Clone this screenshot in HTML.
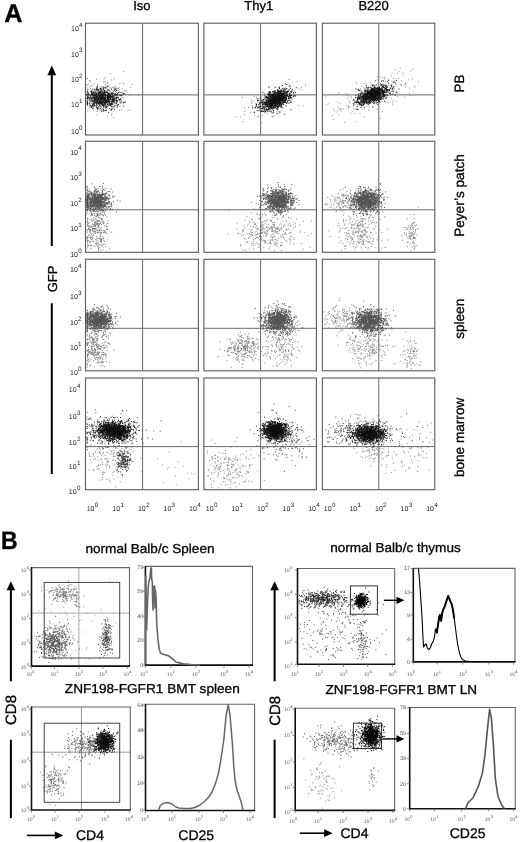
<!DOCTYPE html>
<html><head><meta charset="utf-8"><style>
html,body{margin:0;padding:0;background:#fff;}
svg{display:block;will-change:transform;font-family:"Liberation Sans", sans-serif;text-rendering:geometricPrecision;}
.b{stroke:#000;stroke-width:0.3px;}
</style></head><body>
<svg width="520" height="842" viewBox="0 0 520 842" font-family='"Liberation Sans", sans-serif'>
<rect width="520" height="842" fill="#fff"/>
<path d="M142.6 23.25V135.1M85.5 94.9H198.45" stroke="#606060" stroke-width="0.95"/>
<path d="M260.6 23.25V135.1M203.95 94.9H316.45" stroke="#606060" stroke-width="0.95"/>
<path d="M378.8 23.25V135.1M322.35 94.9H434.8" stroke="#606060" stroke-width="0.95"/>
<path d="M142.6 141.3V252.3M85.5 209.8H198.45" stroke="#606060" stroke-width="0.95"/>
<path d="M260.6 141.3V252.3M203.95 209.8H316.45" stroke="#606060" stroke-width="0.95"/>
<path d="M378.8 141.3V252.3M322.35 209.8H434.8" stroke="#606060" stroke-width="0.95"/>
<path d="M142.6 259.3V370.8M85.5 328.3H198.45" stroke="#606060" stroke-width="0.95"/>
<path d="M260.6 259.3V370.8M203.95 328.3H316.45" stroke="#606060" stroke-width="0.95"/>
<path d="M378.8 259.3V370.8M322.35 328.3H434.8" stroke="#606060" stroke-width="0.95"/>
<path d="M142.6 378.0V489.7M85.5 446.6H198.45" stroke="#606060" stroke-width="0.95"/>
<path d="M260.6 378.0V489.7M203.95 446.6H316.45" stroke="#606060" stroke-width="0.95"/>
<path d="M378.8 378.0V489.7M322.35 446.6H434.8" stroke="#606060" stroke-width="0.95"/>
<path d="M78.9 567.6V666.1M31.5 613.1H129.5" stroke="#aaa" stroke-width="1"/>
<path d="M81.4 707V810M31.5 752.2H130.3" stroke="#999" stroke-width="1"/>
<path d="M123.1 71.6h1m-14.2 1.9h1m-6.2 3.7h1m-19.3 0.8h1m-0.7 0.7h1m15.8 0.3h1m8.9 0.1h1m-18.4 0.2h1m14 0.6h1m-22.8 0.6h1m14.3 1h1m-2.4 0.1h1m-14 0.2h1m16 0.2h1m14.6 1.1h1m-17 0.1h1m11.7 0.1h1m-26.6 0.1h1m28.5 0.5h1m-36.2 0.1h1m15.7 0h1m-19.4 0.3h1m43.9 0.2h1m-35 0.3h1m6.6 0.3h1m-19.3 0.3h1m4.1 0h1m4.2 0.1h1m-7.3 0.6h1m16.1 0h1m6.2 0.1h1m-9.2 0.1h1m-5 0.3h1m2.8 0h1m-6.3 0.3h1m-13.4 0.1h1m10.7 0h1m0.9 0h1m1 0.2h1m0.7 0.1h1m4.7 0h1m0.7 0h1m4 0h1m-14 0.2h1m2.9 0.1h1m19.4 0h1m-44.4 0.3h1m28.2 0h1m-17.5 0.2h1m4.9 0h1m-9.4 0.1h1m5.3 0h1m-1.1 0.1h1m6.8 0h1m4.1 0h1m-26.9 0.2h1m26.7 0h1m-12.1 0.1h1m10.1 0.2h1m-17.5 0.1h1m19.6 0h1m-30.6 0.1h1m8.4 0h1m6 0.3h1m-22.3 0.4h1m4.2 0h1m25.5 0h1m-32 0.1h1m-1.8 0.1h1m16.3 0h1m2.2 0.1h1m-0.7 0h1m15.7 0h1m-12.9 0.2h1m-22.7 0.1h1m2.6 0.2h1m4.7 0.4h1m22.5 0h1m1.8 0.1h1m-35.4 0.1h1m32.5 0.1h1m-24.3 0.1h1m-9.1 0.1h1m3.4 0h1m6.6 0.3h1m-3 0.1h1m4.8 0.1h1m8.3 0.2h1m-33.7 0.1h1m-0.9 0h1m16.7 0h1m10.7 0.1h1m-17.8 0.1h1m22.1 0h1m-29.5 0.1h1m-8.4 0.2h1m31.6 0h1m-12.5 0.1h1m-21.1 0.1h1m10 0h1m5.4 0.1h1m-8.1 0.5h1m23.7 0h1m-22.8 0.2h1m-14.8 0.1h1m12 0.1h1m-4.9 0.2h1m32.2 0h1m-5.4 0.1h1m-31.6 0.1h1m4.2 0h1m-0.3 0h1m12.1 0h1m-10.1 0.2h1m2.7 0.2h1m-22 0.2h1m-1 0h1m12.1 0.1h1m9.1 0h1m-8.3 0.1h1m-6.2 0.1h1m3.1 0h1m6.2 0h1m20.6 0h1m-24.4 0.1h1m7.3 0h1m-14.8 0.1h1m35.5 0h1m-17.7 0.2h1m-24.3 0.1h1m18.6 0h1m-30.1 0.1h1m22.2 0h1m-3.1 0.1h1m-13.2 0.1h1m0.6 0.1h1m7.7 0.1h1m7.8 0h1m-25.9 0.1h1m15.7 0.1h1m-22.4 0.1h1m1.9 0h1m14.8 0h1m-5.5 0.1h1m6.1 0.1h1m-0.4 0h1m-23.3 0.3h1m10.2 0.1h1m18.9 0h1m-15.6 0.1h1m-2.2 0.1h1m4.3 0.1h1m0.3 0h1m12.9 0h1m-20.9 0.1h1m0.3 0h1m8 0h1m-9 0.1h1m0.7 0h1m4.2 0h1m-23.5 0.1h1m13.8 0h1m-2.8 0.3h1m1.3 0h1m8.3 0h1m1.5 0.1h1m2.5 0.3h1m-23.5 0.3h1m19.4 0h1m-6.4 0.2h1m-24.7 0.5h1m15.5 0.3h1m1.8 0h1m-17.4 0.2h1m-1.1 0.1h1m28.1 0h1m-33.2 0.1h1m20.4 0h1m0.8 0.1h1m-22.1 0.1h1m-1 0.1h1m-4.9 0.1h1m19.9 0h1m-4.1 0.2h1m-10 0.4h1m11.5 0.3h1m-21.6 0.2h1m3.3 0h1m21.7 0.1h1m-6.7 0.3h1m15.3 0h1m-30.7 0.2h1m10 0h1m-11.8 0.1h1m8.7 0h1m-2.9 0.1h1m18.5 0h1m-3.3 0.5h1m-17.1 0.1h1m-0.4 0h1m-3.2 0.1h1m16.8 0h1m0 0.1h1m-17.7 0.1h1m10.5 0.1h1m-30.5 0.2h1m0 0.1h1m10.4 0h1m-13.7 0.1h1m11.7 0.1h1m-6 0.1h1m17 0h1m-20.1 0.2h1m11.6 0h1m-19.7 0.4h1m17 0h1m-17 0.2h1m14.3 0.1h1m-0.7 0h1m6 0h1m-18.5 0.1h1m9.7 0h1m10.2 0.3h1m0.7 0h1m-31.5 0.2h1m12 0.4h1m6.8 0.1h1m-8.7 0.3h1m-0.5 0.2h1m17.9 0.1h1m-31.8 0.1h1m6.4 0.1h1m19.6 0.5h1m-16.5 0.1h1m3.6 1.7h1m14.4 0.9h1m5.2 0.1h1m-22.9 0.2h1m22.9 0.1h1m-31.3 0.2h1m1.6 0.1h1m16.4 0h1m-15.2 0.1h1m-19.2 0.3h1m9 0.3h1m13.8 2.4h1m-15.8 1.2h1m13.3 0.1h1m-4.9 2.1h1m5.2 0.1h1" stroke="#888" stroke-width="1" fill="none" opacity="1.0"/>
<path d="M107.5 86.3h1m-11.7 0.2h1m5.7 0.9h1m-8.2 0.2h1m7.4 0.3h1m8.1 0.3h1m-12.1 0.1h1m-3.8 0.2h1m-5.2 0.3h1m-0.3 0.2h1m2.8 0h1m-5 0.1h1m17.4 0h1m-0.7 0.1h1m-22.4 0.1h1m5.6 0h1m-3.7 0.1h1m-0.6 0h1m4 0h1m7.3 0h1m-13.9 0.1h1m3.6 0.1h1m-9.2 0.1h1m11.9 0.2h1m-12.3 0.1h1m-0.4 0.1h1m18.1 0h1m-3 0.1h1m-13.9 0.2h1m2.1 0h1m11.2 0.1h1m-16 0.1h1m-4.2 0.1h1m9.9 0h1m-10.3 0.2h1m5.9 0.1h1m-3.7 0.1h1m-14.6 0.1h1m5.1 0h1m5.1 0h1m-16.4 0.1h1m10.7 0h1m5.6 0h1m8.5 0h1m-25.2 0.1h1m-0.5 0.2h1m7.3 0.1h1m0.6 0.1h1m-7.4 0.1h1m8.2 0h1m8.3 0h1m-21.1 0.1h1m6.3 0.1h1m4 0h1m-2.6 0.1h1m-5.8 0.1h1m1.7 0h1m0.6 0h1m13.8 0h1m-24 0.1h1m24.4 0h1m-28.9 0.1h1m8.7 0h1m2.4 0h1m0.1 0h1m-16.9 0.1h1m6.6 0h1m4.6 0h1m-0.9 0h1m0.8 0h1m-16.1 0.1h1m7.3 0h1m-0.6 0h1m-7.8 0.1h1m3 0h1m0.2 0h1m0.9 0h1m-0.9 0h1m6.2 0h1m3.3 0h1m-0.8 0h1m-19.9 0.1h1m-5.6 0.1h1m9.3 0h1m7.7 0h1m-15.4 0.1h1m6 0h1m0.4 0h1m-6.3 0.1h1m12.3 0h1m1 0h1m-20.7 0.1h1m7 0h1m8.8 0.1h1m-11.9 0.1h1m3.4 0h1m0.7 0h1m7.8 0h1m9.3 0h1m-32.8 0.1h1m3.3 0h1m1.4 0h1m17.6 0h1m-22 0.1h1m10.8 0h1m-21.4 0.1h1m2.9 0h1m2.4 0h1m6.3 0h1m5.2 0h1m2.1 0h1m2.3 0h1m-21.9 0.1h1m6.1 0h1m21 0h1m-30.2 0.1h1m8.4 0h1m-0.2 0h1m-0.9 0h1m2.7 0h1m-0.2 0h1m1.7 0h1m-0.2 0h1m-4.9 0.1h1m-21.1 0.1h1m3.5 0h1m3.6 0h1m5.4 0h1m2.8 0h1m3.1 0h1m2.3 0h1m-14.2 0.1h1m-2.7 0.1h1m-4.1 0.1h1m5 0h1m3.9 0h1m0.9 0h1m12.1 0h1m-37.2 0.1h1m-0.5 0h1m3.1 0h1m7.8 0h1m2.2 0h1m-9.8 0.1h1m0.8 0h1m3.8 0h1m0.6 0h1m13.4 0h1m-28.9 0.1h1m1.9 0h1m5.3 0h1m9.4 0h1m5.2 0h1m0.1 0h1m-21.7 0.1h1m-0.1 0h1m5.2 0h1m-0.5 0h1m-1 0h1m0.4 0h1m-0.6 0h1m-0.8 0h1m-0.7 0h1m10.5 0h1m-29.4 0.1h1m11.1 0h1m-0.5 0h1m-0.3 0h1m-0.8 0h1m2.1 0h1m-0.4 0h1m-0.9 0h1m12.4 0h1m-27.8 0.1h1m2 0h1m-9.6 0.1h1m6.2 0h1m3.7 0h1m1.5 0h1m7.3 0h1m4.6 0h1m5 0h1m-31.1 0.1h1m6.5 0h1m1.4 0h1m0.9 0h1m1.5 0h1m-0.2 0h1m3.3 0h1m9.2 0h1m-28.6 0.1h1m0 0h1m-0.6 0h1m4 0h1m-0.8 0h1m9.5 0h1m-17.4 0.1h1m2 0h1m0.8 0h1m-5.4 0.1h1m4.2 0h1m-0.9 0h1m1.3 0h1m4.9 0h1m-0.4 0h1m-3.8 0.1h1m0.4 0h1m2.8 0h1m-16.7 0.1h1m-0.1 0h1m0 0h1m3.9 0h1m-0.3 0h1m-0.5 0h1m1.2 0h1m7 0h1m7.1 0h1m-31.7 0.1h1m8.1 0h1m9.1 0h1m6.1 0h1m-18.3 0.1h1m3.4 0h1m2.9 0h1m1.3 0h1m-0.9 0h1m1.4 0h1m0.4 0h1m-0.2 0h1m-20.7 0.1h1m7 0h1m1.1 0h1m5.7 0h1m-16 0.1h1m-0.1 0h1m4.1 0h1m4.5 0h1m0.5 0.1h1m1.5 0h1m-17.5 0.1h1m2.5 0h1m4.7 0h1m1.2 0h1m-0.9 0h1m-0.8 0h1m-7.9 0.1h1m0.9 0h1m1.9 0h1m3.8 0h1m-0.7 0h1m-18.2 0.1h1m2.6 0h1m-0.4 0h1m0.5 0h1m0.6 0h1m0.4 0h1m5.6 0h1m-10.1 0.1h1m-0.8 0h1m2.3 0h1m4.4 0h1m0.8 0h1m-14.9 0.1h1m-0.1 0h1m10.7 0h1m1.7 0h1m-0.8 0h1m-0.8 0h1m0.3 0h1m-26.2 0.1h1m4.4 0h1m2.4 0h1m5.3 0h1m-0.7 0h1m6.1 0h1m-11.6 0.1h1m-13.6 0.1h1m2.3 0h1m5.3 0h1m2.7 0h1m10.1 0h1m-20.8 0.1h1m1.3 0h1m0 0h1m12 0h1m1.2 0h1m-24.1 0.1h1m5.2 0h1m-0.4 0h1m2.9 0h1m5.7 0h1m2.2 0h1m0.2 0h1m-0.9 0h1m-21.5 0.1h1m6.4 0h1m5.1 0h1m3.8 0h1m0.1 0h1m0.4 0h1m-14.5 0.1h1m-0.3 0h1m2.8 0h1m7.2 0h1m1 0h1m4.2 0h1m-0.2 0h1m-0.2 0h1m-22 0.1h1m1.5 0h1m1.2 0h1m2.4 0h1m3.1 0h1m-21.4 0.1h1m-0.8 0h1m18.7 0h1m5.5 0h1m-24.8 0.1h1m1.4 0h1m4.7 0h1m1 0h1m10.5 0h1m-19 0.1h1m2 0h1m0.2 0h1m4.7 0h1m-0.2 0h1m-0.8 0h1m0.5 0h1m-0.2 0h1m-16.5 0.1h1m3.3 0h1m2.5 0h1m1.4 0h1m1 0h1m13 0h1m-27.1 0.1h1m5.7 0h1m1.4 0h1m-15.4 0.1h1m4.6 0h1m1.7 0h1m0.2 0h1m4.4 0h1m-0.7 0h1m-0.4 0h1m-0.4 0h1m2.5 0h1m-17.4 0.1h1m3.1 0h1m2.1 0h1m1.5 0h1m0 0h1m0.8 0h1m0.5 0h1m7.8 0h1m-24.3 0.1h1m10.2 0h1m-0.4 0h1m4.7 0h1m1.9 0h1m-24.6 0.1h1m-0.5 0h1m2.6 0h1m2.9 0h1m1.9 0h1m2.2 0h1m0.7 0h1m-0.3 0h1m0.9 0h1m1.5 0h1m-0.9 0h1m7.3 0h1m-19.2 0.1h1m-0.2 0h1m5.1 0h1m4.3 0h1m-1 0h1m1.1 0h1m-23.9 0.1h1m5.2 0h1m0.5 0h1m2.3 0h1m-0.1 0h1m-0.4 0h1m4.8 0h1m-0.5 0h1m5.8 0h1m4.5 0h1m-23.2 0.1h1m-0.7 0h1m9.4 0h1m-15.9 0.1h1m-0.8 0h1m2.8 0h1m-0.7 0h1m14.2 0h1m-0.6 0h1m-0.3 0h1m-28.5 0.1h1m5.3 0h1m6.3 0h1m-0.2 0h1m-0.8 0h1m2 0h1m4.2 0h1m-21.4 0.1h1m6.2 0h1m5.4 0h1m-0.5 0h1m2.9 0h1m2.1 0h1m-8.9 0.1h1m2.8 0h1m-0.2 0h1m4.6 0h1m-19.4 0.1h1m2.6 0h1m-0.8 0h1m0.5 0h1m2.6 0h1m0.6 0h1m14.4 0h1m-21.5 0.1h1m0 0h1m-0.2 0h1m9.1 0h1m-16.6 0.1h1m-0.4 0h1m2.2 0h1m-0.5 0h1m0.4 0h1m-0.6 0h1m1.1 0h1m-0.8 0h1m-0.5 0h1m2 0h1m-12.9 0.1h1m13.9 0h1m0.5 0h1m5.5 0h1m-25 0.1h1m0.7 0h1m2.6 0h1m-0.4 0h1m2.5 0h1m2.8 0h1m0.8 0h1m2.6 0h1m-20.8 0.1h1m8 0h1m-12.6 0.1h1m2 0h1m2.8 0h1m1 0h1m6.3 0h1m7.8 0h1m2.2 0h1m-24.2 0.1h1m-1 0h1m0.6 0h1m0.7 0h1m2.8 0h1m-0.2 0h1m0.8 0h1m0.6 0h1m0 0h1m4.3 0h1m3.9 0h1m-27.8 0.1h1m2.4 0h1m12.1 0h1m-14.7 0.1h1m-1 0h1m9.3 0h1m7.8 0h1m-0.8 0h1m-20.1 0.1h1m3.6 0h1m4 0h1m2.6 0h1m5.5 0h1m0.3 0h1m-18.2 0.1h1m4.9 0h1m-0.7 0h1m1.1 0h1m4.7 0h1m3.7 0h1m-21.3 0.1h1m1.2 0h1m1.2 0h1m9.8 0h1m2.3 0h1m-23.9 0.1h1m3.3 0h1m2.2 0h1m7.3 0h1m-22.5 0.1h1m4.5 0h1m3.5 0h1m1.3 0h1m5.2 0h1m-16.8 0.1h1m9.7 0h1m2.3 0h1m0.4 0h1m-0.8 0h1m-0.1 0h1m-7.5 0.1h1m2.5 0h1m-0.8 0h1m-0.3 0h1m7 0h1m0.3 0h1m-21.9 0.1h1m1.3 0h1m3.3 0h1m2.9 0h1m8.8 0h1m-13.4 0.1h1m5.3 0h1m1.7 0h1m-13.7 0.1h1m1.2 0h1m2.1 0h1m-0.5 0h1m2.9 0h1m0.5 0h1m5.4 0h1m1.3 0h1m3.5 0h1m-22.7 0.1h1m2.1 0h1m1.6 0h1m4.4 0h1m-16.8 0.1h1m1.2 0h1m-0.3 0h1m1.7 0h1m5.7 0h1m4.3 0h1m-11.8 0.1h1m4.4 0h1m0.7 0h1m-0.5 0h1m-15.7 0.1h1m6.1 0h1m-0.8 0h1m3.6 0h1m-0.8 0h1m4.3 0h1m-0.7 0h1m-23.3 0.1h1m11.3 0h1m2.8 0h1m0.6 0h1m-15.6 0.1h1m3.2 0h1m-0.7 0h1m3.2 0h1m2.4 0h1m11.1 0h1m-31.4 0.1h1m4 0h1m0.2 0h1m2 0h1m8.9 0h1m9.4 0h1m-12.2 0.1h1m7.1 0h1m-20.2 0.1h1m14.5 0h1m9.3 0h1m-24.2 0.1h1m2.7 0h1m4.3 0h1m2.5 0h1m1.4 0h1m-0.9 0h1m0.3 0h1m10 0h1m0 0h1m-27 0.1h1m4.6 0h1m0.5 0h1m-19.8 0.1h1m6.6 0h1m2.6 0h1m-1 0h1m0 0h1m-0.4 0h1m4.7 0h1m-8 0.1h1m0.3 0h1m0.8 0h1m0.9 0h1m-17.4 0.1h1m8.4 0h1m-0.5 0h1m1.4 0h1m7 0h1m0.6 0h1m-12.1 0.1h1m1.8 0h1m1.9 0.1h1m9.7 0h1m0.5 0h1m6.5 0h1m-28.7 0.1h1m5.3 0h1m0.4 0h1m-15.2 0.1h1m6.5 0h1m2.1 0h1m1.2 0h1m0.9 0h1m-0.5 0h1m1.9 0h1m-0.3 0h1m-12.2 0.1h1m2.7 0h1m-6.9 0.1h1m2.6 0h1m0.1 0h1m1.4 0h1m-8.8 0.1h1m-0.7 0h1m16.4 0h1m-18.8 0.1h1m7.1 0h1m-4.3 0.1h1m16.3 0h1m-29.8 0.1h1m5.4 0h1m1.5 0h1m4.4 0h1m-0.8 0h1m2.3 0h1m4.1 0h1m-0.3 0h1m-20.1 0.1h1m0.3 0h1m5.9 0h1m0 0h1m3.1 0h1m-0.2 0h1m-4.8 0.1h1m6.7 0h1m-6.6 0.1h1m-15.5 0.1h1m5.8 0h1m0.7 0h1m-0.2 0h1m11.8 0h1m0.1 0h1m-17.2 0.1h1m3 0h1m3.2 0h1m5.9 0h1m-13.7 0.1h1m8.9 0h1m-0.6 0h1m-2.9 0.1h1m3.6 0h1m5.5 0h1m-17.6 0.1h1m-0.5 0h1m7.9 0h1m-8.9 0.1h1m5.8 0h1m-24.1 0.1h1m17.3 0h1m3.6 0h1m-17.5 0.1h1m7.3 0h1m4.7 0h1m-1 0.1h1m9.2 0h1m-26 0.1h1m-1.4 0.1h1m1.1 0h1m14.4 0h1m-14.2 0.2h1m19.3 0h1m-16 0.1h1m0.1 0h1m6.4 0h1m-20.9 0.1h1m12.4 0h1m9.8 0h1m-23.3 0.1h1m1.5 0h1m1 0h1m1.6 0.1h1m-10.3 0.1h1m2.4 0h1m14.1 0h1m-6.1 0.1h1m1.9 0h1m3.3 0h1m-20.2 0.2h1m10.5 0h1m-9.7 0.1h1m7.9 0h1m0.5 0h1m17.7 0h1m-10.5 0.1h1m-11.8 0.1h1m-12.8 0.1h1m0.2 0h1m5.1 0.1h1m12 0.1h1m4.4 0.1h1m-6.3 0.1h1m-5.7 0.1h1m-11.9 0.1h1m6.3 0h1m0.8 0h1m0.1 0h1m6.3 0.1h1m-24.7 0.2h1m0.2 0.1h1m14 0h1m-10.4 0.3h1m-0.3 0.2h1m-1.1 0.1h1m6.6 0h1m-12.8 0.1h1m4.7 0h1m0.4 0h1m-4.4 0.1h1m-5.6 0.2h1m15.9 0h1m1.7 0.1h1m-14.8 0.3h1m2.8 0.1h1m-5.5 0.2h1m4.8 0h1m9.9 0.2h1m-3.7 0.1h1m-9.1 0.6h1m6.4 0h1m-10.7 0.2h1m8.8 0h1m-7.1 0.1h1m0.4 0.3h1m-3.6 0.6h1m-2.9 0.5h1m5.8 0.7h1" stroke="#1a1a1a" stroke-width="1" fill="none" opacity="1.0"/>
<path d="M288.7 79.5h1m7 1.7h1m-6 1.4h1m-5 0.5h1m16.3 1.8h1m-36.8 1.6h1m3.3 0.2h1m4.7 0.1h1m21 0.8h1m-4.1 0.6h1m-13 0.9h1m13 0.5h1m-12.1 0.2h1m-7.7 0.3h1m-0.1 0.7h1m7.3 0.1h1m-17.9 0.3h1m17.9 0h1m-14.7 0.2h1m-6.4 0.4h1m-0.3 0.5h1m12.5 0.4h1m-17.2 0.1h1m5.4 0.2h1m-10 0.2h1m-6.5 0.1h1m-1.6 0.7h1m6 0h1m-0.4 0h1m10.2 0.2h1m2.4 0.1h1m-20.2 0.1h1m11.4 0h1m11.3 0h1m-1.4 0.3h1m-23.6 0.2h1m7.4 0h1m17.1 0.1h1m-21.5 0.1h1m5.6 0h1m-11.2 0.1h1m12.9 0h1m-14.8 0.1h1m0.4 0h1m3.5 0h1m9.6 0.1h1m5.6 0.1h1m-18 0.1h1m6.1 0.4h1m-5.3 0.2h1m-20.3 0.1h1m11 0h1m4.7 0.1h1m-25.6 0.1h1m16 0h1m-0.5 0.3h1m16.2 0h1m-24.9 0.4h1m8.2 0h1m5.2 0h1m4.8 0h1m-30.8 0.1h1m11.7 0h1m-27.7 0.1h1m35.4 0h1m0.6 0.1h1m10.4 0h1m-20.2 0.1h1m7.6 0h1m-14.7 0.3h1m-0.9 0h1m10 0.1h1m-21.2 0.1h1m2.5 0h1m4.4 0h1m23.9 0.1h1m-13.6 0.1h1m-10.7 0.2h1m-4.6 0.1h1m18.1 0h1m-8.4 0.1h1m1.2 0h1m-8.8 0.1h1m-3 0.1h1m6.9 0h1m-3.6 0.2h1m-17.7 0.1h1m12.2 0h1m0 0.1h1m18.1 0.2h1m-22 0.2h1m9.4 0.1h1m4 0h1m-36.4 0.4h1m18.7 0.1h1m6.7 0.3h1m10.3 0.1h1m-0.7 0h1m-33.6 0.2h1m14.4 0.1h1m2 0h1m-2.1 0.3h1m-22.1 0.1h1m13.4 0h1m3.2 0h1m-0.6 0.3h1m10.5 0.3h1m-12.4 0.2h1m6.5 0h1m-30.1 0.1h1m39.4 0.1h1m-18.5 0.1h1m-0.4 0.1h1m-2.8 0.1h1m-16.1 0.2h1m7.3 0h1m16.3 0.1h1m-14.5 0.1h1m6.9 0h1m-26.8 0.1h1m22.1 0h1m1.6 0h1m-14.6 0.2h1m0 0.1h1m8.4 0h1m6.6 0.1h1m-27.8 0.3h1m-0.1 0h1m3.4 0h1m21.4 0h1m-20.4 0.1h1m-2.2 0.6h1m18 0.1h1m-7.8 0.3h1m-15.1 0.2h1m8.8 0h1m-19.2 0.4h1m45.1 0h1m-24.9 0.1h1m-6.7 0.1h1m-8.7 0.2h1m41.3 0h1m-31.1 0.2h1m1.6 0h1m-18.6 0.4h1m-0.6 0.1h1m9 0.2h1m11 0h1m-7.8 0.1h1m-3.3 0.1h1m-18.5 0.2h1m20.3 0h1m-6.1 0.1h1m-22.6 0.1h1m9.9 0.4h1m13.8 0h1m-30.6 0.1h1m19.2 0.3h1m7.4 0.1h1m0 0h1m7.6 0h1m-19.4 0.3h1m-11.2 0.1h1m4.4 0h1m10.5 0.6h1m-6.8 0.5h1m-7 0.1h1m21.5 0.2h1m-9.6 0.2h1m-15.9 0.3h1m10.9 0.6h1m-26.4 0.2h1m31.1 0.2h1m-15.9 0.1h1m1.4 0.3h1m14.9 0h1m-31.1 0.1h1m1.7 0h1m16.9 0.3h1m1 0h1m-9.6 0.4h1m1.7 0.3h1m4.2 0h1m5.8 0.5h1m4.5 0.2h1m-0.9 0.6h1m-41.3 0.2h1m9.5 0.5h1m6.5 0.6h1m-5.1 0.4h1m13 0.2h1m0.7 0h1m-2.6 0.2h1m-37.1 0.1h1m3.5 0.2h1m15.9 0.2h1m2 4.2h1m-18.6 0.3h1m17.5 1.2h1" stroke="#888" stroke-width="1" fill="none" opacity="1.0"/>
<path d="M284.9 83.8h1m0.4 0.7h1m1.5 0.9h1m-8 0.2h1m7 0.8h1m-12.4 0.8h1m-11 0.1h1m5.5 0.3h1m19.8 0.1h1m-17.6 0.4h1m4.7 0h1m-3.9 0.2h1m7.3 0h1m-4.9 0.2h1m-8.6 0.2h1m4.3 0.2h1m-2.4 0.1h1m8.1 0.3h1m-9 0.3h1m-7.1 0.2h1m6.6 0h1m2.2 0.1h1m-12.5 0.2h1m3 0h1m-2 0.1h1m2.3 0.2h1m-3.2 0.2h1m-3.5 0.1h1m0.9 0h1m-7.3 0.2h1m1.9 0h1m6.1 0h1m-9.9 0.1h1m11.2 0h1m3.2 0.1h1m-15.3 0.1h1m4.5 0h1m-11.4 0.1h1m4.1 0h1m-0.5 0h1m-1.6 0.1h1m1.1 0h1m5.3 0h1m0.9 0h1m-19.9 0.1h1m9.4 0h1m4.4 0h1m1.2 0h1m-0.7 0h1m-0.7 0h1m-15 0.1h1m11.6 0h1m-0.6 0h1m-15.1 0.1h1m-0.1 0h1m7.1 0h1m0.6 0.1h1m3 0h1m2.6 0h1m-21.8 0.1h1m3.7 0h1m4.2 0h1m1.2 0h1m7.4 0h1m-11.9 0.1h1m0.2 0h1m1 0h1m-4.2 0.1h1m3.2 0h1m-0.7 0h1m1.9 0.1h1m3.2 0h1m-29.5 0.1h1m11.1 0h1m4.5 0h1m-11.1 0.2h1m5.6 0h1m2.7 0h1m13.8 0h1m-19.5 0.1h1m7.8 0h1m0.8 0h1m-13.6 0.1h1m3.7 0h1m5.8 0h1m-18.2 0.2h1m-0.8 0h1m7.9 0h1m14 0h1m-15.3 0.1h1m3.8 0h1m-16.6 0.1h1m8.7 0h1m-0.6 0h1m2.5 0h1m2.3 0h1m7.6 0h1m-17.6 0.1h1m2.4 0h1m-0.7 0h1m-8.8 0.1h1m3.2 0h1m0.5 0h1m1.1 0h1m4 0h1m-7.6 0.1h1m-0.7 0h1m6.1 0h1m-17.8 0.1h1m12.5 0h1m-1.9 0.1h1m2.6 0h1m3 0h1m-16.1 0.1h1m0.6 0h1m3.2 0h1m-0.5 0h1m-6.3 0.1h1m1.6 0h1m1.3 0h1m7.7 0h1m-16.3 0.1h1m-0.7 0h1m0.3 0h1m1.5 0h1m5.2 0h1m-5.2 0.1h1m-7.9 0.1h1m2.6 0h1m1.1 0h1m0.6 0h1m3 0h1m1.2 0h1m-17.9 0.1h1m3.8 0h1m8 0h1m-11.2 0.1h1m1.2 0h1m1.6 0h1m2.5 0h1m-0.6 0h1m-0.5 0h1m-0.5 0h1m-16.5 0.1h1m10 0h1m-11.4 0.1h1m1.4 0h1m1.1 0h1m9.6 0h1m2.9 0h1m-18.7 0.1h1m1.8 0h1m7.8 0h1m0.5 0h1m5.3 0h1m-21.9 0.1h1m8.3 0h1m-0.4 0h1m-0.4 0h1m-0.7 0h1m-8.6 0.1h1m3.1 0h1m-0.3 0h1m-0.9 0h1m4 0h1m2.2 0h1m2.1 0h1m-19.5 0.1h1m2.4 0h1m-0.9 0h1m6.4 0h1m-9.1 0.1h1m3.1 0h1m3.8 0h1m-0.6 0h1m0.7 0h1m3.5 0h1m-12.8 0.1h1m0.7 0h1m-0.1 0h1m0 0h1m-0.4 0h1m-0.9 0h1m1.1 0h1m0.8 0h1m-16.1 0.1h1m14.6 0h1m4.4 0h1m-20.2 0.1h1m-0.4 0h1m0.9 0h1m1.2 0h1m1.3 0h1m-0.5 0h1m2.8 0h1m-0.3 0h1m-0.9 0h1m1.8 0h1m-13.4 0.1h1m-1 0h1m-0.4 0h1m2.7 0h1m3 0h1m-0.7 0h1m7.3 0h1m0.4 0h1m2.6 0h1m-21.9 0.1h1m3.4 0h1m6.9 0h1m2.1 0h1m-21.4 0.1h1m3.7 0h1m-3.6 0.1h1m6.6 0h1m-0.7 0h1m0.7 0h1m3 0h1m1.4 0h1m-12.2 0.1h1m3.2 0h1m-0.7 0h1m1.6 0h1m6.6 0h1m1.4 0h1m-29.4 0.1h1m7.1 0h1m0.1 0h1m2.4 0h1m2.4 0h1m3.6 0h1m-0.2 0h1m-13.5 0.1h1m-0.2 0h1m0 0h1m-0.9 0h1m1.6 0h1m11.4 0h1m-17 0.1h1m-0.2 0h1m11 0h1m-11.8 0.1h1m-9 0.1h1m5.2 0h1m1.9 0h1m2.3 0h1m0.6 0h1m0.6 0h1m-0.5 0h1m4.3 0h1m4.1 0h1m-29.4 0.1h1m2.7 0h1m1.7 0h1m0.5 0h1m3.7 0h1m-0.7 0h1m2.8 0h1m1.8 0h1m-17.1 0.1h1m17.2 0h1m-23.1 0.1h1m9.1 0h1m1 0h1m2 0h1m0.9 0h1m9.3 0h1m-14.3 0.1h1m0.4 0h1m0.6 0h1m-13.8 0.1h1m1.5 0h1m1.3 0h1m1 0h1m2.9 0h1m-7.4 0.1h1m0.6 0h1m1.3 0h1m6.2 0h1m3.5 0h1m-20 0.1h1m1.4 0h1m-0.4 0h1m-0.7 0h1m2.6 0h1m-0.6 0h1m2.4 0h1m2.8 0h1m-19.6 0.1h1m0.3 0h1m1.6 0h1m-0.6 0h1m2.4 0h1m2.2 0h1m2 0h1m7.5 0h1m-24.9 0.1h1m1.4 0h1m4.3 0h1m1.5 0h1m0.9 0h1m-1 0h1m0.6 0h1m0.4 0h1m-0.5 0h1m0.6 0h1m0.5 0h1m-0.7 0h1m-15.5 0.1h1m0 0h1m0.3 0h1m2.1 0h1m3.1 0h1m-0.7 0h1m0.6 0h1m0.6 0h1m-17.6 0.1h1m2.6 0h1m-0.1 0h1m6.4 0h1m3.9 0h1m-12.7 0.1h1m1.5 0h1m-0.6 0h1m5 0h1m3.6 0h1m4.2 0h1m-0.1 0h1m-26.4 0.1h1m8.1 0h1m-0.6 0h1m0.4 0h1m1.9 0h1m-1 0h1m0.1 0h1m6.9 0h1m-18.9 0.1h1m-0.9 0h1m0.4 0h1m-0.8 0h1m5 0h1m-11.6 0.1h1m13.5 0h1m2.3 0h1m-0.1 0h1m-17.3 0.1h1m3.1 0h1m2.1 0h1m1.5 0h1m-0.1 0h1m-0.8 0h1m0.9 0h1m-0.5 0h1m-17.8 0.1h1m0.5 0h1m1.9 0h1m10.9 0h1m-0.7 0h1m-23.9 0.1h1m11.7 0h1m2.1 0h1m0.6 0h1m0.5 0h1m0.8 0h1m3 0h1m4.7 0h1m-0.6 0h1m-17.2 0.1h1m0.7 0h1m1.7 0h1m-0.6 0h1m-0.9 0h1m4.2 0h1m-12.4 0.1h1m7.3 0h1m3.6 0h1m-13.2 0.1h1m-0.8 0h1m8.9 0h1m-8.2 0.1h1m-8.3 0.1h1m-0.7 0h1m2.1 0h1m-0.2 0h1m0.6 0h1m4.9 0h1m1.6 0h1m1.6 0h1m0.7 0h1m-0.5 0h1m-22.4 0.1h1m-0.6 0h1m5.6 0h1m1.6 0h1m0.6 0h1m-0.3 0h1m2.9 0h1m2.1 0h1m-30.5 0.1h1m9.9 0h1m5.2 0h1m3 0h1m1.4 0h1m0.1 0h1m-0.4 0h1m-18.6 0.1h1m2.9 0h1m4.2 0h1m0.4 0h1m-0.4 0h1m0.2 0h1m0.3 0h1m-0.3 0h1m0.7 0h1m3.4 0h1m-14.3 0.1h1m0.7 0h1m4.2 0h1m0.6 0h1m0.2 0h1m-0.8 0h1m0.8 0h1m4.7 0h1m-19.5 0.1h1m0.2 0h1m-0.7 0h1m2.5 0h1m2 0h1m0 0h1m-0.3 0h1m0.1 0h1m-0.4 0h1m0.3 0h1m-14.7 0.1h1m2.1 0h1m2.3 0h1m-1 0h1m0 0h1m1.1 0h1m0.2 0h1m-0.1 0h1m-0.6 0h1m-14.4 0.1h1m0.8 0h1m-0.8 0h1m1.3 0h1m-1 0h1m0.6 0h1m3.2 0h1m-0.7 0h1m-7.6 0.1h1m4.6 0h1m4.4 0h1m-20.4 0.1h1m8.9 0h1m4.2 0h1m-0.5 0h1m1.6 0h1m-16.9 0.1h1m6.8 0h1m0.4 0h1m0.2 0h1m-0.6 0h1m3.1 0h1m3.6 0h1m-15.9 0.1h1m1.9 0h1m1.7 0h1m-0.5 0h1m4 0h1m-0.3 0h1m-12.7 0.1h1m-0.2 0h1m1.5 0h1m3.5 0h1m0.3 0h1m1.8 0h1m2.9 0h1m-24.5 0.1h1m-0.2 0h1m7.9 0h1m-0.7 0h1m5.1 0h1m4.9 0h1m-11.3 0.1h1m-0.5 0h1m3.3 0h1m0.1 0h1m-14.4 0.1h1m2.2 0h1m-0.5 0h1m-0.1 0h1m1.6 0h1m-0.2 0h1m-0.3 0h1m-0.9 0h1m-0.7 0h1m0.9 0h1m0.8 0h1m1.5 0h1m1.3 0h1m-24.3 0.1h1m9.6 0h1m-0.5 0h1m1.4 0h1m0.7 0h1m1.3 0h1m1 0h1m-1 0h1m1.2 0h1m1.4 0h1m-28.9 0.1h1m11 0h1m-0.4 0h1m1.4 0h1m0.7 0h1m5 0h1m0.3 0h1m0.2 0h1m0.4 0h1m-12.6 0.1h1m-0.5 0h1m5.5 0h1m-14.5 0.1h1m-0.7 0h1m0.8 0h1m-0.5 0h1m-0.8 0h1m2.1 0h1m-0.7 0h1m-0.4 0h1m1.8 0h1m-0.1 0h1m-0.3 0h1m5 0h1m0.1 0h1m2.5 0h1m-15.8 0.1h1m2.8 0h1m-0.6 0h1m-0.8 0h1m0.2 0h1m-0.1 0h1m5.2 0h1m-28.9 0.1h1m11.6 0h1m-0.6 0h1m1.2 0h1m-0.3 0h1m0 0h1m4 0h1m-0.9 0h1m-0.6 0h1m2.1 0h1m0.9 0h1m2.4 0h1m-30.9 0.1h1m13.8 0h1m-0.2 0h1m2.8 0h1m6.3 0h1m-24.8 0.1h1m4 0h1m1.1 0h1m2.3 0h1m0.4 0h1m0.5 0h1m0 0h1m2.7 0h1m-17 0.1h1m3.3 0h1m-0.4 0h1m0.1 0h1m0.5 0h1m1.1 0h1m0.5 0h1m-1 0h1m1.1 0h1m-0.7 0h1m-9.8 0.1h1m-0.3 0h1m1.5 0h1m1.9 0h1m-0.7 0h1m0.7 0h1m0 0h1m-0.6 0h1m0.7 0h1m3.2 0h1m-15.3 0.1h1m1 0h1m-0.3 0h1m8.5 0h1m3 0h1m4.3 0h1m-20.7 0.1h1m1.2 0h1m0.3 0h1m-0.8 0h1m0.8 0h1m2.4 0h1m-19 0.1h1m3.7 0h1m0.5 0h1m4.7 0h1m2.5 0h1m1.2 0h1m3.5 0h1m-18.4 0.1h1m1.8 0h1m-0.6 0h1m-4.2 0.1h1m1.4 0h1m-0.2 0h1m-0.6 0h1m-0.6 0h1m6 0h1m0.2 0h1m2.5 0h1m-14.9 0.1h1m4.5 0h1m3.2 0h1m-11 0.1h1m0.7 0h1m0.8 0h1m-0.8 0h1m0 0h1m13.4 0h1m-21.3 0.1h1m1.9 0h1m3 0h1m0.1 0h1m0.4 0h1m-14.6 0.1h1m2.2 0h1m6 0h1m0.4 0h1m4.8 0h1m1.9 0h1m-19.8 0.1h1m-0.6 0h1m1.1 0h1m7.6 0h1m-0.2 0h1m1.6 0h1m0.8 0h1m-14.7 0.1h1m2.5 0h1m2.3 0h1m-0.2 0h1m4.1 0h1m-13.1 0.1h1m3.1 0h1m2 0h1m1.1 0h1m0.5 0h1m1.5 0h1m-8.5 0.1h1m3.6 0h1m-0.6 0h1m6.1 0h1m-20.8 0.1h1m-0.9 0h1m0.4 0h1m7 0h1m2.1 0h1m-0.7 0h1m0.2 0h1m-0.9 0h1m1.1 0h1m0.4 0h1m0.1 0h1m4.7 0h1m-29.7 0.1h1m0 0h1m0.7 0h1m0.7 0h1m3.2 0h1m0.2 0h1m1.7 0h1m-0.9 0h1m-6.6 0.1h1m2 0h1m0.8 0h1m-0.7 0h1m-0.7 0h1m0.8 0h1m10.5 0h1m-23 0.1h1m4.2 0h1m1.9 0h1m3.7 0h1m0.7 0h1m1 0h1m-20.4 0.1h1m-0.1 0h1m2.4 0h1m4.6 0h1m-0.9 0h1m-0.3 0h1m3.9 0h1m0.1 0h1m-0.5 0h1m-20.8 0.1h1m-0.2 0h1m3.8 0h1m7.5 0h1m2.7 0h1m-0.2 0h1m-12.8 0.1h1m2.5 0h1m0 0h1m0.2 0h1m1.2 0h1m-1 0h1m-0.5 0h1m1.5 0h1m-1 0h1m0.8 0h1m-10.2 0.1h1m-0.9 0h1m-0.9 0h1m6.2 0h1m-0.6 0h1m-10.9 0.1h1m1.6 0h1m0.5 0h1m0.7 0h1m-1 0h1m1.2 0h1m12 0h1m-29.7 0.1h1m5.2 0h1m7 0h1m5.1 0h1m5 0h1m-15 0.1h1m-0.3 0h1m2.3 0h1m1.4 0h1m0.4 0h1m-17.1 0.1h1m10.6 0h1m5.3 0h1m-15.1 0.1h1m-0.2 0h1m0.6 0.1h1m0.4 0h1m-0.4 0h1m2.1 0h1m1.6 0h1m-8.9 0.1h1m0 0h1m0.4 0h1m0.2 0h1m2 0h1m-12 0.1h1m2.2 0h1m4.9 0h1m0.4 0h1m-10.9 0.1h1m0.6 0h1m-0.8 0h1m0.2 0h1m-0.4 0h1m1 0h1m0.6 0h1m2.9 0h1m3.1 0h1m-23.5 0.1h1m2.7 0h1m-0.3 0h1m2.3 0h1m0.3 0h1m6.9 0h1m2.6 0h1m-0.1 0h1m1.4 0h1m-24.9 0.1h1m5.7 0h1m5.1 0h1m-0.2 0h1m-6.2 0.1h1m2 0h1m1.3 0h1m5.4 0h1m3.6 0h1m-28.2 0.1h1m6.7 0h1m4.2 0h1m0.6 0h1m-0.5 0h1m2.7 0h1m3.3 0h1m-14.1 0.1h1m3.9 0h1m0.2 0h1m2.8 0h1m-11.4 0.1h1m0.2 0h1m9.3 0h1m-12.3 0.1h1m-4.6 0.1h1m7.4 0h1m6.6 0h1m1.8 0h1m-10.5 0.1h1m-0.1 0h1m0.9 0h1m1.8 0h1m-13.2 0.1h1m-0.3 0h1m2.7 0h1m-0.1 0h1m-0.9 0h1m-0.4 0.1h1m9.2 0h1m-13.6 0.1h1m-0.2 0h1m1 0h1m2.5 0h1m4.3 0h1m-8.8 0.1h1m0.6 0.1h1m-5 0.1h1m-1 0h1m-0.1 0h1m-0.5 0h1m-0.8 0h1m3.7 0h1m2 0h1m-13 0.1h1m0.8 0h1m5.5 0h1m-4.7 0.1h1m0 0h1m-0.1 0h1m11 0h1m-30.6 0.1h1m5.3 0h1m7.9 0h1m4.1 0h1m-0.4 0h1m3 0h1m-17.4 0.1h1m3.6 0h1m-9.8 0.1h1m14 0h1m2.1 0h1m-0.7 0h1m-24 0.1h1m2.4 0h1m6.9 0h1m7.4 0h1m0.9 0h1m-12.2 0.1h1m1.4 0h1m1.7 0h1m0.5 0h1m-6.4 0.1h1m9.4 0h1m-7.3 0.1h1m-12.1 0.1h1m1.3 0h1m5.2 0h1m0.1 0h1m-0.8 0h1m-0.3 0h1m2.4 0.1h1m3 0h1m-10.2 0.1h1m2.9 0h1m2.7 0h1m3.5 0h1m-18.9 0.1h1m2.9 0h1m0.4 0h1m-4.9 0.1h1m4.4 0.1h1m10.7 0h1m-17.4 0.1h1m-0.9 0h1m7.3 0h1m0.4 0h1m3.8 0h1m-2.9 0.1h1m-21.3 0.1h1m11.2 0h1m5.8 0h1m-22.6 0.1h1m16.9 0h1m-10.7 0.1h1m12.8 0h1m-19.4 0.1h1m3.9 0h1m6.4 0h1m-0.2 0h1m-15.7 0.1h1m10.2 0h1m-17.2 0.1h1m18.7 0h1m-4.3 0.1h1m4.9 0h1m-13.6 0.2h1m-0.9 0h1m7.5 0.2h1m0 0h1m0.7 0h1m-12.2 0.1h1m-2 0.1h1m7.3 0.2h1m6 0h1m-0.5 0h1m-14.2 0.1h1m3.5 0h1m-6.6 0.1h1m2.4 0h1m2.7 0h1m1.5 0.1h1m4.5 0h1m-14.3 0.1h1m11.6 0h1m-11.6 0.1h1m-0.8 0h1m-0.1 0.1h1m-0.2 0.2h1m-2.1 0.3h1m22.6 0h1m-27.4 0.1h1m4.4 0.3h1m2.5 0h1m-17.4 0.2h1m8.8 0h1m5.6 0.4h1m-12.9 0.2h1m2.6 0h1m-6.1 0.1h1m1.5 0h1m5.4 0h1m-8.5 0.1h1m0.9 0h1m-0.5 0h1m0.6 0.3h1m-1 0h1m0.8 0h1m2.9 0h1m7.1 0.4h1m-25.8 0.3h1m18.1 0.1h1m2.3 1.2h1" stroke="#111" stroke-width="1" fill="none" opacity="1.0"/>
<path d="M399.8 68.4h1m11.5 0.8h1m-18.3 0.7h1m13.9 1.1h1m-12.5 0.7h1m3 1.1h1m-11.8 0.3h1m4.6 0.3h1m4.1 1.2h1m-12.7 1h1m-8.2 1.2h1m-7.6 0.1h1m1.9 0.2h1m3.4 0.4h1m-3.1 0.7h1m9.8 0.1h1m4.2 0h1m-2.8 0.3h1m-13.2 0.2h1m27 0.1h1m-35.4 0.9h1m29.5 0.1h1m-32.5 0.2h1m4.4 0.4h1m17.6 0.4h1m-10.1 0.6h1m25.4 0.3h1m-63.1 0.3h1m28.4 0h1m-8.2 0.1h1m-9.2 0.5h1m6 0.6h1m-13.8 0.2h1m-8.7 0.1h1m37.8 0.1h1m-30.9 0.2h1m17.1 0.3h1m11.3 0h1m4.6 0.4h1m-29.1 0.2h1m25.9 0h1m-25.2 0.2h1m11.8 0.1h1m-19.3 0.1h1m12.4 0h1m19.4 0h1m-31.8 0.4h1m40.3 0.4h1m-14.5 0.1h1m-40.9 0.3h1m18.4 0h1m12.4 0h1m-8.7 0.2h1m-4.5 0.1h1m3.2 0h1m-21.9 0.1h1m37.9 0.2h1m7.9 0.3h1m-43.9 0.2h1m-8.7 0.3h1m16.7 0h1m-2.6 0.2h1m4.9 0.2h1m22.8 0h1m-45.8 0.3h1m-5.4 0.2h1m15.6 0.1h1m-22.3 0.1h1m-0.2 0h1m33.5 0h1m2.6 0h1m3.8 0h1m-1.9 0.2h1m-43.8 0.2h1m3.8 0h1m4.1 0.1h1m0.3 0.4h1m10.8 0h1m8 0h1m-13.4 0.5h1m-17.6 0.1h1m27 0h1m5.9 0h1m-2.6 0.1h1m0.1 0.1h1m-18 0.2h1m5 0.1h1m-1.1 0.1h1m4.6 0h1m-28.8 0.5h1m10.6 0h1m8.4 0h1m-3.7 0.1h1m12.1 0.1h1m21.8 0h1m-37.7 0.1h1m-22.5 0.1h1m39.6 0h1m0 0.2h1m-37.7 0.1h1m34.4 0h1m-20.3 0.2h1m2.4 0h1m-10.7 0.1h1m-10 0.1h1m21 0.1h1m-46.3 0.1h1m34.3 0h1m-5.1 0.2h1m10.2 0h1m-9.6 0.1h1m3 0h1m-7.1 0.1h1m38.6 0.1h1m-46 0.2h1m-26.6 0.1h1m6.1 0h1m26.6 0h1m23.1 0h1m-31.7 0.2h1m21.8 0.2h1m-23.8 0.4h1m16.3 0.1h1m-30.3 0.2h1m6.5 0h1m0.5 0.1h1m44.2 0.1h1m-0.3 0h1m-47.6 0.5h1m1.9 0h1m4.1 0h1m23.3 0.1h1m-49.4 0.1h1m30.2 0h1m10 0.1h1m-24.7 0.1h1m12.8 0h1m-7.4 0.1h1m-25.1 0.2h1m23.3 0.1h1m23.4 0.1h1m-40.2 0.1h1m2.7 0h1m20.6 0.2h1m-18.3 0.1h1m8 0h1m-3.3 0.1h1m-22.7 0.1h1m5 0.2h1m-33 0.1h1m60.6 0h1m16.5 0h1m-40 0.3h1m17.2 0.1h1m-7.9 0.2h1m-12.9 0.1h1m25.4 0h1m-10.8 0.1h1m-17.1 0.1h1m-15.5 0.1h1m5.6 0.1h1m8 0h1m-2.4 0.2h1m11.1 0.1h1m-30.4 0.1h1m28.3 0h1m-15.7 0.2h1m-0.1 0h1m13.6 0.4h1m-3.7 0.2h1m3.8 0h1m-16.3 0.1h1m8.4 0.3h1m4.1 0h1m13.1 0.6h1m-10.2 0.2h1m-35.5 0.2h1m24.2 0h1m-15.1 0.1h1m11.3 0h1m-10.7 0.1h1m-6.5 0.1h1m8 0.1h1m14 0.1h1m14.1 0h1m-24.1 0.1h1m-6.5 0.1h1m-7 0.1h1m-13.8 0.4h1m11.7 0h1m10.8 0h1m-37.8 0.3h1m47.4 0h1m-20.9 0.1h1m0.2 0h1m10.6 0h1m-19.8 0.2h1m5.8 0.1h1m20.5 0h1m3.4 0h1m-43.7 0.2h1m16.8 0h1m-4.4 0.2h1m-24.9 0.2h1m35 0.3h1m-49 0.1h1m27 0h1m3.8 0h1m0.3 0.1h1m4.7 0.3h1m-8.5 0.1h1m6.2 0h1m-5.3 0.3h1m-37.8 0.1h1m29.8 0h1m0.4 0h1m32.8 0h1m-38.6 0.1h1m-9.2 0.6h1m5.6 0.1h1m12.5 0.7h1m-4.9 0.4h1m5.1 0h1m-32.4 0.2h1m11.3 0.4h1m-2.5 0.7h1m-9.7 0.6h1m0.7 0.1h1m26.2 0.3h1m-36.3 0.1h1m9 0h1m9.2 0h1m2.6 0.1h1m18.7 0h1m-38 0.1h1m14.1 0.1h1m21.3 0h1m-15.4 0.1h1m-6.2 0.4h1m-18.2 0.2h1m-3.1 0.1h1m29.4 0.4h1m-28.2 0.5h1m-8.3 0.1h1m17.4 0.6h1m28.5 0.1h1m-46.6 0.2h1m13.1 1.1h1m3.2 0.6h1m4.1 0h1m-22.3 1.1h1m-7.4 1.1h1m30.7 1.1h1m15.4 1.4h1m-48.1 1h1m21.4 2.3h1m-12.2 0.6h1" stroke="#999" stroke-width="1" fill="none" opacity="1.0"/>
<path d="M388 80.1h1m7 0.3h1m-22.3 0.6h1m7.4 0h1m-3 0.2h1m11.7 0.1h1m-7.6 0.4h1m4.5 0.7h1m0.9 0.3h1m-7.5 0.4h1m15.8 0.4h1m-25.8 0.3h1m-0.2 0.6h1m0.4 0.2h1m-11.7 0.1h1m18.6 0.3h1m-16.5 0.2h1m8.1 0h1m-13.4 0.1h1m12.6 0h1m3.6 0h1m-11 0.1h1m-15.7 0.3h1m16.7 0h1m-10.9 0.1h1m7 0h1m0.2 0.3h1m1.4 0h1m-14.2 0.1h1m9.7 0.4h1m1.4 0h1m-3.9 0.1h1m7.8 0h1m-18 0.1h1m17.9 0h1m-11.4 0.1h1m-9.4 0.2h1m3.7 0h1m-0.9 0.2h1m1.6 0h1m-12.5 0.1h1m5.7 0h1m5.1 0h1m2.5 0h1m-0.9 0h1m-19.7 0.1h1m-2.5 0.1h1m10.3 0.1h1m5.6 0h1m-15.5 0.1h1m21.8 0h1m-19.7 0.1h1m-0.3 0h1m3.5 0h1m-5.2 0.1h1m-2.3 0.1h1m9.7 0h1m-18.5 0.1h1m5 0h1m16 0h1m-0.6 0h1m-15.8 0.1h1m-0.9 0h1m8.7 0h1m-0.8 0h1m-10.2 0.1h1m0.9 0h1m0.1 0h1m-3.9 0.1h1m3.3 0h1m10.8 0h1m-20.3 0.1h1m2.9 0h1m2.2 0h1m1.1 0h1m-11.1 0.1h1m4.9 0h1m-5.8 0.1h1m-3.1 0.1h1m5.8 0h1m6.9 0h1m-15.4 0.1h1m2.8 0h1m1.1 0h1m-10.3 0.1h1m1.8 0h1m0.8 0.1h1m-0.9 0h1m5.8 0h1m-0.9 0h1m5.3 0h1m-13.1 0.1h1m4.3 0h1m11.7 0h1m-22.2 0.1h1m13.7 0h1m-28.4 0.1h1m12.9 0h1m-0.5 0h1m3.9 0h1m3.3 0h1m6.3 0h1m-19 0.1h1m2.6 0h1m1.9 0h1m-0.7 0h1m-0.4 0h1m2.1 0h1m4.8 0h1m-3.7 0.1h1m-18.1 0.1h1m7.5 0h1m1.2 0h1m0.8 0h1m6.7 0h1m-31 0.1h1m15.4 0h1m2.1 0.1h1m0.2 0h1m1.7 0h1m5 0h1m-15.6 0.1h1m1.2 0h1m6.8 0h1m2.8 0h1m1 0h1m-24.1 0.1h1m3.4 0h1m0.2 0h1m5.3 0h1m0.9 0h1m1.4 0h1m2.3 0h1m-21.3 0.1h1m10 0h1m0.1 0h1m2.2 0h1m0.7 0h1m6.8 0h1m-19.6 0.1h1m0.2 0h1m0.9 0h1m4.9 0h1m-0.9 0h1m2.7 0h1m-25.4 0.1h1m7.4 0h1m2 0h1m5.2 0h1m-0.1 0h1m2.1 0h1m0.1 0h1m-12.3 0.1h1m-0.7 0h1m14.1 0h1m2.4 0h1m-23.6 0.1h1m6.2 0h1m-0.9 0h1m-0.4 0h1m1.9 0h1m3 0h1m-10.1 0.1h1m0.2 0h1m2.1 0h1m2.8 0h1m-5.6 0.1h1m0.2 0h1m-0.4 0h1m4.1 0h1m-22.7 0.1h1m2.9 0h1m7.5 0h1m1.3 0h1m0.9 0h1m0.9 0h1m-0.9 0h1m-11.4 0.1h1m1.7 0h1m0.3 0h1m4.8 0h1m0.1 0h1m3 0h1m-13.4 0.1h1m4.8 0h1m3.7 0h1m4.1 0h1m-14.9 0.1h1m-0.8 0h1m-0.8 0h1m3.5 0h1m6.8 0h1m-21.1 0.1h1m0.6 0h1m-0.4 0h1m0.2 0h1m1.6 0h1m3.1 0h1m5.6 0h1m-7.2 0.1h1m6.2 0h1m8.1 0h1m-27.2 0.1h1m3.7 0h1m0.3 0h1m-0.8 0h1m4.6 0h1m-8.7 0.1h1m4.6 0h1m-0.5 0h1m-0.4 0h1m-14.4 0.1h1m0.4 0h1m5.1 0h1m1.3 0h1m2.4 0h1m-11.6 0.1h1m2.1 0h1m4.1 0h1m-0.8 0h1m-0.7 0h1m5.9 0h1m-14 0.1h1m-0.2 0h1m4.1 0h1m0.1 0h1m-0.8 0h1m0 0h1m-0.9 0h1m1.2 0h1m0.8 0h1m0.4 0h1m-1 0h1m-16.8 0.1h1m-0.3 0h1m1 0h1m3 0h1m0.2 0h1m3.1 0h1m3.1 0h1m1 0h1m-17.8 0.1h1m-0.9 0h1m6.8 0h1m7.1 0h1m2.6 0h1m0.7 0h1m5.2 0h1m-34.8 0.1h1m12 0h1m-0.3 0h1m4.3 0h1m0.1 0h1m-10.7 0.1h1m1.1 0h1m3.5 0h1m4.6 0h1m-11.2 0.1h1m0.8 0h1m0.3 0h1m-0.4 0h1m0.4 0h1m5.8 0h1m-19 0.1h1m1.9 0h1m-0.6 0h1m9.7 0h1m1.1 0h1m-14.8 0.1h1m-0.3 0h1m3.8 0h1m1.1 0h1m4.2 0h1m-17.3 0.1h1m2.6 0h1m2.5 0h1m5.8 0h1m-14.5 0.1h1m3 0h1m4.5 0h1m0.6 0h1m2.8 0h1m-16 0.1h1m0.6 0h1m-0.9 0h1m7.6 0h1m-0.6 0h1m3.3 0h1m-19.6 0.1h1m4 0h1m1.7 0h1m0.6 0h1m2.5 0h1m-0.5 0h1m-0.9 0h1m0.7 0h1m-14.6 0.1h1m-0.5 0h1m1.4 0h1m3.6 0h1m0.9 0h1m0.6 0h1m1.1 0h1m1 0h1m1.5 0h1m-18.6 0.1h1m3.6 0h1m-0.3 0h1m-0.4 0h1m10 0h1m-16.4 0.1h1m-0.5 0h1m2.5 0h1m-0.2 0h1m1.8 0h1m-0.3 0h1m2.2 0h1m0.3 0h1m-10.9 0.1h1m5.6 0h1m2 0h1m1.2 0h1m7.2 0h1m-29.8 0.1h1m5 0h1m3.1 0h1m-1 0h1m-0.3 0h1m-0.1 0h1m-13.4 0.1h1m1.1 0h1m3.7 0h1m0.5 0h1m-10.8 0.1h1m4.2 0h1m0.6 0h1m6.6 0h1m0.5 0h1m0.8 0h1m-0.6 0h1m4.2 0h1m0.3 0h1m-20.4 0.1h1m3.7 0h1m1.5 0h1m1.7 0h1m-0.8 0h1m-7.8 0.1h1m2.6 0h1m-0.8 0h1m-0.3 0h1m-0.5 0h1m3.7 0h1m2.4 0h1m9 0h1m1 0h1m-29.9 0.1h1m2.8 0h1m-0.4 0h1m2.3 0h1m-0.2 0h1m0.3 0h1m2.4 0h1m-0.2 0.1h1m-8.7 0.1h1m0.9 0h1m1.1 0h1m9.2 0h1m0.7 0h1m-28.7 0.1h1m7.5 0h1m1.6 0h1m4.6 0h1m-0.1 0h1m1 0h1m-0.5 0h1m0.9 0h1m1.5 0h1m-17.3 0.1h1m1.7 0h1m-0.2 0h1m3.7 0h1m0.3 0h1m1 0h1m4.5 0h1m-1 0h1m-24 0.1h1m4.3 0h1m0.9 0h1m-0.4 0h1m1.9 0h1m-0.9 0h1m1.7 0h1m0.2 0h1m7 0h1m-0.7 0h1m-19 0.1h1m0.6 0h1m2.1 0h1m0.2 0h1m-1 0h1m2.7 0h1m-0.5 0h1m-1 0h1m-0.2 0h1m-13.6 0.1h1m8.4 0h1m2.9 0h1m0.1 0h1m-0.3 0h1m-0.7 0h1m-9.7 0.1h1m0.7 0h1m-1 0h1m1.9 0h1m-0.3 0h1m-0.3 0h1m1.8 0h1m14.7 0h1m-25.9 0.1h1m-0.4 0h1m1.5 0h1m1.1 0h1m-0.4 0h1m0.8 0h1m1.7 0h1m1.9 0h1m-21.5 0.1h1m1.3 0h1m4 0h1m-0.9 0h1m2.5 0h1m1.7 0h1m-0.1 0h1m3.3 0h1m4.7 0h1m-19.2 0.1h1m-0.4 0h1m-0.2 0h1m1.1 0h1m1.8 0h1m-0.5 0h1m2.1 0h1m-0.7 0h1m2.7 0h1m-23.1 0.1h1m2.7 0h1m4.2 0h1m-0.1 0h1m1.3 0h1m-0.9 0h1m1.9 0h1m3.3 0h1m-7.8 0.1h1m-0.5 0h1m0.6 0h1m-11.3 0.1h1m6.5 0h1m-15.1 0.1h1m7 0h1m-0.7 0h1m3.9 0h1m4.3 0h1m0.5 0h1m-23.8 0.1h1m14 0h1m4.5 0h1m6.1 0h1m-0.1 0h1m0.1 0h1m-20.2 0.1h1m-0.3 0h1m0.1 0h1m3.7 0h1m-0.9 0h1m-0.5 0h1m-0.2 0h1m1.7 0h1m9.1 0h1m-24 0.1h1m1.5 0h1m-0.7 0h1m5.7 0h1m3 0h1m-13.8 0.1h1m-0.9 0h1m-0.8 0h1m-0.7 0h1m6.4 0h1m2.1 0h1m7.2 0h1m-0.7 0h1m-25.3 0.1h1m10.2 0h1m0.9 0h1m0.1 0h1m0.6 0h1m-12.5 0.1h1m1.7 0h1m-0.1 0h1m2.3 0h1m3.2 0h1m3.5 0h1m-17.7 0.1h1m-0.2 0h1m2.2 0h1m-0.1 0h1m3.8 0h1m1.5 0h1m-0.6 0h1m1.6 0h1m-18.5 0.1h1m1.4 0h1m-0.5 0h1m-0.4 0h1m0.5 0h1m1 0h1m0.7 0.1h1m0.9 0h1m1 0h1m-12.7 0.1h1m5.2 0h1m-0.9 0h1m1.2 0h1m1.4 0h1m1.5 0h1m-0.8 0h1m3 0h1m1.6 0h1m1.8 0h1m-15 0.1h1m-0.6 0h1m1 0h1m-0.1 0h1m-0.8 0h1m-12.3 0.1h1m3.2 0h1m1.1 0h1m0 0h1m0.8 0h1m-0.8 0h1m1.1 0h1m0.4 0h1m0.9 0h1m4 0h1m-0.9 0h1m-20.3 0.1h1m0.8 0h1m0.1 0h1m0.4 0h1m3.3 0h1m1.3 0h1m3 0h1m-0.4 0h1m0.8 0h1m-0.9 0h1m-19.1 0.1h1m4.9 0h1m1.1 0h1m1.1 0h1m2.1 0h1m6.7 0h1m-26.4 0.1h1m0.5 0h1m1.8 0h1m4.5 0h1m-0.2 0h1m-0.8 0h1m1.1 0h1m-13.6 0.1h1m0.2 0h1m8.7 0h1m0.1 0h1m3.4 0h1m1.4 0h1m2.3 0h1m-0.6 0h1m-24 0.1h1m6.2 0h1m2.2 0h1m-0.1 0h1m0.7 0h1m1.6 0h1m0.9 0h1m-0.2 0h1m2 0h1m-0.7 0h1m-20.7 0.1h1m4.9 0h1m-0.4 0h1m0.3 0h1m-0.8 0h1m-0.4 0h1m1.8 0h1m3.2 0h1m-15.2 0.1h1m1.9 0h1m-0.4 0h1m-6.4 0.1h1m3.1 0h1m6.2 0h1m-0.5 0h1m5.3 0h1m-23.1 0.1h1m5.3 0h1m2.6 0h1m2.7 0h1m1.3 0h1m2.7 0h1m-3.7 0.1h1m-0.9 0h1m3.5 0h1m-20.9 0.1h1m12.6 0h1m6.3 0h1m0.6 0h1m6 0h1m-27.1 0.1h1m1 0h1m3.1 0h1m2.3 0h1m2.2 0h1m4.2 0h1m-21.1 0.1h1m7.4 0h1m2.8 0h1m2 0h1m-0.5 0h1m-6 0.1h1m0.9 0h1m2.6 0h1m-7.9 0.1h1m4.8 0h1m4.2 0h1m-10.9 0.1h1m2.1 0h1m0.9 0h1m0.9 0h1m0 0h1m2.8 0h1m4.2 0h1m-28.8 0.1h1m5.7 0h1m-0.8 0h1m1.2 0h1m2.1 0h1m-0.9 0h1m-6.1 0.1h1m0.5 0h1m6.7 0h1m1.6 0h1m2 0h1m-21.1 0.1h1m2.9 0h1m-1 0h1m11.4 0h1m0.5 0h1m3 0h1m-18.6 0.1h1m2.4 0h1m-0.2 0h1m-0.8 0h1m-0.2 0h1m1.1 0h1m3.4 0h1m6.3 0h1m-25.8 0.1h1m2.2 0h1m0.5 0h1m1.2 0h1m9.7 0h1m-0.6 0h1m6 0h1m-24.5 0.1h1m-0.3 0h1m11.4 0h1m-15.8 0.1h1m0.4 0h1m1.1 0h1m3.5 0h1m0.6 0h1m3.4 0h1m-0.1 0h1m-0.7 0h1m0.7 0h1m0 0h1m1.7 0h1m1.8 0h1m-16.7 0.1h1m0.4 0h1m2.6 0h1m1.7 0h1m-1 0h1m3.6 0h1m-16.7 0.1h1m3 0h1m3.3 0h1m-0.2 0h1m-18.5 0.1h1m9.6 0h1m6.2 0h1m-0.9 0h1m4.5 0h1m-20.6 0.1h1m5 0h1m-0.5 0h1m0.3 0h1m7.1 0h1m0.5 0h1m-10.8 0.1h1m3.8 0h1m3.3 0h1m4.4 0h1m0.1 0h1m-16.9 0.1h1m0.4 0h1m5.8 0h1m-0.9 0h1m-16.7 0.1h1m9.6 0h1m1.5 0h1m2.4 0h1m-6.2 0.1h1m4.3 0h1m0.1 0h1m-5.4 0.1h1m5.7 0h1m-25.1 0.1h1m7.1 0h1m3.2 0h1m-0.9 0h1m0.1 0h1m1.9 0h1m2.5 0h1m0.9 0h1m-0.8 0h1m3.2 0h1m-2 0.1h1m-18.6 0.1h1m0.8 0h1m5.8 0h1m6 0h1m-11.4 0.2h1m3.4 0h1m2.3 0h1m-8.4 0.1h1m-0.8 0h1m5 0h1m0.4 0h1m3.1 0h1m-22.1 0.1h1m15.4 0h1m-10.9 0.1h1m-9.6 0.1h1m9.4 0h1m1.9 0h1m2.1 0h1m-10 0.1h1m0.7 0h1m-7.7 0.1h1m5.5 0h1m0.1 0.1h1m2.7 0h1m1.7 0h1m1.7 0h1m9.8 0h1m-27.2 0.1h1m1 0h1m0.6 0h1m-0.6 0h1m1.6 0h1m3.8 0h1m5.2 0h1m-11.1 0.1h1m2.3 0.1h1m8.6 0h1m-0.8 0.1h1m-16.9 0.1h1m3.4 0h1m-11.9 0.1h1m2.5 0h1m2.8 0h1m8.4 0h1m-18.7 0.2h1m14.4 0h1m-9.3 0.1h1m-0.2 0h1m-0.9 0h1m1.3 0h1m13 0h1m-19.6 0.1h1m4 0h1m1.3 0h1m0.4 0h1m-15.1 0.1h1m1.2 0h1m5.1 0h1m2.8 0h1m-5.7 0.1h1m0 0h1m3.6 0h1m-12.8 0.1h1m-0.3 0h1m18.5 0h1m-22.2 0.1h1m4 0h1m2 0h1m4.7 0h1m1.7 0h1m-19.2 0.1h1m3 0h1m3.2 0h1m-4.3 0.2h1m0.7 0h1m3.2 0h1m1.1 0h1m7.9 0h1m-17.5 0.1h1m13.9 0h1m-11.3 0.1h1m1.1 0h1m1.8 0h1m-3.6 0.1h1m-14.5 0.1h1m9 0h1m-5 0.2h1m9.9 0h1m2.7 0.1h1m-5.7 0.1h1m-11.1 0.2h1m0.5 0.2h1m2.8 0h1m-4.3 0.1h1m6.3 0.1h1m-5.7 0.1h1m13.1 0h1m-17.8 0.4h1m-2.4 0.1h1m1.9 0.1h1m-9.7 0.1h1m6.6 0.1h1m1 0.1h1m-2.9 0.4h1m-5.1 0.9h1m-10 0.1h1m23.2 0.3h1m-12.4 0.4h1m2.3 0.5h1m-8.6 1h1m0.2 0.6h1" stroke="#111" stroke-width="1" fill="none" opacity="1.0"/>
<path d="M93.9 200h1m-1.2 5.2h1m10.3 0.4h1m-9.9 2.3h1m-10.7 0.1h1m4.9 1.1h1m-1 0.2h1m2.5 0.1h1m-5.3 0.7h1m7.8 0h1m-0.9 1h1m-9.1 0.2h1m4.9 0.3h1m-8.4 0.4h1m5.4 0.1h1m-11.4 0.2h1m3.3 1.4h1m7.2 0.1h1m3.5 0h1m-8.7 0.1h1m-6 0.2h1m-5.8 0.2h1m14.8 0h1m-2.4 0.2h1m-1.5 0.4h1m-3.3 0.1h1m6 0h1m-11.7 0.6h1m3.5 0h1m-4.1 0.3h1m6.5 0h1m-8 0.6h1m-1.7 0.2h1m9.9 0.2h1m-9.6 0.3h1m-0.8 0.1h1m0.5 0.3h1m-7.2 0.2h1m-7.2 0.3h1m7.3 0.4h1m-9 0.4h1m13.2 0h1m-1.5 0.2h1m-11.2 0.6h1m1.3 0h1m7.4 0.1h1m-15.5 0.1h1m2.6 0h1m4.1 0.1h1m-3.2 0.1h1m6.9 0h1m-5.3 0.4h1m0.5 0.1h1m-8 0.4h1m15 0h1m-9.1 0.2h1m-4.4 0.1h1m1.1 0.1h1m3.3 0.1h1m-6 0.1h1m-3.3 0.1h1m-9.5 0.1h1m-0.7 0.1h1m15 0h1m-17.4 0.1h1m6.7 0.1h1m5 0h1m-6.8 0.2h1m-6.9 0.1h1m12 0.1h1m-6.2 0.3h1m6.3 0h1m-9.5 0.2h1m-2 0.2h1m-7.4 0.3h1m8.1 0h1m-0.6 0h1m1.1 0h1m-0.3 0h1m5.8 0h1m-5 0.1h1m-7.2 0.1h1m-0.3 0h1m-1.4 0.1h1m-2.5 0.1h1m-9.6 0.1h1m4.5 0h1m4.9 0.1h1m-0.6 0.1h1m-3.3 0.1h1m-5.1 0.1h1m0.5 0h1m4.2 0.1h1m1 0.1h1m-7.6 0.1h1m-8.3 0.1h1m17.5 0.1h1m-10.1 0.1h1m-3.2 0.1h1m2.7 0h1m-4.5 0.1h1m-1.7 0.2h1m0.5 0.2h1m-4.9 0.1h1m5.4 0h1m-11 0.2h1m15.2 0h1m-17.9 0.1h1m0.8 0h1m4.9 0h1m-6.1 0.3h1m2.2 0.1h1m12.3 0.1h1m-0.8 0h1m-16.1 0.2h1m2.3 0.1h1m2.1 0h1m0.1 0.1h1m-11.4 0.1h1m2.1 0.1h1m5.4 0h1m-1.1 0.2h1m-9 0.4h1m5 0.1h1m4.2 0h1m-13.9 0.5h1m4.7 0.1h1m-6.4 0.1h1m2.7 0h1m-0.3 0.1h1m1.2 0h1m-2.4 0.1h1m-2 0.1h1m13 0h1m-7.9 0.1h1m-6.9 0.1h1m-3.2 0.1h1m-3.5 0.3h1m-1.8 0.1h1m17.5 0h1m-17.9 0.2h1m5.5 0h1m-10.7 0.1h1m6.8 0h1m3.8 0.1h1m6.1 0h1m-17.7 0.1h1m1.3 0h1m-6.2 0.1h1m10.3 0.1h1m-2 0.1h1m2.5 0.1h1m-11.7 0.1h1m1.5 0h1m6 0h1m2.5 0.1h1m0.5 0h1m-4 0.3h1m-13.6 0.2h1m5.7 0h1m-4.3 0.1h1m0.8 0.4h1m-1.6 0.2h1m-4.9 0.1h1m4.6 0h1m2.3 0h1m4.8 0h1m-18.2 0.1h1m1.4 0h1m14.5 0h1m5.3 0.2h1m-14.2 0.1h1m0.5 0.1h1m0.4 0h1m1 0.1h1m-0.6 0h1m-7.1 0.2h1m6.3 0.1h1m-9 0.1h1m3.6 0.1h1m-7.4 0.1h1m10.4 0.2h1m-16.9 0.1h1m3.7 0h1m4 0.3h1m-9.8 1h1m7.9 0.2h1m-12.1 0.2h1m2.9 0h1m-5.5 0.3h1m11 0.5h1m-11.1 0.2h1m-4.6 0.1h1m8.3 0.4h1m2.5 0.1h1m2 0h1m-11.3 0.1h1m-6.1 0.7h1m0.4 0h1m0.7 0h1m0.3 0h1m-6.1 0.2h1m10.5 0.3h1m4.3 0.1h1m-11.8 0.1h1m6.2 0.1h1m-10.3 0.1h1m5.6 0h1m4.9 0h1m-17.3 0.1h1m13.3 0.1h1m-9.8 0.5h1m3 0h1m2.2 0h1m0.9 0.4h1m-11 0.2h1m8 0h1m-6.3 0.1h1m11 0.1h1m-20.9 0.1h1m-1.2 0.1h1m13.1 0h1m1.6 0h1m-16.8 0.2h1m11.7 0.3h1m-4.7 0.1h1m3.7 0h1m-13.4 0.3h1m2.3 0.2h1m0.1 0.2h1m5.8 0h1m3.1 0h1m-4.1 0.5h1m-14.9 0.1h1m1.1 0h1m-0.3 0h1m-3.9 0.1h1m9.9 0h1m-2.7 0.1h1m3.8 0.3h1m-6.8 0.8h1m0.5 0.1h1m0.3 0.7h1m3.7 0.2h1m1.2 0h1m-19.1 0.2h1m8.2 0.1h1m1.7 0h1m-3.7 0.1h1m2.8 0.2h1m-13.3 0.1h1m1.7 0.3h1m-0.5 0h1m9.8 0h1m-1 0h1m-14.4 0.2h1m5.4 0.2h1m-5.1 0.3h1m2.1 0h1m2.8 0h1m-1 0h1m-11.2 0.8h1m17.3 0h1m-8.2 0.2h1m3.1 0.2h1m-4.6 0.8h1m-13.2 0.1h1m10.4 0.2h1m10.2 0h1m-19.5 0.1h1m11 1.2h1m-5.6 0.2h1m1.4 0.6h1m-3.5 0.4h1" stroke="#777" stroke-width="1" fill="none" opacity="1.0"/>
<path d="M103.1 183.6h1m-12.7 0.3h1m9.6 2.3h1m-4 0.4h1m-13.4 0.1h1m-0.9 0.3h1m6.6 0h1m-1.4 1h1m6.8 0.2h1m-5.1 0.3h1m6.8 0.2h1m4.2 0.3h1m-24.2 0.1h1m-2.1 0.1h1m8.1 0h1m-0.5 0.1h1m-1.7 0.2h1m6.7 0.2h1m-2.2 0.5h1m-13.3 0.1h1m3.3 0h1m3.4 0h1m5.2 0h1m-18.6 0.1h1m7.7 0h1m5.7 0h1m-5.4 0.4h1m-11.5 0.3h1m6.3 0h1m-1.7 0.3h1m-0.5 0h1m12.2 0h1m-12 0.1h1m-0.2 0h1m3.6 0h1m6.2 0h1m-22 0.1h1m7.2 0.1h1m-0.3 0.1h1m-8.7 0.2h1m-0.2 0h1m4.3 0.1h1m15.7 0h1m-26.6 0.2h1m3.3 0h1m-0.2 0h1m6 0.1h1m-3.6 0.1h1m4.6 0h1m-11.9 0.4h1m2 0.1h1m-0.5 0h1m11 0.1h1m-20.9 0.2h1m7.2 0h1m10 0h1m-0.3 0h1m-17.7 0.1h1m1 0h1m10 0h1m-10 0.1h1m-3.5 0.2h1m11.4 0h1m-16.3 0.1h1m7.6 0h1m1.5 0h1m5 0h1m-13.4 0.1h1m0.9 0h1m1.5 0h1m4.1 0h1m-16 0.1h1m5 0h1m10.3 0h1m-1 0h1m-3.2 0.1h1m-16.5 0.1h1m13.9 0h1m-0.1 0h1m-16.8 0.1h1m3.5 0h1m8.3 0h1m-8.6 0.1h1m1.6 0h1m-7.4 0.1h1m3.3 0h1m3.1 0h1m1.3 0h1m1.1 0h1m-13.5 0.1h1m10.7 0h1m-11.3 0.1h1m1.5 0h1m4 0h1m-7 0.1h1m1.9 0h1m5.1 0h1m-8.6 0.1h1m-0.7 0h1m-0.8 0h1m3.8 0h1m-13.3 0.1h1m0.6 0h1m5.1 0h1m-0.5 0h1m2.4 0h1m8.4 0h1m-13.4 0.1h1m0.5 0h1m3.5 0h1m1.2 0h1m4.4 0h1m-21.8 0.1h1m-0.8 0h1m10.2 0h1m-0.5 0h1m-7.6 0.1h1m-6.9 0.1h1m2.3 0h1m1.2 0h1m5.2 0h1m0 0h1m1 0h1m0.7 0h1m-18.5 0.1h1m0.3 0h1m3.4 0h1m0.9 0h1m-0.6 0h1m5 0h1m6.8 0h1m-22.6 0.1h1m11.3 0.1h1m0.4 0h1m-7.6 0.1h1m3.1 0h1m13.2 0.1h1m-25.4 0.1h1m4.9 0h1m-0.6 0h1m2.1 0h1m-0.9 0h1m0.5 0h1m5.1 0h1m-16.7 0.1h1m3.2 0h1m0.7 0.1h1m1.5 0h1m0.4 0h1m-0.5 0h1m-0.9 0h1m1.3 0h1m-4.3 0.1h1m-1 0h1m1.2 0h1m-0.7 0h1m-6.5 0.1h1m17.1 0h1m-27.2 0.1h1m11.1 0h1m-13.7 0.1h1m-0.7 0h1m0.1 0h1m5.3 0h1m8.7 0h1m1 0h1m-20.8 0.2h1m4.5 0h1m0.8 0h1m-0.5 0h1m-0.9 0h1m1.4 0h1m-0.2 0h1m-0.6 0h1m0.8 0h1m-14.4 0.1h1m7.3 0h1m2 0h1m2.4 0h1m-15.4 0.1h1m-0.8 0h1m13 0h1m-15 0.1h1m3.7 0h1m4.3 0h1m10.9 0h1m-19.5 0.1h1m0.4 0h1m0.8 0h1m0.6 0h1m-0.6 0h1m3.7 0h1m-14.5 0.1h1m4.4 0h1m-1 0h1m-5 0.1h1m5.9 0h1m0 0h1m1 0h1m-9.6 0.1h1m1.6 0h1m-0.2 0h1m2.9 0h1m1.7 0h1m-0.4 0h1m0.3 0h1m4.3 0h1m-20.7 0.1h1m7.1 0h1m1.4 0h1m-0.5 0h1m2.4 0h1m-0.7 0h1m1 0h1m0.1 0h1m-18.7 0.1h1m8.1 0h1m0.1 0h1m-0.9 0h1m0.7 0h1m3.2 0h1m8.4 0h1m-23.3 0.1h1m0.8 0h1m11.6 0h1m-0.5 0h1m-0.8 0h1m-18.4 0.1h1m5.4 0h1m0.4 0h1m1.1 0h1m-7.3 0.1h1m-0.3 0h1m13.8 0h1m-15.5 0.1h1m6.4 0h1m4.1 0h1m-0.4 0h1m-19.8 0.1h1m6.6 0h1m-0.2 0h1m0.1 0h1m2.8 0h1m-0.8 0h1m0.6 0h1m-0.6 0h1m-0.7 0h1m2.2 0h1m-19.8 0.1h1m8.2 0h1m-0.4 0h1m-0.3 0h1m-0.4 0h1m2.6 0h1m-16.2 0.1h1m9.3 0h1m-0.5 0h1m4.7 0h1m2.6 0h1m-21.3 0.1h1m8.4 0h1m-0.2 0h1m0.3 0h1m7.7 0h1m-0.2 0h1m-20.6 0.1h1m4.7 0h1m7 0h1m3 0h1m3.8 0h1m-22.2 0.1h1m2.1 0h1m1.3 0h1m0.5 0h1m1.7 0h1m-5.1 0.1h1m-0.7 0h1m-0.7 0h1m-0.4 0h1m0.2 0h1m-0.5 0h1m-0.6 0h1m1.3 0h1m-11.3 0.1h1m-0.5 0h1m1.3 0h1m3.8 0h1m-0.4 0h1m0.7 0h1m1.3 0h1m1.1 0h1m3.3 0h1m-6.4 0.1h1m4.2 0h1m-23 0.1h1m1.2 0h1m-0.1 0h1m-1 0h1m0.5 0h1m0.4 0h1m0.8 0h1m0.1 0h1m-5.4 0.1h1m-0.8 0h1m-0.1 0h1m3.4 0h1m6.6 0h1m-18.6 0.1h1m4.1 0h1m-0.9 0h1m5.2 0h1m2.1 0h1m1.4 0h1m-17.9 0.1h1m1.5 0h1m8.8 0h1m-5.5 0.1h1m-0.3 0h1m-0.9 0h1m-0.3 0h1m0.3 0h1m4.1 0h1m1.8 0h1m-0.8 0h1m-19 0.1h1m-0.9 0h1m3.3 0h1m0.1 0h1m0.7 0h1m2.5 0h1m3.4 0h1m-0.4 0h1m-12 0.1h1m1.8 0h1m4.2 0h1m-9.9 0.1h1m-0.7 0h1m2.3 0h1m1.9 0h1m2 0h1m-0.7 0h1m6.3 0h1m-14.8 0.1h1m5.4 0h1m-0.9 0h1m-15.1 0.1h1m6.4 0h1m-0.2 0h1m1.8 0h1m-1 0h1m-0.7 0h1m6.8 0h1m-0.9 0h1m0 0h1m-18.1 0.1h1m3.9 0h1m1.6 0h1m-11.7 0.1h1m-0.9 0h1m3.3 0h1m2 0h1m-0.8 0h1m-0.9 0h1m-0.2 0h1m-0.5 0h1m0.2 0h1m-0.5 0h1m-0.9 0h1m-11.5 0.1h1m-0.9 0h1m-1 0h1m-0.4 0h1m-0.8 0h1m1.4 0h1m-0.7 0h1m3.2 0h1m0.1 0h1m20.2 0h1m-22.8 0.1h1m0.5 0h1m0.5 0h1m0.9 0h1m3.4 0h1m-0.5 0h1m-14.6 0.1h1m1 0h1m-0.3 0h1m-0.2 0h1m1.3 0h1m1 0h1m-1 0h1m-5.1 0.1h1m3.5 0h1m2 0h1m-16.4 0.1h1m5.9 0h1m1.7 0h1m-11 0.1h1m2.5 0h1m0.3 0h1m-0.2 0h1m6.3 0h1m-14 0.1h1m7.4 0h1m-0.1 0h1m1.1 0h1m-0.2 0h1m-13.3 0.1h1m10.6 0h1m1.1 0h1m-0.6 0h1m-0.5 0h1m17.6 0h1m-33.5 0.1h1m6.9 0h1m-9.2 0.1h1m4.3 0h1m3.7 0h1m3.7 0h1m1.3 0h1m-16.1 0.1h1m3.4 0h1m0.2 0h1m-0.8 0h1m-0.4 0h1m1.7 0h1m-5.7 0.1h1m0.3 0h1m1.8 0h1m-0.8 0h1m0.4 0h1m-0.6 0h1m0.4 0h1m2.1 0h1m-12.5 0.1h1m2.1 0h1m-0.9 0h1m0.5 0h1m2.8 0h1m7.3 0h1m-23.4 0.1h1m-0.5 0h1m4 0h1m1.8 0h1m0.8 0h1m0.6 0h1m-0.5 0h1m0.4 0h1m2.9 0h1m3.4 0h1m-22.5 0.1h1m1.8 0h1m1.1 0h1m-1 0h1m0.2 0h1m-0.1 0h1m-0.8 0h1m0.4 0h1m-0.2 0h1m0.9 0h1m-0.7 0h1m-0.9 0h1m1.4 0h1m0.6 0h1m-0.8 0h1m9.1 0h1m-27.6 0.1h1m8.5 0h1m-0.2 0h1m-8.9 0.1h1m0.9 0h1m-0.6 0h1m0 0h1m-0.7 0h1m2.3 0h1m-0.7 0h1m1.5 0h1m-0.1 0h1m4 0h1m-19.1 0.1h1m2.6 0h1m0.8 0h1m0.1 0h1m0.9 0h1m0.3 0h1m-0.5 0h1m-0.9 0h1m11.1 0h1m-23.3 0.1h1m-0.6 0h1m-0.9 0h1m-0.5 0h1m2.8 0h1m4.9 0h1m-0.7 0h1m1.7 0h1m0.4 0h1m-16.1 0.1h1m-0.8 0h1m-0.9 0h1m7.3 0h1m3.3 0h1m2.9 0h1m-14.8 0.1h1m2.1 0h1m0 0h1m-1 0h1m1.5 0h1m1.3 0h1m1.9 0h1m-15.6 0.1h1m5.7 0h1m0 0h1m-1 0h1m0.6 0h1m7.8 0h1m-16.3 0.1h1m2.2 0h1m-0.9 0h1m-0.9 0h1m1.8 0h1m-0.6 0h1m-0.8 0h1m-0.9 0h1m0.9 0h1m0.3 0h1m0.1 0h1m1.4 0h1m3.6 0h1m-22.1 0.1h1m2.4 0h1m1.7 0h1m-0.1 0h1m-0.4 0h1m1.1 0h1m6.4 0h1m1.5 0h1m-15.9 0.1h1m1.2 0h1m0.4 0h1m0.9 0h1m1.3 0h1m-0.6 0h1m1.6 0h1m-0.8 0h1m5.3 0h1m-21.1 0.1h1m6.8 0h1m1.9 0h1m-0.6 0h1m-0.9 0h1m9.8 0h1m-4.8 0.1h1m-20.9 0.1h1m4.6 0h1m5.6 0h1m0.4 0h1m0.3 0h1m-4.2 0.1h1m-0.8 0h1m7.1 0h1m-21 0.1h1m2 0h1m4.5 0h1m1.8 0h1m1.3 0h1m4.9 0h1m-13.5 0.1h1m0.2 0h1m1.4 0h1m0.1 0h1m3.9 0h1m1.1 0h1m-19.6 0.1h1m2.4 0h1m6.5 0h1m8.6 0h1m-21.5 0.1h1m3.4 0h1m2.2 0h1m1.5 0h1m-0.7 0h1m6.2 0h1m-18.2 0.1h1m6.1 0h1m0.1 0h1m1.4 0h1m-0.7 0h1m1.8 0h1m4.5 0h1m1.3 0h1m1.3 0h1m-25.2 0.1h1m5.6 0h1m5.7 0h1m5 0h1m-20.7 0.1h1m3.4 0h1m1.5 0h1m-0.5 0h1m2.4 0h1m-10.2 0.1h1m1.4 0h1m3.7 0h1m3.7 0h1m-0.8 0h1m-0.4 0h1m-14.6 0.1h1m3 0h1m6.7 0h1m4.7 0h1m0.9 0h1m-18.5 0.1h1m2.8 0h1m2.4 0h1m-0.3 0h1m3.4 0h1m-15.3 0.1h1m1.7 0h1m3.4 0h1m0.6 0h1m3.4 0h1m-5.5 0.1h1m3.4 0h1m-13.9 0.1h1m0.4 0h1m4.6 0h1m2 0h1m1.5 0h1m-0.5 0h1m1.8 0h1m-16.6 0.1h1m7.6 0h1m3.5 0h1m-0.7 0h1m-0.4 0h1m0 0h1m4.2 0h1m-14.9 0.1h1m-1 0h1m4.2 0h1m10.8 0h1m-18.4 0.1h1m5.1 0h1m0.1 0h1m-0.3 0h1m-14.5 0.1h1m13.4 0h1m1.4 0h1m-18.8 0.1h1m-0.4 0h1m2 0h1m6.9 0h1m5.3 0h1m-18.8 0.1h1m-0.4 0h1m4 0h1m0.7 0h1m6 0h1m-0.9 0h1m1.7 0h1m6.7 0h1m-21.8 0.1h1m-0.4 0h1m2.2 0h1m6 0h1m1.8 0h1m-18.6 0.1h1m3.7 0h1m-0.1 0h1m0.4 0h1m1.6 0h1m4.5 0h1m2.4 0h1m-19 0.1h1m2.2 0h1m2.1 0h1m2.8 0h1m-0.7 0h1m-11.2 0.1h1m2.1 0h1m5 0h1m0.3 0h1m-0.4 0h1m-0.2 0h1m0.1 0h1m3.2 0h1m-18.7 0.1h1m-0.5 0h1m-0.4 0h1m3.4 0h1m7.1 0h1m1.5 0h1m-0.7 0.1h1m-12 0.1h1m5.5 0h1m11.2 0h1m-20.3 0.1h1m3.1 0h1m-0.5 0h1m-10.1 0.1h1m-0.1 0h1m-0.2 0h1m6.1 0h1m1.8 0h1m5.8 0h1m-19.8 0.1h1m3.5 0h1m3.6 0h1m2.9 0h1m-10.6 0.1h1m-0.1 0h1m5.4 0h1m2.1 0h1m-0.8 0h1m2.6 0h1m-6.7 0.1h1m-0.8 0h1m-10 0.1h1m0.8 0h1m-0.4 0h1m-0.9 0h1m2 0h1m4.1 0h1m-13.1 0.1h1m5.7 0h1m-1 0h1m6.4 0h1m-16.5 0.1h1m4.7 0h1m0 0h1m4.2 0h1m0 0h1m1.4 0h1m-0.4 0h1m0.2 0h1m0.1 0h1m3 0h1m-19.3 0.1h1m5.3 0h1m-0.6 0h1m3.5 0h1m-12.2 0.1h1m2.4 0h1m5.9 0h1m3.9 0h1m4.3 0h1m-16 0.1h1m11.2 0h1m-0.8 0h1m-0.6 0h1m-21.2 0.1h1m-0.7 0h1m7.1 0h1m-0.9 0h1m9.3 0h1m-21.6 0.1h1m5.6 0h1m2.8 0h1m-0.8 0.2h1m-12 0.1h1m-0.4 0h1m4.4 0h1m5.9 0h1m-9.7 0.1h1m5.2 0h1m-0.5 0h1m4.7 0h1m2.1 0h1m-20 0.1h1m7.2 0h1m3.4 0h1m-0.8 0h1m-1.8 0.1h1m2.6 0h1m-17 0.1h1m2.8 0h1m7.1 0h1m1.9 0h1m-0.1 0h1m-15.5 0.1h1m6.3 0.1h1m-8.4 0.1h1m-2.3 0.1h1m9.7 0h1m4.9 0h1m-15.4 0.1h1m3.2 0h1m2 0h1m1.6 0h1m1 0h1m2.7 0h1m-15.8 0.1h1m0.3 0h1m-1.8 0.2h1m-0.8 0h1m3.4 0h1m-0.3 0h1m1.3 0h1m0.2 0h1m10.3 0h1m-10.9 0.2h1m-6.6 0.1h1m10.2 0.1h1m0.6 0h1m-15.5 0.1h1m5.2 0.1h1m1.5 0.1h1m9.3 0.1h1m-25.7 0.1h1m5 0h1m0.3 0.2h1m3.1 0.1h1m2.6 0h1m-1.7 0.1h1m7.2 0h1m-24.2 0.2h1m-0.7 0h1m11.2 0h1m-0.1 0h1m-11.2 0.2h1m2.4 0.2h1m0.1 0h1m1.9 0h1m4.3 0h1m-13.7 0.1h1m14.5 0h1m-19.4 0.1h1m13.5 0h1m0.6 0.1h1m-10 0.1h1m1.4 0.1h1m5.5 0h1m-8.4 0.6h1m-6.6 0.1h1m2.5 0h1m9.7 0.3h1m11.1 0h1m-14.7 0.4h1m-3.4 0.8h1m-9.8 0.1h1m2.2 0.3h1m1.9 0.5h1m-1 0.2h1m-6.8 0.2h1m-0.5 0.7h1m3.9 0.4h1m-7.3 0.1h1m11.2 0h1m-3.3 2.8h1" stroke="#555" stroke-width="1" fill="none" opacity="1.0"/>
<path d="M250.9 202.5h1m7.1 5.1h1m-6.6 1.3h1m-6.9 0.2h1m6.9 0.2h1m8.4 1h1m-37.2 0.3h1m43.5 1.4h1m-10.2 0.7h1m-13.5 0.3h1m3.9 0.6h1m7.4 0.7h1m-8.9 0.5h1m0.9 0.1h1m15.6 0.1h1m-2.3 0.2h1m-3.1 0.6h1m-26.7 0.9h1m14.4 0.6h1m25.4 0.2h1m-16.9 0.2h1m1 0h1m2.3 0.4h1m12 0h1m-32.4 0.6h1m-1.9 0.2h1m36.9 0.1h1m-46 0.3h1m15 0.3h1m9.1 0h1m-26.1 0.4h1m16.7 0.1h1m-26.1 0.3h1m18.1 0h1m5.9 0.1h1m14.2 0h1m-21 0.2h1m44.3 0.1h1m-42.4 0.2h1m-21.8 0.3h1m15.3 0h1m36.5 0.1h1m-32.7 0.1h1m10.5 0.1h1m-21.4 0.3h1m9.2 0.2h1m12.9 0.1h1m-38.4 0.1h1m11.4 0h1m-9.3 0.1h1m20.1 0h1m-13.1 0.3h1m30.7 0.1h1m-34.6 0.1h1m3.6 0.1h1m7.1 0h1m-37.4 0.2h1m17.1 0.3h1m25.1 0.2h1m7.4 0.1h1m5.1 0.1h1m-40.9 0.2h1m-8.5 0.1h1m35.7 0.1h1m-17.3 0.1h1m3.6 0.2h1m-0.5 0h1m-20.1 0.1h1m-0.2 0h1m36.7 0h1m-32.1 0.1h1m0.5 0h1m15.4 0.1h1m18.9 0h1m-26.2 0.2h1m6.3 0h1m5.5 0h1m-45.3 0.2h1m45.7 0.1h1m-29.6 0.1h1m11.1 0.2h1m-18.8 0.1h1m26.3 0h1m-37.6 0.1h1m42.3 0.2h1m-38.1 0.1h1m16.8 0h1m-21.6 0.1h1m10 0h1m21.1 0h1m10.8 0.2h1m-29.6 0.3h1m4.1 0.1h1m0.3 0h1m10.9 0h1m-24.1 0.1h1m-1 0h1m10.9 0h1m-11.7 0.1h1m14 0h1m-10.3 0.1h1m11.9 0.1h1m-16.8 0.1h1m0.2 0h1m-15.1 0.1h1m17 0h1m3.3 0.1h1m0.8 0h1m-22.4 0.2h1m36.8 0h1m-49.8 0.1h1m25.8 0h1m-12.4 0.1h1m11.1 0h1m7 0h1m-23.9 0.2h1m5.6 0h1m5.1 0h1m3.1 0h1m-11.2 0.1h1m5.9 0h1m6.4 0h1m-21.3 0.3h1m18 0h1m-5.5 0.3h1m3.9 0h1m3.3 0.1h1m-5.3 0.1h1m3 0h1m-45.3 0.1h1m50.2 0h1m-27.2 0.1h1m4.6 0h1m0.7 0h1m7.6 0h1m7.7 0h1m-30.7 0.1h1m-0.8 0h1m4.1 0h1m13 0h1m-26.4 0.1h1m9.8 0h1m1.3 0h1m7 0h1m13.3 0.1h1m-7.9 0.2h1m-37.1 0.1h1m17.6 0h1m12.5 0h1m-24.4 0.2h1m19.5 0h1m-30.6 0.1h1m24.4 0h1m5.5 0.1h1m4.2 0h1m5.7 0h1m-28.4 0.1h1m6.1 0h1m-6.5 0.2h1m38.3 0.1h1m-29.4 0.1h1m-29.6 0.1h1m35.4 0h1m-7.8 0.2h1m9.8 0.1h1m-20.7 0.1h1m7.3 0h1m2.5 0.1h1m-9.1 0.1h1m9.1 0h1m-1.7 0.1h1m-21.7 0.1h1m17.8 0h1m-2.7 0.1h1m-31.6 0.1h1m11.4 0.1h1m9.9 0.1h1m32.8 0.1h1m-50.1 0.1h1m-0.6 0h1m10 0h1m1.5 0h1m19.6 0h1m4.6 0h1m-30.4 0.1h1m41.8 0h1m-42.7 0.1h1m-11 0.1h1m36.4 0h1m-14.3 0.2h1m-16.3 0.1h1m12.6 0h1m-9.1 0.1h1m-29.9 0.1h1m23.4 0h1m1.4 0.1h1m11.7 0h1m-40.4 0.1h1m20.4 0.1h1m28.6 0h1m-50 0.1h1m70.2 0h1m-44.9 0.1h1m-18.9 0.1h1m35.1 0h1m-58.7 0.1h1m20.3 0.1h1m7.2 0h1m7.3 0h1m12.2 0h1m-32.8 0.1h1m36.6 0.1h1m-34.2 0.1h1m3.8 0h1m0.7 0h1m23.9 0.1h1m-40.6 0.1h1m5.9 0h1m21.8 0h1m12.1 0h1m-29.5 0.1h1m23.9 0h1m-31.7 0.2h1m3.1 0.1h1m14.5 0.3h1m-19.5 0.1h1m12.6 0h1m-26.2 0.4h1m10.3 0h1m13.1 0.1h1m-8 0.1h1m2.8 0h1m16.1 0.1h1m26.6 0h1m-58.4 0.1h1m14 0h1m-11 0.1h1m17.5 0.3h1m16.6 0h1m-33.4 0.1h1m22.5 0.2h1m6.6 0h1m-30.2 0.1h1m9.7 0.1h1m8.1 0.1h1m-11.3 0.1h1m0.7 0h1m-24.4 0.3h1m6.1 0.2h1m26 0h1m-27 0.1h1m3.8 0h1m-4.9 0.1h1m13.9 0.1h1m4.5 0h1m14.4 0h1m-46.7 0.3h1m5.5 0.3h1m-0.1 0h1m-12.3 0.1h1m38.7 0.2h1m4.6 0h1m-44.6 0.1h1m42 0h1m-28.6 0.2h1m31.5 0.2h1m-19 0.1h1m-23.6 0.2h1m20.5 0h1m15.1 0h1m-20.2 0.1h1m-13.1 0.1h1m11.9 0h1m-12.4 0.3h1m8.4 0h1m-8.4 0.2h1m3.7 0h1m17 0.1h1m-22.3 0.1h1m11.5 0.1h1m-17.5 0.1h1m11.5 0.1h1m16.4 0.1h1m-26.1 0.1h1m20.5 0.1h1m-23.9 0.1h1m-11.3 0.2h1m11.1 0.2h1m-1.3 0.1h1m3.7 0h1m-23.7 0.2h1m27.6 0h1m-11.9 0.1h1m-18.4 0.1h1m-2.5 0.3h1m34.1 0.1h1m-18 0.1h1m4.5 0h1m3.8 0h1m-5.3 0.1h1m-14.3 0.2h1m19.8 0.2h1m-27.2 0.2h1m14.2 0h1m1 0h1m-16.6 0.2h1m35.7 0.1h1m10.6 0h1m-31.6 0.1h1m4 0h1m-21.3 0.1h1m1.7 0.1h1m34.6 0.2h1m-24.2 0.1h1m5 0h1m-3.2 0.1h1m-35 0.2h1m18.1 0.3h1m-8.7 0.1h1m27.6 0.2h1m0.7 0h1m-29.2 0.3h1m20.4 0.2h1m4.6 0.3h1m-1.7 0.1h1m-40.8 0.1h1m35.4 0.3h1m-17.8 0.4h1m8.8 0.1h1m-7 0.2h1m-4.7 0.2h1m48.8 0h1m-52.5 0.1h1m9.1 1h1m-16.2 0.7h1m48.7 0.1h1m-55.1 0.1h1m-7.1 0.3h1m1.4 0.5h1m35.2 0.4h1m-8.1 0.3h1" stroke="#888" stroke-width="1" fill="none" opacity="1.0"/>
<path d="M277.2 182.6h1m6 1.7h1m6.2 0.1h1m-14.5 0.4h1m-12.2 0.4h1m10.5 1.2h1m5.2 0h1m-5.6 0.5h1m-13 0.2h1m1.7 0.3h1m4.2 0.1h1m3 0h1m-18 0.8h1m20.5 0h1m-14.3 0.2h1m-4.8 0.1h1m22.1 0.2h1m-9.6 0.1h1m-1.1 0.3h1m-0.2 0.1h1m-10.1 0.1h1m10.1 0h1m0.7 0h1m-3.8 0.2h1m-21.5 0.1h1m11.9 0h1m1.1 0h1m6.8 0h1m-11.4 0.3h1m-0.3 0h1m2.5 0.1h1m2.5 0h1m5.7 0.1h1m-27.2 0.1h1m7.9 0h1m8.8 0h1m4.9 0h1m-8.7 0.1h1m-6.3 0.1h1m-0.2 0h1m-5.9 0.1h1m7.1 0h1m-9.8 0.3h1m9.7 0.1h1m-19 0.1h1m23.9 0h1m-0.8 0h1m-17.5 0.1h1m0 0h1m2.7 0h1m-2.2 0.1h1m1.7 0h1m2.7 0h1m2.2 0h1m-6.2 0.1h1m1.7 0h1m-15.9 0.1h1m4.1 0h1m0.6 0.1h1m7.7 0h1m-3.3 0.3h1m2.2 0h1m-6.9 0.1h1m2.1 0.1h1m0 0h1m-9.7 0.1h1m0.5 0h1m2.4 0h1m0.8 0.1h1m-8.4 0.1h1m7.4 0h1m-8 0.1h1m10 0h1m-9.1 0.1h1m2.8 0h1m4.8 0h1m-20.3 0.1h1m11.8 0h1m1.6 0h1m-6.6 0.1h1m1.6 0h1m-7.8 0.1h1m1.5 0h1m2.3 0h1m-2.5 0.1h1m12.4 0h1m-14.8 0.1h1m-0.9 0h1m0.2 0h1m0.1 0h1m3 0h1m6.8 0h1m-13.9 0.1h1m2.5 0h1m2.9 0h1m-11.1 0.1h1m1.8 0h1m-7.4 0.1h1m3.1 0h1m-0.7 0h1m11.3 0h1m0.8 0h1m-28.1 0.1h1m6.8 0h1m4 0h1m0.4 0h1m4.2 0h1m7.6 0h1m-26 0.1h1m3.2 0h1m3.3 0h1m2.6 0h1m-0.6 0h1m10.9 0h1m-5 0.1h1m-14.4 0.1h1m-0.3 0h1m0.3 0h1m0.2 0h1m11.8 0h1m0.9 0h1m-29.4 0.1h1m12.2 0h1m2.1 0h1m1.9 0h1m0.7 0h1m7.6 0h1m-21.2 0.1h1m-0.4 0h1m0.3 0h1m-1.6 0.1h1m14.1 0h1m-25.2 0.1h1m15.3 0h1m5.4 0h1m-10.2 0.1h1m0 0h1m1.9 0h1m2.2 0h1m-0.6 0h1m2.4 0h1m-25.5 0.1h1m12.8 0h1m3.4 0h1m2.1 0h1m-3.6 0.1h1m-0.4 0h1m4 0h1m-7.5 0.1h1m-6.1 0.1h1m5.9 0h1m-16.5 0.1h1m8.1 0h1m4.9 0h1m5.6 0h1m-23.6 0.1h1m4.3 0h1m14.7 0h1m-25.6 0.1h1m7.9 0h1m0.1 0h1m5.5 0h1m0.9 0h1m3.1 0h1m-21.9 0.1h1m-0.4 0h1m2.2 0h1m1.5 0h1m1.6 0h1m8 0h1m-16.7 0.1h1m0.8 0h1m4.2 0h1m5.6 0h1m-19.4 0.1h1m6.7 0h1m4.4 0h1m3 0h1m5.9 0h1m-15.9 0.1h1m0.7 0h1m1.2 0h1m7.4 0h1m1.7 0h1m-18.8 0.1h1m5.1 0h1m-0.7 0h1m2 0h1m0.5 0h1m-0.8 0h1m-17.1 0.1h1m12 0h1m6.8 0h1m-22.7 0.1h1m2 0h1m8.9 0h1m0.2 0h1m7.4 0h1m-10.6 0.1h1m-15.1 0.1h1m6.7 0h1m5.7 0h1m2.9 0h1m1.9 0h1m-0.4 0h1m-0.5 0h1m5.7 0h1m4 0h1m-37.3 0.1h1m11.3 0h1m6.1 0h1m1 0h1m0.4 0h1m-15.7 0.1h1m-0.5 0h1m0.2 0h1m0.3 0h1m0.8 0h1m5.1 0h1m9.5 0h1m-18.8 0.1h1m9.8 0h1m2.8 0h1m-10.5 0.1h1m-4.8 0.1h1m1.8 0h1m2.6 0h1m0.9 0h1m0.3 0h1m-0.2 0h1m0.2 0h1m2.5 0h1m-0.1 0h1m-0.8 0h1m-0.7 0h1m-22.5 0.1h1m-0.4 0h1m0.9 0h1m3.2 0h1m0.5 0h1m2.1 0h1m-22.2 0.1h1m5.4 0h1m6.3 0h1m0.6 0h1m12.7 0h1m-16.9 0.1h1m0.9 0h1m2.1 0h1m-1 0h1m3 0h1m0 0h1m0 0h1m-0.8 0h1m-6.2 0.1h1m6.3 0h1m-0.7 0h1m-0.9 0h1m7.1 0h1m-0.9 0h1m-24.7 0.1h1m5.8 0h1m2 0h1m-0.6 0h1m1.9 0h1m1.3 0h1m-19 0.1h1m5.5 0h1m-0.8 0h1m2.5 0h1m0.7 0h1m2.3 0h1m3.4 0h1m-18.1 0.1h1m2.2 0h1m0.7 0h1m0.4 0h1m0.3 0h1m0 0h1m15.8 0h1m-28.3 0.1h1m-0.2 0h1m11.6 0h1m1.8 0h1m-0.5 0h1m4.4 0h1m-20.8 0.1h1m-0.3 0h1m-0.3 0h1m4 0h1m1 0h1m0.9 0h1m-0.7 0h1m-1 0h1m5.7 0h1m1.2 0h1m-0.6 0h1m-24.3 0.1h1m10 0h1m0.8 0h1m-0.9 0h1m-0.5 0h1m3.2 0h1m1.7 0h1m3.1 0h1m-22.7 0.1h1m2.9 0h1m-2.3 0.1h1m-1 0h1m2.7 0h1m4.1 0h1m0.3 0h1m0.2 0h1m-11.3 0.1h1m8.7 0h1m0.8 0h1m4.1 0h1m0.8 0h1m-16.4 0.1h1m0 0h1m0 0h1m0.2 0h1m1.3 0h1m3.2 0h1m-0.1 0h1m-0.8 0h1m-25.5 0.1h1m10.3 0h1m-0.7 0h1m4.6 0h1m-0.1 0h1m-0.6 0h1m-0.7 0h1m0.1 0h1m4.4 0h1m-22 0.1h1m7.9 0h1m1.2 0h1m4.7 0h1m-0.9 0h1m1.5 0h1m-1 0h1m2 0h1m-22.1 0.1h1m11.1 0h1m0.4 0h1m2.5 0h1m-0.4 0h1m9.1 0h1m-31.9 0.1h1m15.3 0h1m-0.5 0h1m4.4 0h1m-0.7 0h1m-24 0.1h1m0.1 0h1m3.2 0h1m4.6 0h1m6 0h1m15.6 0h1m-31.7 0.1h1m1.8 0h1m0.1 0h1m3 0h1m-0.4 0h1m-0.3 0h1m0.7 0h1m-0.5 0h1m0.7 0h1m0.3 0h1m2 0h1m3.2 0h1m-14.1 0.1h1m16 0h1m0.2 0h1m-24.7 0.1h1m7.9 0h1m-0.8 0h1m0.2 0h1m-0.7 0h1m9.7 0h1m-17.3 0.1h1m2.7 0h1m-0.5 0h1m0 0h1m-0.3 0h1m-1 0h1m-0.8 0h1m1.1 0h1m-16.4 0.1h1m4 0h1m10 0h1m3.2 0h1m-23.9 0.1h1m4 0h1m-0.7 0h1m13.4 0h1m-3 0.1h1m-0.6 0h1m0.5 0h1m0.3 0h1m0.6 0h1m1.3 0h1m2.2 0h1m-22.3 0.1h1m2.5 0h1m0.5 0h1m1.3 0h1m-0.4 0h1m0.9 0h1m13.9 0h1m-30.4 0.1h1m3.5 0h1m-0.5 0h1m1.3 0h1m-0.4 0h1m3.7 0h1m0 0h1m1.7 0h1m2.1 0h1m-14.3 0.1h1m0.7 0h1m1.2 0h1m0.4 0h1m2.8 0h1m12.6 0h1m-27.2 0.1h1m-0.1 0h1m-0.7 0h1m1.9 0h1m2.7 0h1m2.1 0h1m2.1 0h1m-0.4 0h1m2.7 0h1m1.9 0h1m-28.4 0.1h1m8.8 0h1m0.6 0h1m2 0h1m-0.4 0h1m-0.6 0h1m1.9 0h1m-0.6 0h1m-0.2 0h1m4.6 0h1m-23.8 0.1h1m2.2 0h1m2.4 0h1m-0.2 0h1m0.9 0h1m3.3 0h1m0.3 0h1m0.9 0h1m-0.9 0h1m-7.9 0.1h1m1.3 0h1m1.4 0h1m-0.3 0h1m1.1 0h1m-12.5 0.1h1m10.5 0h1m-0.8 0h1m-1 0h1m-0.6 0h1m-0.2 0h1m-16.9 0.1h1m1 0h1m2.3 0h1m0.2 0h1m-0.7 0h1m1.2 0h1m0.2 0h1m1.9 0h1m-0.5 0h1m0.5 0h1m1.1 0h1m0.6 0h1m-17.2 0.1h1m0.8 0h1m0.4 0h1m1.8 0h1m-0.3 0h1m3.8 0h1m-0.7 0h1m0.1 0h1m2.2 0h1m4.7 0h1m-21.6 0.1h1m1.4 0h1m1.2 0h1m6.5 0h1m2.1 0h1m2 0h1m-21.6 0.1h1m3.4 0h1m3.6 0h1m1.9 0h1m0.4 0h1m0.3 0h1m0.1 0h1m-17.4 0.1h1m0.4 0h1m1.2 0h1m0.3 0h1m-0.2 0h1m1.1 0h1m-0.1 0h1m1.3 0h1m1.6 0h1m-0.6 0h1m-0.9 0h1m7.9 0h1m-19.5 0.1h1m2.4 0h1m0.5 0h1m2.2 0h1m1.4 0h1m-0.8 0h1m-14.1 0.1h1m-0.5 0h1m-0.9 0h1m1.8 0h1m0.1 0h1m2.7 0h1m10.5 0h1m6.8 0h1m-40.4 0.1h1m7.6 0h1m4.4 0h1m2 0h1m1.1 0h1m1.7 0h1m-0.3 0h1m1.5 0h1m-16.4 0.1h1m0.6 0h1m0.8 0h1m0.4 0h1m-0.4 0h1m1.5 0h1m1.6 0h1m0.1 0h1m2.2 0h1m-0.6 0h1m-0.7 0h1m-0.8 0h1m8.1 0h1m-0.7 0h1m-24.5 0.1h1m0.2 0h1m2.5 0h1m-0.9 0h1m-0.4 0h1m0.2 0h1m0.8 0h1m-0.3 0h1m9.4 0h1m1.6 0h1m-20.9 0.1h1m1.2 0h1m2.1 0h1m1.1 0h1m11.4 0h1m-22.3 0.1h1m1 0h1m0.1 0h1m9.9 0h1m-19.1 0.1h1m3.9 0h1m-1 0h1m0.9 0h1m1.1 0h1m0.7 0h1m1.8 0h1m0.8 0h1m0.2 0h1m2.8 0h1m-26.5 0.1h1m5.6 0h1m-0.9 0h1m0.1 0h1m-0.3 0h1m2.7 0h1m-0.3 0h1m0.7 0h1m2.7 0h1m0.6 0h1m-0.7 0h1m9.9 0h1m-21.5 0.1h1m0.9 0h1m6.1 0h1m0.9 0h1m-23.2 0.1h1m5.8 0h1m3.7 0h1m0.8 0h1m2.8 0h1m4.9 0h1m-14.7 0.1h1m1.5 0h1m-0.2 0h1m1 0h1m-0.4 0h1m0.8 0h1m3.8 0h1m2.2 0h1m-0.4 0h1m2.5 0h1m-0.5 0h1m-16.3 0.1h1m0.4 0h1m2.6 0h1m1.6 0h1m3 0h1m-0.2 0h1m1.9 0h1m-19 0.1h1m-0.9 0h1m-0.5 0h1m1.4 0h1m0.3 0h1m0.3 0h1m4 0h1m-0.3 0h1m0.2 0h1m-0.9 0h1m0.3 0h1m-21 0.1h1m0.7 0h1m-0.8 0h1m2.6 0h1m-0.7 0h1m-0.1 0h1m3.4 0h1m0.7 0h1m-18.4 0.1h1m2.3 0h1m6.5 0h1m1.7 0h1m-0.7 0h1m0.2 0h1m0.3 0h1m8.1 0h1m-16.7 0.1h1m3.4 0h1m-0.5 0h1m1.3 0h1m1.1 0h1m7.8 0h1m-26.1 0.1h1m5 0h1m6.5 0h1m0.9 0h1m-0.9 0h1m-0.1 0h1m0 0h1m-15.8 0.1h1m6.1 0h1m-0.2 0h1m4 0h1m5.7 0h1m5.5 0h1m-29.1 0.1h1m2.5 0h1m-0.1 0h1m3.6 0h1m11.2 0h1m-16.2 0.1h1m-0.2 0h1m0.1 0h1m0.4 0h1m-0.5 0h1m-0.6 0h1m11.6 0h1m-15.1 0.1h1m-0.8 0h1m-0.4 0h1m2.1 0h1m0.5 0h1m-0.9 0h1m1.8 0h1m-0.9 0h1m0.4 0h1m7.2 0h1m3.4 0h1m-21.2 0.1h1m-0.9 0h1m-0.3 0h1m-0.4 0h1m2.6 0h1m2.2 0h1m6.9 0h1m-26.1 0.1h1m9.1 0h1m-0.5 0h1m-1 0h1m0.5 0h1m5 0h1m-7.8 0.1h1m4 0h1m-0.9 0h1m-0.8 0h1m-0.7 0h1m2.8 0h1m-0.6 0h1m-20.3 0.1h1m4.6 0h1m2.6 0h1m-0.4 0h1m2.7 0h1m7.6 0h1m-25 0.1h1m1.8 0h1m4.1 0h1m2.1 0h1m-0.5 0h1m-0.6 0h1m-1 0h1m2 0h1m3.2 0h1m-18.9 0.1h1m1.4 0h1m1.4 0h1m-0.9 0h1m1 0h1m7.8 0h1m0.8 0h1m-1 0h1m4.6 0h1m-17.8 0.1h1m0.2 0h1m0.2 0h1m0.7 0h1m-0.8 0h1m6.6 0h1m-13.3 0.1h1m-0.2 0h1m0.5 0h1m1.6 0h1m1 0h1m2.3 0h1m0.7 0h1m3.2 0h1m-25 0.1h1m0.7 0h1m3.3 0h1m-1.3 0.1h1m1.5 0h1m0.8 0h1m-0.5 0h1m2.6 0h1m4.3 0h1m-30.9 0.1h1m7 0h1m3.4 0h1m0.9 0h1m-0.5 0h1m20.3 0h1m-19.7 0.1h1m-0.9 0h1m3.5 0h1m2.1 0h1m0.2 0h1m-0.6 0h1m0.3 0h1m-9.4 0.1h1m1.3 0h1m-0.2 0h1m4.8 0h1m0.5 0h1m-26.3 0.1h1m9.6 0h1m3.7 0h1m-0.8 0h1m0.1 0h1m0.9 0h1m0.4 0h1m-8.8 0.1h1m4.6 0h1m-0.5 0h1m4.1 0h1m8.4 0h1m-23.9 0.1h1m3 0h1m1.1 0h1m1.5 0h1m2.8 0h1m6.2 0h1m-32.9 0.1h1m5.6 0h1m8.2 0h1m1.7 0h1m-0.7 0h1m5.2 0h1m-17.9 0.1h1m8 0h1m2.2 0h1m1.9 0h1m-0.2 0h1m-12.6 0.1h1m3.6 0h1m-0.9 0.1h1m-0.9 0h1m-0.3 0h1m0.9 0h1m-0.6 0h1m1 0h1m10.1 0h1m-18.4 0.1h1m1.2 0h1m-0.3 0h1m0.9 0h1m-0.5 0h1m-0.6 0h1m-6.2 0.1h1m-0.9 0h1m4.7 0h1m17.2 0h1m-17.8 0.1h1m0.7 0h1m-21.4 0.1h1m0.9 0h1m5.5 0h1m3.6 0h1m3 0h1m2.2 0h1m-0.2 0h1m-0.7 0h1m-0.7 0h1m-15.9 0.1h1m2.8 0h1m3.6 0h1m0.4 0h1m1.5 0h1m2.6 0h1m3.6 0h1m0.1 0h1m-31.4 0.1h1m10.6 0h1m4.4 0h1m13.1 0h1m-22.1 0.1h1m5.8 0h1m5.6 0h1m-0.1 0h1m-0.9 0h1m-0.9 0h1m-13.8 0.1h1m1.1 0h1m0.1 0.1h1m4.3 0h1m-12.2 0.1h1m2.5 0h1m9.1 0h1m7.4 0h1m-17.3 0.1h1m2.5 0h1m0.2 0h1m1.1 0h1m-0.7 0h1m-0.2 0h1m-1 0h1m6 0h1m-30 0.1h1m12.1 0h1m1 0h1m-0.7 0h1m4.3 0h1m-0.7 0h1m-4.3 0.1h1m-0.6 0h1m4.9 0h1m-12.3 0.1h1m-0.5 0h1m1 0h1m0.3 0h1m-0.8 0h1m1 0h1m-0.1 0h1m4.4 0h1m-18.9 0.1h1m-0.8 0h1m0 0h1m6.1 0h1m0.4 0h1m1.2 0h1m-0.7 0h1m1.1 0h1m-0.6 0h1m-8.3 0.1h1m6.6 0h1m-14 0.1h1m5.6 0h1m0.5 0h1m-5.2 0.1h1m5.9 0h1m-15.1 0.1h1m5.3 0h1m2 0h1m5.3 0h1m1.9 0h1m-16 0.1h1m6.5 0h1m-0.1 0h1m0 0h1m1.7 0h1m-9 0.1h1m4.2 0h1m-11.6 0.1h1m7 0h1m0.3 0h1m-0.6 0h1m-0.6 0h1m-0.9 0h1m-7.1 0.1h1m2.2 0h1m-0.7 0h1m-0.8 0h1m0.6 0h1m-0.5 0h1m6.9 0h1m-15.7 0.1h1m2.8 0h1m10.7 0h1m1 0h1m-18.9 0.1h1m-0.7 0h1m2.1 0h1m0.6 0h1m4.4 0h1m0.1 0h1m1 0h1m-27 0.1h1m18.6 0h1m2.1 0h1m-0.5 0h1m1.3 0h1m-19.1 0.1h1m7.6 0h1m4.2 0h1m1.8 0h1m1.8 0h1m-17.1 0.1h1m9 0h1m-0.1 0h1m2.3 0h1m-17 0.1h1m7.1 0h1m-1.4 0.1h1m6.4 0h1m-11.6 0.1h1m5 0h1m-8.1 0.1h1m1.7 0h1m6.3 0h1m-15.2 0.1h1m-0.6 0h1m13.3 0h1m-10.5 0.1h1m2.5 0h1m1.2 0h1m4.5 0h1m-15.9 0.1h1m8.7 0h1m10.4 0h1m3.5 0h1m-25.6 0.1h1m15 0h1m-15.6 0.1h1m-0.2 0h1m16.2 0h1m-18 0.2h1m0.2 0h1m9.4 0h1m-20.4 0.1h1m8.2 0h1m2.6 0h1m5.3 0h1m-15.7 0.1h1m10.8 0h1m4.3 0h1m-21 0.1h1m5.1 0h1m-0.9 0h1m3.2 0h1m10.4 0h1m4.4 0h1m-16.1 0.1h1m3 0h1m-17.1 0.1h1m21.8 0h1m0.5 0h1m-33 0.3h1m16.2 0h1m-15 0.2h1m24.4 0.2h1m-15.8 0.1h1m3.7 0.1h1m-7.8 0.2h1m5 0h1m-4.9 0.1h1m1.8 0h1m4.2 0.1h1m-2.8 0.1h1m5.2 0.1h1m-9.9 0.1h1m3 0h1m-3.6 0.1h1m-0.4 0h1m-8.5 0.2h1m9.7 0h1m5.2 0h1m-11 0.1h1m-1.2 0.1h1m7.1 0h1m-2.4 0.1h1m-4.2 0.1h1m-2.2 0.1h1m-11 0.1h1m7.4 0h1m-7 0.1h1m6.5 0h1m2 0h1m1 0h1m-15.9 0.1h1m11.1 0.1h1m5.1 0.1h1m-6.7 0.1h1m-12.6 0.1h1m2.2 0h1m4.7 0.2h1m-0.4 0.5h1m-0.3 0h1m0.2 0h1m-4.6 0.1h1m1.2 0h1m-3.5 0.1h1m-5.2 0.7h1m1.3 0.1h1m3.6 0.1h1m-19.5 0.6h1m13.2 0.3h1m3 0.1h1m4.6 0h1m-21.3 0.3h1m8.3 0.4h1m7.3 0.3h1m-1.7 1.2h1" stroke="#555" stroke-width="1" fill="none" opacity="1.0"/>
<path d="M342.7 188.9h1m-3.8 0.9h1m5.6 1.8h1m2 1.1h1m6 0.6h1m-19.5 0.4h1m2.7 0.4h1m14 0.1h1m-14.8 0.3h1m-1.2 0.3h1m1.7 0h1m7.7 0h1m-14.1 0.5h1m0.7 0.2h1m-11.8 0.1h1m12.5 0h1m15.7 0h1m-15.7 0.1h1m-4.7 0.1h1m9.3 0h1m7.6 0.2h1m-20.2 0.3h1m11 0h1m-1.6 0.2h1m-22.2 0.6h1m2.9 0h1m4.1 0h1m9.5 0.1h1m-6.4 0.1h1m2.2 0h1m-24.7 0.1h1m7.1 0.4h1m2.6 0h1m14.7 0.1h1m-17.6 0.1h1m14.3 0h1m0.4 0h1m-18.9 0.2h1m14.8 0h1m-8.4 0.1h1m6.2 0.3h1m-3.3 0.1h1m-2.6 0.1h1m-0.6 0.3h1m-10.1 0.2h1m-6.8 0.4h1m12.3 0h1m12 0h1m-31.1 0.1h1m4.1 0.1h1m20.5 0.1h1m10.9 0h1m-27.5 0.1h1m7.2 0.3h1m2.2 0h1m-12.6 0.1h1m5.4 0h1m-14.1 0.2h1m7.5 0h1m-0.1 0h1m-6.2 0.1h1m8.1 0h1m-6.7 0.1h1m1.1 0.1h1m8.2 0h1m-14.6 0.5h1m17.6 0h1m-12.9 0.1h1m-18.5 0.1h1m8.6 0h1m7.4 0.1h1m3.6 0h1m-2.1 0.1h1m-9.8 0.1h1m-9.1 0.1h1m21.8 0h1m-16.6 0.1h1m9.3 0.2h1m-6.6 0.2h1m-4.4 0.1h1m-6.3 0.1h1m3 0h1m0.9 0.1h1m-1.6 0.1h1m-1 0.2h1m-18.4 0.1h1m9.9 0h1m18.8 0h1m3.7 0.1h1m-23.4 0.2h1m8.4 0h1m1.3 0h1m2.6 0.2h1m5.9 0h1m-14.2 0.1h1m-22.7 0.1h1m10.7 0h1m2.6 0.1h1m-11.2 0.1h1m19.7 0.1h1m-19.5 0.1h1m16.2 0h1m-24.1 0.1h1m-3.5 0.3h1m13 0h1m-1.7 0.1h1m14.8 0h1m-1.4 0.1h1m-10.5 0.4h1m14.3 0h1m-9.6 0.1h1m-1.6 0.1h1m-1.4 0.1h1m10.6 0h1m-16.9 0.2h1m4.9 0h1m-7 0.1h1m1.6 0h1m6.3 0h1m-18.7 0.3h1m3.9 0h1m1.5 0h1m-3.1 0.1h1m7.8 0.5h1m-13.2 0.1h1m-9.4 0.1h1m-2.4 0.1h1m31.2 0.1h1m-23.3 0.1h1m6 0.1h1m-11.2 0.1h1m5.5 0h1m9.2 0.2h1m-14.1 0.1h1m9.5 0.1h1m-17.5 0.2h1m28 0.1h1m-15.3 0.1h1m-9.4 0.3h1m22.2 0.5h1m-24.7 0.1h1m13.4 0h1m-14.9 1.1h1m2.5 0.1h1m-2.6 0.4h1m-7.4 0.2h1m-0.7 0.3h1m6.5 1.5h1m3.8 3.2h1" stroke="#888" stroke-width="1" fill="none" opacity="1.0"/>
<path d="M350.4 201.5h1m10.5 3.7h1m-6.8 3.9h1m-18 0.5h1m18.5 0.5h1m-7.3 1.2h1m29.1 0.6h1m-13.1 0.1h1m-18.6 1.3h1m1.7 0.4h1m21 0.8h1m-9.1 0.1h1m0.5 0.2h1m-5.4 0.1h1m-24.6 0.3h1m12.2 0.1h1m2.8 0.9h1m-11.4 0.7h1m6.1 0h1m11.2 0.4h1m2.7 0.2h1m-9.8 0.7h1m-14.2 0.2h1m8.9 0.4h1m-7.7 0.3h1m10.8 0h1m-17.7 0.3h1m30 0.2h1m-37.7 0.2h1m20.2 0h1m-22.4 0.2h1m1.5 0.2h1m26.2 0.2h1m-11.2 0.2h1m-7 0.1h1m3.5 0.1h1m6 0.2h1m1.3 0.1h1m-9.5 0.3h1m-2.3 0.1h1m-9.2 0.2h1m-10.1 0.1h1m5.4 0h1m5 0.3h1m2.1 0.3h1m12.5 0.1h1m3 0.1h1m-18.2 0.1h1m13.8 0.2h1m-12.4 0.1h1m7.8 0.2h1m-11.6 0.1h1m3.6 0h1m-8.4 0.1h1m-20.6 0.3h1m15.5 0h1m-11.7 0.2h1m3.8 0h1m7.6 0.3h1m-7.1 0.1h1m16.7 0h1m-6.7 0.2h1m-11 0.1h1m6 0h1m-3.5 0.1h1m2.9 0.1h1m-18.3 0.1h1m6.7 0.1h1m8.6 0.2h1m-9 0.1h1m2.1 0h1m-0.6 0h1m0.9 0.1h1m-2 0.2h1m0.5 0h1m-3.7 0.1h1m3.1 0.1h1m-24.4 0.1h1m0.8 0h1m10.8 0.2h1m9.9 0.2h1m12.3 0h1m-13.3 0.2h1m-6.3 0.1h1m-1.4 0.6h1m9.5 0.1h1m-2 0.1h1m-2.4 0.4h1m-15 0.1h1m3.5 0h1m-10.6 0.1h1m4.2 0h1m-10.1 0.1h1m19.2 0h1m-13.2 0.1h1m8 0h1m-6.5 0.1h1m2.7 0h1m13.8 0.1h1m-33.6 0.2h1m4 0.1h1m7.6 0h1m19.7 0.2h1m-15.4 0.1h1m26.5 0.2h1m-29.9 0.2h1m-4.5 0.3h1m2.1 0h1m20 0h1m-16.1 0.2h1m-0.1 0.1h1m-1.9 0.1h1m-5.9 0.1h1m4.7 0h1m-17.3 0.3h1m15 0h1m-1 0.1h1m-25.4 0.1h1m-12.4 0.2h1m31.7 0h1m-9.4 0.2h1m1.5 0.2h1m3.4 0h1m1.4 0h1m1.9 0h1m-0.5 0.1h1m-8.9 0.2h1m-19.8 0.4h1m16 0h1m0.1 0h1m8.9 0h1m-14.7 0.1h1m6.9 0h1m-3.7 0.1h1m11.1 0h1m-25.5 0.1h1m5.9 0h1m1.4 0h1m9.3 0.2h1m15 0h1m-20.3 0.1h1m7.8 0h1m-17.4 0.1h1m-11 0.2h1m25 0.2h1m-13.4 0.1h1m16.3 0h1m-28.4 0.1h1m-0.6 0.1h1m14.1 0.2h1m-15.9 0.1h1m2.6 0.1h1m-6.5 0.1h1m17.6 0.3h1m-13.8 0.1h1m10.5 0.1h1m-1.1 0.3h1m-11.4 0.2h1m6.9 0h1m-16.9 0.2h1m25.8 0h1m-10.5 0.1h1m-4.1 0.1h1m-0.8 0h1m-3.6 0.1h1m6.3 0.1h1m12.3 0.1h1m-29.8 0.1h1m11 0.3h1m-1.4 0.1h1m-4.1 0.1h1m10.4 0h1m-23.4 0.1h1m19.6 0h1m-7.9 0.1h1m-10.8 0.1h1m-21.7 0.1h1m31.9 0h1m2.6 0.1h1m-19.5 0.1h1m5 0h1m4.6 0h1m1.4 0h1m-12.5 0.5h1m26.3 0h1m-40.2 0.1h1m17.4 0h1m3 0.2h1m4.5 0h1m2.7 0.2h1m-9.9 0.1h1m-10.5 0.1h1m-1 0.2h1m-7.6 0.2h1m4.5 0h1m27.3 0h1m-19.3 0.3h1m-14.4 0.1h1m10.3 0h1m13.6 0h1m-6.4 0.1h1m-16.9 0.4h1m10.9 0.1h1m12.2 0h1m-30.6 0.1h1m4 0h1m6.9 0h1m-15.6 0.4h1m15.6 0h1m24.7 0h1m-30.2 0.1h1m3 0.6h1m1.8 0.1h1m11 0.1h1m2.8 0h1m-20 0.1h1m-22.6 0.2h1m9 0h1m20.1 0.1h1m-0.2 0h1m-5.2 0.2h1m-16.4 0.2h1m3.8 0.1h1m4.3 0h1m2.7 0h1m0.9 0h1m-9.9 0.1h1m0.4 0h1m-14.9 0.2h1m14.8 0.1h1m-7.6 0.1h1m11.1 0.4h1m-10.7 0.1h1m-10.1 0.1h1m7.6 0h1m-20.5 0.1h1m13.6 0.2h1m4.5 0h1m10.8 0h1m-29.2 0.3h1m19.3 0h1m-11.3 0.3h1m9.6 0.4h1m-2.3 0.1h1m8.8 0h1m-16.4 0.1h1m-8.3 0.4h1m12.7 0.1h1m-18.3 1.2h1m-0.7 0h1m24.3 0.3h1m-28 0.2h1m11.7 0.2h1m-4.4 0.1h1m6.5 0.1h1m3.7 0.6h1m18.4 0h1m-30.6 0.1h1m11.5 0h1m6.6 0.1h1m2.4 0.1h1m-18.6 0.3h1m19.5 0h1m-37.8 0.5h1m21.8 0.6h1m-14.2 0.6h1m24 0.6h1m-39.3 0.2h1" stroke="#888" stroke-width="1" fill="none" opacity="1.0"/>
<path d="M417.7 207.2h1m-9.1 7.3h1m3.3 0h1m-1.2 3.7h1m-7.8 0.8h1m5.4 3.5h1m-0.4 0.1h1m-1.8 0.3h1m-1.9 0.7h1m-2.2 0.6h1m4.1 0.8h1m-5.1 0.1h1m-1.2 0.4h1m1.6 0.1h1m-7.1 0.2h1m1 0h1m-0.7 0.2h1m3.1 0h1m-7.4 1.3h1m3.8 0.1h1m-9 0.1h1m5.9 0h1m-9.5 0.1h1m5.5 0.1h1m-4.2 0.4h1m10 0.4h1m-9.3 0.2h1m2.3 0.5h1m-6.7 0.1h1m2.2 0h1m4.1 0.2h1m-5.3 0.1h1m-6.8 0.3h1m8.7 0.9h1m-7.5 0.2h1m3.4 0.4h1m-5.1 0.6h1m4.8 0.1h1m-4.5 0.7h1m-0.1 0h1m-8.8 0.2h1m5.3 0.1h1m2.7 0h1m-5.5 0.3h1m-1.9 0.1h1m-5.7 0.2h1m6.5 0.1h1m-0.3 0.4h1m-0.4 0.1h1m-7.9 0.1h1m6.7 0.2h1m-3.8 0.5h1m4.4 0h1m-11.5 0.2h1m2.9 0.2h1m0 0h1m-10.5 0.2h1m10.5 0h1m-5 0.1h1m1.8 0.1h1m-2.5 0.2h1m-1.6 0.3h1m-1.5 0.4h1m-0.8 0h1m3.5 0.3h1m-1.1 0.2h1m-5.3 0.2h1m-3.3 0.1h1m1.4 0h1m2.3 0h1m1.3 0.1h1m-2.9 0.1h1m-0.8 0h1m-1.3 0.6h1m-3.8 0.1h1m2.8 0h1m-0.3 0.2h1m-7.3 0.1h1m2.4 0.4h1m-2.7 0.2h1m-9 0.8h1m9.6 0.9h1m-5.9 0.7h1m3.8 0h1m-6.4 0.5h1m4.9 0.5h1m-1.9 0.2h1m0.6 0.5h1m-5 0.2h1m5.1 1.8h1m-3.6 0.3h1m0.5 0.8h1m-8.6 0.1h1m3.8 0.4h1m1.2 0.7h1m-1.2 1.2h1m-1 0.3h1m-4.3 1.4h1" stroke="#888" stroke-width="1" fill="none" opacity="1.0"/>
<path d="M379.8 183.4h1m-0.8 0.8h1m-22.3 2.1h1m0.1 0.2h1m14.8 0.5h1m-13.5 0.1h1m3.9 0.1h1m-4.4 0.2h1m-20.9 0.1h1m17.7 0h1m-4.4 0.2h1m-3.2 0.7h1m8.7 0h1m-9.1 0.4h1m17.7 0h1m-9.2 0.1h1m-6 0.2h1m11.6 0.2h1m-9 0.1h1m0.1 0h1m-10.8 0.1h1m18.1 0h1m-16.1 0.2h1m5 0.3h1m4.3 0h1m-20.7 0.1h1m8.5 0.1h1m8.6 0h1m-4 0.1h1m-3.4 0.1h1m-5.7 0.1h1m8.9 0h1m2.7 0h1m-15.3 0.1h1m-15.5 0.1h1m9 0h1m8.3 0h1m7.3 0h1m-13.1 0.1h1m0.6 0h1m6.7 0h1m-18 0.1h1m5.6 0h1m-1.2 0.1h1m2 0h1m-5.9 0.2h1m-5.3 0.2h1m8.6 0h1m-3.6 0.1h1m-3.3 0.2h1m1.5 0h1m-5.1 0.1h1m1.5 0h1m0.1 0h1m-1.9 0.1h1m0.5 0h1m7.7 0h1m-0.5 0h1m9.5 0h1m-31 0.2h1m15 0h1m-10 0.1h1m8.3 0h1m-12.6 0.1h1m2.8 0h1m3.9 0h1m-9.8 0.1h1m2.5 0h1m-6.5 0.2h1m0.8 0h1m1.7 0h1m16.1 0h1m-25.6 0.1h1m3.5 0h1m2.1 0h1m1.7 0h1m0 0h1m-2.8 0.1h1m3.7 0h1m-2.7 0.1h1m1.2 0h1m1.7 0.1h1m2.4 0h1m-22.2 0.1h1m13 0h1m0 0h1m2 0h1m-14.5 0.1h1m8.3 0h1m-14.7 0.1h1m-0.6 0h1m3.9 0h1m-0.7 0h1m-0.5 0h1m0 0h1m0.8 0h1m8.5 0h1m8.3 0h1m-17.5 0.1h1m0.2 0h1m1.2 0h1m-4 0.1h1m6.7 0h1m-24.6 0.1h1m2.7 0h1m6.5 0h1m5.7 0h1m1 0h1m-0.4 0h1m-15.7 0.1h1m16.9 0h1m-15.6 0.1h1m2.7 0h1m-0.5 0h1m5.3 0h1m2.9 0.1h1m-17 0.1h1m-1 0h1m2.8 0h1m10 0h1m-13 0.1h1m5.4 0h1m1.1 0h1m4.5 0h1m-11 0.1h1m7.1 0h1m-0.3 0h1m-7.6 0.1h1m6.9 0h1m7 0h1m-13.6 0.1h1m-0.1 0h1m0.6 0h1m2.1 0h1m-0.2 0h1m-14 0.1h1m8.7 0h1m-13.7 0.1h1m1.2 0h1m0.1 0h1m-1 0h1m2.9 0h1m12.6 0h1m-13.8 0.1h1m0.4 0h1m-0.2 0h1m-0.9 0h1m0.3 0h1m-10 0.1h1m1.9 0h1m10.7 0h1m-11.5 0.1h1m2.2 0h1m0.7 0h1m1.2 0h1m1.7 0h1m0.1 0h1m-23 0.1h1m5.4 0h1m0.9 0h1m0.5 0h1m4.2 0h1m3.1 0h1m-0.6 0h1m-25.3 0.1h1m10.5 0h1m9.7 0h1m4.4 0h1m-17.7 0.1h1m4.1 0h1m-15.6 0.1h1m3.5 0h1m4.2 0h1m0.2 0h1m0.8 0h1m4.3 0h1m-0.7 0h1m8.5 0h1m-34.1 0.1h1m7.1 0h1m4.7 0h1m3.6 0h1m0.5 0h1m1.6 0h1m-0.8 0h1m-7.3 0.1h1m2.1 0h1m5.9 0h1m-12.1 0.1h1m1.6 0h1m7.7 0h1m2.2 0h1m0.1 0h1m0.8 0h1m-26.9 0.1h1m6.8 0h1m5.4 0h1m-4.2 0.1h1m-1 0h1m-3.1 0.1h1m1.3 0h1m1.9 0h1m2.4 0h1m-10.9 0.1h1m1.6 0h1m1 0h1m-0.5 0h1m-0.8 0h1m-0.5 0h1m1.7 0h1m-0.4 0h1m-0.5 0h1m0.4 0h1m-3.4 0.1h1m-0.3 0h1m-15.6 0.1h1m2.6 0h1m1.9 0h1m-10.3 0.1h1m3.4 0h1m-0.7 0h1m0.9 0h1m1.5 0h1m3.5 0h1m-0.3 0h1m0.9 0h1m9.2 0h1m-20.4 0.1h1m4 0h1m-0.3 0h1m1.5 0h1m0.1 0h1m1.6 0h1m-14.7 0.1h1m3.6 0h1m0.9 0h1m0.6 0h1m0.7 0h1m-19.6 0.1h1m4 0h1m7.3 0h1m-0.6 0h1m-0.6 0h1m4.9 0h1m0.4 0h1m-0.7 0h1m-0.7 0h1m0.2 0h1m0.1 0h1m-19.7 0.1h1m-0.6 0h1m0.5 0h1m1.3 0h1m4 0h1m1.4 0h1m7.6 0h1m-15.6 0.1h1m8.6 0h1m2.3 0h1m-0.9 0h1m1.6 0h1m-4.5 0.1h1m-0.7 0h1m-24.4 0.1h1m12.2 0h1m-0.8 0h1m2.6 0h1m0.9 0h1m-0.9 0h1m-10.5 0.1h1m10.2 0h1m7.3 0h1m-23.5 0.1h1m1 0h1m3.2 0h1m1.1 0h1m4.3 0h1m0.4 0h1m2.9 0h1m7.1 0h1m-38.7 0.1h1m9.7 0h1m1.8 0h1m4.1 0h1m0.4 0h1m-0.2 0h1m0 0h1m1.9 0h1m15.4 0h1m-22.8 0.1h1m-0.4 0h1m-0.9 0h1m4.5 0h1m-0.5 0h1m8.2 0h1m-21.8 0.1h1m-0.3 0h1m-0.6 0h1m1.7 0h1m0.7 0h1m0 0h1m6.2 0h1m2.3 0h1m-17.2 0.1h1m3 0h1m2 0h1m2.5 0h1m0.4 0h1m1.1 0h1m1 0h1m-25.2 0.1h1m2.4 0h1m2.6 0h1m-0.3 0h1m-0.5 0h1m2.7 0h1m1.6 0h1m10.4 0h1m-26.7 0.1h1m3 0h1m0.4 0h1m2.5 0h1m0.5 0h1m0.7 0h1m1.8 0h1m-0.4 0h1m-0.7 0h1m5.6 0h1m-19.4 0.1h1m0.8 0h1m-0.6 0h1m0.5 0h1m0.2 0h1m-0.1 0h1m1 0h1m-0.2 0h1m-0.9 0h1m8.7 0h1m-0.5 0h1m-19.1 0.1h1m5.5 0h1m6.1 0h1m-1 0h1m-12.5 0.1h1m-0.2 0h1m-0.5 0h1m6.9 0h1m-11.4 0.1h1m0 0h1m0.3 0h1m0.7 0h1m0.1 0h1m-0.8 0h1m0.3 0h1m-0.9 0h1m-0.7 0h1m-0.8 0h1m0.1 0h1m-0.6 0h1m-0.1 0h1m0.6 0h1m0.7 0h1m0.4 0h1m-19.8 0.1h1m7.6 0h1m4 0h1m7.4 0h1m-26.6 0.1h1m5.9 0h1m3.2 0h1m-0.1 0h1m-0.7 0h1m-0.3 0h1m2.7 0h1m-22.6 0.1h1m12 0h1m1.8 0h1m2.9 0h1m0.4 0h1m-15.6 0.1h1m7.6 0h1m11.6 0h1m-0.9 0h1m3.6 0h1m-33.8 0.1h1m18.2 0h1m-0.1 0h1m-0.6 0h1m-0.6 0h1m-0.8 0h1m0 0h1m14.2 0h1m-25.7 0.1h1m3.4 0h1m0.1 0h1m2 0h1m-0.7 0h1m3.6 0h1m2.4 0h1m-0.8 0h1m-15.8 0.1h1m0 0h1m-0.9 0h1m14.7 0h1m1 0h1m-20.3 0.1h1m2.5 0h1m1.1 0h1m-7.6 0.1h1m-0.3 0h1m-0.8 0h1m-0.2 0h1m-0.5 0h1m1.3 0h1m-0.4 0h1m1.2 0h1m-0.7 0h1m5.9 0h1m2 0h1m-22.4 0.1h1m1.3 0h1m1.3 0h1m1.7 0h1m0.4 0h1m-0.4 0h1m0 0h1m-0.2 0h1m-0.8 0h1m-1 0h1m0.2 0h1m-12.3 0.1h1m10.4 0h1m2.1 0h1m0.6 0h1m-15 0.1h1m0.3 0h1m3.7 0h1m3 0h1m-16 0.1h1m0.8 0h1m3.8 0h1m0.2 0h1m0.4 0h1m-0.9 0h1m-0.9 0h1m0 0h1m6.7 0h1m0.2 0h1m10 0h1m-35.4 0.1h1m3.6 0h1m5.9 0h1m-0.5 0h1m1.5 0h1m-0.5 0h1m-0.7 0h1m0 0h1m6 0h1m4.3 0h1m-26.7 0.1h1m0 0h1m2 0h1m0.2 0h1m-0.2 0h1m2.9 0h1m-0.9 0h1m1.9 0h1m4 0h1m0.5 0h1m5.6 0h1m-21.6 0.1h1m0.4 0h1m1.2 0h1m0.4 0h1m4.3 0h1m-0.6 0h1m-0.6 0h1m0.9 0h1m-0.7 0h1m2.1 0h1m-13.3 0.1h1m3.7 0h1m0.8 0h1m2.8 0h1m-0.5 0h1m-11.1 0.1h1m0.5 0h1m-0.9 0h1m1.4 0h1m3.2 0h1m-15.6 0.1h1m2.3 0h1m1.2 0h1m-0.3 0h1m0.8 0h1m3 0h1m0.4 0h1m-0.3 0h1m4.3 0h1m-0.9 0h1m-0.6 0h1m-15.9 0.1h1m2.8 0h1m8.3 0h1m0.9 0h1m-0.3 0h1m-24.1 0.1h1m0.3 0h1m4 0h1m-0.5 0h1m-0.2 0h1m2.5 0h1m0.1 0h1m0.4 0h1m-0.4 0h1m-0.6 0h1m0.7 0h1m-0.9 0h1m-19.6 0.1h1m5.8 0h1m0.4 0h1m-0.1 0h1m3.4 0h1m-0.1 0h1m6.9 0h1m-0.4 0h1m-0.5 0h1m7.8 0h1m-19.2 0.1h1m2.9 0h1m-0.7 0h1m-12.5 0.1h1m2.4 0h1m-0.1 0h1m1.4 0h1m-0.4 0h1m4.8 0h1m-0.7 0h1m-15.7 0.1h1m6.7 0h1m0.3 0h1m-0.1 0h1m1.4 0h1m6.1 0h1m-20.9 0.1h1m1.7 0h1m3.7 0h1m11.6 0h1m-12.9 0.1h1m2.6 0h1m1.9 0h1m-0.8 0h1m-0.1 0h1m3.7 0h1m-21.3 0.1h1m2.1 0h1m-1 0h1m-0.5 0h1m-0.4 0h1m-1 0h1m3 0h1m2.4 0h1m-0.1 0h1m0.3 0h1m4.7 0h1m0.9 0h1m-0.7 0h1m0 0h1m-27.8 0.1h1m17.9 0h1m1.2 0h1m0.6 0h1m-20.4 0.1h1m0.9 0h1m1.7 0h1m4 0h1m-0.9 0h1m1.9 0h1m0.4 0h1m-0.1 0h1m1.7 0h1m-10.2 0.1h1m1.4 0h1m-0.8 0h1m8.9 0h1m1.7 0h1m-21.6 0.1h1m5.6 0h1m4.5 0h1m0 0h1m2.5 0h1m1.3 0h1m-27.3 0.1h1m1.4 0h1m3.3 0h1m1.9 0h1m-0.8 0h1m-0.8 0h1m1.5 0h1m0.3 0h1m-0.6 0h1m-0.9 0h1m4.5 0h1m-14.6 0.1h1m3.4 0h1m4.1 0h1m1.6 0h1m-10.8 0.1h1m4 0h1m-0.3 0h1m4.9 0h1m-0.9 0h1m0.9 0h1m-0.4 0h1m1 0h1m-19.8 0.1h1m-0.6 0h1m0.2 0h1m-0.7 0h1m3.2 0h1m-0.3 0h1m-0.7 0h1m2.2 0h1m0.3 0h1m4.6 0h1m0 0h1m-21.9 0.1h1m3.1 0h1m2.5 0h1m1.1 0h1m0.9 0h1m0.8 0h1m2.2 0h1m-9.9 0.1h1m-0.4 0h1m1.5 0h1m0.2 0h1m0.4 0h1m0.3 0h1m1.3 0h1m9 0h1m-28.4 0.1h1m2.7 0h1m2.5 0h1m1.9 0h1m4.3 0h1m-12.9 0.1h1m8.4 0h1m2.3 0h1m-0.8 0h1m3.5 0h1m3.4 0h1m0.9 0h1m-28.1 0.1h1m-0.6 0h1m3.5 0h1m1.4 0h1m5.9 0h1m4.6 0h1m5.1 0h1m-27.5 0.1h1m4.9 0h1m2.3 0h1m6.7 0h1m0.6 0h1m0.3 0h1m-14.4 0.1h1m0.2 0h1m3 0h1m-0.7 0h1m0.2 0h1m3.2 0h1m-0.5 0h1m4.2 0h1m-9.3 0.1h1m1.9 0h1m-15.9 0.1h1m5 0h1m-0.7 0h1m3.3 0h1m-0.2 0h1m9 0h1m-18.4 0.1h1m0.2 0h1m1.2 0h1m0 0h1m1.8 0h1m-0.8 0h1m1.4 0h1m2 0h1m0.1 0h1m3 0h1m-22.2 0.1h1m9.3 0h1m0.8 0h1m-14.2 0.1h1m-0.6 0h1m1.9 0h1m0.5 0h1m-0.2 0h1m0.3 0h1m0.8 0h1m-0.5 0h1m-0.4 0h1m-0.4 0h1m1 0h1m-0.7 0h1m2 0h1m2.2 0h1m-0.2 0h1m-18.3 0.1h1m4.9 0h1m2.2 0h1m4.8 0h1m2.3 0h1m-14.5 0.1h1m-0.3 0h1m0 0h1m-0.4 0h1m-0.2 0h1m1.7 0h1m1.1 0h1m0.4 0h1m0.2 0h1m10.3 0h1m-24 0.1h1m0.4 0h1m0.6 0h1m0.9 0h1m2 0h1m3.6 0h1m0.2 0h1m1.4 0h1m-13.9 0.1h1m-0.8 0h1m2.9 0h1m0.4 0h1m-1 0h1m-0.6 0h1m0.4 0h1m2 0h1m-14.2 0.1h1m0.9 0h1m3.9 0h1m11.4 0h1m-23.8 0.1h1m0.4 0h1m5.6 0h1m7 0h1m0 0h1m-18.4 0.1h1m2 0h1m1.3 0h1m-0.6 0h1m3 0h1m3.6 0h1m1.3 0h1m-21.3 0.1h1m7 0h1m-0.9 0h1m4.8 0h1m3.8 0h1m5.7 0h1m-16.7 0.1h1m6.4 0h1m1.6 0h1m2.5 0h1m-16.8 0.1h1m4.1 0h1m1 0h1m1.5 0h1m0.8 0h1m0.2 0h1m-22.4 0.1h1m9.8 0h1m0.6 0h1m2 0h1m1.7 0h1m0.3 0h1m3.4 0h1m-25.7 0.1h1m9.6 0h1m-0.4 0h1m2.7 0h1m1.1 0h1m7.3 0h1m-18.7 0.1h1m-0.7 0h1m-0.8 0h1m-0.9 0h1m0.1 0h1m2 0h1m4.5 0h1m4.4 0h1m-14.3 0.1h1m-0.5 0h1m2.3 0h1m4.4 0h1m0.2 0h1m-0.9 0h1m-0.2 0h1m-0.8 0h1m-18.7 0.1h1m-0.1 0h1m0.9 0h1m4.2 0h1m-0.1 0h1m13.1 0h1m-19.8 0.1h1m2.4 0h1m-1 0h1m0.8 0h1m3.6 0h1m-3.6 0.1h1m5.5 0h1m-20.3 0.1h1m3.6 0h1m2.2 0h1m-0.5 0h1m3.9 0h1m2.7 0h1m-18.9 0.1h1m4 0h1m1.9 0h1m0.8 0h1m1 0h1m0 0h1m4.4 0h1m1.3 0h1m-15.9 0.1h1m1.4 0h1m-0.4 0h1m5.4 0h1m1 0h1m0 0h1m-21.2 0.1h1m11.9 0h1m-0.5 0h1m-1 0h1m10 0h1m5.8 0h1m-24.7 0.1h1m5.7 0h1m-0.8 0h1m2 0h1m-8.7 0.1h1m5.2 0h1m-0.7 0h1m0.2 0h1m0.1 0h1m7.9 0h1m-23.3 0.1h1m7.8 0h1m-0.8 0h1m2 0h1m7 0h1m-27.2 0.1h1m9 0h1m8.3 0h1m0 0h1m-10.4 0.1h1m12 0h1m-21.8 0.1h1m7.3 0h1m-0.9 0h1m-0.1 0h1m3.9 0h1m0 0h1m1 0h1m0.2 0h1m4.6 0h1m-18.4 0.1h1m0.2 0h1m-1 0h1m7.4 0h1m-9.3 0.1h1m5.1 0h1m-3 0.1h1m-0.3 0h1m-0.5 0h1m-0.5 0h1m7.7 0h1m-12 0.1h1m5.8 0h1m0.2 0h1m7.7 0h1m-19.9 0.1h1m4.8 0h1m-0.1 0h1m2.9 0h1m-0.5 0h1m-6.5 0.1h1m1 0h1m-13.2 0.1h1m4.2 0h1m13.8 0h1m-22.7 0.1h1m13.2 0h1m-1 0h1m1.3 0h1m-12.8 0.1h1m4.5 0h1m2 0h1m-15 0.1h1m1.6 0h1m1.2 0h1m0.2 0h1m0.3 0h1m2 0h1m0.2 0h1m12.3 0h1m-18.3 0.1h1m11.4 0h1m-14.6 0.1h1m1.1 0h1m1.8 0h1m-6.4 0.1h1m8.5 0h1m-16 0.1h1m3.1 0h1m1.7 0h1m0.1 0h1m-0.1 0h1m0 0h1m4.5 0h1m-8.5 0.1h1m0.7 0h1m1.6 0h1m1.8 0h1m-10.3 0.1h1m11.7 0h1m0 0h1m-26.6 0.1h1m-0.1 0h1m4.4 0h1m4.4 0h1m1.6 0h1m3.3 0h1m-0.6 0h1m-0.8 0h1m-0.8 0h1m0.1 0h1m-0.4 0h1m5.3 0h1m-0.8 0h1m-15.1 0.1h1m5.9 0h1m4.9 0h1m7.8 0h1m-26.2 0.1h1m8.3 0h1m0.9 0h1m7.2 0h1m-12 0.2h1m13.2 0h1m-26.4 0.1h1m8.3 0.1h1m2.9 0h1m-0.8 0h1m2.6 0h1m-0.9 0h1m-12.6 0.1h1m1.8 0h1m2 0h1m2.8 0h1m0.1 0h1m1.7 0h1m-7.9 0.2h1m-11.1 0.1h1m1.9 0h1m0.9 0h1m0.5 0h1m-14.7 0.2h1m7.6 0h1m4.2 0h1m6.2 0h1m-0.3 0h1m-14.4 0.1h1m1.8 0h1m-2.7 0.1h1m8.2 0h1m4.4 0h1m0.6 0.1h1m-9.9 0.1h1m-9.9 0.1h1m-0.8 0h1m3.7 0h1m-0.5 0h1m6.2 0h1m0.3 0.1h1m-23.3 0.1h1m3.2 0h1m8.3 0h1m2.2 0h1m3.5 0h1m1 0.1h1m-12.5 0.2h1m5.5 0.1h1m1.2 0h1m-19.2 0.1h1m8.3 0h1m10.3 0.1h1m-18.1 0.1h1m2.1 0h1m10.6 0h1m2.7 0h1m-14.1 0.1h1m3.4 0h1m7.7 0h1m-11.5 0.3h1m0.5 0h1m11.2 0.1h1m-13 0.1h1m-0.2 0h1m9.8 0.4h1m-8.1 0.1h1m-0.1 0h1m-8.8 0.1h1m2.9 0.1h1m5.3 0h1m-20.3 0.2h1m9.8 0h1m0.3 0h1m10.1 0.1h1m-17.3 0.1h1m5.5 0h1m-3 0.5h1m9.9 0h1m-23.4 0.3h1m5.6 0.1h1m17.7 0.2h1m-17.9 0.4h1m12.2 0h1m-16.6 0.1h1m2.7 0.1h1m-5.9 0.1h1m-0.4 0h1m6 0.3h1m0.1 0.1h1m-2.3 0.2h1m-4 0.3h1m-10.6 0.1h1m11.6 0.1h1m0.1 0.1h1m-4.9 0.8h1m5.9 0.3h1m13.5 1.1h1m-17 1.2h1m-7 0.6h1m-2.1 0.1h1" stroke="#555" stroke-width="1" fill="none" opacity="1.0"/>
<path d="M86.9 318.5h1m12 1.7h1m-8.2 3.1h1m17.8 1.4h1m-24.6 0.6h1m5.1 3.3h1m-1.1 0.1h1m-3.5 0.2h1m1.4 0.4h1m-4.1 0.2h1m8.1 1.1h1m-6.7 0.2h1m-8.4 0.5h1m6.6 0h1m1.8 0.3h1m-3.6 0.3h1m-9 0.1h1m4.1 0.8h1m1.9 0.3h1m14 0h1m-19.7 0.5h1m11.1 0.2h1m5.9 0h1m-21.5 0.1h1m4.4 0.2h1m0.5 0h1m-10.4 0.2h1m5.8 0.6h1m-5.6 0.7h1m7.8 0.1h1m4.5 0h1m-17.5 0.1h1m20 0h1m-12 0.4h1m8.3 0.1h1m-5.2 0.1h1m2.9 0.2h1m-17.4 0.1h1m6.4 0.2h1m-2.8 0.1h1m10.2 0.2h1m-16 0.1h1m-0.5 0h1m-1.6 0.1h1m8.9 0.2h1m-11.8 0.1h1m-1.9 0.2h1m5.1 0.3h1m-4.1 0.2h1m4.1 0.1h1m9.5 0.1h1m-12.8 0.1h1m-8.7 0.2h1m-2.4 0.1h1m5.9 0h1m-2 0.1h1m-4.5 0.2h1m12 0h1m-11.4 0.1h1m10.4 0.2h1m-17.4 0.1h1m5 0h1m3.2 0.1h1m-11.3 0.2h1m7.8 0.2h1m-0.1 0.2h1m-5.3 0.3h1m-0.9 0.1h1m0.1 0.1h1m-5.8 0.1h1m7 0.5h1m-6.2 0.2h1m2.2 0h1m9.4 0.1h1m-12.4 0.1h1m-1.6 0.1h1m-4 0.1h1m12.8 0.1h1m-11.6 0.3h1m0.4 0.1h1m-7.8 0.1h1m3.5 0h1m-1.8 0.1h1m-6.2 0.1h1m-0.3 0h1m19.3 0h1m-20.8 0.2h1m7.4 0h1m4.6 0h1m-16.1 0.1h1m21.2 0h1m-1.5 0.2h1m-18.4 0.3h1m1 0.1h1m3.1 0.3h1m-10.7 0.1h1m21.1 0h1m-15 0.1h1m-3.5 0.1h1m-7.1 0.2h1m-0.7 0h1m10.2 0h1m-12.3 0.2h1m4.7 0h1m2.9 0.1h1m-10.9 0.1h1m16 0h1m-9.2 0.1h1m10.1 0.3h1m-20.6 0.1h1m11.7 0.1h1m2.1 0h1m-0.6 0h1m-8.1 0.1h1m-3.1 0.1h1m-6.1 0.1h1m6.6 0.1h1m2 0h1m-9 0.1h1m8.3 0h1m-4 0.1h1m-8 0.2h1m-0.6 0h1m-1 0.1h1m1.1 0.1h1m2.8 0h1m2.7 0.2h1m-4.5 0.1h1m0 0h1m5.7 0h1m-14.2 0.5h1m3.6 0.1h1m4.7 0.1h1m3.5 0h1m-19.5 0.1h1m14.9 0.1h1m-14 0.2h1m5.6 0.2h1m-0.4 0.2h1m0.7 0h1m-1.5 0.1h1m-8.7 0.1h1m10.8 0.1h1m-10.5 0.1h1m-0.8 0h1m4.2 0.1h1m-9.8 0.1h1m8.7 0h1m-1.2 0.1h1m-6.1 0.2h1m1.6 0h1m-10.3 0.3h1m4.8 0h1m1.8 0h1m-6.8 0.2h1m0.1 0.2h1m-6.1 0.2h1m0.1 0h1m6 0h1m17.8 0h1m-19.8 0.4h1m-8.8 0.1h1m5 0h1m7.5 0h1m3.9 0h1m-14.2 0.2h1m-8.2 0.1h1m4.9 0h1m1.6 0h1m-6 0.8h1m7.8 0h1m-13.1 0.1h1m1.4 0h1m-1.6 0.1h1m1.2 0h1m5.1 0h1m-9.1 0.1h1m5.7 0h1m-7.1 0.1h1m-0.8 0h1m3.7 0h1m-3.5 0.2h1m5.9 0h1m-0.4 0.1h1m1.7 0h1m0.7 0h1m-11.9 0.2h1m1.1 0h1m7.5 0h1m-14.5 0.1h1m6 0h1m-5.9 0.3h1m4.1 0h1m-5.1 0.3h1m4.6 0h1m-9 0.1h1m14.4 0.3h1m-18.6 0.1h1m2.5 0h1m1.3 0h1m2.5 0.1h1m-0.3 0h1m-8.4 0.2h1m5.3 0h1m-11.1 0.1h1m-0.8 0h1m14 0h1m2 0h1m-14.6 0.1h1m3.9 0.1h1m-4.9 0.1h1m1.6 0h1m6.7 0h1m0 0h1m-17.4 0.1h1m-0.1 0.3h1m11.7 0h1m-9.3 0.2h1m2 0h1m1 0h1m-11.8 0.1h1m6.3 0.1h1m10.4 0.4h1m-7.3 0.1h1m-13.2 0.2h1m14.7 0h1m-10.1 0.3h1m10.7 0h1m-19.4 0.1h1m12.5 0.5h1m-5.3 0.4h1m0.4 0.2h1m1.6 0h1m-4.9 0.1h1m0.6 0.1h1m-10.3 0.2h1m-2.8 0.1h1m6.3 0h1m-0.5 0h1m5.9 0.3h1m-3.4 0.3h1m4.9 0h1m-6.1 0.2h1m-5.8 0.7h1m6.2 0h1m-15.1 0.1h1m7.8 0h1m-7.7 0.1h1m-4.4 0.3h1m9.7 0.2h1m-5.6 0.4h1m-7.5 0.2h1m1.2 0.3h1m11.6 0.1h1m3.5 0.3h1m-19.1 0.1h1m12.7 0h1m-1.7 0.3h1m1.4 0h1m-4.9 0.1h1m-2.3 0.1h1m10.2 0h1m-13.5 0.3h1m4.4 0.3h1m-2.5 0.1h1m-3.7 0.2h1m-11.7 0.7h1m-1.5 0.6h1m-0.9 0.6h1m2.7 0.1h1m10.5 0.1h1m-13.3 0.9h1m9.8 0h1m2.4 0.6h1m-10.9 0.1h1m-8.1 0.2h1" stroke="#777" stroke-width="1" fill="none" opacity="1.0"/>
<path d="M94 304.7h1m11.6 1h1m-5.9 0.5h1m-1.3 0.5h1m5.1 0.3h1m-8 0.1h1m-4.7 0.1h1m-1.6 0.8h1m5.5 0h1m-10.5 0.1h1m3.9 0.3h1m8.7 0.3h1m-16.8 0.3h1m5.8 0h1m10.1 0.1h1m-17.1 0.3h1m5.8 0h1m-8.6 0.4h1m8.8 0.1h1m-4.7 0.2h1m6.2 0.1h1m-20.6 0.2h1m6.8 0h1m-8.4 0.1h1m11.9 0h1m-4.4 0.3h1m-0.3 0h1m3.5 0.3h1m0.6 0.1h1m-14.5 0.1h1m0.6 0h1m-0.2 0.1h1m-2.8 0.1h1m12.2 0h1m2.5 0h1m-5.4 0.1h1m-11.4 0.1h1m6 0h1m4 0h1m-8.1 0.1h1m-8.6 0.2h1m0.7 0h1m-0.2 0h1m3.5 0h1m3.2 0h1m5.3 0h1m-12.6 0.1h1m9.7 0h1m-20.8 0.1h1m9 0h1m-0.3 0h1m-2.1 0.1h1m9.6 0h1m1.4 0h1m-23.2 0.1h1m2.3 0h1m-1.1 0.1h1m6.3 0.1h1m-0.6 0h1m2.9 0h1m-9.3 0.1h1m0.4 0h1m5.7 0h1m-14 0.1h1m9.3 0h1m-8.4 0.1h1m4.3 0h1m-2 0.1h1m11.7 0.1h1m-14.9 0.1h1m4.8 0h1m15 0h1m-30 0.1h1m-0.8 0h1m8 0h1m-0.6 0h1m7 0h1m-0.2 0h1m-16.9 0.1h1m-0.7 0h1m-0.7 0h1m2.3 0h1m-0.1 0h1m-0.8 0h1m3.2 0h1m-0.2 0h1m-0.3 0h1m-14.9 0.1h1m2.8 0.1h1m4 0.1h1m-0.4 0h1m6.4 0h1m-18.1 0.1h1m1.3 0h1m11.3 0h1m-0.8 0h1m2.8 0h1m2.9 0h1m-17.7 0.1h1m5.2 0h1m-2.6 0.1h1m-0.5 0h1m-0.7 0h1m3.1 0h1m4 0h1m-19.8 0.1h1m7.7 0h1m-11.1 0.1h1m5.1 0h1m1.3 0h1m0.9 0h1m8.2 0h1m4 0h1m-17.1 0.1h1m1 0h1m1.7 0h1m-13.7 0.1h1m9.3 0h1m0.6 0h1m2.9 0h1m2 0h1m-20.1 0.1h1m-0.9 0h1m0.2 0h1m1.6 0h1m6.5 0h1m2.5 0h1m3.8 0h1m-17.2 0.1h1m2 0h1m2 0h1m-0.4 0h1m-0.9 0h1m3.8 0h1m2.2 0h1m2.5 0h1m-20.9 0.1h1m14.5 0h1m5.2 0h1m-24.3 0.1h1m3.5 0h1m4.9 0h1m0.2 0h1m4.6 0h1m-13.3 0.1h1m1.8 0h1m14 0h1m-24 0.1h1m2.4 0h1m17.6 0h1m-22.8 0.1h1m5 0h1m-6.9 0.1h1m-0.8 0h1m4.3 0h1m1.9 0h1m-3.7 0.1h1m1 0h1m-0.2 0h1m0.9 0h1m2.8 0h1m-0.2 0h1m-15.8 0.1h1m12.5 0h1m6.9 0h1m-0.4 0h1m-23.5 0.1h1m2.1 0h1m1.6 0h1m12.4 0h1m-17 0.1h1m0.4 0h1m11.8 0h1m0.8 0h1m-20.1 0.1h1m3.7 0h1m1.3 0h1m0.5 0h1m-0.8 0h1m0.7 0h1m0.3 0h1m3.3 0h1m0.6 0h1m-12.5 0.1h1m0 0h1m0.1 0h1m0 0h1m3.3 0h1m-0.7 0h1m-0.1 0h1m0.1 0h1m5.9 0h1m-13.5 0.1h1m-1 0h1m3.4 0h1m-13.4 0.1h1m-0.4 0h1m4.3 0h1m5.2 0h1m0.8 0h1m-0.3 0h1m1.2 0h1m-5.7 0.1h1m0 0h1m-12.2 0.1h1m0.4 0h1m-0.6 0h1m-0.3 0h1m4.1 0h1m1.9 0h1m-0.4 0h1m0.3 0h1m-0.3 0h1m1.4 0h1m2.3 0h1m-21.6 0.1h1m1.7 0h1m0.4 0h1m-0.5 0h1m-0.4 0h1m5.7 0h1m1.1 0h1m0.6 0h1m3.5 0h1m-19.7 0.1h1m9 0h1m7.9 0h1m-21.7 0.1h1m2.6 0h1m0.8 0h1m3.5 0h1m1.6 0h1m1.8 0h1m4.5 0h1m-14.3 0.1h1m2.3 0h1m0.3 0h1m0.8 0h1m-1 0h1m1 0h1m5.8 0h1m4.2 0h1m-30.7 0.1h1m-0.5 0h1m3.6 0h1m-1 0h1m3 0h1m-0.9 0h1m1 0h1m4.7 0h1m0.6 0h1m-0.5 0h1m8.3 0h1m-29.5 0.1h1m-0.5 0h1m2.6 0h1m0.7 0h1m0.4 0h1m2.7 0h1m4.3 0h1m-0.2 0h1m0.5 0h1m0 0h1m7 0h1m-21.4 0.1h1m4.9 0h1m-0.5 0h1m2.5 0h1m-17.6 0.1h1m1.5 0h1m11.8 0h1m6.9 0h1m8.9 0h1m-27.2 0.1h1m0.7 0h1m10.5 0h1m2.2 0h1m-18.6 0.1h1m5.4 0h1m0 0h1m2 0h1m4.8 0h1m1.4 0h1m-24.7 0.1h1m9.7 0h1m2.1 0h1m1.6 0h1m-0.5 0h1m-0.1 0h1m-16 0.1h1m2.6 0h1m-0.4 0h1m4.6 0h1m1.7 0h1m1.3 0h1m-16.5 0.1h1m11.9 0h1m0.9 0h1m-16.7 0.1h1m0.6 0h1m3.6 0h1m2.1 0h1m2.3 0h1m0.2 0h1m7.2 0h1m-24.8 0.1h1m-0.8 0h1m2.4 0h1m-0.2 0h1m5.3 0h1m-4.1 0.1h1m-0.3 0h1m-0.1 0h1m0.6 0h1m1.3 0h1m-0.2 0h1m1.8 0h1m-0.2 0h1m-10.6 0.1h1m5.9 0h1m-15.5 0.1h1m5 0h1m5.8 0h1m-0.1 0h1m0.2 0h1m0.7 0h1m-0.8 0h1m-14 0.1h1m1.4 0h1m1.8 0h1m11 0h1m-12.4 0.1h1m2.3 0h1m7.8 0h1m-0.3 0h1m-0.6 0h1m-0.1 0h1m-22 0.1h1m0.4 0h1m2.8 0h1m5.6 0h1m1.3 0h1m1.6 0h1m-5.7 0.1h1m3.2 0h1m-19.2 0.1h1m5.2 0h1m-0.9 0h1m-0.5 0h1m-0.4 0h1m2 0h1m3.9 0h1m3.2 0h1m1.6 0h1m4.3 0h1m-29.8 0.1h1m1.4 0h1m0.7 0h1m-1 0h1m2 0h1m-0.1 0h1m0.1 0h1m0.9 0h1m0.1 0h1m6.3 0h1m-19.7 0.1h1m7.5 0h1m10.2 0h1m-21.2 0.1h1m9 0h1m1.8 0h1m-0.2 0h1m-0.2 0h1m0.2 0h1m1.5 0h1m6.1 0h1m-25 0.1h1m5.5 0h1m1.3 0h1m1.3 0h1m0.9 0h1m-0.1 0h1m-0.1 0h1m-14.5 0.1h1m1.1 0h1m2.2 0h1m0.8 0h1m-0.9 0h1m-0.1 0h1m1.5 0h1m-0.2 0h1m0.6 0h1m-0.4 0h1m3.2 0h1m2 0h1m-24.5 0.1h1m2 0h1m1.7 0h1m0.2 0h1m7.7 0h1m4.2 0h1m1.4 0h1m-17.1 0.1h1m1.8 0h1m3.5 0h1m4.2 0h1m-0.2 0h1m-0.7 0h1m-19.3 0.1h1m1.4 0h1m3.4 0h1m-0.1 0h1m-0.4 0h1m-0.8 0h1m3.4 0h1m-0.9 0h1m4.3 0h1m-19.8 0.1h1m4.1 0h1m7.2 0h1m0 0h1m0.8 0h1m-10.4 0.1h1m4.7 0h1m-0.3 0h1m0.8 0h1m-0.2 0h1m2.8 0h1m-19.1 0.1h1m3.6 0h1m3.6 0h1m1.1 0h1m0 0h1m-0.3 0h1m0.8 0h1m-17.7 0.1h1m9 0h1m0 0h1m1.7 0h1m-0.1 0h1m1.1 0h1m-18.7 0.1h1m5.6 0h1m1.8 0h1m1.2 0h1m0.6 0h1m0.5 0h1m0 0h1m-0.2 0h1m1 0h1m-15.5 0.1h1m3.3 0h1m2.2 0h1m-0.9 0h1m0.3 0h1m1 0h1m0.1 0h1m1.5 0h1m-0.2 0h1m-11.8 0.1h1m-0.9 0h1m-0.1 0h1m6.3 0h1m-0.5 0h1m-17.9 0.1h1m4.5 0h1m-0.1 0h1m2 0h1m-0.6 0h1m1 0h1m-1 0h1m-1 0h1m-0.4 0h1m1 0h1m2.5 0h1m0.6 0h1m-21.1 0.1h1m3.6 0h1m3.5 0h1m4.4 0h1m-15.4 0.1h1m8.8 0h1m-0.5 0h1m1.2 0h1m0.6 0h1m0.1 0h1m2.5 0h1m-1 0h1m3.4 0h1m0.1 0h1m-21.6 0.1h1m4.3 0h1m-1 0h1m6.3 0h1m5.4 0h1m-23.8 0.1h1m2.3 0h1m4.5 0h1m0 0h1m-0.5 0h1m6.1 0h1m2.8 0h1m-21.7 0.1h1m3.9 0h1m1.5 0h1m-0.2 0h1m2.8 0h1m0.4 0h1m4.6 0h1m1.1 0h1m-21.5 0.1h1m1.3 0h1m3.7 0h1m-0.8 0h1m-0.1 0h1m-0.6 0h1m2.1 0h1m0.6 0h1m0.8 0h1m2.4 0h1m-12.8 0.1h1m0.6 0h1m2 0h1m-0.8 0h1m0.9 0h1m7.3 0h1m-19.9 0.1h1m-0.3 0h1m1.1 0h1m1 0h1m0.5 0h1m1.5 0h1m2.2 0h1m3.2 0h1m-17.3 0.1h1m0.4 0h1m2.8 0h1m-0.5 0h1m2.3 0h1m9.2 0h1m7 0h1m-31.7 0.1h1m3.4 0h1m-0.3 0h1m1.4 0h1m3 0h1m-0.1 0h1m0 0h1m-0.2 0h1m9.5 0h1m-25.9 0.1h1m1.4 0h1m-0.6 0h1m-0.1 0h1m-0.1 0h1m-0.3 0h1m5.2 0h1m-0.5 0h1m1.2 0h1m2.7 0h1m0.3 0h1m0.8 0h1m-18.8 0.1h1m1.3 0h1m-0.9 0h1m0.3 0h1m0.1 0h1m2.9 0h1m7 0h1m0.1 0h1m-21.5 0.1h1m5.1 0h1m1.4 0h1m-0.2 0h1m1.2 0h1m-0.3 0h1m0.1 0h1m6.4 0h1m0.5 0h1m-0.1 0h1m-20.5 0.1h1m0.8 0h1m-0.9 0h1m0.7 0h1m0.3 0h1m0.5 0h1m-0.7 0h1m-0.3 0h1m1.6 0h1m0.9 0h1m0.6 0h1m-0.3 0h1m2.1 0h1m-0.7 0h1m-20.4 0.1h1m4.9 0h1m0.8 0h1m0.2 0h1m-11.9 0.1h1m4.1 0h1m1.2 0h1m2.9 0h1m1.9 0h1m2.6 0h1m0.8 0h1m-18.7 0.1h1m-0.1 0h1m7.2 0h1m3.5 0h1m2.8 0h1m-18.9 0.1h1m2.9 0h1m6 0h1m-13.6 0.1h1m6.1 0h1m0.6 0h1m1 0h1m0.7 0h1m0.4 0h1m1.1 0h1m-0.3 0h1m8.1 0h1m-26.1 0.1h1m7.7 0h1m3.8 0h1m-0.6 0h1m1.8 0h1m1.3 0h1m-20 0.1h1m4.2 0h1m6 0h1m-1 0h1m0.1 0h1m1.5 0h1m-0.5 0h1m3.1 0h1m0.6 0h1m-16.3 0.1h1m1.3 0h1m8.1 0h1m-19.7 0.1h1m-0.3 0h1m4.9 0h1m1.2 0h1m-0.4 0h1m2.6 0h1m0.7 0h1m1.1 0h1m0.1 0h1m-18.7 0.1h1m-0.8 0h1m1.8 0h1m0.3 0h1m5 0h1m0.8 0h1m6.8 0h1m-9 0.1h1m-0.7 0h1m-0.2 0h1m4.2 0h1m-15.4 0.1h1m0.7 0h1m1 0h1m1 0h1m-0.6 0h1m-0.7 0h1m1.8 0h1m1.8 0h1m1.7 0h1m9.2 0h1m-29.2 0.1h1m1.2 0h1m2.1 0h1m0.8 0h1m0.7 0h1m1.2 0h1m-0.2 0h1m-0.9 0h1m-0.1 0h1m6.8 0h1m-21.9 0.1h1m5.6 0h1m0.5 0h1m-0.2 0h1m-0.7 0h1m-0.3 0h1m3.1 0h1m4.8 0h1m-16.5 0.1h1m1 0h1m-0.7 0h1m4.2 0h1m-13.1 0.1h1m8.6 0h1m6.7 0h1m3.1 0h1m6.2 0h1m-26.9 0.1h1m14.9 0h1m-19 0.1h1m5.3 0h1m3.2 0h1m0 0h1m1.1 0h1m-0.9 0h1m0.1 0h1m1.6 0h1m4.6 0h1m-23.4 0.1h1m6.1 0h1m4.9 0h1m-12.3 0.1h1m12.7 0h1m7.7 0h1m-25.8 0.1h1m7.8 0h1m5.5 0h1m0.5 0h1m-14.8 0.1h1m5.3 0h1m-0.9 0h1m3.4 0h1m-0.3 0h1m0.2 0h1m-0.3 0h1m0 0h1m0.9 0h1m-0.5 0h1m-12.2 0.1h1m1.5 0h1m0.5 0h1m3.3 0h1m0.4 0h1m4.2 0h1m-0.2 0h1m-13.6 0.1h1m-11.7 0.1h1m4.3 0h1m-0.4 0h1m-0.9 0h1m-0.8 0h1m5.3 0h1m-0.9 0h1m0.1 0h1m-0.8 0h1m-13.3 0.1h1m1.9 0h1m2.5 0h1m0.1 0h1m-0.4 0h1m2.8 0h1m0.5 0h1m0.9 0h1m-18 0.1h1m1.1 0h1m-0.9 0h1m4.6 0h1m0.4 0h1m2.1 0h1m-0.1 0h1m1.3 0h1m0.2 0h1m0.2 0h1m1.7 0h1m-22.9 0.1h1m1.7 0h1m3.4 0h1m1.8 0h1m-0.8 0h1m3.2 0h1m-11.1 0.1h1m0.2 0h1m1.6 0h1m0.3 0h1m-0.8 0h1m-0.6 0h1m0.4 0h1m2.1 0h1m10.8 0h1m-21.8 0.1h1m-0.2 0h1m2.4 0h1m3.8 0h1m-0.8 0h1m0.3 0h1m-1 0h1m2.5 0h1m2.3 0h1m-0.9 0h1m-23.6 0.1h1m3.2 0h1m-0.6 0h1m1.9 0h1m-0.8 0h1m0.6 0h1m-7 0.1h1m-0.6 0h1m0.5 0h1m5.3 0h1m-12.1 0.1h1m7.1 0h1m11.4 0h1m-19.2 0.1h1m-0.8 0h1m-0.8 0h1m-0.3 0h1m5.3 0h1m2.5 0h1m3.7 0h1m-0.2 0h1m1.9 0h1m6.7 0h1m-23.4 0.1h1m8.6 0h1m-4.7 0.1h1m0.3 0h1m3.4 0h1m-13.2 0.1h1m-0.5 0h1m0.6 0h1m0.1 0h1m1.1 0.1h1m-2.6 0.1h1m2.8 0h1m2.7 0h1m2.4 0h1m-18.2 0.1h1m5.4 0h1m2.7 0h1m-15.1 0.1h1m5.6 0h1m1.5 0h1m1.7 0h1m-8.6 0.1h1m4.7 0h1m-0.2 0h1m1.5 0h1m-10.5 0.1h1m6.1 0h1m-8 0.1h1m1.7 0h1m4.6 0h1m12.9 0h1m-15.7 0.1h1m-0.2 0h1m-13.6 0.1h1m6.5 0h1m0.5 0h1m0.4 0h1m3.3 0h1m1.9 0h1m1.5 0h1m3.3 0h1m-19.1 0.1h1m-0.8 0h1m1.1 0h1m2.6 0h1m0.5 0h1m2.2 0h1m-15.1 0.1h1m2.9 0.1h1m9.1 0h1m-17.1 0.1h1m8.1 0h1m4 0h1m-8.2 0.1h1m13.9 0h1m-16.8 0.1h1m0.6 0h1m-0.2 0h1m5.9 0h1m0.3 0h1m0.5 0h1m0.2 0.1h1m-19.6 0.2h1m9.7 0h1m-0.3 0h1m-13.7 0.1h1m11.1 0h1m4.1 0h1m-17.5 0.1h1m7.9 0h1m0.8 0h1m2.1 0h1m6.2 0h1m-0.4 0h1m-15.9 0.1h1m3.4 0h1m4.5 0h1m-1.5 0.1h1m0.3 0h1m-14.3 0.1h1m0.2 0.1h1m1.5 0.1h1m2.6 0h1m12.6 0h1m-16.8 0.2h1m2.5 0h1m-14.5 0.1h1m6.8 0h1m0.7 0h1m4 0h1m-0.5 0h1m1.6 0h1m-15.2 0.2h1m11.3 0h1m4.1 0h1m-11 0.1h1m2 0h1m-0.7 0h1m-8.7 0.1h1m1.2 0h1m2.7 0h1m0.9 0.1h1m-14.5 0.1h1m5.5 0h1m7.1 0h1m10.2 0h1m-21.5 0.1h1m13.8 0h1m-16.2 0.1h1m13.3 0.2h1m-12.1 0.1h1m-0.5 0h1m10.6 0.3h1m-18.5 0.2h1m-4.2 0.1h1m9.6 0h1m-11.2 0.2h1m10.5 0h1m5.1 0h1m-2 0.3h1m-11.3 0.2h1m4.9 0h1m-6.8 0.2h1m-7.7 0.1h1m10.5 0.1h1m1.9 0h1m-7.4 0.3h1m0.6 0.2h1m-10.6 0.2h1m17.4 0h1m-14.6 0.3h1m5.5 0.3h1m4 0.4h1m-7.5 1.2h1m-1.7 0.2h1m8.4 0.2h1m-2.4 0.6h1m-2.3 0.7h1" stroke="#555" stroke-width="1" fill="none" opacity="1.0"/>
<path d="M239.8 332.3h1m7.5 1.5h1m-4.5 0.1h1m-7.7 0.8h1m1.9 0.6h1m4.9 1h1m-8.3 0.1h1m-0.8 0.2h1m6.8 0.3h1m-7.7 0.4h1m0.6 0.7h1m8.9 0h1m-6.4 0.2h1m4.5 0.3h1m-5.3 0.1h1m-0.7 0h1m-1.9 0.2h1m7.7 0h1m-30.7 0.2h1m1.9 0.1h1m19.8 0.1h1m-21.9 0.2h1m27 0.1h1m-17.5 0.1h1m-3.3 0.2h1m-2.6 0.2h1m2.5 0h1m-3.9 0.6h1m7.1 0h1m-4.9 0.1h1m-1 0.2h1m5.4 0h1m-4 0.5h1m-8 0.2h1m4.8 0h1m3.4 0h1m2.7 0h1m0.1 0h1m-8.1 0.1h1m-27.7 0.3h1m21.5 0.1h1m-10.7 0.1h1m13 0h1m0.9 0.1h1m-18.6 0.3h1m3.1 0h1m10.8 0.1h1m4.2 0h1m-13.4 0.2h1m12.4 0h1m-0.1 0h1m-5.6 0.2h1m-14 0.1h1m2.7 0h1m-0.8 0h1m11.1 0h1m-5.4 0.1h1m-9.2 0.1h1m12.4 0h1m-21.1 0.2h1m7.7 0h1m14.8 0.1h1m-17.4 0.2h1m12.7 0h1m-10.5 0.1h1m1 0h1m-17.1 0.1h1m13 0.2h1m10.7 0h1m-4.5 0.4h1m0.1 0.2h1m-20.9 0.2h1m18 0h1m-18.7 0.1h1m5.5 0h1m4.1 0h1m-6.6 0.1h1m-4.4 0.1h1m5.3 0.2h1m1.5 0.1h1m2.7 0h1m-0.1 0h1m-7 0.2h1m4.1 0.2h1m-5.2 0.1h1m10.8 0.1h1m-15.9 0.1h1m-0.3 0h1m2.5 0.1h1m16.7 0h1m-31.4 0.1h1m9.4 0h1m9 0h1m-18.7 0.1h1m4.5 0.1h1m-0.1 0.1h1m-11.9 0.1h1m0.2 0h1m18.3 0h1m-17.2 0.1h1m19.2 0h1m-9.5 0.3h1m-20.9 0.1h1m0.9 0h1m5.5 0h1m7 0h1m-3.3 0.2h1m2.6 0h1m-19.7 0.1h1m10.5 0h1m9 0h1m-17.9 0.1h1m-4.7 0.1h1m4.2 0h1m-5.5 0.1h1m12.2 0h1m13.1 0h1m-23.1 0.2h1m8.5 0h1m-0.8 0h1m-7.6 0.1h1m-2.2 0.1h1m12.6 0h1m2.3 0h1m-13.9 0.1h1m-0.6 0h1m2.6 0h1m1.2 0.1h1m-10 0.1h1m4.3 0h1m2.2 0h1m-18.3 0.1h1m27.5 0h1m-28.3 0.1h1m13.4 0h1m-18.6 0.2h1m6.2 0h1m9.5 0h1m-26.5 0.1h1m21 0.1h1m-8.7 0.1h1m-1.1 0.2h1m16.3 0h1m-15.5 0.2h1m0 0.3h1m2 0h1m1.6 0h1m2.6 0h1m6.7 0h1m-10.1 0.1h1m3.4 0.1h1m-3.4 0.1h1m-24.3 0.1h1m9.2 0.1h1m-7.5 0.1h1m11.6 0h1m3.2 0.1h1m-17 0.1h1m5 0h1m3.4 0h1m13.8 0.4h1m-27.5 0.1h1m10.4 0h1m8.9 0h1m6 0.1h1m-19.7 0.1h1m-0.7 0.1h1m0.6 0h1m9.5 0h1m0.7 0h1m-25.3 0.1h1m22 0.3h1m-18.7 0.1h1m-1.7 0.1h1m16.8 0h1m1.6 0.3h1m1.8 0h1m-9 0.1h1m-14.1 0.1h1m3.8 0.1h1m1.6 0.1h1m3.3 0h1m-10.9 0.2h1m8.4 0.2h1m-8.8 0.1h1m7.6 0.2h1m-11.2 0.1h1m9 0h1m-1.9 0.1h1m-8.9 0.5h1m5.4 0h1m-1.9 0.3h1m12.9 0h1m-27.7 0.3h1m23.4 0.2h1m-6.9 0.1h1m-1.2 0.1h1m-10.1 0.1h1m-11.8 0.1h1m20.7 0.2h1m-7.4 0.1h1m-0.9 0.1h1m-6.3 0.4h1m-20.8 0.1h1m22.7 0.1h1m1.7 0.2h1m5.1 0.2h1m-14.9 0.1h1m7.1 0h1m5.6 0.3h1m-18.8 0.2h1m13.1 0h1m-10.5 0.3h1m16.1 0.2h1m-20.5 0.5h1m6.2 0.4h1m-6.2 0.2h1m13.4 0.2h1m-15.8 0.1h1m20.2 0.3h1m-17.5 0.1h1m-5.5 0.3h1m-11.4 0.1h1m15.7 0h1m8.1 0.5h1m-14.6 0.8h1m2 2.4h1m-1 0.3h1m-12.2 2.7h1m9.9 0.2h1" stroke="#777" stroke-width="1" fill="none" opacity="1.0"/>
<path d="M267.9 314.8h1m20.3 2.9h1m2.5 4.5h1m-12.7 0.8h1m-7.1 1.3h1m0.5 0.2h1m-3.6 1.8h1m10.5 0.7h1m-20.3 0.1h1m27.9 1.3h1m-17.5 0.3h1m15.4 0.7h1m-16.4 0.3h1m-10 1.5h1m5.1 0.7h1m3.7 0.1h1m2.7 0.6h1m-4.7 0.2h1m-3.3 1h1m10.3 0.1h1m4.4 1h1m-18.6 0.3h1m7.9 0.8h1m-6.2 0.5h1m-10.4 0.3h1m18.8 0.4h1m-26.3 0.5h1m10.5 0h1m12.8 0.1h1m-14.5 0.4h1m3.3 0.1h1m4 0.2h1m-10.5 0.3h1m1.7 0.2h1m0.2 0h1m-10.3 0.2h1m3.8 0h1m-2.1 0.1h1m1.3 0.2h1m5.4 0h1m3.4 0h1m0.2 0.1h1m-3.1 0.1h1m-6 0.1h1m1.1 0h1m-10.3 0.1h1m1.7 0.4h1m-2.9 0.1h1m10.6 0h1m-10.6 0.3h1m-9.1 0.1h1m22.3 0.2h1m-21.1 0.1h1m13.8 0.5h1m-22.1 0.1h1m7.7 0.1h1m6.7 0h1m11.8 0.3h1m-19.5 0.2h1m12.5 0.3h1m-9.6 0.5h1m2.6 0.2h1m-12.8 0.5h1m11.9 0.1h1m-9.8 0.2h1m-9.5 0.3h1m3.9 0.1h1m6.2 0h1m-1.6 0.1h1m2.5 0h1m4.5 0h1m-11.5 0.1h1m0.6 0.1h1m6.3 0h1m-11.5 0.2h1m-9.2 0.1h1m2.8 0.2h1m-0.1 0.4h1m4.5 0.3h1m2.4 0.2h1m-23.4 0.1h1m8.4 0h1m4.9 0.1h1m3.3 0.2h1m17.7 0h1m-26.2 0.1h1m-9.7 0.2h1m-0.3 0h1m12.2 0h1m9.5 0h1m4.9 0h1m-6.8 0.2h1m-12.3 0.1h1m-19.3 0.3h1m13.7 0.5h1m1.2 0.3h1m1.5 0h1m10.6 0.3h1m-11.3 0.2h1m9 0h1m-12.6 0.1h1m-15.3 0.6h1m17.3 0h1m-7.3 0.1h1m8 0.3h1m-8.8 0.1h1m-6.8 0.2h1m4.9 0h1m17 0h1m-20 0.2h1m8.1 0.1h1m-18.2 0.2h1m7.3 0h1m10.8 0h1m-7.3 0.1h1m-2.8 0.1h1m1.4 0h1m12.8 0h1m-17.6 0.2h1m-12 0.1h1m-12 0.3h1m26.5 0h1m-13.3 0.1h1m-2.5 0.1h1m9.7 0.2h1m-18.5 0.2h1m12.8 0.1h1m0 0.4h1m-8.5 0.2h1m15.2 0.4h1m-27.1 0.1h1m24.8 0h1m-24.4 0.1h1m-4.1 0.7h1m18.8 0h1m-5.6 0.2h1m8.3 0h1m-3.1 0.4h1m4 0h1m-13.7 0.4h1m11 0h1m-18.7 0.3h1m-11.1 0.1h1m20.7 0.1h1m5.9 0.2h1m-26.6 0.1h1m16.4 0.2h1m-7.7 0.1h1m7.9 0.2h1m-17.2 0.1h1m16.7 0.6h1m-0.9 0h1m-0.9 0h1m-5.2 0.1h1m11.6 0.4h1m-27 0.1h1m12.2 0.1h1m-14 0.2h1m4.1 0.2h1m12.2 0.8h1m-5.1 0.2h1m-4.6 0.6h1m5 0h1m2.6 0.5h1m-4.7 0.6h1m-4.9 0.5h1m-3.1 1h1m-5 0.5h1m8.4 0.1h1m-22.5 0.2h1m13.5 0.8h1m4.4 0.3h1m-9.3 1.1h1m14 0.3h1m-19.5 0.3h1m3.9 0h1" stroke="#888" stroke-width="1" fill="none" opacity="1.0"/>
<path d="M277.1 301.2h1m-4.6 2.2h1m9.4 0.2h1m-3.2 0.1h1m-4.6 0.6h1m4.4 0.2h1m-8.2 0.8h1m-9.1 0.1h1m16.3 0.1h1m-10.8 0.7h1m-6.3 0.6h1m17.4 0.1h1m-1.7 0.1h1m1.1 0.1h1m-23.4 0.1h1m8.2 0h1m1.4 0.4h1m-15.9 0.1h1m2.6 0h1m2.6 0.6h1m-18 0.1h1m26.8 0.1h1m-7 0.1h1m4.1 0.1h1m-2.2 0.1h1m-6.4 0.1h1m2.1 0.6h1m5.4 0h1m-7.9 0.3h1m4.2 0h1m2.4 0h1m-6.1 0.1h1m5.8 0h1m-25.3 0.2h1m10.2 0h1m5.7 0h1m-6 0.1h1m-2.6 0.2h1m-1.3 0.1h1m-3.5 0.2h1m12.6 0h1m2.1 0h1m-19.1 0.1h1m4.8 0h1m5.1 0h1m-8.5 0.1h1m5 0h1m4.1 0h1m-10.2 0.1h1m3.4 0h1m-3.9 0.2h1m1.1 0h1m2.4 0h1m-0.5 0h1m3.9 0h1m-13.4 0.3h1m8 0h1m-9.9 0.1h1m-1.2 0.1h1m7.4 0h1m1.8 0h1m1.2 0h1m-16.2 0.1h1m2.9 0h1m-10.9 0.1h1m9.8 0h1m7.4 0h1m-22.3 0.2h1m16.4 0h1m0 0h1m-5.2 0.1h1m-5 0.1h1m-0.6 0h1m11.1 0h1m-21.7 0.1h1m3.7 0h1m2 0h1m3.7 0h1m-0.7 0.1h1m-18.9 0.1h1m8.4 0h1m-0.2 0h1m1.6 0h1m-0.2 0h1m4.7 0h1m2.3 0h1m-15.9 0.1h1m0.9 0h1m10.8 0h1m-7.9 0.1h1m-4.8 0.1h1m3.6 0.1h1m3 0h1m3.6 0h1m-25.6 0.1h1m13.6 0h1m0.7 0h1m-0.9 0.1h1m-0.9 0.1h1m-0.9 0h1m8.2 0h1m-21.3 0.1h1m6.5 0h1m0.5 0h1m-0.2 0h1m5 0h1m-26.7 0.1h1m7.9 0h1m3.8 0h1m0.6 0h1m8.1 0h1m-10.9 0.1h1m2 0h1m3.3 0h1m2.1 0h1m-10.9 0.1h1m-5.9 0.1h1m0.7 0h1m1.9 0h1m4.7 0h1m-14.4 0.1h1m1.7 0.1h1m-0.1 0h1m6.2 0h1m-0.4 0.1h1m7.3 0.1h1m0.4 0h1m-19.2 0.1h1m1.3 0h1m0.1 0h1m4 0h1m-0.8 0h1m1.6 0h1m-3.2 0.1h1m2.5 0h1m-0.9 0h1m1.9 0h1m0.4 0h1m-25.7 0.1h1m9.2 0h1m1 0h1m5.7 0h1m-0.5 0h1m3.3 0h1m0.6 0h1m-20.5 0.1h1m3.5 0h1m-0.4 0h1m4.8 0h1m0.3 0h1m-0.3 0h1m0.4 0h1m3.4 0h1m-0.1 0h1m-18.9 0.1h1m1.3 0h1m7.1 0h1m1.5 0h1m6.9 0h1m-18.2 0.1h1m3.6 0h1m-0.7 0h1m-0.3 0h1m2.8 0h1m-4.9 0.1h1m-4.2 0.1h1m-1 0h1m6.8 0h1m7.2 0h1m-29.7 0.1h1m6.5 0h1m5.8 0h1m3.2 0h1m6.4 0h1m-20.3 0.1h1m1.2 0h1m6.5 0h1m-10.6 0.1h1m6.8 0h1m2.1 0h1m2.9 0h1m6.2 0h1m-10.8 0.1h1m-0.4 0h1m5.2 0h1m-12 0.1h1m-0.1 0h1m2 0h1m4.8 0h1m-21.1 0.1h1m2.7 0h1m5.5 0h1m-8.7 0.1h1m1.1 0h1m2.3 0h1m-0.8 0h1m2.2 0h1m2.7 0h1m2.1 0h1m-0.3 0h1m-11.5 0.1h1m-1.1 0.1h1m1.2 0h1m0.5 0h1m1.8 0h1m-0.8 0h1m-0.6 0h1m0.4 0h1m0.7 0h1m-0.6 0h1m0.5 0h1m-22 0.1h1m10.3 0h1m2.8 0h1m0.1 0h1m0.7 0h1m-3.1 0.1h1m13.5 0h1m-24.5 0.1h1m5.4 0h1m1.7 0h1m0.5 0h1m1.6 0h1m1.4 0h1m-19.2 0.1h1m2.5 0h1m1.6 0h1m6.8 0h1m-0.3 0h1m-25.1 0.1h1m13.7 0h1m-1 0h1m0 0h1m2 0h1m1.3 0h1m1.8 0h1m-21.9 0.1h1m8.3 0h1m3 0h1m-0.9 0h1m0.4 0h1m1.4 0h1m7.4 0h1m-12 0.1h1m0.9 0h1m3 0h1m-0.5 0h1m-4.1 0.1h1m-0.1 0h1m0.9 0h1m-0.6 0h1m-11.3 0.1h1m7.6 0h1m2.1 0h1m0.6 0h1m-18.5 0.1h1m2.5 0h1m-0.2 0h1m-0.8 0h1m9.1 0h1m0.4 0h1m1.6 0h1m5.4 0h1m-30.6 0.1h1m8.5 0h1m2.8 0h1m-0.7 0h1m-9.6 0.1h1m2.8 0h1m8 0h1m10 0h1m1.7 0h1m-29.4 0.1h1m7.5 0h1m-0.7 0h1m0.8 0h1m1.3 0h1m-22 0.1h1m8.4 0h1m0.5 0h1m4 0h1m1.1 0h1m-0.4 0h1m1.1 0h1m0.1 0h1m3.7 0h1m-0.8 0h1m3.2 0h1m-27.2 0.1h1m3.7 0h1m0.9 0h1m0.5 0h1m1.7 0h1m3.5 0h1m2.3 0h1m-22.9 0.1h1m10.6 0h1m-0.4 0h1m-0.6 0h1m2.5 0h1m0.3 0h1m-18 0.1h1m7.7 0h1m0.6 0h1m-1 0h1m-0.4 0h1m-0.1 0h1m5.5 0h1m-12.2 0.1h1m2 0h1m1.8 0h1m1.5 0h1m0.2 0h1m-0.4 0h1m-0.1 0h1m3.9 0h1m-0.1 0h1m2.9 0h1m0.5 0h1m1.8 0h1m-29 0.1h1m6.8 0h1m1.2 0h1m3.3 0h1m-0.9 0h1m2.1 0h1m-0.6 0h1m6.4 0h1m-34.9 0.1h1m7.2 0h1m2.4 0h1m0.6 0h1m0.2 0h1m3 0h1m2.9 0h1m0.7 0h1m1 0h1m-30.2 0.1h1m9.3 0h1m7.7 0h1m4.2 0h1m3 0h1m4.6 0h1m5.7 0h1m-25 0.1h1m0.3 0h1m2.1 0h1m-5 0.1h1m-0.1 0h1m8.3 0h1m-0.9 0h1m3.2 0h1m-8.9 0.1h1m2.9 0h1m5.2 0h1m-0.4 0h1m-19.9 0.1h1m-1 0h1m3.3 0h1m1.3 0h1m1.9 0h1m-0.3 0h1m2.1 0h1m-14.3 0.1h1m1.2 0h1m3.4 0h1m-0.1 0h1m0 0h1m2.2 0h1m6.3 0h1m-28.2 0.1h1m6.1 0h1m5.2 0h1m-0.8 0h1m1.4 0h1m1.1 0h1m1.6 0h1m0.4 0h1m-0.2 0h1m0.6 0h1m-25.3 0.1h1m-0.9 0h1m19.3 0h1m0.6 0h1m0 0h1m-0.6 0h1m5.7 0h1m-22.8 0.1h1m4.7 0h1m0.8 0h1m10 0h1m-16.5 0.1h1m2.2 0h1m5.5 0h1m0.3 0h1m1.3 0h1m-18 0.1h1m3.3 0h1m-0.9 0h1m1.8 0h1m5.9 0h1m0.2 0h1m-20.4 0.1h1m5.6 0h1m0.5 0h1m0.8 0h1m0.1 0h1m0.3 0h1m2.1 0h1m2.1 0h1m1 0h1m0.4 0h1m-16.8 0.1h1m5.1 0h1m4.5 0h1m4.6 0h1m-20.8 0.1h1m2.3 0h1m3.5 0h1m-0.6 0h1m-0.6 0h1m3.6 0h1m1.3 0h1m-7.2 0.1h1m-1 0h1m0.3 0h1m1 0h1m0.1 0h1m-0.6 0h1m4.5 0h1m-0.6 0h1m-18.2 0.1h1m1.7 0h1m-0.1 0h1m-0.7 0h1m1.6 0h1m3.2 0h1m2.1 0h1m3 0h1m-0.7 0h1m-0.2 0h1m-2.7 0.1h1m4.2 0h1m-21.9 0.1h1m2.7 0h1m-0.5 0h1m0.9 0h1m0 0h1m-0.1 0h1m0 0h1m1.3 0h1m-0.5 0h1m-0.7 0h1m2.2 0h1m-13.6 0.1h1m0.3 0h1m0.1 0h1m-0.5 0h1m2.2 0h1m-17.2 0.1h1m5.9 0h1m8.3 0h1m-0.2 0h1m-0.2 0h1m-0.7 0h1m2.7 0h1m-14.8 0.1h1m1.1 0h1m3.4 0h1m0 0h1m3.6 0h1m3.7 0h1m-23.2 0.1h1m1.3 0h1m-0.4 0h1m-0.6 0h1m5.3 0h1m3.2 0h1m5.7 0h1m-19.1 0.1h1m1.7 0h1m3.3 0h1m3.9 0h1m0.9 0h1m5.5 0h1m-16.4 0.1h1m6.7 0h1m-19 0.1h1m3.8 0h1m-0.4 0h1m1.2 0h1m0.1 0h1m0.6 0h1m-0.2 0h1m2.5 0h1m-22.5 0.1h1m10.2 0h1m4.1 0h1m2.4 0h1m-0.2 0h1m-0.2 0h1m0 0h1m-0.6 0h1m0.2 0h1m2.1 0h1m-17.1 0.1h1m5.9 0h1m0.1 0h1m1.9 0h1m-0.9 0h1m5.8 0h1m1.9 0h1m-24.2 0.1h1m1.7 0h1m2.3 0h1m4 0h1m0.9 0h1m4.5 0h1m-0.6 0h1m1.2 0h1m4.3 0h1m-21.6 0.1h1m4.9 0h1m-1 0h1m1.5 0h1m-0.4 0h1m0.8 0h1m0.4 0h1m-11.8 0.1h1m0.5 0h1m1.8 0h1m-0.8 0h1m0 0h1m0.4 0h1m-20.3 0.1h1m4.8 0h1m6.2 0h1m0.4 0h1m3.5 0h1m0.3 0h1m1.7 0h1m6.2 0h1m6.5 0h1m-32.8 0.1h1m9.5 0h1m0 0h1m-0.2 0h1m-0.9 0h1m-6.9 0.1h1m-1 0h1m-0.6 0h1m0.3 0h1m0 0h1m2.8 0h1m2.6 0h1m-0.6 0h1m-15.3 0.1h1m0.1 0h1m4.5 0h1m-0.5 0h1m0.7 0h1m0.6 0h1m-0.3 0h1m1.3 0h1m8 0h1m-28.2 0.1h1m3.9 0h1m2.2 0h1m-1 0h1m5.4 0h1m3.6 0h1m5.9 0h1m-32.6 0.1h1m15.3 0h1m-0.3 0h1m0 0h1m-0.3 0h1m1.3 0h1m-0.5 0h1m-0.9 0h1m1.2 0h1m3.5 0h1m-23.2 0.1h1m2.1 0h1m0.3 0h1m0 0h1m-0.1 0h1m2.6 0h1m8.9 0h1m-9.6 0.1h1m-0.8 0h1m0.2 0h1m0.2 0h1m2.1 0h1m4 0h1m1.3 0h1m1.6 0h1m-29.2 0.1h1m1 0h1m6.7 0h1m1.7 0h1m0.5 0h1m-0.7 0h1m7.9 0h1m-23.9 0.1h1m11.3 0h1m-0.9 0h1m0.6 0h1m-0.8 0h1m3.1 0h1m0.6 0h1m0.2 0h1m5.3 0h1m-21.3 0.1h1m-0.9 0h1m4 0h1m3.6 0h1m-8.4 0.1h1m0 0h1m3.5 0h1m0.5 0h1m-0.5 0h1m4.3 0h1m-0.1 0h1m-1 0h1m-17.8 0.1h1m0.8 0h1m5.2 0h1m1.4 0h1m6.1 0h1m-17.7 0.1h1m-0.8 0h1m2.6 0h1m-0.1 0h1m7.5 0h1m-0.8 0h1m11.5 0h1m-25.9 0.1h1m-0.7 0h1m0.5 0h1m-0.8 0h1m0.8 0h1m-0.7 0h1m5 0h1m-15.3 0.1h1m9.7 0h1m-0.3 0h1m-6.4 0.1h1m0.8 0h1m4 0h1m-1 0h1m-0.2 0h1m-14.7 0.1h1m-0.4 0h1m0 0h1m0.1 0h1m0.6 0h1m0.8 0h1m0.2 0h1m2.2 0h1m8.1 0h1m-23.9 0.1h1m5 0h1m1.4 0h1m0.5 0h1m-0.7 0h1m-1 0h1m-0.7 0h1m1.6 0h1m-0.6 0h1m-0.7 0h1m-0.9 0h1m2.7 0h1m-0.6 0h1m0.4 0h1m1.5 0h1m1.7 0h1m-19.1 0.1h1m2.5 0h1m3.7 0h1m7.7 0h1m-25.1 0.1h1m-0.1 0h1m3 0h1m8.2 0h1m2 0h1m2.6 0h1m-0.8 0h1m0.7 0h1m1.5 0h1m-0.6 0h1m1.1 0h1m-21.2 0.1h1m1.1 0h1m0.2 0h1m0.3 0h1m-0.4 0h1m6.3 0h1m3.4 0h1m-23.4 0.1h1m9.4 0h1m3.2 0h1m1.1 0h1m-9.7 0.1h1m1.5 0h1m3.6 0h1m2.1 0h1m3.8 0h1m-0.9 0h1m-1 0h1m-19.6 0.1h1m-0.6 0h1m1.4 0h1m4.1 0h1m-0.3 0h1m-1 0h1m5.9 0h1m-18 0.1h1m1.9 0h1m4.7 0h1m0.5 0h1m0.2 0h1m0.8 0h1m2.5 0h1m-11.2 0.1h1m2.5 0h1m2.1 0h1m9.4 0h1m-26.1 0.1h1m5.5 0h1m0.5 0h1m1.8 0h1m-0.9 0h1m0.6 0h1m-9.1 0.1h1m1.8 0h1m-0.7 0h1m1.8 0h1m1.4 0h1m10.5 0h1m3.3 0h1m-24.3 0.1h1m0.6 0h1m2 0h1m2.3 0h1m2.8 0h1m6.9 0h1m-18.7 0.1h1m6.9 0h1m1.5 0h1m-13.3 0.1h1m2.5 0h1m-0.4 0h1m2 0h1m-0.8 0h1m19.2 0.1h1m-27.4 0.1h1m8.9 0h1m-0.9 0h1m3 0h1m-21.8 0.1h1m8.3 0h1m-13.6 0.1h1m8.5 0h1m6.1 0h1m0.1 0h1m0.4 0h1m7.8 0h1m-17.9 0.1h1m-0.1 0h1m1.5 0h1m-0.6 0h1m4.1 0h1m-17.4 0.1h1m1.1 0h1m3.3 0h1m4.3 0h1m11.3 0h1m-20.3 0.1h1m5.5 0h1m0.6 0h1m1.4 0h1m0.4 0h1m5.5 0h1m1.4 0h1m-24 0.1h1m1.4 0h1m5.9 0h1m0.1 0.1h1m1.4 0h1m6.6 0h1m-0.3 0h1m-16.8 0.1h1m2.1 0h1m8 0h1m-25.4 0.1h1m8.5 0h1m3.1 0h1m-1.3 0.1h1m0.4 0h1m1 0h1m-0.5 0h1m0 0h1m1.9 0h1m2.3 0h1m0.5 0h1m-26.7 0.1h1m7.1 0h1m3.6 0h1m4.2 0h1m-18.5 0.1h1m4.7 0h1m4.6 0h1m-13.6 0.1h1m7.2 0h1m0.6 0h1m3 0h1m-0.5 0h1m1.6 0h1m0.9 0h1m0.1 0h1m-21.8 0.1h1m3.1 0h1m3.3 0h1m10.5 0h1m-0.8 0h1m15.2 0h1m-37.7 0.1h1m5 0h1m9.9 0h1m5.6 0h1m-17 0.1h1m5.3 0h1m2.3 0h1m-0.7 0h1m3.9 0h1m-18.2 0.1h1m7 0h1m4.5 0h1m1.5 0h1m6.7 0h1m2.6 0h1m-28.5 0.1h1m4.9 0h1m0.3 0h1m-2.1 0.1h1m5.9 0h1m-1 0h1m2.8 0h1m2.4 0h1m-21.2 0.1h1m25.1 0h1m2.1 0h1m-33.7 0.1h1m15.8 0h1m0.6 0h1m1 0h1m1.8 0h1m1.3 0h1m-10.1 0.1h1m3.5 0h1m-11.1 0.1h1m2.9 0h1m0.2 0h1m4.6 0h1m1.3 0h1m4.7 0h1m-28.7 0.1h1m6.1 0h1m0.9 0h1m0 0h1m1.5 0h1m1.6 0h1m1.5 0h1m1.1 0h1m-10.9 0.1h1m6.9 0h1m1 0h1m1.8 0h1m-13.6 0.1h1m1.7 0h1m1.8 0h1m4.5 0h1m-10.9 0.1h1m1.2 0h1m-9.4 0.1h1m0.3 0h1m-0.2 0h1m4.6 0h1m1.2 0h1m3.2 0h1m-11.4 0.1h1m-0.7 0h1m1.9 0h1m16.5 0h1m-25.2 0.1h1m4.5 0h1m-0.3 0h1m1.6 0h1m2 0h1m-7.6 0.1h1m1.9 0h1m-1 0h1m2 0h1m-6.2 0.1h1m2.3 0h1m1.8 0h1m2.4 0h1m7.1 0h1m-25.8 0.1h1m2.5 0h1m6.8 0h1m3.4 0h1m3.2 0h1m14.1 0h1m-29.4 0.1h1m1.7 0h1m5.6 0h1m-21.3 0.1h1m14 0h1m-0.7 0h1m-0.6 0h1m1.3 0h1m1.5 0h1m-0.3 0h1m-1 0h1m-24.8 0.1h1m6.4 0h1m4.6 0h1m1 0h1m-0.6 0h1m-0.1 0h1m10.3 0h1m5.1 0h1m-27.7 0.1h1m11.4 0h1m0.4 0h1m-9.8 0.1h1m4.2 0h1m0.6 0h1m0.2 0h1m4.8 0h1m-11.9 0.1h1m0.4 0h1m0.6 0h1m5.4 0h1m3.5 0h1m-14.4 0.1h1m2.6 0h1m-2.2 0.1h1m1.4 0h1m-0.8 0h1m-13.7 0.1h1m14.5 0h1m-12.8 0.1h1m0.2 0h1m-10.8 0.1h1m5.6 0h1m2.8 0h1m5.4 0h1m3.5 0h1m-11.2 0.1h1m10.1 0.1h1m-0.7 0h1m-16.1 0.1h1m5.1 0h1m-6.2 0.1h1m12 0h1m3.7 0.1h1m-18.9 0.1h1m-0.4 0h1m13.1 0h1m-23.9 0.1h1m12.5 0h1m7.2 0h1m-14.2 0.1h1m1.5 0h1m2.1 0h1m4.4 0h1m8.1 0.1h1m-13.8 0.1h1m0.9 0h1m-15.1 0.1h1m8.3 0h1m11.5 0h1m0.3 0h1m-17.6 0.1h1m3.4 0h1m-0.2 0h1m14.5 0.1h1m-9.5 0.3h1m12.5 0h1m-33.5 0.1h1m16.4 0.1h1m6 0h1m-26.3 0.4h1m2.9 0h1m20.3 0h1m-24.1 0.1h1m15.5 0h1m-2.5 0.1h1m8.5 0.2h1m-0.5 0h1m-13.1 0.1h1m8.1 0h1m-19.6 0.2h1m2.1 0h1m11.3 0h1m-23.1 0.1h1m22.2 0h1m-15.3 0.1h1m-3.5 0.1h1m2.6 0h1m1.3 0h1m5.8 0.1h1m-25.5 0.1h1m35.5 0h1m-21 0.1h1m14.1 0.1h1m-21.8 0.3h1m4.2 0h1m11.3 0.1h1m-7.7 0.1h1m1.3 0.2h1m4.5 0h1m-14.9 0.1h1m6.1 0h1m1.1 0h1m3.4 0.1h1m-2.6 0.2h1m-11.3 0.2h1m12.7 0.1h1m-16.9 0.2h1m12.8 0.1h1m-23.3 0.1h1m20.9 0.3h1m1.7 0.1h1m-5.4 0.1h1m-10.9 0.4h1m2.3 0h1m3.1 0h1m4 0.2h1m-8.5 0.1h1m-1.4 0.2h1m-12.9 0.8h1m14.2 0.8h1m-11.7 0.2h1m2.6 0.3h1m-10.8 3.6h1m9.2 1.3h1" stroke="#555" stroke-width="1" fill="none" opacity="1.0"/>
<path d="M339.5 298.4h1m-1.6 2.1h1m23.1 0.8h1m-12.6 3.3h1m0.6 0.9h1m-18 0.1h1m8 0.4h1m-11.1 0.7h1m-3.4 0.7h1m1.1 0.5h1m13.7 0.8h1m-17.2 0.1h1m8.5 0.4h1m15.5 0.1h1m-28.3 0.1h1m9.8 0h1m0.3 0.2h1m4.3 1h1m13.8 0h1m-23.1 0.2h1m12.3 0h1m-21.6 0.3h1m-1.6 0.1h1m2.3 0h1m17 0h1m-17.5 0.1h1m-11.2 0.2h1m14.3 0.1h1m1.3 0.1h1m-23.9 0.1h1m24.1 0h1m-6.5 0.7h1m8.2 0h1m-25.4 0.2h1m9.1 0.3h1m6.6 0.2h1m5 0.1h1m-10 0.1h1m16.5 0h1m-31.9 0.1h1m23.6 0h1m-10.5 0.1h1m1.1 0h1m-2.5 0.1h1m5.5 0h1m1.5 0h1m2.3 0.3h1m-30.3 0.2h1m7.7 0.1h1m14.5 0.1h1m10.9 0.1h1m-33.8 0.1h1m17.6 0.5h1m-13.7 0.2h1m-5.2 0.2h1m8.8 0h1m0.7 0.1h1m-19.8 0.1h1m19.5 0h1m-2.1 0.4h1m6.8 0h1m-9.4 0.1h1m-0.1 0h1m-12.9 0.2h1m-1.2 0.1h1m9.5 0.1h1m-14.3 0.1h1m7.4 0h1m8.1 0.2h1m1.8 0h1m-3.4 0.2h1m-10.9 0.1h1m6.8 0h1m-10.6 0.2h1m15.3 0h1m-19.7 0.1h1m21 0.2h1m-0.1 0.1h1m-18 0.1h1m-6.5 0.2h1m0.2 0h1m6.5 0h1m-9.1 0.3h1m12.5 0h1m-24.6 0.2h1m10.5 0h1m5.2 0.2h1m-5.1 0.1h1m17.4 0h1m-10.9 0.3h1m8.5 0h1m-16.9 0.1h1m10.7 0.2h1m-26.4 0.2h1m20.2 0h1m-5.9 0.1h1m3.2 0h1m8.8 0h1m-33.8 0.1h1m6.1 0h1m11.3 0.2h1m16.7 0h1m-27.3 0.2h1m9.7 0h1m-5.7 0.2h1m19.6 0h1m-31.5 0.4h1m11 0.1h1m-10.1 0.1h1m1.3 0.1h1m-2.7 0.1h1m9.5 0.2h1m10 0.2h1m-24.8 0.1h1m5.3 0.1h1m-12.8 0.3h1m26.7 0.1h1m1.4 0.3h1m-13.9 0.3h1m-10.9 0.3h1m-2.2 0.1h1m14.6 0h1m-13.5 0.1h1m16.7 0h1m-2.6 0.1h1m-13.7 0.2h1m6.8 0h1m1.4 0h1m5.1 0.1h1m0.7 0h1m-34.1 0.2h1m3.4 0h1m3.3 0h1m-8.6 0.3h1m25 0.1h1m-5.4 0.1h1m7.1 0.1h1m-0.9 0.2h1m-0.9 0.1h1m-17.2 0.7h1m6.5 0.1h1m2.9 0.2h1m-15 0.2h1m0 0h1m-3.5 0.7h1m16.3 0h1m-13.2 0.1h1m5.6 0.4h1m-19.9 0.7h1m31.5 1h1m-19.9 0.1h1m-1.9 1h1m0.7 0.2h1m35.1 0h1m-42 2.7h1m9.8 1.9h1" stroke="#888" stroke-width="1" fill="none" opacity="1.0"/>
<path d="M381.4 322.2h1m2.5 2.9h1m-43.1 1.1h1m17.2 0.2h1m-6.5 0.8h1m0.8 0.5h1m-4.4 0.3h1m34.8 0.1h1m-46.1 0.1h1m6 0.1h1m6 1.2h1m11 0.4h1m-9.6 0.2h1m14.3 0.2h1m-19 0.9h1m-20.6 0.2h1m25.4 0.6h1m-5.5 0.4h1m8.2 0.6h1m-19.7 0.2h1m13.7 0.2h1m12.4 0.6h1m-18.9 0.5h1m11.2 0.1h1m0.6 0h1m6.6 0.4h1m-10 0.4h1m9 0.2h1m-49.5 0.2h1m31.9 0.1h1m-14.7 0.2h1m-1.3 0.3h1m3.6 0h1m6 0h1m7.3 0.2h1m-7.3 0.1h1m-3.1 0.1h1m-17.4 0.2h1m18.5 0h1m-6.5 0.2h1m0.6 0.3h1m-12.2 0.1h1m-0.7 0.2h1m12.2 0.6h1m-0.9 0.2h1m-20.2 0.2h1m22.5 0h1m-23.3 0.6h1m22.5 0.2h1m3.9 0h1m-10.2 0.1h1m-3.9 0.1h1m1.5 0h1m4.8 0h1m-22.2 0.1h1m16.2 0.3h1m9.7 0h1m-17.5 0.3h1m-13.9 0.2h1m16.9 0h1m15.6 0h1m-33.2 0.3h1m4 0h1m2.2 0h1m9.9 0h1m2.2 0.1h1m-24.3 0.2h1m23.2 0.1h1m-24.9 0.1h1m13 0h1m-0.9 0.2h1m-11.9 0.6h1m-10.9 0.1h1m10.4 0h1m-11.4 0.3h1m17.7 0.2h1m-21.8 0.1h1m25.1 0.2h1m-12.5 0.1h1m6.1 0h1m-1.2 0.1h1m-16.4 0.2h1m12.6 0.3h1m-0.7 0h1m0.6 0.1h1m10.7 0.2h1m-17.4 0.2h1m-13.4 0.1h1m21.3 0.2h1m-17 0.1h1m16.1 0.2h1m-37 0.1h1m17.4 0h1m14.6 0.1h1m-19.7 0.1h1m23.5 0h1m-32.4 0.1h1m23.1 0h1m15.7 0h1m-28.9 0.1h1m24.9 0h1m-11.9 0.6h1m5.5 0h1m-13.3 0.1h1m-11.6 0.2h1m7.4 0h1m-5.1 0.1h1m1.7 0h1m16.3 0h1m0 0h1m-15.5 0.1h1m10.1 0h1m-8.2 0.1h1m18.7 0.1h1m-33 0.2h1m-1.1 0.1h1m9.9 0h1m4.3 0.1h1m-23.6 0.1h1m15.9 0.1h1m-14.1 0.4h1m13.7 0h1m-21 0.3h1m11.2 0.1h1m-16.1 0.2h1m14 0.3h1m-6.4 0.1h1m8.7 0h1m0.4 0h1m-12.7 0.2h1m-0.8 0.1h1m13.8 0h1m2 0.1h1m-23.6 0.2h1m17 0h1m6.7 0h1m-14.5 0.1h1m-14.2 0.1h1m20.4 0h1m12.3 0.2h1m-26.1 0.1h1m8.9 0h1m-16.2 0.1h1m21.4 0.1h1m-8 0.2h1m-9.9 0.1h1m4.4 0h1m-0.2 0h1m1.3 0h1m0 0h1m-19.7 0.1h1m-6.9 0.1h1m23.8 0.1h1m8.6 0.3h1m-18.8 0.2h1m8.7 0h1m-20.7 0.1h1m2.2 0.1h1m9 0h1m2.9 0h1m-1.3 0.5h1m2.6 0h1m-23.5 0.1h1m30.1 0.1h1m-35.4 0.1h1m25.5 0.1h1m-4.3 0.3h1m-3.3 0.1h1m-2.3 0.2h1m3.6 0h1m-0.4 0h1m-14.3 0.3h1m9.3 0h1m-16.9 0.1h1m10.2 0.4h1m4.5 0h1m0.7 0.1h1m-20.4 0.1h1m-1 0.1h1m4.9 0h1m13.3 0h1m-6.5 0.4h1m13.4 0h1m0.1 0.7h1m-16.9 0.1h1m-0.4 0.3h1m10.7 0.1h1m-15 0.2h1m0.9 0.1h1m1.5 0.4h1m-16.5 0.1h1m8.2 0.1h1m15.4 0.5h1m-18.1 0.7h1m-6.2 0.2h1m3.1 0.2h1m-6.9 0.1h1m-1.5 0.2h1m3.3 0.3h1m-9.9 0.1h1m16.4 0h1m-10.5 0.3h1m2.1 0.9h1m17.1 0.4h1m-24.2 0.1h1m16.3 0.1h1m-10.7 1.3h1m5.5 0.7h1m-7.6 0.5h1m-7.3 0.1h1m-2.3 0.1h1m18.8 0.6h1m-10.1 0.1h1m1.3 0.2h1m-13.4 0.8h1m6.2 0.2h1m-6.5 2.6h1" stroke="#888" stroke-width="1" fill="none" opacity="1.0"/>
<path d="M405.4 331.9h1m3.5 5.2h1m-8.5 2.1h1m10.6 1.5h1m-5 0.2h1m-4 0.1h1m2.5 0.7h1m-3.2 0.2h1m5.3 1.5h1m0 0.2h1m-5.4 1.7h1m-8.8 0.6h1m-9.9 0.4h1m13.3 0.6h1m1.9 0.2h1m1.1 0.2h1m-1.2 0.8h1m-3.7 0.4h1m3.3 0h1m-5.7 0.5h1m-4.3 0.6h1m5.7 0.1h1m2.4 0h1m-8.8 0.2h1m1 0.3h1m-4.6 0.3h1m7.6 0.1h1m-12.1 0.2h1m6.6 0.2h1m-0.7 0.1h1m-11.4 0.1h1m8.7 0.1h1m-3.5 0.1h1m-7.7 0.1h1m9.5 0h1m1.2 0h1m-4.3 0.2h1m-0.9 0h1m-6.7 0.6h1m1.6 0.6h1m-1.3 0.4h1m1 0.2h1m-7.8 0.6h1m7.8 0h1m1 0.1h1m-13.9 0.4h1m-3.4 0.4h1m14.2 0.3h1m-3.2 0.3h1m-1.1 0.1h1m-6.2 0.7h1m0.8 0h1m3.6 0.2h1m-4.8 0.3h1m-2.6 0.1h1m5.9 0.8h1m-5.7 0.3h1m0 0h1m-3.7 0.2h1m3.8 0.2h1m-4.4 0.5h1m-7.3 0.7h1m-0.7 0h1m4.1 0.4h1m-4.1 0.5h1m-8 0.6h1m19.4 0.5h1m-11.9 0.1h1m-0.8 0.1h1m1.9 0.7h1m-7.1 0.1h1m4.9 0.3h1m-0.5 0h1m-10.4 0.1h1m3.2 0.3h1m-14.6 0.2h1m20.8 0.3h1m-9.7 0.1h1m2.4 0h1m-0.9 0.6h1m2.6 0.4h1m4.5 0.2h1m-14.1 0.1h1m11.1 0h1m-12.9 0.8h1m-1.2 1.6h1m3.5 0.8h1" stroke="#888" stroke-width="1" fill="none" opacity="1.0"/>
<path d="M370.3 304.6h1m-16.9 2h1m7.5 0.2h1m-0.9 0h1m9.2 0h1m-18.1 1.1h1m10.2 0.5h1m-9.4 0.3h1m0.5 0h1m9.1 0h1m7.9 0.3h1m5.3 0h1m-21.6 0.1h1m6.4 0.1h1m7.3 0h1m-0.4 0.1h1m-5.1 0.1h1m-2.6 0.1h1m0.7 0h1m-11.4 0.1h1m0.6 0h1m1.4 0h1m5.7 0.2h1m-13.7 0.2h1m2.6 0h1m8.9 0.1h1m-14.1 0.1h1m3.6 0.1h1m21.9 0.1h1m-34.6 0.1h1m16.8 0h1m0.1 0.2h1m-1.9 0.2h1m-3.9 0.1h1m1.8 0.1h1m-14.7 0.1h1m11 0.1h1m-5 0.1h1m-0.9 0h1m2 0.2h1m-14.4 0.1h1m8.1 0h1m-0.9 0h1m2.5 0h1m0.8 0h1m-19.7 0.1h1m8.3 0h1m-0.7 0h1m1.7 0h1m1.3 0h1m-15.6 0.1h1m4 0h1m-0.5 0h1m3.6 0.1h1m3.1 0h1m5.9 0h1m-16.2 0.1h1m6.8 0h1m-12.8 0.1h1m9 0h1m3 0h1m-9.4 0.1h1m-14.7 0.1h1m6.8 0h1m5.5 0h1m0.2 0h1m8.8 0h1m-13.1 0.1h1m4 0h1m9.4 0h1m-11 0.1h1m-14.4 0.1h1m14 0h1m13.3 0h1m-21.5 0.1h1m-0.7 0h1m12.1 0h1m-25.8 0.1h1m11.5 0h1m2 0h1m-0.1 0h1m-0.7 0h1m-3.3 0.1h1m-1 0h1m6.4 0h1m1.4 0h1m2.5 0h1m-21.5 0.1h1m2.2 0h1m2.8 0h1m-0.9 0h1m2.3 0.1h1m4.1 0.1h1m-9.8 0.1h1m0.9 0h1m3.1 0h1m-22.3 0.1h1m13.2 0h1m-9.3 0.1h1m5 0h1m6.4 0h1m3.8 0h1m-8.7 0.1h1m0 0h1m1.1 0h1m-25.5 0.2h1m9 0h1m8.4 0h1m13.1 0h1m-23.9 0.1h1m8.8 0h1m5.7 0h1m-16 0.1h1m-0.1 0h1m6.2 0h1m-0.4 0h1m9.2 0h1m-5 0.1h1m-6.6 0.1h1m11.9 0h1m-22.2 0.1h1m7.3 0h1m-10.8 0.1h1m0.8 0h1m6.8 0h1m0.1 0h1m-8.8 0.1h1m1.8 0h1m0.2 0h1m-7.4 0.1h1m7.9 0h1m0.6 0h1m0.1 0h1m2.1 0h1m3.9 0h1m-22.2 0.1h1m1.3 0h1m0.2 0h1m18.2 0h1m-18.6 0.1h1m5 0h1m1.1 0.1h1m-15.6 0.1h1m12.7 0h1m-0.4 0h1m6.2 0h1m-0.3 0h1m9.3 0h1m-30.7 0.1h1m4.1 0h1m2.8 0h1m7.7 0h1m-12.3 0.1h1m3.1 0h1m4.5 0h1m-15.4 0.1h1m0.8 0h1m8.3 0h1m14.1 0h1m-24.2 0.1h1m1.1 0h1m3.1 0h1m3.6 0h1m-0.9 0h1m0.5 0h1m0.7 0h1m-10.6 0.1h1m3.5 0h1m0.8 0h1m-15 0.1h1m6.6 0h1m0 0h1m-2.2 0.1h1m-0.7 0h1m11.6 0h1m3.2 0h1m-19.7 0.1h1m0.1 0h1m5.4 0h1m4 0h1m1.2 0h1m-17.7 0.1h1m2.7 0h1m-0.3 0h1m2.1 0h1m0 0h1m-8.9 0.1h1m-0.6 0h1m1.9 0h1m0.4 0h1m5.9 0h1m1 0h1m15.7 0h1m-37.1 0.1h1m1.4 0h1m4.4 0h1m5.4 0h1m-0.6 0h1m0.3 0h1m-0.2 0h1m0.4 0h1m-15.8 0.1h1m4.8 0h1m2.2 0h1m3.2 0h1m2 0h1m-14.3 0.1h1m5.1 0h1m-1 0h1m-9.7 0.1h1m0.7 0h1m4.1 0h1m3.2 0h1m-0.4 0h1m-0.9 0h1m5.1 0h1m-16.5 0.1h1m2.4 0h1m0.5 0h1m14.4 0h1m-19.6 0.1h1m0 0h1m0.3 0h1m1.4 0h1m2.2 0h1m-19.2 0.1h1m1.3 0h1m0 0h1m8 0h1m-0.4 0h1m-18.5 0.1h1m6 0h1m0.3 0h1m0.2 0h1m2.1 0h1m2.4 0h1m-1 0h1m-10.6 0.1h1m0.2 0h1m2.6 0h1m6.5 0h1m4.7 0h1m-19.3 0.1h1m8.3 0h1m-0.7 0h1m-0.4 0h1m1.4 0h1m0.3 0h1m1.2 0h1m1.5 0h1m-18.3 0.1h1m2.3 0h1m1.3 0h1m4.4 0h1m-0.2 0h1m0.1 0h1m-0.9 0h1m0.3 0h1m-15.1 0.1h1m4 0h1m3.9 0h1m0.2 0h1m0.8 0h1m1.2 0h1m0.4 0h1m-18.2 0.1h1m6.1 0h1m0.9 0h1m9.7 0h1m-23.1 0.1h1m5.5 0h1m-0.7 0h1m-1 0h1m1.2 0h1m-0.9 0h1m2.4 0h1m0.2 0h1m1.5 0h1m-0.1 0h1m0.7 0h1m1.7 0h1m-0.3 0h1m-27 0.1h1m6.3 0h1m1.5 0h1m8.7 0h1m0.3 0h1m3.4 0h1m0.7 0h1m-28.8 0.1h1m9.3 0h1m-0.5 0h1m1.4 0h1m-0.9 0h1m1.2 0h1m0 0h1m1.3 0h1m-5.7 0.1h1m-0.3 0h1m-0.9 0h1m0.9 0h1m-0.6 0h1m-0.2 0h1m1.2 0h1m0.5 0h1m1.3 0h1m0 0h1m-21.3 0.1h1m4.9 0h1m0.2 0h1m-0.6 0h1m3.5 0h1m-1 0h1m-0.9 0h1m-0.7 0h1m-0.8 0h1m2.7 0h1m5.3 0h1m1.5 0h1m-13.7 0.1h1m-0.7 0h1m1.2 0h1m3.4 0h1m-20.6 0.1h1m6.3 0h1m-0.4 0h1m0.1 0h1m0.3 0h1m1.8 0h1m0 0h1m-9.3 0.1h1m0.8 0h1m0.1 0h1m-0.5 0h1m1.6 0h1m2.5 0h1m2.9 0h1m-12.1 0.1h1m2 0h1m1.3 0h1m1.1 0h1m1.2 0h1m2.9 0h1m3.2 0h1m-33 0.1h1m13.7 0h1m14.7 0h1m-0.8 0h1m-1 0h1m-25.7 0.1h1m8.3 0h1m10.1 0h1m-22 0.1h1m2.6 0h1m5.7 0h1m11.4 0h1m4.2 0h1m-0.7 0h1m-32 0.1h1m8.6 0h1m0.6 0h1m8.4 0h1m4.5 0h1m-0.9 0h1m3.5 0h1m0.1 0h1m1.1 0h1m-38 0.1h1m14.1 0h1m-0.1 0h1m-0.8 0h1m-0.9 0h1m0.8 0h1m0.1 0h1m0.2 0h1m5.9 0h1m0.5 0h1m0.4 0h1m-18.3 0.1h1m1.6 0h1m2.6 0h1m-0.5 0h1m9.1 0h1m-4.5 0.1h1m-0.9 0h1m0.1 0h1m11.3 0h1m-29.5 0.1h1m-0.3 0h1m-0.7 0h1m7.1 0h1m-0.2 0h1m4.6 0h1m8.2 0h1m-22.6 0.1h1m2.2 0h1m2.5 0h1m1.1 0h1m-21 0.1h1m8.7 0h1m-1 0h1m2 0h1m2.2 0h1m-0.6 0h1m0 0h1m6.7 0h1m-0.6 0h1m-15.6 0.1h1m-0.4 0h1m1.9 0h1m0.8 0h1m3.8 0h1m6.5 0h1m-21.4 0.1h1m0.3 0h1m2.6 0h1m2.4 0h1m2.8 0h1m-13.9 0.1h1m0.8 0h1m3.3 0h1m1.8 0h1m2.6 0h1m6.2 0h1m-20.3 0.1h1m1 0h1m2.5 0h1m2.3 0h1m-0.8 0h1m1.9 0h1m0.1 0h1m3.2 0h1m2.7 0h1m1.9 0h1m-38.2 0.1h1m14.2 0h1m0.4 0h1m1.8 0h1m1.7 0h1m1.9 0h1m-0.3 0h1m1.4 0h1m9.8 0h1m-29.5 0.1h1m3.8 0h1m-0.1 0h1m2 0h1m2.1 0h1m-0.7 0h1m8 0h1m1.2 0h1m2.9 0h1m-24.2 0.1h1m0.6 0h1m2.1 0h1m6.9 0h1m-19.2 0.1h1m-0.4 0h1m6.3 0h1m2.7 0h1m1.7 0h1m0.7 0h1m0.6 0h1m1 0h1m0 0h1m-17.6 0.1h1m1.3 0h1m0.4 0h1m1.8 0h1m2.3 0h1m3.1 0h1m-0.2 0h1m-19.4 0.1h1m6 0h1m5.8 0h1m-0.5 0h1m-0.2 0h1m5.7 0h1m-0.8 0h1m2.7 0h1m-30.4 0.1h1m5.8 0h1m1.2 0h1m9.3 0h1m1.6 0h1m-11.5 0.1h1m1.2 0h1m0 0h1m-0.6 0h1m1 0h1m-0.8 0h1m-0.1 0h1m0.9 0h1m-0.1 0h1m-15.3 0.1h1m2.8 0h1m0.3 0h1m2.6 0h1m5.5 0h1m5.7 0h1m0.8 0h1m3.3 0h1m-30.4 0.1h1m5 0h1m0.6 0h1m-0.1 0h1m-0.8 0h1m2.6 0h1m0.3 0h1m0.2 0h1m4.5 0h1m6.3 0h1m-33.5 0.1h1m11.9 0h1m3.9 0h1m2.5 0h1m0 0h1m0.1 0h1m0.1 0h1m0.6 0h1m-16.5 0.1h1m0.1 0h1m4.4 0h1m6.3 0h1m-16.3 0.1h1m0 0h1m2.3 0h1m4.2 0h1m1.8 0h1m0.3 0h1m14.9 0h1m-30.6 0.1h1m-0.4 0h1m-1 0h1m5.7 0h1m0.7 0h1m-0.7 0h1m0.4 0h1m4.3 0h1m3 0h1m2.1 0h1m-26.3 0.1h1m10.7 0h1m0.3 0h1m2.4 0h1m-17.2 0.1h1m0 0h1m3.4 0h1m0 0h1m2.2 0h1m0.4 0h1m1.8 0h1m5.7 0h1m-16.2 0.1h1m0.9 0h1m3.4 0h1m0 0h1m-0.9 0h1m1.2 0h1m-12 0.1h1m0.3 0h1m-0.5 0h1m-0.5 0h1m3.6 0h1m0.5 0h1m1.1 0h1m-0.2 0h1m2.5 0h1m4.1 0h1m1.6 0h1m-28.5 0.1h1m-0.4 0h1m5.7 0h1m2.4 0h1m-0.6 0h1m-0.8 0h1m0.7 0h1m-0.6 0h1m2.6 0h1m0.8 0h1m-25.2 0.1h1m5 0h1m11.3 0h1m1.7 0h1m2.7 0h1m4.8 0h1m-30.2 0.1h1m5.6 0h1m8.5 0h1m3.2 0h1m3.3 0h1m-11.1 0.1h1m-0.5 0h1m-0.9 0h1m-0.9 0h1m-0.1 0h1m-0.7 0h1m3.7 0h1m-40.7 0.1h1m15.8 0h1m7.1 0h1m0.3 0h1m0.2 0h1m2 0h1m5.2 0h1m-0.9 0h1m0.6 0h1m0.7 0h1m-15.8 0.1h1m0.8 0h1m1.1 0h1m-0.8 0h1m0.5 0h1m0.8 0h1m4 0h1m-0.5 0h1m-0.8 0h1m-0.5 0h1m1.2 0h1m0.4 0h1m2 0h1m-24.6 0.1h1m1.7 0h1m0.7 0h1m1.3 0h1m-1 0h1m0.7 0h1m-1 0h1m-0.4 0h1m3.9 0h1m-0.4 0h1m-0.7 0h1m2.5 0h1m0 0h1m0.2 0h1m4.7 0h1m-28.9 0.1h1m2.2 0h1m15.9 0h1m2.6 0h1m-27.1 0.1h1m5.6 0h1m5.7 0h1m2.3 0h1m-0.1 0h1m-16.8 0.1h1m9.5 0h1m-0.9 0h1m1.6 0h1m0.9 0h1m-0.6 0h1m-0.1 0h1m3.2 0h1m3.1 0h1m0.7 0h1m-27.3 0.1h1m2.2 0h1m0.9 0h1m2.8 0h1m4.2 0h1m-0.7 0h1m4.3 0h1m2.3 0h1m-19.5 0.1h1m2 0h1m-0.9 0h1m2.1 0h1m1 0h1m1.4 0h1m0.8 0h1m4.3 0h1m-20.9 0.1h1m12.3 0h1m3.9 0h1m-26.6 0.1h1m13.3 0h1m2.7 0h1m0.4 0h1m2.7 0h1m1.3 0h1m3.9 0h1m-0.6 0h1m0.3 0h1m0.7 0h1m-28.4 0.1h1m4.3 0h1m3.4 0h1m3.1 0h1m-0.8 0h1m12.2 0h1m3.1 0h1m-25.5 0.1h1m-0.4 0h1m0.3 0h1m0 0h1m3.2 0h1m3.5 0h1m-0.6 0h1m2.4 0h1m7.2 0h1m-19.5 0.1h1m1.1 0h1m1.9 0h1m0.2 0h1m-12.7 0.1h1m7.3 0h1m5.2 0h1m-15 0.1h1m3.1 0h1m-0.7 0h1m4.5 0h1m2.9 0h1m-20.8 0.1h1m9.6 0h1m5.5 0h1m-0.6 0h1m-0.6 0h1m6.8 0h1m2.4 0h1m-0.4 0h1m-28.1 0.1h1m-0.6 0h1m0 0h1m7.8 0h1m-0.9 0h1m-0.1 0h1m1.1 0h1m8.6 0h1m-20.1 0.1h1m-0.8 0h1m0 0h1m-0.2 0h1m1.7 0h1m0.6 0h1m0.8 0h1m0.5 0h1m1.7 0h1m-0.3 0h1m8.6 0h1m-23.5 0.1h1m5.1 0h1m0.1 0h1m5.5 0h1m-24 0.1h1m2.5 0h1m14.3 0h1m-0.9 0h1m2.9 0h1m-8.1 0.1h1m-0.9 0h1m0.1 0h1m-20.4 0.1h1m1.3 0h1m7.1 0h1m3.6 0h1m-0.2 0h1m-8.3 0.1h1m5.2 0h1m1.5 0h1m-16.3 0.1h1m17.2 0h1m2.4 0h1m-16.2 0.1h1m0.1 0h1m-0.9 0h1m3.3 0h1m-0.1 0h1m2.2 0h1m-0.5 0h1m0.8 0h1m1.9 0h1m0 0h1m6.6 0h1m-17.5 0.1h1m10.7 0h1m-0.9 0h1m3.8 0h1m-23.3 0.1h1m-0.8 0h1m6.7 0h1m2.8 0h1m1.2 0h1m2.9 0h1m7.5 0h1m-35.6 0.1h1m6.5 0h1m5.2 0h1m2.1 0h1m-1 0h1m-10.2 0.1h1m5.8 0h1m-0.4 0h1m0.7 0h1m17.2 0h1m-32.3 0.1h1m1.5 0h1m5.4 0h1m-0.6 0h1m3.3 0h1m-0.6 0h1m0.3 0h1m0.2 0h1m8.9 0h1m2.4 0h1m-28.4 0.1h1m-0.5 0h1m-0.1 0h1m1.9 0h1m9.6 0h1m-0.9 0h1m3.3 0h1m-12.6 0.1h1m0.8 0h1m-8.8 0.1h1m2.6 0h1m-0.9 0h1m3.7 0h1m0.4 0h1m7.4 0h1m5.1 0h1m-20.7 0.1h1m4.1 0h1m4.5 0h1m0.5 0h1m-17.5 0.1h1m2.1 0h1m10 0h1m1.3 0h1m1.8 0h1m0.9 0h1m5.3 0h1m-20.2 0.1h1m-4.9 0.1h1m0.6 0h1m6.4 0h1m4.3 0h1m-24.8 0.1h1m2.6 0h1m15.7 0h1m-6.1 0.1h1m4 0h1m3.5 0h1m-14.3 0.1h1m10.4 0h1m-20.3 0.1h1m5.4 0h1m6.5 0h1m-0.8 0h1m3.9 0h1m-17.8 0.1h1m0.8 0h1m0.1 0h1m0.5 0h1m0.8 0h1m0.2 0h1m0 0h1m2.5 0h1m-20.7 0.1h1m10.3 0h1m3.7 0h1m8.2 0h1m-19.9 0.1h1m6.8 0h1m-0.1 0h1m5 0h1m-9.7 0.1h1m0.3 0h1m2.5 0h1m1.3 0h1m-15.5 0.1h1m7.7 0h1m0 0h1m4.5 0h1m-28.8 0.1h1m10.5 0h1m8.1 0h1m5.1 0h1m0.4 0h1m-13.4 0.1h1m2.2 0h1m6.3 0h1m1.2 0h1m-15 0.1h1m7.8 0h1m-0.5 0h1m11.8 0h1m-16.7 0.1h1m-0.4 0h1m5.7 0h1m-14.4 0.1h1m2.9 0h1m-0.7 0h1m3.9 0.1h1m2.1 0h1m7 0h1m-23.2 0.1h1m5.7 0h1m-0.5 0h1m2.5 0h1m-0.2 0h1m0.9 0h1m-0.6 0h1m-9.9 0.1h1m1.9 0h1m2.6 0h1m-0.8 0h1m7.6 0h1m-18.6 0.1h1m0.8 0h1m3.1 0h1m-17.1 0.1h1m4.8 0h1m13.7 0h1m5.2 0h1m3.9 0h1m-0.9 0h1m-13 0.1h1m6.2 0h1m-16.8 0.1h1m4.2 0h1m5.2 0h1m6.9 0h1m-28.5 0.1h1m10.1 0h1m2.9 0h1m5.3 0h1m-19.1 0.1h1m0.7 0h1m-0.4 0h1m3.4 0h1m-1 0h1m3.5 0h1m-0.6 0h1m21.7 0h1m-32.8 0.1h1m0.7 0h1m1.7 0h1m0.7 0h1m10.7 0h1m2.3 0h1m-24.3 0.1h1m15.5 0h1m-0.6 0h1m-8.6 0.1h1m4.3 0h1m-0.8 0h1m-11.4 0.1h1m0.6 0h1m-0.6 0h1m0 0h1m1.7 0h1m8.9 0h1m3.7 0h1m-33.7 0.1h1m24.3 0h1m-18.7 0.1h1m24.1 0h1m-19.4 0.1h1m9.4 0h1m11.3 0h1m-31.5 0.2h1m7.8 0h1m6 0h1m10.7 0.1h1m-20.1 0.1h1m0.4 0h1m-0.2 0h1m2.4 0h1m0.1 0h1m-3.2 0.1h1m6.9 0h1m2.7 0h1m4.1 0h1m5.3 0.1h1m-30.2 0.1h1m2.1 0h1m3.9 0h1m-6.1 0.1h1m5 0h1m8.3 0h1m-9.2 0.1h1m1.9 0h1m0.8 0h1m-15.2 0.1h1m2.8 0h1m10 0h1m-16.4 0.1h1m8.1 0h1m-0.9 0h1m2.9 0h1m-8.5 0.1h1m-5.9 0.1h1m17.8 0h1m-18.3 0.1h1m-0.6 0h1m7.2 0h1m0.8 0h1m-5 0.1h1m-5.2 0.1h1m-8 0.1h1m11.4 0h1m10.4 0h1m-10 0.1h1m1.1 0h1m-0.4 0h1m3.4 0h1m-0.1 0h1m-16.2 0.1h1m-2 0.1h1m2.9 0h1m11 0h1m-12.6 0.1h1m0.9 0h1m-9.5 0.2h1m0.9 0.1h1m4.1 0h1m0.2 0.1h1m0.7 0h1m1 0h1m-10.4 0.2h1m13.9 0h1m-12.1 0.1h1m0.8 0.1h1m-4 0.1h1m-5.9 0.3h1m4.8 0h1m0.5 0h1m-10.4 0.2h1m17.1 0h1m-18.9 0.2h1m-10.9 0.5h1m12.8 0h1m-2.4 0.1h1m13.4 0h1m-12.8 0.1h1m4.9 0h1m1.3 0.1h1m-8.9 0.3h1m2.1 0.4h1m0.9 0.3h1m1.9 0.4h1m3.5 0.2h1m-13.5 0.4h1m20.6 0h1m-19.4 0.1h1m-4.6 0.2h1m2.4 0h1m2.1 0.5h1m-19.1 0.2h1m16.9 0.4h1" stroke="#555" stroke-width="1" fill="none" opacity="1.0"/>
<path d="M94.9 409.9h1m26 0.4h1m3.3 0.4h1m-4.7 0.4h1m-36.8 1.2h1m7.7 0.5h1m24.2 0.7h1m-9.9 2.7h1m-12.7 0.3h1m-14.6 0.7h1m12.3 0h1m3.8 0.3h1m8.9 0h1m21.8 0.3h1m-48.3 0.3h1m-2.4 0.1h1m24.9 0h1m-24.6 0.8h1m-3.9 0.4h1m0.3 0h1m16.7 0h1m-10.7 0.3h1m-11.8 0.2h1m16.5 0.1h1m23.2 0.5h1m-8.3 0.2h1m38.9 0.1h1m-58.9 0.1h1m23 0h1m-25.1 0.2h1m-6.6 0.5h1m0.6 0h1m21.5 0.2h1m-24.7 0.9h1m38.2 0h1m-30 0.1h1m4.4 0h1m18.5 0.1h1m-34 0.1h1m6.8 0h1m-21.9 0.3h1m32 0.1h1m-23.5 0.5h1m5.5 0.1h1m-13.2 0.3h1m32 0h1m-38.4 0.2h1m26.8 0.1h1m-24.2 0.1h1m15 0.1h1m5.7 0.2h1m-12.9 0.1h1m1.4 0h1m-4.3 0.3h1m3.4 0h1m7.9 0h1m1 0.2h1m0.2 0h1m-28.2 0.2h1m6.4 0h1m32.2 0.1h1m-40.1 0.1h1m5.9 0h1m-1 0.2h1m-0.2 0h1m-0.1 0h1m-12.5 0.1h1m5.3 0h1m13.8 0.1h1m5.2 0h1m-5.3 0.1h1m10.1 0h1m-37.6 0.1h1m7.1 0h1m-9.6 0.1h1m32.1 0.3h1m-23.9 0.1h1m20.5 0.1h1m2.7 0h1m-13.7 0.2h1m-10.2 0.2h1m6.2 0h1m10 0h1m-27.4 0.1h1m-6.3 0.5h1m23.2 0h1m10.8 0h1m-11.4 0.1h1m2.1 0.1h1m7.6 0.1h1m-37.9 0.1h1m5.5 0h1m12 0.1h1m3.4 0h1m0.4 0.1h1m7.4 0.1h1m-13.7 0.1h1m3 0.1h1m-6.6 0.4h1m12.8 0h1m1.2 0h1m-14.4 0.1h1m-8.6 0.1h1m10.4 0.3h1m14.9 0h1m-38 0.1h1m16.6 0h1m8.7 0h1m-8.7 0.1h1m2.6 0h1m30.4 0h1m-48.2 0.1h1m-0.1 0h1m3.9 0h1m8.4 0h1m-22.6 0.1h1m0.3 0h1m12.3 0h1m4.9 0h1m24.3 0.1h1m-42.8 0.1h1m-4.5 0.1h1m39.2 0h1m-30.6 0.1h1m9.1 0h1m0.8 0.1h1m-19.3 0.1h1m15.2 0h1m3.2 0h1m-15.8 0.1h1m49.6 0h1m5.4 0.1h1m-52.5 0.1h1m7.7 0.2h1m-27.7 0.2h1m15.9 0h1m18 0.3h1m-24.1 0.1h1m-17.4 0.1h1m3.1 0h1m18.3 0h1m4 0h1m-0.4 0h1m2.1 0h1m4.1 0.1h1m-37.5 0.1h1m15.4 0h1m-18.1 0.3h1m13.4 0h1m14.7 0h1m-28.3 0.1h1m12.9 0h1m5.9 0h1m23.5 0h1m-49 0.1h1m30.6 0h1m-32.5 0.1h1m1.4 0h1m-3.2 0.1h1m33.6 0h1m-27.7 0.1h1m16.9 0h1m-0.8 0h1m5.2 0h1m-3.2 0.1h1m-31.6 0.1h1m21.5 0h1m9 0.1h1m0.5 0h1m-5.8 0.1h1m-9 0.2h1m9.4 0h1m-13.2 0.1h1m2.9 0h1m-12.7 0.1h1m10.5 0h1m1.5 0.1h1m14 0.4h1m-11.2 0.1h1m-25.6 0.1h1m24.1 0h1m1.3 0h1m-15.6 0.3h1m26.5 0h1m-38.7 0.1h1m0 0h1m9.6 0h1m11.8 0h1m6.2 0.4h1m-26.6 0.1h1m-7.9 0.1h1m3.1 0.1h1m5 0h1m-2.8 0.1h1m3.2 0h1m16.5 0h1m-11.5 0.1h1m-15.7 0.1h1m17.2 0.1h1m-18.1 0.1h1m-8.2 0.1h1m-0.9 0.2h1m12.1 0h1m9.2 0h1m-8.9 0.3h1m5.4 0h1m-14.6 0.1h1m7.5 0h1m-14.2 0.1h1m1.6 0h1m24.5 0h1m-29.4 0.1h1m2.3 0.2h1m17.8 0.1h1m-20.1 0.1h1m22.8 0h1m23.5 0.2h1m-61.6 0.1h1m12.8 0.2h1m-6.7 0.2h1m10.8 0h1m0.1 0h1m21.5 0h1m-44.4 0.1h1m15.5 0h1m-0.9 0h1m2.9 0h1m25.5 0.1h1m-43.7 0.3h1m40.6 0h1m7.8 0h1m-6.6 0.1h1m-33 0.1h1m47.2 0h1m-37.7 0.1h1m24.7 0h1m-55.6 0.1h1m37 0h1m-16.3 0.1h1m-23 0.1h1m35.7 0h1m-18.9 0.1h1m6.3 0h1m-8.7 0.1h1m17.7 0h1m-6.7 0.1h1m-20.1 0.2h1m12.1 0.1h1m-15 0.1h1m-12.7 0.1h1m2.1 0.1h1m1.4 0.1h1m4.6 0h1m-5.9 0.1h1m13.9 0h1m12.2 0h1m8.1 0h1m-30.5 0.3h1m14.6 0.3h1m-15.2 0.3h1m6.9 0h1m-9.3 0.1h1m14.3 0h1m18 0h1m-50.5 0.1h1m24.6 0h1m14.8 0.1h1m-26.9 0.1h1m23.6 0.2h1m-15.1 0.1h1m11.9 0.1h1m-29 0.2h1m-11.4 0.3h1m13.9 0.1h1m-16.6 0.3h1m12.5 0h1m0.6 0h1m1.9 0.1h1m17.3 0h1m19.6 0h1m-12.2 0.1h1m-8.5 0.1h1m-28.2 0.1h1m-7.8 1.5h1m21.7 1h1m-1 0.9h1m10.7 0.2h1m-39.5 0.3h1m17.9 0h1m0.8 0h1m7.3 0.3h1m-14.7 0.1h1m23.5 0.2h1m-25.1 0.1h1m0 0.5h1m-7.3 0.3h1m-10.9 0.7h1m32.2 1.6h1m-26 0.8h1m6.7 0.9h1" stroke="#555" stroke-width="1" fill="none" opacity="1.0"/>
<path d="M102.5 431.7h1m14.6 6.6h1m-10.3 0.5h1m-5.4 2.3h1m16.7 0.2h1m-9.9 0.8h1m-13.9 1.2h1m29.7 0.4h1m-30.6 0.7h1m11.3 1.5h1m-20.5 0.3h1m7.5 0.6h1m-5.4 0.1h1m8.6 0.5h1m18.3 0h1m3.1 0.1h1m-33.8 0.2h1m6.6 0h1m17.9 0.3h1m-10.9 0.1h1m-17.1 0.1h1m16.6 0.1h1m3.7 0.1h1m8.3 1.1h1m-31.5 0.2h1m8.2 0.2h1m3.2 0.9h1m12.7 0.3h1m-16.8 0.1h1m20.2 0h1m-22.6 0.3h1m-12.6 0.1h1m17.2 0.2h1m-12.6 0.3h1m8.6 0h1m-18 0.2h1m-0.5 0h1m7.4 0.1h1m-9.2 0.1h1m13.3 0.2h1m2.9 0.1h1m-30.1 0.1h1m34.5 0h1m-32.2 0.3h1m5.7 0.1h1m10.8 0.5h1m-9.8 0.1h1m6.2 0.1h1m8.9 0h1m2.6 0.5h1m-31.1 0.1h1m-5.2 0.3h1m14.7 0.4h1m-4.4 0.3h1m18.8 0.1h1m-9.1 0.3h1m1 0.1h1m-26.8 0.1h1m-0.7 0h1m24.1 0.2h1m5.8 0.3h1m-24.8 0.1h1m14.5 0h1m-22.5 0.1h1m25.9 0.1h1m-25.5 0.1h1m22.3 0.6h1m9.7 0.3h1m0.4 0.1h1m10.5 0.2h1m-37.2 0.1h1m2.4 0.4h1m-13.8 0.1h1m4.8 0h1m4 0h1m-13.7 0.5h1m-4.4 0.3h1m14.1 0h1m-5.7 0.1h1m11.2 0.1h1m-1 0.3h1m-15.8 0.1h1m16.4 0.4h1m-9.4 0.1h1m0.1 0.6h1m-0.6 0.3h1m-1.9 0.2h1m-1.8 0.1h1m-5.5 0.4h1m15.7 0h1m-28.8 0.4h1m29.1 0h1m-5.7 0.3h1m-1 0.3h1m0.8 0.6h1m-12.3 0.1h1m-5.3 0.3h1m-3.4 0.4h1m5.8 0.1h1m6.6 0h1m-17.4 0.1h1m6.2 0.3h1m-8.7 0.6h1m10 0h1m6.8 0.2h1m-8.3 0.1h1m-13.8 0.4h1m24.6 0.2h1m2.3 0.1h1m-2 0.4h1m-19 0.1h1m1.8 0.3h1m-11.6 0.9h1m-2.6 0.3h1m-0.1 0.2h1m-5.2 0.6h1m22.8 0.3h1m-29.7 0.1h1m10 0.2h1m-7.4 0.5h1m21.6 0h1m-0.3 0h1m-3.8 0.7h1m5.6 0.2h1m-18.3 0.5h1m-2.3 0.2h1m1.8 0.1h1m7 0.1h1m3.6 0.1h1m2.2 0.1h1m-18.4 1.4h1m-1.7 0.6h1m9.2 0.6h1m4.1 1.6h1m3.5 0.2h1m-21.3 0.5h1m10.6 1.4h1m-7.9 0.5h1m-5.3 0.1h1m-3.7 0.4h1m8.6 0.1h1m0.1 1.4h1m8.8 0.2h1m-5.8 5h1" stroke="#888" stroke-width="1" fill="none" opacity="1.0"/>
<path d="M124 450.3h1m-5.4 0.2h1m0.6 1h1m3.6 0.2h1m-2.8 0.3h1m-3.3 0.4h1m4.7 0h1m-10.9 0.3h1m0.3 0.2h1m2.6 0.3h1m5.1 0.1h1m-2.7 0.1h1m-4.7 0.2h1m-0.1 0.2h1m-12.2 0.1h1m5.8 0h1m1.8 0.1h1m-7.2 0.2h1m1.5 0.2h1m0.4 0.4h1m1.3 0h1m6.7 0h1m-1 0.1h1m-11.4 0.3h1m1.8 0h1m-4.5 0.1h1m-2.8 0.1h1m1.6 0h1m-1.8 0.1h1m-2.3 0.2h1m-0.5 0h1m1.4 0h1m-2.2 0.2h1m4.5 0.1h1m0.1 0h1m-3.6 0.4h1m-0.6 0h1m1.6 0h1m-6 0.2h1m5.1 0h1m-4.1 0.1h1m-0.2 0h1m1.6 0h1m-6.3 0.1h1m-0.5 0h1m1.3 0.2h1m1.2 0.1h1m-1.8 0.2h1m-4.6 0.3h1m-2 0.1h1m-2.1 0.1h1m-0.3 0h1m0.9 0.1h1m-7.1 0.7h1m3.3 0h1m-0.4 0h1m0.8 0h1m-0.7 0.2h1m-1.1 0.1h1m-7.2 0.1h1m10.7 0.1h1m-0.9 0h1m-8.1 0.2h1m-0.6 0.2h1m2.7 0h1m-5.9 0.1h1m0.6 0h1m-0.5 0.1h1m3.4 0h1m-4.7 0.1h1m-4.2 0.2h1m6.7 0h1m-11.2 0.3h1m4.5 0h1m-2.9 0.1h1m5.6 0h1m-2.1 0.1h1m-2.8 0.1h1m1.3 0h1m-5 0.1h1m1.2 0h1m-7.1 0.1h1m-0.3 0h1m2.3 0h1m4.9 0h1m-9.2 0.2h1m0.9 0.1h1m1.5 0h1m-1.8 0.1h1m-2.6 0.2h1m-0.8 0.2h1m6.5 0h1m-6.3 0.2h1m-7.6 0.1h1m-0.8 0h1m0.6 0.1h1m1.5 0h1m-1.6 0.2h1m3.5 0.1h1m-12.3 0.1h1m-0.3 0.2h1m4 0h1m-3.1 0.1h1m-0.3 0.3h1m0 0h1m2.6 0.1h1m-4.6 0.2h1m-0.8 0.1h1m2.8 0h1m-8.8 0.1h1m-1.1 0.2h1m7.1 0h1m-7.8 0.1h1m0.3 0h1m1.5 0.1h1m0.6 0h1m-3.5 0.3h1m1.2 0.1h1m0.1 0h1m-9.9 0.1h1m7.2 0h1m-4.7 0.1h1m-4.6 0.1h1m1.3 0.1h1m-1.1 0.1h1m2.1 0h1m-0.7 0h1m4.4 0h1m-3.6 0.1h1m-9.5 0.1h1m5.7 0h1m1.4 0.1h1m-0.8 0.1h1m-9.5 0.7h1m1.3 0.1h1m-2.7 0.1h1m3.7 0.1h1m-5.8 0.1h1m5.4 0h1m-6 0.2h1m-3.9 0.1h1m-0.9 0.4h1m3.7 0h1m2.7 0h1m-10 0.1h1m6.5 0h1m-1.4 0.1h1m-4 0.3h1m5 0h1m-3.6 0.2h1m-5.7 0.5h1m7.1 0.6h1m-3.9 0.5h1m-9.6 0.3h1m4.3 0.1h1m3.5 0.8h1m-1.6 0.6h1m-8.8 0.4h1m2.5 3.1h1m-0.8 0.6h1" stroke="#333" stroke-width="1" fill="none" opacity="1.0"/>
<path d="M180.6 441.9h1m-12.7 10.3h1m-13 6.6h1m19.8 3.1h1m-16.6 2.9h1m20.1 1.5h1m-15.8 1h1m5.2 0.1h1m-8.7 1.6h1m-26.9 2.7h1m45.3 1.5h1m2.5 0.1h1m2.5 0.5h1m-20.4 2.1h1m12.3 3h1m-26.5 3.8h1m12 2.4h1" stroke="#999" stroke-width="1" fill="none" opacity="1.0"/>
<path d="M116.7 417.2h1m-4.5 0.3h1m-3.8 0.1h1m8.5 0h1m-15.3 0.2h1m22.2 0.6h1m-20.9 0.7h1m18 0.5h1m-16.7 0.3h1m4.8 0.3h1m-4.9 0.1h1m6 0.1h1m-15.3 0.1h1m0.6 0.2h1m-5.6 0.4h1m7.3 0h1m4.5 0h1m-13.9 0.1h1m15.5 0h1m-25.1 0.1h1m13.7 0h1m13 0h1m0.8 0h1m-16 0.1h1m6.4 0h1m9.9 0.1h1m-13.1 0.1h1m13.5 0h1m-21.7 0.1h1m6.9 0h1m-20.3 0.2h1m14.7 0h1m-2.8 0.1h1m-8.1 0.1h1m-15 0.1h1m26.6 0.1h1m-11.1 0.1h1m21.5 0h1m-36.6 0.1h1m5.7 0h1m3.2 0h1m1.8 0h1m1.6 0h1m-9.5 0.1h1m17.6 0h1m-22.8 0.2h1m2.2 0h1m0.1 0h1m11.6 0h1m3.2 0h1m10.4 0h1m-25.1 0.2h1m6.9 0h1m-0.6 0h1m-10 0.1h1m-8.2 0.1h1m3.3 0h1m5 0h1m-1 0h1m0.5 0h1m5.6 0h1m5.6 0h1m-26.3 0.1h1m3.8 0.1h1m-1.3 0.1h1m-0.5 0h1m3.8 0h1m-0.1 0h1m-1 0h1m3 0.1h1m-18.6 0.1h1m9.2 0h1m0.4 0h1m-12.3 0.1h1m20.9 0h1m-23.5 0.1h1m3.7 0h1m23.9 0h1m-25.2 0.1h1m4.9 0h1m1 0h1m14.9 0h1m-10.6 0.1h1m-12.4 0.1h1m-0.8 0h1m0.7 0h1m4.1 0h1m-0.2 0h1m-2.8 0.1h1m-15.6 0.1h1m8 0h1m2.8 0h1m4.1 0h1m9.6 0h1m-25.8 0.1h1m3.3 0h1m2.3 0h1m6.2 0h1m-20 0.1h1m7.5 0h1m-0.2 0h1m-0.6 0h1m2 0h1m3.1 0h1m2.2 0h1m-13.9 0.1h1m-0.8 0h1m-3.4 0.1h1m3.1 0h1m-20.4 0.1h1m15.7 0h1m2 0h1m-15.8 0.1h1m8.3 0h1m0.5 0h1m8.5 0.1h1m1.2 0h1m16.1 0h1m-30.6 0.1h1m0.8 0h1m19 0h1m2.3 0h1m-16.8 0.1h1m0 0h1m-0.5 0h1m3.1 0h1m19.2 0h1m-38.7 0.1h1m5.7 0h1m-0.2 0h1m6.3 0h1m8.1 0h1m-0.8 0h1m-18.6 0.1h1m0.5 0h1m6 0h1m2.3 0h1m-0.8 0h1m1.2 0h1m-17.1 0.1h1m-0.5 0h1m2 0h1m0.9 0h1m-0.4 0h1m4.3 0h1m4.3 0h1m-23.7 0.1h1m4.1 0h1m1.8 0h1m-0.9 0h1m4.2 0h1m1.7 0h1m2.3 0h1m-0.9 0h1m-0.5 0h1m-0.9 0h1m2.1 0h1m-32.3 0.1h1m10.9 0h1m4.4 0h1m-0.2 0h1m3 0h1m-1 0h1m-0.3 0h1m-0.6 0h1m4.7 0h1m7.5 0h1m-23.6 0.1h1m8.3 0h1m-0.9 0h1m4.6 0h1m-0.9 0h1m-0.5 0h1m-18.7 0.1h1m0 0h1m2.3 0h1m0.7 0h1m3.1 0h1m9.4 0h1m8.6 0h1m-26.3 0.1h1m0.6 0h1m8.5 0h1m1.3 0h1m-19.7 0.1h1m0.1 0h1m-0.3 0h1m1.4 0h1m3 0h1m0.5 0h1m-0.6 0h1m6.1 0h1m5.5 0h1m-35.7 0.1h1m2.8 0h1m23.4 0h1m5.9 0h1m4.4 0h1m-33 0.1h1m0.1 0h1m14.3 0h1m4.3 0h1m1.7 0h1m3.2 0h1m-28.3 0.1h1m11.4 0h1m5.1 0h1m1 0h1m0.2 0h1m-23.2 0.1h1m4.2 0h1m1.9 0h1m2.5 0h1m4.4 0h1m0.4 0h1m1.7 0h1m5.9 0h1m-30.3 0.1h1m15.9 0h1m-0.3 0h1m1 0h1m2.1 0h1m-20.7 0.1h1m-0.1 0h1m3.7 0h1m0.5 0h1m16.6 0h1m-25.7 0.1h1m1.5 0h1m-0.4 0h1m-1 0h1m1.6 0h1m-0.7 0h1m3.9 0h1m22.1 0h1m-35.3 0.1h1m0.7 0h1m5.5 0h1m1.1 0h1m1.5 0h1m-1 0h1m2 0h1m2.8 0h1m-0.3 0h1m-15 0.1h1m0.6 0h1m4.9 0h1m0.9 0h1m3.6 0h1m-21.5 0.1h1m8.5 0h1m0.2 0h1m3.7 0h1m-0.6 0h1m-19.8 0.1h1m-0.7 0h1m5 0h1m-0.3 0h1m3.3 0h1m1.3 0h1m-0.9 0h1m-0.5 0h1m-0.4 0h1m8.1 0h1m9.2 0h1m-35.1 0.1h1m3.9 0h1m-0.7 0h1m-0.2 0h1m2.6 0h1m-0.5 0h1m5.8 0h1m1.5 0h1m2.7 0h1m2.9 0h1m-23 0.1h1m7.6 0h1m-0.7 0h1m1.3 0h1m0.8 0h1m0.6 0h1m7.2 0h1m-0.1 0h1m0.3 0h1m-28.5 0.1h1m2.4 0h1m0.7 0h1m2.6 0h1m4.1 0h1m-1 0h1m-0.1 0h1m0.4 0h1m1.1 0h1m0.4 0h1m-0.9 0h1m-15 0.1h1m1 0h1m-0.8 0h1m2.4 0h1m-0.9 0h1m-0.2 0h1m-0.7 0h1m6 0h1m1.9 0h1m-0.3 0h1m1 0h1m-19 0.1h1m-0.6 0h1m3.5 0h1m-0.4 0h1m1.7 0h1m-0.4 0h1m0.3 0h1m-0.7 0h1m4.1 0h1m9.3 0h1m-32.3 0.1h1m5.3 0h1m-0.2 0h1m-0.3 0h1m2.9 0h1m0.3 0h1m0.1 0h1m-0.4 0h1m0.1 0h1m1.6 0h1m1.3 0h1m2.4 0h1m-0.9 0h1m0.8 0h1m-29.5 0.1h1m0.4 0h1m3.2 0h1m2.6 0h1m-0.5 0h1m-0.9 0h1m-0.2 0h1m-0.7 0h1m6.1 0h1m-0.8 0h1m7 0h1m-30.5 0.1h1m0 0h1m6.7 0h1m-0.8 0h1m3.4 0h1m1.8 0h1m0.7 0h1m-0.7 0h1m-0.8 0h1m0.3 0h1m-10.1 0.1h1m-0.8 0h1m1.6 0h1m6.6 0h1m-12.9 0.1h1m1.7 0h1m1.2 0h1m2 0h1m-8 0.1h1m1.6 0h1m-0.6 0h1m0.5 0h1m0.4 0h1m-0.1 0h1m11.5 0h1m-30 0.1h1m2.5 0h1m3 0h1m1.7 0h1m0.8 0h1m-0.4 0h1m-0.6 0h1m1.5 0h1m4.4 0h1m-0.6 0h1m-25 0.1h1m6.6 0h1m2.9 0h1m0.2 0h1m-0.8 0h1m1.3 0h1m-0.4 0h1m0.1 0h1m0.1 0h1m4.9 0h1m-0.5 0h1m2.2 0h1m-0.3 0h1m0.3 0h1m-33.8 0.1h1m6.2 0h1m4.6 0h1m1.2 0h1m0.7 0h1m4.7 0h1m0.2 0h1m3.4 0h1m-0.1 0h1m-0.1 0h1m2.2 0h1m9.1 0h1m-32.1 0.1h1m1.4 0h1m4.4 0h1m-0.6 0h1m10.4 0h1m0.2 0h1m-28.2 0.1h1m5.7 0h1m-0.6 0h1m-0.4 0h1m2.3 0h1m3.1 0h1m-0.8 0h1m1.7 0h1m-0.5 0h1m0.7 0h1m-0.5 0h1m1.7 0h1m0.1 0h1m1.4 0h1m1.7 0h1m-23.9 0.1h1m-0.7 0h1m0.7 0h1m5.4 0h1m-0.2 0h1m0.3 0h1m0.6 0h1m2.9 0h1m8.9 0h1m-33.7 0.1h1m1.8 0h1m1.6 0h1m1.7 0h1m0.8 0h1m2.8 0h1m0.3 0h1m-0.8 0h1m0 0h1m1.6 0h1m-0.5 0h1m-0.5 0h1m1 0h1m-17.2 0.1h1m-0.5 0h1m9.4 0h1m0 0h1m8.5 0h1m4.6 0h1m-29.6 0.1h1m4.1 0h1m0.8 0h1m2.6 0h1m-0.2 0h1m-0.8 0h1m2 0h1m-0.6 0h1m2 0h1m7.3 0h1m2.4 0h1m-24.9 0.1h1m1 0h1m-0.7 0h1m4.3 0h1m0.5 0h1m0.6 0h1m0.8 0h1m0.4 0h1m-16.5 0.1h1m0.3 0h1m-0.7 0h1m-0.3 0h1m0.8 0h1m1 0h1m-0.2 0h1m3.1 0h1m3.3 0h1m-24.9 0.1h1m3.8 0h1m0.4 0h1m3.4 0h1m9.6 0h1m0.4 0h1m11.8 0h1m-27.5 0.1h1m0.4 0h1m0.7 0h1m-0.3 0h1m-0.4 0h1m-0.4 0h1m-0.6 0h1m-0.5 0h1m4.9 0h1m-0.1 0h1m3.1 0h1m0 0h1m-25.8 0.1h1m0.2 0h1m2.4 0h1m-0.5 0h1m-0.7 0h1m3.2 0h1m0.9 0h1m-0.5 0h1m-0.4 0h1m-0.8 0h1m0.2 0h1m-0.8 0h1m1.7 0h1m1.1 0h1m1.7 0h1m-0.9 0h1m5 0h1m-30.3 0.1h1m9.1 0h1m0.8 0h1m-0.3 0h1m-0.1 0h1m-0.9 0h1m-0.1 0h1m0 0h1m2.4 0h1m-1 0h1m-0.9 0h1m5.6 0h1m5.1 0h1m-31.8 0.1h1m7 0h1m1.2 0h1m0 0h1m1.9 0h1m3.1 0h1m0.2 0h1m-0.7 0h1m0.2 0h1m0.5 0h1m0.5 0h1m-1 0h1m-0.3 0h1m-0.6 0h1m-23.1 0.1h1m9.3 0h1m0 0h1m3.9 0h1m0.8 0h1m0.1 0h1m1.6 0h1m11.4 0h1m-29.9 0.1h1m0.9 0h1m-0.6 0h1m1.6 0h1m0.9 0h1m0.1 0h1m1.8 0h1m0.7 0h1m-0.6 0h1m-0.7 0h1m0.7 0h1m-0.9 0h1m2.6 0h1m-28.5 0.1h1m0.6 0h1m0.3 0h1m2 0h1m-0.4 0h1m6.7 0h1m0.9 0h1m-0.6 0h1m-0.7 0h1m1.8 0h1m0 0h1m0.4 0h1m-0.9 0h1m0.4 0h1m2 0h1m0 0h1m0.9 0h1m-0.1 0h1m-0.7 0h1m-23.2 0.1h1m1.9 0h1m2.6 0h1m0 0h1m-0.5 0h1m-0.6 0h1m-0.3 0h1m-19.6 0.1h1m2.3 0h1m-0.3 0h1m0.8 0h1m0.3 0h1m0.8 0h1m0.4 0h1m3.7 0h1m-0.3 0h1m0.5 0h1m0.1 0h1m-0.5 0h1m1.2 0h1m6.4 0h1m-26.6 0.1h1m3 0h1m2 0h1m0.1 0h1m0.8 0h1m0.1 0h1m-0.3 0h1m-0.9 0h1m-0.6 0h1m0.1 0h1m1.6 0h1m0.7 0h1m2.8 0h1m3.3 0h1m12.5 0h1m-46.5 0.1h1m1.2 0h1m6.4 0h1m1 0h1m0.4 0h1m1.1 0h1m1.9 0h1m-0.6 0h1m-0.6 0h1m-0.3 0h1m-0.7 0h1m-0.6 0h1m-0.4 0h1m-0.2 0h1m-0.8 0h1m1.8 0h1m0.1 0h1m-0.5 0h1m2.7 0h1m-1 0h1m1.3 0h1m3.7 0h1m-27.2 0.1h1m0.3 0h1m1.2 0h1m-0.8 0h1m1.1 0h1m1.9 0h1m-0.8 0h1m10.4 0h1m1.5 0h1m-29.6 0.1h1m4.2 0h1m2.1 0h1m0.9 0h1m1 0h1m-0.7 0h1m0.3 0h1m0.1 0h1m0.9 0h1m4.3 0h1m-0.8 0h1m-0.9 0h1m2.4 0h1m4.9 0h1m-29.5 0.1h1m0 0h1m2.6 0h1m-1 0h1m-0.2 0h1m2 0h1m0.4 0h1m0.9 0h1m1.4 0h1m1.2 0h1m-0.5 0h1m1.5 0h1m0.9 0h1m6.3 0h1m-27.9 0.1h1m2.8 0h1m0.2 0h1m0.9 0h1m-0.9 0h1m-0.4 0h1m0.4 0h1m1.6 0h1m-14.4 0.1h1m-0.8 0h1m7 0h1m0.1 0h1m0 0h1m1.5 0h1m1.2 0h1m4 0h1m0.4 0h1m0.4 0h1m1.6 0h1m1.4 0h1m-28.7 0.1h1m0.1 0h1m0.7 0h1m2.1 0h1m-0.4 0h1m2.9 0h1m8.9 0h1m-0.6 0h1m0.5 0h1m1.3 0h1m1.4 0h1m0.1 0h1m-33.2 0.1h1m5.7 0h1m7.8 0h1m1.1 0h1m-0.3 0h1m-0.8 0h1m1.7 0h1m9.2 0h1m-23.1 0.1h1m2.1 0h1m-0.4 0h1m-0.6 0h1m0.3 0h1m-0.2 0h1m0.7 0h1m0.9 0h1m-0.2 0h1m0 0h1m-0.5 0h1m-0.3 0h1m0.1 0h1m0.2 0h1m-0.4 0h1m1.6 0h1m-14.5 0.1h1m-0.3 0h1m0 0h1m1.1 0h1m-19.7 0.1h1m2.5 0h1m-0.1 0h1m0.1 0h1m4.3 0h1m-0.5 0h1m-0.9 0h1m1.6 0h1m1 0h1m-0.6 0h1m1.5 0h1m2.3 0h1m2.6 0h1m4 0h1m-0.7 0h1m-29.1 0.1h1m5.5 0h1m1.4 0h1m7.6 0h1m-0.7 0h1m-0.1 0h1m1.2 0h1m4.7 0h1m-22.2 0.1h1m2.3 0h1m0.6 0h1m-0.4 0h1m-0.5 0h1m2.6 0h1m-0.7 0h1m-0.9 0h1m0.1 0h1m1 0h1m4.5 0h1m4.8 0h1m4.5 0h1m-42.8 0.1h1m1.2 0h1m6.3 0h1m5 0h1m-0.7 0h1m-0.4 0h1m1.2 0h1m1.6 0h1m1.2 0h1m0.7 0h1m1.2 0h1m2.6 0h1m-23.2 0.1h1m5.8 0h1m1 0h1m-0.7 0h1m1.7 0h1m-0.6 0h1m3.2 0h1m-0.8 0h1m0.8 0h1m-0.1 0h1m3.1 0h1m-37.4 0.1h1m3.8 0h1m14.6 0h1m-0.5 0h1m2.2 0h1m-0.4 0h1m1.4 0h1m0.6 0h1m3.5 0h1m3.3 0h1m-17.1 0.1h1m6.2 0h1m1.6 0h1m-21.6 0.1h1m0 0h1m0.4 0h1m7.9 0h1m3.7 0h1m0.1 0h1m0.2 0h1m0.5 0h1m-0.5 0h1m-0.8 0h1m1.8 0h1m3.9 0h1m-30.6 0.1h1m2.1 0h1m-0.8 0h1m0.1 0h1m0.3 0h1m0.9 0h1m1 0h1m2.2 0h1m-0.9 0h1m6.1 0h1m1.6 0h1m-0.4 0h1m-0.7 0h1m1.2 0h1m10.8 0h1m-33.8 0.1h1m-1 0h1m5.2 0h1m-0.3 0h1m2.9 0h1m-0.5 0h1m-0.9 0h1m1.6 0h1m-0.6 0h1m2.4 0h1m-0.1 0h1m2.3 0h1m1 0h1m-1 0h1m-32.9 0.1h1m-1 0h1m5 0h1m1.8 0h1m1.5 0h1m0.9 0h1m-0.7 0h1m4.1 0h1m-0.9 0h1m7.3 0h1m1 0h1m-21.5 0.1h1m2 0h1m-0.9 0h1m0.7 0h1m0.6 0h1m-0.2 0h1m0.2 0h1m2.3 0h1m0 0h1m0.2 0h1m-0.6 0h1m0.6 0h1m0.7 0h1m-0.8 0h1m4.4 0h1m0.4 0h1m0.7 0h1m-24.5 0.1h1m0.6 0h1m2.1 0h1m1.3 0h1m2.9 0h1m-0.3 0h1m0.2 0h1m2 0h1m-0.7 0h1m-1 0h1m3.6 0h1m-29.5 0.1h1m3.9 0h1m7.5 0h1m0.7 0h1m-0.9 0h1m0.2 0h1m0.7 0h1m1 0h1m1.5 0h1m1 0h1m1.6 0h1m1.1 0h1m-28.2 0.1h1m0.7 0h1m5.7 0h1m1.8 0h1m0.7 0h1m-0.8 0h1m-0.2 0h1m1.7 0h1m-0.7 0h1m7.6 0h1m8.1 0h1m-36.5 0.1h1m5.3 0h1m-0.7 0h1m-0.6 0h1m0 0h1m3.3 0h1m-0.6 0h1m0.9 0h1m-0.5 0h1m0.1 0h1m1.2 0h1m1 0h1m0.5 0h1m0.7 0h1m4.8 0h1m-21.5 0.1h1m2.2 0h1m1.2 0h1m6.4 0h1m2.5 0h1m-0.8 0h1m2.9 0h1m3.6 0h1m-16.7 0.1h1m-0.9 0h1m2 0h1m-0.3 0h1m-0.9 0h1m2.2 0h1m-0.8 0h1m-12.5 0.1h1m-0.7 0h1m-0.1 0h1m-0.6 0h1m-0.7 0h1m-18.3 0.1h1m3.6 0h1m5.8 0h1m2.1 0h1m-0.9 0h1m1.6 0h1m-0.3 0h1m0.9 0h1m-0.8 0h1m-0.3 0h1m-0.7 0h1m-13.3 0.1h1m5.6 0h1m5.5 0h1m0.3 0h1m-1 0h1m0.8 0h1m-33.7 0.1h1m12.9 0h1m6.2 0h1m0.6 0h1m0.3 0h1m3.8 0h1m-0.3 0h1m0.9 0h1m-20.4 0.1h1m4.2 0h1m2.8 0h1m4.5 0h1m0.7 0h1m-0.6 0h1m-26.5 0.1h1m11.9 0h1m2.1 0h1m3.1 0h1m-0.4 0h1m-0.4 0h1m2 0h1m-0.2 0h1m-0.8 0h1m-0.3 0h1m16.3 0h1m-34 0.1h1m6.3 0h1m3.1 0h1m0.9 0h1m-0.4 0h1m0.5 0h1m0.8 0h1m0.2 0h1m-0.2 0h1m-21.1 0.1h1m2 0h1m0.7 0h1m0.7 0h1m2.8 0h1m6.9 0h1m10.1 0h1m-33.8 0.1h1m4.8 0h1m-0.8 0h1m-0.1 0h1m1.3 0h1m2.6 0h1m5.9 0h1m2.5 0h1m-17 0.1h1m0.9 0h1m1.5 0h1m0.1 0h1m-0.5 0h1m6.7 0h1m-0.4 0h1m2.1 0h1m1.8 0h1m-37.3 0.1h1m11.4 0h1m0.1 0h1m0.5 0h1m-0.5 0h1m-1 0h1m0.7 0h1m-0.7 0h1m1.7 0h1m3 0h1m2.3 0h1m-13.6 0.1h1m8.5 0h1m-0.2 0h1m1.8 0h1m0.6 0h1m-0.5 0h1m-14.8 0.1h1m0.3 0h1m-0.6 0h1m9.2 0h1m0.5 0h1m0.3 0h1m1.1 0h1m1.3 0h1m-16.1 0.1h1m0.4 0h1m0.1 0h1m0.3 0h1m-0.7 0h1m6.9 0h1m-16.7 0.1h1m-0.4 0h1m3 0h1m3.9 0h1m0.8 0h1m3.2 0h1m-24.2 0.1h1m12.2 0h1m4 0h1m11.4 0h1m-30.8 0.1h1m7.1 0h1m5.5 0h1m2 0h1m-0.2 0h1m4.9 0h1m2 0h1m0.3 0h1m-0.1 0h1m-29.4 0.1h1m1.1 0h1m9.1 0h1m-0.4 0h1m1.5 0h1m1.4 0h1m-0.3 0h1m0.9 0h1m-13 0.1h1m-0.7 0h1m1.2 0h1m0.4 0h1m7.2 0h1m1 0h1m2.3 0h1m-13 0.1h1m9.2 0h1m-32.3 0.1h1m11.1 0h1m3 0h1m0.2 0h1m-0.6 0h1m5.2 0h1m1.5 0h1m-19.2 0.1h1m5 0h1m2.5 0h1m-0.1 0h1m1.5 0h1m7.5 0h1m1.9 0h1m-0.6 0h1m-0.8 0h1m-24 0.1h1m13 0h1m0.1 0h1m1.9 0h1m4.7 0h1m-33.7 0.1h1m1.6 0h1m8.9 0h1m4.7 0h1m1.5 0h1m5.4 0h1m-15.5 0.1h1m2.1 0h1m6.8 0h1m1.8 0h1m4 0h1m2.8 0h1m-28.4 0.1h1m9.8 0h1m-0.8 0h1m1.4 0h1m1.5 0h1m1.8 0h1m-10 0.1h1m5.3 0h1m-0.6 0h1m3.5 0h1m-0.2 0h1m-0.1 0h1m-16.8 0.1h1m0.9 0h1m5.9 0h1m-0.8 0h1m0.2 0h1m8 0h1m-27.2 0.1h1m2 0h1m0.9 0h1m3 0h1m2 0h1m-0.9 0h1m1.7 0h1m1.6 0h1m12.9 0h1m-40.4 0.1h1m22.6 0h1m5.6 0h1m0.9 0h1m-12.8 0.1h1m0.5 0h1m0.4 0h1m0.3 0h1m3.9 0h1m-0.9 0h1m-24.2 0.1h1m12.5 0h1m2.9 0h1m1.3 0h1m2.5 0h1m2.1 0h1m2.8 0h1m-27.4 0.1h1m4.9 0h1m4.7 0h1m4.2 0h1m-0.3 0.1h1m1.6 0h1m-11 0.1h1m-16.6 0.1h1m10.2 0h1m2.9 0h1m-0.2 0h1m1.7 0h1m2.5 0h1m5.7 0h1m4.7 0h1m-39.9 0.1h1m10.1 0h1m-0.9 0h1m1.2 0h1m0.7 0h1m2.2 0h1m-0.7 0h1m3.5 0h1m7.9 0h1m-0.1 0h1m-8.3 0.1h1m-34.1 0.1h1m3.4 0h1m27 0h1m0.5 0h1m-5.5 0.1h1m8 0h1m-22 0.1h1m8.6 0h1m11.5 0h1m-10.3 0.1h1m2.6 0h1m6 0h1m-34.5 0.1h1m14.5 0h1m3.8 0h1m3.8 0h1m3.7 0h1m7.7 0h1m-24.1 0.1h1m-7.6 0.1h1m0.3 0h1m2.5 0h1m5.6 0h1m1.9 0h1m4.8 0h1m-21.3 0.1h1m9.4 0h1m3.9 0h1m7.3 0h1m-17.2 0.1h1m9.2 0h1m-15.7 0.1h1m10.2 0h1m-0.4 0h1m1.2 0h1m-8.9 0.1h1m6 0h1m-19.4 0.1h1m7.9 0h1m0.7 0h1m2.6 0h1m5.5 0h1m5.1 0h1m-22.1 0.1h1m0.8 0h1m3.9 0h1m8 0h1m-16 0.1h1m3.8 0h1m-0.6 0h1m5.3 0h1m1.8 0h1m-1 0h1m2.7 0h1m-13.4 0.2h1m6.6 0.1h1m-9.7 0.1h1m2.7 0h1m4.1 0.1h1m-0.8 0h1m-5.3 0.1h1m-2.7 0.1h1m4.8 0h1m0.2 0h1m-2.7 0.1h1m-11.5 0.1h1m2.4 0.2h1m-1 0h1m5.7 0h1m4 0h1m4.5 0h1m-7.1 0.1h1m-10.9 0.1h1m8.3 0h1m1.8 0h1m-17.9 0.1h1m0.9 0h1m1.2 0h1m8.9 0h1m-15.5 0.1h1m2.5 0h1m-2.7 0.1h1m-2.2 0.2h1m13 0h1m-2 0.1h1m-16 0.1h1m2.6 0h1m4.8 0h1m4.9 0h1m-13 0.2h1m10.3 0h1m-15.3 0.1h1m23.6 0h1m-20.5 0.2h1m4.8 0.1h1m-9.6 0.2h1m13.4 0.2h1m-10.4 0.1h1m-7.1 0.4h1m7.2 0.5h1m-4 0.3h1m-1.7 0.1h1m8 0.2h1m-4.4 0.1h1m-0.2 0h1m-11.7 0.4h1m-1 0.4h1m9.5 1.5h1" stroke="#111" stroke-width="1" fill="none" opacity="1.0"/>
<path d="M273.6 403.9h1m14.1 2.5h1m-18.4 3.6h1m22.5 0.2h1m-37.7 2.2h1m16.5 0.2h1m-0.6 0.9h1m0 4.1h1m2 1.5h1m-10.2 2.1h1m2.4 0.8h1m14.2 0.3h1m1.6 0h1m-20.8 0.6h1m18.4 0h1m-22.3 0.7h1m9.7 0.1h1m-2.4 1.2h1m16.2 0.1h1m-22.3 0.5h1m4.8 0.1h1m5.3 0h1m-13.1 0.1h1m16.2 0.2h1m-1.9 0.2h1m-19.5 0.1h1m2 0.2h1m-11.2 0.5h1m33.9 0h1m-23.6 0.4h1m-5.8 0.1h1m22.2 0.1h1m-2 0.1h1m-15.6 0.2h1m6.8 0h1m6.2 0h1m-13.7 0.1h1m-7.5 0.1h1m12.4 0.3h1m-15.3 0.2h1m-10.9 0.1h1m20.7 0h1m-12.2 0.3h1m-9.7 0.3h1m30.4 0.2h1m-3.2 0.1h1m-28.6 0.3h1m-20.8 0.1h1m34.1 0.1h1m-14.7 0.2h1m28.7 0h1m0.1 0h1m-21.1 0.2h1m4.7 0h1m0.6 0.2h1m-17.4 0.1h1m-10.1 0.1h1m20.4 0.3h1m-14.5 0.1h1m8.8 0.1h1m-16.6 0.3h1m4.1 0.3h1m31.4 0h1m-18.6 0.2h1m5 0h1m-11.6 0.4h1m-8.7 0.4h1m8.4 0.1h1m3.5 0h1m-13 0.1h1m11.6 0h1m6.8 0.2h1m-26.8 0.2h1m-17.5 0.2h1m6.9 0h1m24.4 0.2h1m-11.9 0.2h1m-12.1 0.1h1m9.4 0h1m-10.9 0.3h1m21.9 0.2h1m5.7 0.2h1m-15.8 0.1h1m4.3 0h1m5.4 0.1h1m-15.6 0.3h1m3.9 0h1m3.9 0h1m-5.8 0.4h1m4.9 0.2h1m-15.4 0.1h1m1.5 0.1h1m7.7 0h1m10.3 0h1m-4 0.1h1m2.3 0h1m-37 0.2h1m24.7 0.1h1m-4.8 0.1h1m-1.4 0.1h1m25.6 0h1m-40.6 0.2h1m-0.3 0h1m19.6 0h1m-1.1 0.2h1m-16.5 0.5h1m11.3 0h1m0.4 0.1h1m-28.3 0.1h1m18.7 0h1m-17 0.1h1m4 0.1h1m35.1 0h1m-44.3 0.1h1m28.5 0h1m-22.8 0.2h1m14.5 0h1m-19.1 0.1h1m27.8 0h1m-26.2 0.5h1m7 0.1h1m8.6 0h1m-15.2 0.1h1m15 0h1m-18.9 0.1h1m39.8 0h1m-15.5 0.1h1m-24.1 0.2h1m16.5 0.1h1m-25.8 0.2h1m16.7 0h1m10.6 0h1m-19.8 0.1h1m-5.9 0.2h1m22 0h1m-4.4 0.1h1m12.9 0h1m-51.3 0.1h1m26.1 0h1m5.7 0h1m-17.4 0.4h1m20.8 0h1m9.1 0h1m-23.1 0.3h1m5 0h1m0.7 0.1h1m-25.9 0.1h1m17.1 0.1h1m-9.1 0.1h1m3.5 0h1m8.4 0.1h1m-5.4 0.1h1m1.1 0h1m6.3 0.4h1m-1.9 0.1h1m-0.8 0h1m5 0h1m-28.8 0.1h1m17.1 0h1m-12.2 0.4h1m14.7 0.1h1m-29.8 0.2h1m0.3 0h1m1.4 0.5h1m18.9 0.2h1m7.2 0.2h1m-34.1 0.4h1m26.2 0h1m-9.3 0.1h1m22.6 0h1m-24.1 0.4h1m3.2 0.1h1m-8.4 0.3h1m-27.2 0.5h1m17.8 0.2h1m-0.7 0.3h1m13.3 0.2h1m-7.7 0.1h1m-0.8 0.5h1m-10.7 0.3h1m6 0.1h1m14.2 0h1m-34.1 0.3h1m3 0h1m-0.4 0h1m14.6 0.2h1m10.9 0h1m-32.2 0.1h1m20.5 0h1m5.2 0h1m-12.6 0.5h1m-18.5 0.1h1m17 0h1m10.8 0h1m10 0h1m-6.8 0.1h1m-10.2 0.1h1m10.3 0.3h1m-24.5 0.5h1m2.3 0.2h1m0.8 0.4h1m-2.1 0.2h1m18 0.4h1m-0.5 0.7h1m-1 0.1h1m-25.1 0.4h1m-12.7 1.1h1m37.2 0.1h1m-23.9 0.2h1m2.5 0.5h1m-1.7 0.4h1m-14 0.2h1m3.3 0.1h1m10.6 0.3h1m0.9 0h1m-11.2 0.1h1m14.4 0.8h1m-34 0.2h1m38.7 0h1m-21.8 0.2h1m23 0.1h1m3.4 0.9h1m-20.5 0.1h1m14.5 0.1h1m-39.2 1.4h1m10.7 0.8h1m0.2 0.4h1m14.1 0.7h1m2.6 4.9h1m-12.3 5.8h1" stroke="#555" stroke-width="1" fill="none" opacity="1.0"/>
<path d="M236.6 437.4h1m-26.4 2.6h1m22.7 1.4h1m-21.3 2.1h1m15.4 3.5h1m18.3 2.6h1m-26.5 0.9h1m20.1 0.8h1m-40 0.2h1m10.8 0.7h1m3 0.9h1m1.1 0.1h1m-18.9 0.1h1m12.6 0h1m21.7 0.8h1m-4.3 0.7h1m9.8 0.2h1m-36.7 0.3h1m-1.8 0.4h1m19.9 0.3h1m-10.6 0.2h1m-14.9 0.2h1m4.3 0.3h1m28 0.2h1m-35.5 0.4h1m5.8 0.1h1m16.3 0h1m-10.6 0.5h1m2.1 0h1m15.4 0.2h1m6.8 0h1m-42.1 0.1h1m0.7 0.1h1m13.5 0h1m-5.4 0.2h1m-9.8 0.1h1m3.9 0.1h1m12.4 0.2h1m2.7 0.2h1m10.4 0.1h1m-25.2 0.1h1m14.2 0h1m-15.6 0.2h1m2.1 0h1m-0.5 0h1m0.7 0.1h1m4.4 0h1m-24.6 0.1h1m21.4 0h1m-7.3 0.4h1m7.9 0.2h1m-28.8 0.2h1m7.1 0h1m-0.6 0.7h1m14 0h1m-2 0.2h1m-18.4 0.2h1m11.5 0.6h1m-4.5 0.2h1m3.6 0h1m-5.5 0.4h1m-9.4 0.1h1m4.4 0.2h1m-0.6 0.5h1m-3.1 0.6h1m11.3 0h1m0.1 0.1h1m-6.3 0.4h1m23.5 0h1m-19.1 0.2h1m14.8 0.1h1m-39.7 0.1h1m16.1 0h1m4.7 0h1m3.6 0h1m-22.5 0.1h1m-1.5 0.1h1m4 0.1h1m5 0h1m21.3 0.1h1m-22.1 0.1h1m13.7 0h1m-16.6 0.1h1m21.8 0h1m-8.9 0.1h1m-26.6 0.1h1m25.3 0.3h1m1.5 0h1m-32.9 0.3h1m5.3 0h1m10.4 0.2h1m0.4 0h1m-16.9 0.3h1m1.2 0.3h1m-4.5 0.3h1m15 0h1m-11.8 0.1h1m27.4 0h1m-10.4 0.1h1m-13.6 0.1h1m-8.7 0.1h1m20.6 0.3h1m-24.2 0.3h1m-4.1 0.1h1m13.1 0.2h1m7 0h1m-10.2 0.1h1m7.4 0.2h1m-18 0.4h1m16.6 0h1m-29.4 0.1h1m5.8 0.2h1m3.5 0h1m7.2 0.1h1m5.8 0.3h1m-12.4 0.2h1m33.5 0.2h1m-28.6 0.1h1m-22.3 0.1h1m26 0h1m3.4 0h1m5.2 0.1h1m-26.9 0.3h1m26.3 0.4h1m-19.1 0.1h1m8.4 0.1h1m-4.3 0.1h1m11.6 0.2h1m-34.7 0.1h1m24.8 0h1m-29.9 0.1h1m20.2 0.2h1m14.2 0h1m-30.8 0.3h1m5.1 0.1h1m12.1 0.1h1m-8.1 0.1h1m14.8 0.3h1m-28.4 0.2h1m-6.7 0.2h1m14.2 0.1h1m-0.7 0h1m8.6 0.2h1m-8.6 0.4h1m5.2 0.3h1m-19.2 0.3h1m19.7 0.4h1m1.2 0.1h1m-34.2 0.1h1m18.7 0h1m-2.3 0.3h1m11.2 0h1m-31.8 0.1h1m33.8 0.5h1m-26.4 0.1h1m5.2 0.7h1m8.7 0.1h1m0.8 0.2h1m0.8 0.1h1m-5.3 0.1h1m-9.5 0.2h1m-0.6 0.1h1m-14.8 0.1h1m15.2 0.3h1m18.2 0.3h1m-36.8 0.3h1m18.3 0.5h1m-2.5 0.2h1m2.2 0h1m31.9 0.5h1m-51.6 0.5h1m34.2 0.1h1m-4.6 0.1h1m-15.6 0.3h1m-8.2 0.1h1m21.5 0h1m-21.8 0.1h1m25.6 0.1h1m-9.1 0.1h1m-9.4 0.7h1m-3 0.7h1m5.1 0.6h1m-9.2 0.1h1m-10.9 0.1h1m5.9 0.5h1m-17.8 0.2h1m13 0.3h1m9.8 1.8h1m-25.7 0.6h1m6.3 0.4h1m10.5 0h1m-25.5 0.2h1" stroke="#888" stroke-width="1" fill="none" opacity="1.0"/>
<path d="M272.4 410.3h1m-9.3 7h1m13.6 0.8h1m-5.3 0.8h1m7.4 0.2h1m-6.5 0.2h1m-0.4 0.3h1m-8.2 0.9h1m13.5 0.1h1m-18.1 0.8h1m2.8 0.2h1m2 0h1m3.3 0h1m-8.9 0.1h1m2.2 0h1m-9.7 0.1h1m2.4 0.1h1m2 0h1m1.1 0h1m-0.2 0h1m-7.3 0.1h1m3.1 0.1h1m0.7 0h1m-6 0.1h1m2.5 0h1m-6.9 0.1h1m3.5 0h1m-5.6 0.1h1m8.9 0h1m-3.2 0.2h1m-9.2 0.1h1m2.4 0h1m10.1 0h1m-14.4 0.1h1m-0.1 0.2h1m4.3 0h1m0.6 0h1m0.6 0h1m-13.1 0.1h1m8.1 0.1h1m1.9 0h1m1 0h1m-9.5 0.1h1m3.7 0h1m2.6 0h1m6.6 0h1m-24.2 0.1h1m4.6 0h1m0.7 0h1m0.3 0h1m4.9 0h1m4.7 0h1m-4.3 0.1h1m-3 0.2h1m3.6 0h1m-6.7 0.1h1m-0.3 0h1m1.2 0h1m-18.9 0.1h1m8.9 0h1m10.9 0h1m-14.4 0.1h1m2 0h1m3.1 0h1m1.2 0.1h1m-0.1 0h1m2 0h1m0.5 0h1m-17.3 0.1h1m4.6 0h1m2.1 0h1m4 0h1m-9.9 0.1h1m10.4 0h1m-22.3 0.1h1m-0.5 0h1m10.4 0h1m2.4 0h1m1.8 0h1m3.3 0h1m-16.5 0.1h1m5 0h1m1.2 0h1m0.7 0h1m3 0h1m-0.9 0h1m-14.3 0.1h1m2 0h1m0.9 0h1m1.1 0h1m0.9 0h1m-13.3 0.1h1m0.2 0h1m1.2 0h1m6.5 0h1m4 0h1m-15.5 0.1h1m-0.6 0h1m0.5 0h1m0.4 0h1m13.9 0h1m-23.2 0.1h1m7.7 0h1m5.3 0h1m0.1 0h1m-12.7 0.1h1m-0.9 0h1m6.4 0h1m1.1 0h1m4.3 0h1m-7.4 0.1h1m0.4 0h1m1.1 0h1m-20.9 0.1h1m7.7 0h1m4 0h1m2.9 0h1m4.7 0h1m-23 0.1h1m8.2 0h1m2.4 0h1m7.8 0h1m-12.6 0.1h1m-0.2 0h1m1.3 0h1m-0.1 0h1m7.8 0h1m-24.7 0.1h1m6.2 0h1m2.3 0h1m0.4 0h1m1.2 0h1m-0.5 0h1m0.1 0h1m-0.9 0h1m2.7 0h1m2.5 0h1m-16.1 0.1h1m0.5 0h1m0.5 0h1m-0.5 0h1m1.1 0h1m-11.4 0.1h1m1.7 0h1m5.6 0h1m0.4 0h1m1 0h1m2.9 0h1m-20.7 0.1h1m3.7 0h1m-0.2 0h1m5.3 0h1m0 0h1m2.1 0h1m1.7 0h1m-0.7 0h1m-14.4 0.1h1m3.9 0h1m10.4 0h1m0.6 0h1m-19.2 0.1h1m7.5 0h1m-0.4 0h1m-0.3 0h1m0.5 0h1m-16.4 0.1h1m12.3 0h1m2.6 0h1m7 0h1m-33.1 0.1h1m7.2 0h1m3.5 0h1m5.6 0h1m3.4 0h1m2.9 0h1m-20.7 0.1h1m1 0h1m1.5 0h1m-0.8 0h1m3.1 0h1m3.6 0h1m-2.2 0.1h1m-0.3 0h1m0.2 0h1m-15.7 0.1h1m6 0h1m0.5 0h1m-0.7 0h1m-0.9 0h1m2 0h1m8.9 0h1m-19.3 0.1h1m-0.8 0h1m1.6 0h1m-0.1 0h1m1.7 0h1m4.8 0h1m-0.7 0h1m-0.2 0h1m-8.8 0.1h1m1.5 0h1m1.2 0h1m-0.8 0h1m0.1 0h1m1.9 0h1m8.6 0h1m-21.9 0.1h1m-0.5 0h1m-0.2 0h1m0.6 0h1m2.8 0h1m0.1 0h1m2.7 0h1m-11.3 0.1h1m0.5 0h1m0 0h1m5.7 0h1m-13.2 0.1h1m-0.6 0h1m3.2 0h1m0 0h1m-0.3 0h1m1.5 0h1m-0.5 0h1m-0.5 0h1m-0.1 0h1m-0.6 0h1m6 0h1m-16.8 0.1h1m4.4 0h1m0.3 0h1m0.6 0h1m6.8 0h1m-24.3 0.1h1m6.5 0h1m0 0h1m-1 0h1m-0.9 0h1m-4.4 0.1h1m3.8 0h1m3.5 0h1m-0.2 0h1m-0.9 0h1m-0.2 0h1m-8.6 0.1h1m-0.6 0h1m0.2 0h1m0.1 0h1m-0.4 0h1m-2.5 0.1h1m2.6 0h1m1.3 0h1m0.6 0h1m1.1 0h1m-14.9 0.1h1m0.2 0h1m-0.2 0h1m3.2 0h1m0 0h1m5 0h1m3.3 0h1m-19.4 0.1h1m0.4 0h1m2.7 0h1m0.2 0h1m8.9 0h1m-21.5 0.1h1m4.3 0h1m-0.4 0h1m1.3 0h1m0.8 0h1m2.2 0h1m5 0h1m-0.9 0h1m1.3 0h1m-19.3 0.1h1m1.3 0h1m2 0h1m-0.4 0h1m-0.7 0h1m0.3 0h1m1.3 0h1m0.4 0h1m-2.6 0.1h1m0.1 0h1m-0.5 0h1m1.2 0h1m-0.8 0h1m-0.1 0h1m2 0h1m-15.8 0.1h1m2.3 0h1m-0.1 0h1m-0.9 0h1m2.3 0h1m-0.6 0h1m-9.1 0.1h1m2.5 0h1m0.7 0h1m2.6 0h1m1.8 0h1m-19.9 0.1h1m0.1 0h1m-0.8 0h1m1.4 0h1m1.8 0h1m2.7 0h1m-0.8 0h1m-0.9 0h1m4.9 0h1m0 0h1m-15.7 0.1h1m0.6 0h1m0.3 0h1m3.8 0h1m2.8 0h1m-0.7 0h1m-0.6 0h1m2.4 0h1m1.1 0h1m-15.6 0.1h1m0.1 0h1m-0.9 0h1m0.7 0h1m1.4 0h1m2 0h1m1.3 0h1m-0.8 0h1m4.2 0h1m-22.6 0.1h1m4.4 0h1m-0.3 0h1m0.8 0h1m-0.9 0h1m0.1 0h1m0.2 0h1m-0.2 0h1m0.9 0h1m0 0h1m-1 0h1m-0.7 0h1m1.5 0h1m1 0h1m1.7 0h1m-26 0.1h1m7.4 0h1m-0.1 0h1m0 0h1m2.1 0h1m1.2 0h1m0.3 0h1m4.1 0h1m-1 0h1m5.9 0h1m-25.7 0.1h1m-0.6 0h1m2.3 0h1m-0.3 0h1m5.7 0h1m0 0h1m1.7 0h1m2.2 0h1m-0.7 0h1m-1 0h1m-21 0.1h1m2.6 0h1m-0.3 0h1m0.7 0h1m-0.9 0h1m1.5 0h1m-0.2 0h1m0.4 0h1m4.4 0h1m1 0h1m-0.8 0h1m-11.9 0.1h1m0.4 0h1m4 0h1m0.7 0h1m-0.3 0h1m0.6 0h1m0.5 0h1m-0.6 0h1m-14.7 0.1h1m0.1 0h1m1.2 0h1m0 0h1m1.1 0h1m3.7 0h1m0.7 0h1m-4.7 0.1h1m-0.3 0h1m-1 0h1m-0.2 0h1m-0.1 0h1m1.2 0h1m0.3 0h1m10.9 0h1m-29.9 0.1h1m0.2 0h1m0 0h1m1.1 0h1m-0.9 0h1m0.7 0h1m2.2 0h1m-0.1 0h1m5.2 0h1m-22.5 0.1h1m2.4 0h1m5.3 0h1m0.7 0h1m-1 0h1m-0.8 0h1m-0.5 0h1m1.4 0h1m-1 0h1m-0.8 0h1m2.3 0h1m1.2 0h1m-0.8 0h1m-15.7 0.1h1m5.1 0h1m-0.2 0h1m-0.5 0h1m-0.7 0h1m1 0h1m-0.2 0h1m-0.7 0h1m-0.5 0h1m-0.2 0h1m3 0h1m-0.9 0h1m2.4 0h1m-22.8 0.1h1m4 0h1m1.7 0h1m3.1 0h1m1.4 0h1m0.2 0h1m-0.3 0h1m0.9 0h1m-20.3 0.1h1m2.3 0h1m-0.5 0h1m4.5 0h1m0.5 0h1m-0.8 0h1m0 0h1m2.1 0h1m2.7 0h1m0.4 0h1m-0.8 0h1m-23.7 0.1h1m12.1 0h1m-0.3 0h1m0.6 0h1m2.6 0h1m2.3 0h1m0.5 0h1m3.4 0h1m-25.9 0.1h1m2.3 0h1m2.8 0h1m-0.8 0h1m-0.4 0h1m0.6 0h1m-0.9 0h1m0 0h1m-0.3 0h1m-9.5 0.1h1m4.5 0h1m-0.9 0h1m2.9 0h1m-0.7 0h1m2.9 0h1m0.8 0h1m-0.9 0h1m2.6 0h1m-16.2 0.1h1m-0.7 0h1m0 0h1m0.5 0h1m-0.4 0h1m-0.1 0h1m0 0h1m0.3 0h1m0.4 0h1m0.6 0h1m-14.8 0.1h1m0 0h1m10.4 0h1m1.6 0h1m1.7 0h1m-20.5 0.1h1m2.5 0h1m3.7 0h1m0.1 0h1m1.6 0h1m3.2 0h1m-0.8 0h1m-1 0h1m1.9 0h1m-27.7 0.1h1m6.5 0h1m2.8 0h1m0.3 0h1m-0.6 0h1m3.1 0h1m0.8 0h1m-0.3 0h1m-0.6 0h1m2.3 0h1m-16.6 0.1h1m-0.9 0h1m2.9 0h1m-0.1 0h1m0.9 0h1m0.3 0h1m1.2 0h1m-0.8 0h1m-0.2 0h1m0.2 0h1m-0.6 0h1m1.4 0h1m-19.3 0.1h1m-0.3 0h1m11.3 0h1m-0.9 0h1m-0.3 0h1m-0.7 0h1m3.3 0h1m3.2 0h1m-0.3 0h1m0.1 0h1m-21.7 0.1h1m-0.2 0h1m5.5 0h1m-0.9 0h1m7.4 0h1m9.1 0h1m4.7 0h1m-29.2 0.1h1m-0.8 0h1m2.6 0h1m4.1 0h1m1 0h1m-0.3 0h1m1 0h1m2.3 0h1m-24.2 0.1h1m0.7 0h1m3.9 0h1m-0.4 0h1m0.4 0h1m8.5 0h1m-22.5 0.1h1m0.3 0h1m4.3 0h1m-0.2 0h1m6.1 0h1m0.1 0h1m0 0h1m-0.1 0h1m0.9 0h1m0.1 0h1m-0.2 0h1m-0.4 0h1m0.3 0h1m-1 0h1m-14.4 0.1h1m0.1 0h1m3.2 0h1m-0.7 0h1m-0.3 0h1m2.7 0h1m1.3 0h1m-17.7 0.1h1m7 0h1m-0.8 0h1m0.3 0h1m4 0h1m1 0h1m-19 0.1h1m-0.1 0h1m6.4 0h1m-0.9 0h1m-0.9 0h1m0.8 0h1m2.1 0h1m0 0h1m1.1 0h1m-0.7 0h1m-0.3 0h1m0.1 0h1m2.1 0h1m-18.7 0.1h1m7.4 0h1m1.1 0h1m0.2 0h1m-0.9 0h1m-13.4 0.1h1m-0.7 0h1m2.7 0h1m-0.7 0h1m1.6 0h1m-0.8 0h1m2.3 0h1m0.6 0h1m10.5 0h1m-27 0.1h1m-0.3 0h1m1.3 0h1m0.8 0h1m-0.7 0h1m0.7 0h1m-0.4 0h1m0.6 0h1m1.3 0h1m-0.3 0h1m2.8 0h1m-0.4 0h1m3.1 0h1m-21.2 0.1h1m2.4 0h1m3.5 0h1m1.7 0h1m-0.7 0h1m-0.5 0h1m0.6 0h1m-0.7 0h1m-12.4 0.1h1m1.5 0h1m0.2 0h1m-0.1 0h1m3.4 0h1m0.2 0h1m-0.9 0h1m0.6 0h1m-10.5 0.1h1m1.5 0h1m0.6 0h1m2.6 0h1m2.1 0h1m1.4 0h1m1.3 0h1m-21.9 0.1h1m-0.3 0h1m-0.2 0h1m4.1 0h1m-0.3 0h1m-0.3 0h1m3.6 0h1m-0.6 0h1m2.6 0h1m5.7 0h1m-1 0h1m0.3 0h1m-0.4 0h1m-14.8 0.1h1m-0.7 0h1m-0.3 0h1m0.2 0h1m1.1 0h1m2.7 0h1m-0.5 0h1m-17 0.1h1m1.9 0h1m0.9 0h1m1.1 0h1m0.3 0h1m5.9 0h1m-9.5 0.1h1m-0.6 0h1m-11.8 0.1h1m-0.6 0h1m2.3 0h1m0.1 0h1m-1 0h1m-0.6 0h1m-0.2 0h1m0.3 0h1m1.3 0h1m0.6 0h1m1 0h1m-0.7 0h1m1.1 0h1m-1 0h1m0 0h1m-0.4 0h1m0.7 0h1m1.3 0h1m-20 0.1h1m4.3 0h1m-0.7 0h1m1.4 0h1m-0.4 0h1m-0.9 0h1m-1 0h1m-0.7 0h1m1.1 0h1m-0.5 0h1m0.5 0h1m-0.1 0h1m0.7 0h1m0.5 0h1m-19.4 0.1h1m5.9 0h1m1.1 0h1m0.9 0h1m1.1 0h1m0.4 0h1m1.3 0h1m-11.9 0.1h1m0.3 0h1m-0.4 0h1m1.3 0h1m0.5 0h1m-0.4 0h1m-0.1 0h1m2.5 0h1m6.3 0h1m-22.6 0.1h1m0.4 0h1m3.2 0h1m-0.4 0h1m-0.3 0h1m-0.7 0h1m-0.4 0h1m0 0h1m1.6 0h1m0.6 0h1m-0.5 0h1m-12.4 0.1h1m0.4 0h1m-0.4 0h1m2.4 0h1m0.2 0h1m0.8 0h1m-0.5 0h1m-0.3 0h1m12.1 0h1m-27.7 0.1h1m0.2 0h1m0.6 0h1m0.8 0h1m0 0h1m0.9 0h1m2.1 0h1m2.4 0h1m0.5 0h1m-0.8 0h1m-3.5 0.1h1m-0.7 0h1m-0.5 0h1m1.5 0h1m1.3 0h1m-14.8 0.1h1m1.1 0h1m-0.5 0h1m1.6 0h1m0.1 0h1m-0.8 0h1m-0.5 0h1m0.2 0h1m4.3 0h1m-20.8 0.1h1m-0.3 0h1m2.9 0h1m1.6 0h1m0 0h1m-0.2 0h1m-0.1 0h1m-0.1 0h1m-0.8 0h1m-0.4 0h1m2.4 0h1m-18.2 0.1h1m10.6 0h1m4 0h1m-0.8 0h1m-15.1 0.1h1m0.7 0h1m5.6 0h1m-0.1 0h1m3.8 0h1m0.4 0h1m4.8 0h1m-22.1 0.1h1m1.9 0h1m-0.2 0h1m5.5 0h1m-0.3 0h1m-0.4 0h1m-0.1 0h1m1.5 0h1m1.6 0h1m3.4 0h1m-18.2 0.1h1m-0.9 0h1m1 0h1m2.9 0h1m-1 0h1m-0.4 0h1m0.1 0h1m0 0h1m-0.6 0h1m-0.6 0h1m-0.5 0h1m1.2 0h1m1 0h1m-11.3 0.1h1m1.8 0h1m0 0h1m4.2 0h1m-0.9 0h1m6.4 0h1m-23.6 0.1h1m5.9 0h1m2.1 0h1m3.7 0h1m-18.6 0.1h1m4.4 0h1m4.2 0h1m0.1 0h1m0.7 0h1m-0.4 0h1m2.2 0h1m-0.8 0h1m-0.8 0h1m0 0h1m6 0h1m-27.2 0.1h1m8.2 0h1m-0.3 0h1m-0.2 0h1m0.3 0h1m-0.4 0h1m-1 0h1m-0.8 0h1m-0.3 0h1m1.3 0h1m-13.7 0.1h1m2.9 0h1m3.7 0h1m-0.4 0h1m2.1 0h1m3.3 0h1m-18.4 0.1h1m1 0h1m1.7 0h1m-0.4 0h1m0.4 0h1m0.7 0h1m0 0h1m0.1 0h1m0.2 0h1m-0.6 0h1m1 0h1m0.8 0h1m1.7 0h1m3.3 0h1m1.5 0h1m-19.6 0.1h1m2 0h1m-0.9 0h1m4.2 0h1m-0.8 0h1m-0.9 0h1m5.1 0h1m2.4 0h1m-21 0.1h1m8.8 0h1m7.3 0h1m-0.9 0h1m-25.9 0.1h1m7.2 0h1m0.1 0h1m-13.9 0.1h1m8.5 0h1m-0.3 0h1m-0.8 0h1m0.9 0h1m-0.7 0h1m5.3 0h1m0.7 0h1m2.3 0h1m-0.4 0h1m-0.5 0h1m1.9 0h1m-21.9 0.1h1m2.3 0h1m0.5 0h1m0.3 0h1m0.3 0h1m-0.8 0h1m4.5 0h1m3.4 0h1m-18 0.1h1m3.2 0h1m-0.8 0h1m0.6 0h1m2.7 0h1m1 0h1m-17.9 0.1h1m2.6 0h1m2 0h1m3.5 0h1m-0.8 0h1m-6.1 0.1h1m1.3 0h1m-0.9 0h1m1.4 0h1m-0.4 0h1m-0.8 0h1m3.1 0h1m-0.4 0h1m2.8 0h1m2 0h1m-15.9 0.1h1m-5.2 0.1h1m8.5 0h1m-1 0h1m12.9 0h1m-28.9 0.1h1m4.5 0h1m5.7 0h1m0.6 0h1m0.1 0h1m-0.8 0h1m-19.7 0.1h1m10.4 0h1m3.5 0h1m-2.1 0.1h1m7.1 0h1m0.5 0h1m-15 0.1h1m-0.8 0h1m0.7 0h1m0.3 0h1m2.2 0h1m3.4 0h1m1 0h1m-9.1 0.1h1m-1 0h1m0.5 0h1m-0.1 0h1m2.5 0h1m2.9 0h1m0 0h1m-18.1 0.1h1m3.7 0h1m2.7 0h1m-0.4 0h1m0.4 0h1m0 0h1m2 0h1m-12.6 0.1h1m0.3 0h1m1 0h1m11 0h1m-14.1 0.1h1m0.7 0h1m2.3 0h1m-6.4 0.1h1m0.1 0h1m-0.4 0h1m1.7 0h1m0.3 0h1m-0.5 0h1m1 0h1m-6.7 0.1h1m1.5 0h1m-1 0h1m-9.6 0.1h1m0.4 0h1m-0.9 0h1m-0.8 0h1m1.1 0h1m3.7 0h1m1.7 0h1m-15.2 0.1h1m5.6 0h1m2.3 0h1m-0.6 0h1m-0.3 0h1m-9.3 0.1h1m-0.4 0h1m10.4 0h1m0.2 0h1m-6.8 0.1h1m0.7 0h1m0 0h1m-11.5 0.1h1m2.4 0h1m0 0h1m4.7 0h1m7.1 0h1m-18.7 0.1h1m-0.6 0h1m-1.6 0.1h1m-0.2 0h1m-0.9 0h1m6.9 0h1m4.3 0h1m0 0h1m-19.3 0.1h1m4.9 0h1m3.4 0h1m-4.5 0.1h1m0.4 0h1m0.6 0h1m1.6 0h1m-0.7 0h1m2.8 0h1m-19.6 0.1h1m2.8 0h1m7 0h1m8 0h1m0 0h1m-17.7 0.1h1m4.7 0h1m4.2 0h1m-1 0h1m3.3 0h1m-11 0.1h1m-0.5 0h1m0.4 0h1m1.9 0h1m3.3 0h1m-16.5 0.1h1m6.4 0h1m2.1 0h1m-12.1 0.1h1m9.3 0h1m-3 0.1h1m-0.8 0h1m-7.9 0.1h1m7.5 0h1m-0.5 0h1m3.2 0h1m-13.6 0.1h1m5.1 0h1m2 0h1m-0.5 0h1m-5 0.1h1m1.8 0h1m-0.5 0h1m-7.1 0.1h1m9.6 0h1m-0.3 0h1m-10.3 0.1h1m-3.7 0.1h1m10.6 0h1m-13.7 0.1h1m-0.8 0h1m0.4 0h1m3.7 0h1m2.2 0h1m-7.7 0.1h1m2.2 0h1m-5.8 0.1h1m6.9 0h1m-0.8 0.1h1m-10 0.1h1m10.1 0h1m-0.7 0h1m2.1 0.1h1m-11.1 0.2h1m0.5 0h1m1.1 0h1m-7.6 0.1h1m-2.4 0.1h1m10.7 0.1h1m-5.3 0.1h1m3 0.1h1m-10.5 0.2h1m10 0h1m-7.1 0.1h1m7.2 0h1m-0.5 0.2h1m-17.3 0.3h1m0.5 0.1h1m-4.5 0.1h1m8.6 0.1h1m6.9 0h1m-9 0.1h1m3.8 0h1m-1.6 0.2h1m-12.6 0.1h1m-1.8 0.1h1m13.7 0h1m-3.5 0.2h1m-10.9 0.1h1m6.6 0.1h1m-0.1 0h1m-0.6 0.5h1m-5.3 0.2h1m-2.8 1.2h1m0.7 0.1h1m1.5 0h1" stroke="#111" stroke-width="1" fill="none" opacity="1.0"/>
<path d="M406.1 413.5h1m-51.8 0.9h1m1.4 0.5h1m0.8 0.1h1m17.3 0.6h1m-28.8 0.4h1m-15.7 1.1h1m28.2 0.8h1m-7 0.2h1m-2.5 0.5h1m-16.5 0.2h1m30.1 0.3h1m5.4 0.7h1m-31.9 0.6h1m-3.9 0.4h1m19.2 0.2h1m-6 0.1h1m12.8 0.1h1m-37.4 0.3h1m32.7 0.2h1m13.7 0h1m-28.5 0.2h1m2.9 0h1m18.9 0.5h1m-27.3 0.2h1m12.4 0.2h1m14.2 0h1m-37.6 0.4h1m5.1 0.1h1m11.2 0.2h1m16.5 0h1m-49 0.3h1m29.2 0h1m6 0h1m-35.5 0.2h1m43 0h1m-55.1 0.5h1m42.3 0h1m-24.6 0.3h1m29.6 0h1m-22.5 0.2h1m-8.4 0.3h1m-9.6 0.2h1m3.7 0h1m17.3 0.1h1m-14 0.1h1m3.8 0h1m24.5 0h1m-40.5 0.1h1m6.2 0.1h1m19.8 0.1h1m19.4 0h1m-54.7 0.1h1m0.6 0h1m0.3 0h1m27.3 0h1m-2.5 0.1h1m18.8 0h1m-37 0.1h1m30.1 0.1h1m-15.7 0.1h1m2.4 0h1m4.5 0h1m40.3 0h1m-85.2 0.1h1m30 0h1m7.7 0h1m-7.5 0.2h1m12.1 0h1m-31.5 0.1h1m26.1 0.3h1m-23.9 0.2h1m11 0.1h1m-19 0.2h1m9.1 0.1h1m18.1 0h1m-32.3 0.1h1m-15.4 0.1h1m36.1 0h1m-21.5 0.1h1m9.5 0.1h1m-17.3 0.1h1m20.5 0h1m28.1 0h1m-44.1 0.1h1m22.9 0h1m10.3 0h1m-48.4 0.1h1m32.4 0h1m19.1 0h1m-29.4 0.1h1m2.3 0h1m-5 0.1h1m38.7 0h1m-24.8 0.1h1m-34.5 0.2h1m51.9 0h1m-62.9 0.1h1m46.6 0h1m-5.9 0.1h1m11.2 0h1m-49.9 0.1h1m18.9 0h1m2 0h1m31.7 0.2h1m-33.8 0.1h1m-20.8 0.1h1m2.7 0h1m-22.4 0.1h1m26.9 0h1m20.2 0h1m-25.9 0.1h1m29.7 0h1m-40.3 0.2h1m15.7 0h1m-11.2 0.1h1m-0.6 0.1h1m15.5 0h1m8.9 0h1m4.7 0h1m-16.1 0.1h1m0.4 0h1m-32 0.1h1m11 0h1m0.6 0h1m22.2 0h1m-36.7 0.1h1m1.8 0h1m28.9 0h1m-29 0.2h1m-14.2 0.1h1m20.3 0h1m12 0h1m0.9 0.1h1m24.4 0h1m-30.3 0.2h1m1.6 0h1m-29.4 0.1h1m35.1 0h1m11.4 0h1m-40.9 0.1h1m13.3 0h1m18.3 0h1m5.6 0.2h1m-18.6 0.1h1m-28.7 0.1h1m1.3 0h1m2.2 0h1m31.4 0h1m-37 0.1h1m21.6 0.1h1m-11.1 0.1h1m48.2 0h1m-67.5 0.1h1m19.6 0h1m-4.6 0.1h1m0.4 0h1m-20.6 0.2h1m1.2 0h1m-0.8 0h1m9 0h1m0.4 0h1m0.4 0.1h1m13.2 0h1m6.3 0h1m-14 0.2h1m14.6 0h1m4.5 0h1m-26.6 0.1h1m5 0.1h1m-31.9 0.1h1m25.9 0h1m24.7 0h1m0.9 0.1h1m-0.7 0h1m-16.9 0.1h1m-15.4 0.1h1m48.3 0.1h1m-35.3 0.2h1m-29.9 0.1h1m34.3 0h1m-8.7 0.1h1m-40 0.1h1m61.5 0h1m-24.4 0.1h1m-4.9 0.2h1m-2.1 0.1h1m-14.1 0.1h1m4.3 0h1m20.1 0.1h1m2.5 0h1m1.3 0h1m10 0h1m-51.6 0.1h1m14.5 0h1m26 0h1m-36.2 0.1h1m6.5 0h1m-2.6 0.2h1m17.1 0.1h1m-19 0.1h1m2.8 0h1m-21.3 0.1h1m9.8 0h1m11.4 0.2h1m-11.6 0.2h1m-3.8 0.1h1m13.3 0.1h1m-2.5 0.1h1m-10.1 0.2h1m9.2 0h1m-18.7 0.1h1m18.9 0h1m-24.2 0.1h1m59.4 0h1m-61.8 0.1h1m21.6 0h1m39.4 0.1h1m-43.8 0.1h1m3.3 0h1m-10.2 0.2h1m18 0.1h1m2.8 0h1m5.5 0h1m-51.4 0.1h1m41.6 0h1m8.4 0h1m-58.5 0.1h1m26.8 0h1m3.7 0h1m-31.6 0.2h1m37.4 0.1h1m33.8 0h1m-45.1 0.1h1m19.5 0h1m23 0h1m-78.2 0.1h1m0.5 0h1m34.5 0h1m15.6 0h1m-10.6 0.1h1m7.9 0h1m-0.6 0h1m-31.8 0.1h1m0.7 0h1m3.3 0.1h1m30.2 0h1m1.4 0h1m-25.1 0.1h1m-29.5 0.4h1m22.9 0h1m-18.8 0.3h1m2.1 0h1m14.9 0.1h1m18.7 0h1m8.8 0.1h1m-33.5 0.1h1m6.5 0h1m13.1 0h1m-49 0.1h1m37.5 0h1m-14.2 0.1h1m0 0h1m-5.8 0.1h1m15.2 0h1m-38 0.1h1m30.1 0h1m12.7 0.1h1m-8.3 0.2h1m-3 0.2h1m-13 0.1h1m8.9 0h1m-25.5 0.1h1m8.9 0h1m1.5 0h1m29.3 0h1m-39.7 0.1h1m4.6 0h1m9 0h1m-1.4 0.1h1m-5.9 0.1h1m32.7 0h1m1.1 0h1m-51.2 0.3h1m12.1 0h1m11.8 0.1h1m-0.9 0.1h1m-41.5 0.3h1m0.5 0.3h1m22.2 0h1m45.5 0h1m-18.8 0.3h1m-45.7 0.1h1m3.7 0.1h1m11.9 0.1h1m3.3 0.1h1m2.6 0h1m9.9 0h1m-4.9 0.3h1m-15.1 0.1h1m4.4 0h1m22.6 0h1m-56.8 0.1h1m21.3 0.2h1m4.1 0.1h1m18.8 0h1m-36.6 0.2h1m-3.6 0.1h1m23.8 0h1m-6.1 0.2h1m5.1 0.5h1m15.3 0h1m-23 0.2h1m19.6 0h1m-0.6 0.1h1m-29.5 0.3h1m22.6 0.5h1m-17.7 0.1h1m41.7 0.2h1m-75.2 0.6h1m17.6 0.6h1m29.3 0.4h1m-8.3 0.4h1m-13.7 0.6h1m11.7 2.7h1m-3.7 0.5h1" stroke="#555" stroke-width="1" fill="none" opacity="1.0"/>
<path d="M400.6 416.7h1m-15 5.2h1m31.1 0.3h1m11 0.9h1m-4.7 2.3h1m-5.6 2.1h1m-24.3 1.6h1m6.2 0.4h1m6.1 0.1h1m-17.5 0.8h1m32.4 2h1m-11.8 1.4h1m-8.7 1.8h1m-3.7 1.7h1m8.9 0.4h1m-37.6 0.1h1m42.8 0.1h1m-26.6 0.9h1m17.3 0.4h1m12.4 0.8h1m-21.7 0.3h1m-0.6 0.7h1m9.6 0.4h1m-1.3 0.7h1m-33.2 0.4h1m38 0.1h1m-23.3 0.6h1m-8.7 0.3h1m-21 0.3h1m3 0.8h1m17.4 0.1h1m-40.6 1.1h1m28.4 0.3h1m28.3 0.9h1m-10.2 0.2h1m15.1 0h1m-26.1 0.1h1m13.8 0.1h1m-9.3 0.6h1m11.1 0h1m-11.1 0.1h1m-2.1 0.9h1m-36.1 0.8h1m27.1 1.4h1m18.8 0.1h1m-1.1 0.2h1m-35.5 0.3h1m4.7 0.1h1m13.5 0.2h1m-5.3 0.6h1m13.1 0.5h1m6.9 0.2h1m-31.2 1h1m22.1 0.3h1m-23.8 0.3h1m-9.1 0.3h1m-2 0.4h1m30.2 0h1m1.6 0h1m-36 0.4h1m23.1 0h1m3.4 0.6h1m10.6 1h1m-3.6 0.2h1m-32.4 0.3h1m-23.9 0.4h1m40.9 1.3h1m5.7 1h1m-17.3 0.2h1m-1.3 0.8h1m-0.6 0.5h1m9.8 0.4h1m-20.1 0.4h1m-7.7 1.4h1m16.6 0.6h1m-34.4 0.9h1m30.3 0h1m14.8 0.4h1m-32.4 0.3h1m22.1 0.9h1m-2.3 0.4h1m19.6 1.8h1m-35.2 0.4h1m10.1 0.4h1m10.6 0.8h1m-27 1h1m-6.7 0.8h1" stroke="#888" stroke-width="1" fill="none" opacity="1.0"/>
<path d="M387 438.5h1m-18.1 5.2h1m0.3 0.9h1m10.4 0h1m-3 1h1m-0.3 0.3h1m-10.7 1.1h1m-1.3 0.3h1m5 0.2h1m2.4 0.9h1m-2.9 0.2h1m-4 0.2h1m6.4 0.1h1m-22.3 0.2h1m4.9 0h1m7.6 0h1m-8.1 0.1h1m17.4 0h1m-16.7 0.1h1m-1.5 0.1h1m4.7 0.7h1m-4.9 0.4h1m-6 0.2h1m9.2 0h1m-5.5 0.1h1m-8.3 0.2h1m1.1 0.3h1m-8 0.3h1m16.3 0.2h1m7.7 0.4h1m-7.1 0.1h1m-26.2 0.4h1m11.6 0h1m12.3 0h1m-9.4 0.8h1m1.6 0h1m-2.1 0.4h1m0.6 0.3h1m2.2 0h1m-10.1 0.1h1m1.2 0.2h1m-0.7 0.1h1m-3.6 0.4h1m-2.9 0.4h1m6.1 0.2h1m1.2 0.4h1m-18.9 0.4h1m5.7 0h1m10.9 0.7h1m-18.4 0.3h1m2.3 0.3h1m4.2 0h1m3.5 0.6h1m-2.4 0.3h1m6.5 0.1h1m1.2 0.3h1m-11.2 0.2h1m4.7 2.5h1m-6.1 0.1h1m6.5 3.2h1" stroke="#888" stroke-width="1" fill="none" opacity="1.0"/>
<path d="M378.6 421h1m-1.3 0.8h1m-14 0.1h1m13.8 0h1m-13.6 0.3h1m4.3 0.1h1m2.5 0.6h1m-34.8 0.5h1m34.3 0h1m-12.3 0.2h1m-9.8 0.1h1m9.5 0h1m-19.5 0.1h1m15.6 0h1m-2.8 0.5h1m-4.3 0.3h1m10.6 0h1m-10.1 0.1h1m6.7 0h1m-7.6 0.2h1m0.5 0h1m11 0.1h1m-8.4 0.1h1m-14 0.1h1m15.8 0h1m-13.2 0.1h1m-5.2 0.1h1m16.7 0.1h1m-17.7 0.1h1m7 0h1m-11.7 0.1h1m1.6 0h1m-11.9 0.1h1m14.4 0h1m20.5 0h1m-23.2 0.1h1m-4.4 0.1h1m-0.7 0h1m16 0.1h1m-24.2 0.1h1m23.1 0h1m-32.5 0.1h1m14.2 0h1m10.2 0h1m-2.7 0.1h1m-0.6 0h1m-8.2 0.1h1m-0.5 0h1m11.5 0h1m-18.8 0.1h1m4 0h1m0.9 0h1m0 0h1m3 0h1m2.3 0h1m2 0h1m-19.3 0.1h1m8.4 0h1m4.1 0h1m2.1 0h1m4.5 0h1m-12.9 0.1h1m-9.3 0.1h1m12.1 0h1m-17.1 0.1h1m6.1 0h1m10.2 0h1m-20.9 0.1h1m-0.1 0h1m11.7 0h1m-0.9 0h1m-0.3 0h1m-5 0.1h1m-0.5 0h1m0.6 0h1m1.7 0.1h1m5.7 0h1m-15.7 0.1h1m0 0h1m5.1 0h1m2.5 0h1m-15.6 0.1h1m-0.7 0h1m2.1 0h1m0.4 0h1m3.7 0h1m-6 0.2h1m0.6 0h1m7.7 0h1m-14 0.1h1m0.6 0h1m7.9 0h1m4.1 0h1m-34.4 0.1h1m3.7 0h1m8.6 0h1m11 0h1m3.3 0h1m3.2 0h1m-31.8 0.1h1m13.6 0h1m2 0h1m8.1 0h1m-16.2 0.1h1m2.6 0h1m5.9 0h1m-0.4 0h1m14.8 0h1m-33 0.1h1m4.5 0h1m6.1 0h1m4.7 0h1m1.9 0h1m-10.5 0.1h1m0.2 0h1m-10.5 0.1h1m1.9 0h1m6.8 0h1m-0.8 0h1m1.1 0h1m2.4 0h1m-0.6 0h1m0.1 0.1h1m-20.3 0.1h1m1.5 0h1m4.7 0h1m1.5 0h1m3.1 0h1m5 0h1m-27.3 0.1h1m14.3 0h1m6.2 0h1m-19.5 0.1h1m4.2 0h1m1.8 0.1h1m1.5 0h1m0.1 0h1m-18.3 0.1h1m12.2 0h1m-1.9 0.1h1m2.3 0h1m0.5 0h1m0.4 0h1m1.2 0h1m1.7 0h1m1.1 0h1m7.1 0h1m-21.9 0.1h1m-0.7 0h1m6.6 0h1m-5.9 0.1h1m-0.8 0h1m13.8 0h1m-17.7 0.1h1m0.5 0h1m11.9 0h1m-19.6 0.1h1m10.2 0h1m2.9 0h1m-20.7 0.1h1m0.4 0h1m3.4 0h1m0.3 0h1m5.5 0h1m-0.6 0h1m2.4 0h1m10.4 0h1m1.7 0h1m-28.5 0.1h1m-0.9 0h1m6.6 0h1m1.9 0h1m1.7 0h1m1.5 0h1m-18.4 0.1h1m3.3 0h1m6.9 0h1m4.6 0h1m3.6 0h1m1.7 0h1m-25.4 0.1h1m5.6 0h1m12.4 0h1m6 0h1m-29.1 0.1h1m-0.2 0h1m-0.1 0h1m-0.5 0h1m4.8 0h1m2.1 0h1m-16.5 0.1h1m1.9 0h1m0.6 0h1m2.5 0h1m4.9 0h1m1.8 0h1m-0.4 0h1m4.5 0h1m0.1 0h1m0.6 0h1m1.5 0h1m-16.3 0.1h1m2.4 0h1m4.3 0h1m-0.9 0h1m-19.2 0.1h1m16 0h1m-1 0h1m2.9 0h1m-11.4 0.1h1m4.9 0h1m0.3 0h1m-0.8 0h1m-22.2 0.1h1m8.9 0h1m3.1 0h1m-1 0h1m10.7 0h1m5.1 0h1m-22.2 0.1h1m4.6 0h1m1.7 0h1m1.7 0h1m3.2 0h1m2.9 0h1m-0.9 0h1m-28 0.1h1m1.3 0h1m2.2 0h1m6.3 0h1m1.2 0h1m-0.7 0h1m7.1 0h1m-24.4 0.1h1m5.8 0h1m2.8 0h1m2.9 0h1m1.1 0h1m-0.9 0h1m-0.1 0h1m-14.9 0.1h1m8.7 0h1m0.5 0h1m-13.9 0.1h1m-0.2 0h1m1.1 0h1m-0.1 0h1m3.8 0h1m-0.1 0h1m-0.3 0h1m17.5 0h1m-23.2 0.1h1m0.4 0h1m0.9 0h1m0.7 0h1m2.5 0h1m-22.6 0.1h1m4.5 0h1m5 0h1m-0.7 0h1m2.1 0h1m-0.5 0h1m0.5 0h1m-0.5 0h1m-0.9 0h1m-0.2 0h1m0.5 0h1m0.4 0h1m-0.8 0h1m0.2 0h1m-0.4 0h1m3.2 0h1m6 0h1m-22.7 0.1h1m-0.8 0h1m3.4 0h1m2.2 0h1m5.2 0h1m0.8 0h1m-21.7 0.1h1m8.9 0h1m0.8 0h1m-0.9 0h1m0.3 0h1m2.9 0h1m8.2 0h1m-22.7 0.1h1m-0.7 0h1m0.3 0h1m-0.3 0h1m-0.8 0h1m-0.5 0h1m-0.5 0h1m-0.6 0h1m2.9 0h1m12.9 0h1m-24.6 0.1h1m3 0h1m4.8 0h1m-12 0.1h1m3.5 0h1m2.4 0h1m-0.4 0h1m0 0h1m-0.7 0h1m0.8 0h1m4.1 0h1m0.2 0h1m-0.5 0h1m-0.9 0h1m-21.2 0.1h1m2.5 0h1m-0.7 0h1m0 0h1m2.1 0h1m-0.7 0h1m-0.2 0h1m0.8 0h1m0.3 0h1m3.1 0h1m3 0h1m1.1 0h1m-26.3 0.1h1m1.6 0h1m3.3 0h1m3.7 0h1m0.5 0h1m0 0h1m4.7 0h1m3.8 0h1m1 0h1m-0.8 0h1m-24 0.1h1m8 0h1m0.7 0h1m1.3 0h1m0.7 0h1m4.1 0h1m0.4 0h1m-0.8 0h1m0.2 0h1m0 0h1m-0.9 0h1m-33.3 0.1h1m6.2 0h1m8.5 0h1m0.3 0h1m1.8 0h1m0.8 0h1m0.7 0h1m-18.9 0.1h1m0.4 0h1m-0.3 0h1m-0.4 0h1m-0.8 0h1m0.6 0h1m-0.6 0h1m1 0h1m1.6 0h1m-0.2 0h1m-0.6 0h1m1.8 0h1m-1 0h1m1.7 0h1m2.1 0h1m0.3 0h1m-31.5 0.1h1m6.9 0h1m2 0h1m0.5 0h1m-0.6 0h1m-0.3 0h1m3.7 0h1m-0.9 0h1m0.2 0h1m-0.8 0h1m1.9 0h1m-1 0h1m-1 0h1m1.3 0h1m0.2 0h1m-0.8 0h1m1.3 0h1m3.3 0h1m-31.1 0.1h1m10 0h1m-0.9 0h1m5.8 0h1m0.2 0h1m-0.7 0h1m0.1 0h1m0.2 0h1m-0.5 0h1m1.5 0h1m-0.7 0h1m5.3 0h1m-21.4 0.1h1m-0.5 0h1m-0.7 0h1m-0.9 0h1m2.2 0h1m1 0h1m2.9 0h1m1.9 0h1m0.4 0h1m-13.8 0.1h1m0 0h1m2.5 0h1m0.2 0h1m0.3 0h1m11.6 0h1m-29.5 0.1h1m2.1 0h1m6.7 0h1m2.9 0h1m1.8 0h1m0.2 0h1m-0.1 0h1m-0.4 0h1m-0.7 0h1m-23 0.1h1m4.6 0h1m4.4 0h1m1.6 0h1m2.2 0h1m2.4 0h1m-0.8 0h1m2.1 0h1m4 0h1m2 0h1m-33.1 0.1h1m5.4 0h1m-0.9 0h1m4.2 0h1m0.2 0h1m-0.2 0h1m-1 0h1m2.2 0h1m-0.4 0h1m-0.7 0h1m-0.1 0h1m1.7 0h1m2.3 0h1m1.8 0h1m-21.8 0.1h1m5.6 0h1m2 0h1m-0.4 0h1m1.2 0h1m6.4 0h1m8.2 0h1m-40.8 0.1h1m6.4 0h1m5.9 0h1m-0.9 0h1m-0.2 0h1m1.9 0h1m-0.5 0h1m7.4 0h1m11.5 0h1m-33.3 0.1h1m5.1 0h1m-0.6 0h1m-0.8 0h1m-1 0h1m-0.6 0h1m-0.2 0h1m-0.4 0h1m5 0h1m1.1 0h1m0.9 0h1m-0.8 0h1m-1 0h1m3.4 0h1m-17.4 0.1h1m2.6 0h1m0 0h1m0.1 0h1m3.9 0h1m-0.8 0h1m-0.3 0h1m1.7 0h1m3.8 0h1m0.9 0h1m-22 0.1h1m1.9 0h1m-0.3 0h1m2.5 0h1m-0.1 0h1m1.4 0h1m2.2 0h1m6 0h1m-23.7 0.1h1m3.5 0h1m0.9 0h1m-0.1 0h1m-0.3 0h1m-0.7 0h1m0 0h1m6.3 0h1m3.2 0h1m-28.2 0.1h1m10.1 0h1m0.1 0h1m0 0h1m2.4 0h1m2.8 0h1m1.3 0h1m3.9 0h1m-26 0.1h1m-0.7 0h1m4.2 0h1m0.5 0h1m1.1 0h1m0.7 0h1m6.9 0h1m10 0h1m-29.2 0.1h1m5 0h1m-0.9 0h1m2.4 0h1m-0.5 0h1m-0.2 0h1m0.1 0h1m-0.6 0h1m-0.8 0h1m1.6 0h1m-0.9 0h1m2.8 0h1m2.7 0h1m0.6 0h1m-0.3 0h1m1.4 0h1m-23.4 0.1h1m1.2 0h1m-0.1 0h1m2 0h1m-0.6 0h1m-0.6 0h1m-0.5 0h1m-0.4 0h1m5.3 0h1m3.7 0h1m1.1 0h1m-29.5 0.1h1m2 0h1m2.5 0h1m8.4 0h1m0.6 0h1m1.4 0h1m-0.3 0h1m4.6 0h1m7.2 0h1m-37.9 0.1h1m-0.5 0h1m2.6 0h1m1 0h1m2.5 0h1m1 0h1m0.3 0h1m3 0h1m1.2 0h1m5.4 0h1m0.2 0h1m-27 0.1h1m5.2 0h1m1.2 0h1m1.5 0h1m10.3 0h1m1.4 0h1m-0.7 0h1m3.9 0h1m-23.7 0.1h1m7.3 0h1m1.3 0h1m2.8 0h1m-0.7 0h1m0 0h1m1.1 0h1m1.2 0h1m-24.6 0.1h1m2.3 0h1m0.4 0h1m-0.9 0h1m1.4 0h1m-0.9 0h1m-0.7 0h1m-0.7 0h1m4.5 0h1m-0.3 0h1m-1 0h1m0.5 0h1m0.5 0h1m1.7 0h1m-12.3 0.1h1m6.7 0h1m-0.8 0h1m0 0h1m-12 0.1h1m-0.8 0h1m4.9 0h1m5.5 0h1m-0.5 0h1m-17.5 0.1h1m-0.5 0h1m1.1 0h1m2.1 0h1m1.2 0h1m4.1 0h1m-0.7 0h1m1.9 0h1m6.2 0h1m-29 0.1h1m1.1 0h1m0.3 0h1m1.1 0h1m3.1 0h1m5.8 0h1m1.3 0h1m6.5 0h1m-23.4 0.1h1m-0.8 0h1m4.4 0h1m3.5 0h1m1.1 0h1m1.3 0h1m1.7 0h1m0.5 0h1m6 0h1m-21.8 0.1h1m1.9 0h1m1.1 0h1m6 0h1m0 0h1m-13.9 0.1h1m1 0h1m4 0h1m2.7 0h1m-0.5 0h1m2.8 0h1m0.7 0h1m-0.7 0h1m-0.5 0h1m0.9 0h1m-22.2 0.1h1m3.3 0h1m1.9 0h1m7.5 0h1m5.4 0h1m-28 0.1h1m6.5 0h1m0.3 0h1m-0.7 0h1m1.1 0h1m-0.4 0h1m8.8 0h1m0.1 0h1m-0.2 0h1m-21.8 0.1h1m-0.6 0h1m-0.5 0h1m1.4 0h1m-0.5 0h1m0.1 0h1m1.3 0h1m4.3 0h1m-0.4 0h1m-0.8 0h1m2.1 0h1m-35 0.1h1m12.7 0h1m0.6 0h1m-0.7 0h1m2.2 0h1m2.5 0h1m-0.6 0h1m4.6 0h1m0.5 0h1m1.4 0h1m0.9 0h1m-0.9 0h1m0.7 0h1m6.6 0h1m0 0h1m3.1 0h1m-27.5 0.1h1m5 0h1m-0.4 0h1m0.4 0h1m0.6 0h1m1.7 0h1m-0.5 0h1m-21.2 0.1h1m7.3 0h1m1.6 0h1m-0.4 0h1m-0.8 0h1m0.6 0h1m-0.5 0h1m-0.9 0h1m-0.3 0h1m0.5 0h1m0.6 0h1m1 0h1m4.7 0h1m-30.9 0.1h1m5.1 0h1m0.9 0h1m-0.6 0h1m3.2 0h1m4 0h1m-0.1 0h1m-0.9 0h1m0.9 0h1m0.8 0h1m-1 0h1m1.1 0h1m2.9 0h1m-19.4 0.1h1m0.9 0h1m0.6 0h1m-0.5 0h1m-0.6 0h1m-0.6 0h1m-0.5 0h1m0.6 0h1m1 0h1m-0.7 0h1m5.9 0h1m1.2 0h1m-22.7 0.1h1m2.3 0h1m0.1 0h1m-0.6 0h1m10 0h1m-0.6 0h1m-0.5 0h1m6.3 0h1m-31.2 0.1h1m5.8 0h1m3.6 0h1m4.7 0h1m-0.1 0h1m-0.1 0h1m0.7 0h1m0.4 0h1m-0.6 0h1m1.3 0h1m0.5 0h1m2.6 0h1m-29.6 0.1h1m0 0h1m1.2 0h1m1.1 0h1m-0.2 0h1m3.7 0h1m3.6 0h1m-0.7 0h1m-0.6 0h1m1.3 0h1m-0.5 0h1m-0.7 0h1m3.1 0h1m1 0h1m9.1 0h1m-33.6 0.1h1m4.4 0h1m-0.7 0h1m2.1 0h1m-0.6 0h1m2.1 0h1m0.2 0h1m3 0h1m-0.5 0h1m-26 0.1h1m1.3 0h1m9.8 0h1m0.8 0h1m1.7 0h1m0.4 0h1m1.8 0h1m-0.8 0h1m0.6 0h1m2.2 0h1m-15 0.1h1m3.5 0h1m-0.6 0h1m0.2 0h1m2.2 0h1m-9 0.1h1m-0.4 0h1m10 0h1m-0.2 0h1m0.2 0h1m-28.7 0.1h1m1.6 0h1m12.6 0h1m-1 0h1m4.6 0h1m1 0h1m3.9 0h1m4 0h1m-20.5 0.1h1m-1 0h1m3.4 0h1m0.5 0h1m1.8 0h1m1.9 0h1m8.1 0h1m-38.2 0.1h1m9.8 0h1m1.6 0h1m12.4 0h1m3.6 0h1m0.7 0h1m-23.9 0.1h1m-0.3 0h1m10 0h1m-0.8 0h1m-0.4 0h1m2.2 0h1m-0.1 0h1m3.6 0h1m1.3 0h1m1.3 0h1m-31 0.1h1m-0.7 0h1m2.6 0h1m1.6 0h1m6.7 0h1m4.5 0h1m3.1 0h1m-21 0.1h1m6.6 0h1m1.1 0h1m0.3 0h1m6.9 0h1m0 0h1m2.3 0h1m-19.3 0.1h1m0.7 0h1m-0.5 0h1m-0.5 0h1m0.5 0h1m5.7 0h1m-0.8 0h1m5.8 0h1m0.4 0h1m-33.6 0.1h1m12.3 0h1m4.2 0h1m0.9 0h1m2.7 0h1m5.7 0h1m-29.8 0.1h1m15 0h1m3.6 0h1m2.6 0h1m0.2 0h1m-0.8 0h1m0.2 0h1m-14 0.1h1m-0.4 0h1m-0.1 0h1m7.9 0h1m0.8 0h1m6.5 0h1m-19.1 0.1h1m1.2 0h1m1.2 0h1m-0.6 0h1m-1 0h1m-6.8 0.1h1m4 0h1m2.1 0h1m-16.6 0.1h1m8 0h1m1.4 0h1m1.4 0h1m2.3 0h1m-10.3 0.1h1m3.2 0h1m3.5 0h1m-29.2 0.1h1m13.7 0h1m-0.1 0h1m1.3 0h1m0 0h1m2.9 0h1m2.3 0h1m10.6 0h1m-27.4 0.1h1m11.7 0h1m6.6 0h1m-20.1 0.1h1m4.3 0h1m4.1 0h1m-8.1 0.1h1m5.2 0h1m0.5 0h1m4.2 0h1m3.5 0h1m6 0h1m-36.7 0.1h1m6.8 0h1m8.2 0h1m0.1 0h1m2.6 0h1m3.5 0h1m3.5 0h1m-28.6 0.1h1m5.5 0h1m4.4 0h1m-0.7 0h1m-0.7 0h1m1.2 0h1m1.7 0h1m0.6 0h1m8.9 0h1m-20.4 0.1h1m0.7 0h1m6.8 0h1m-0.2 0h1m0.4 0h1m-0.8 0h1m-15.9 0.1h1m1.2 0h1m0.8 0h1m2.5 0h1m0.4 0h1m-0.3 0h1m-0.4 0h1m5.2 0h1m-9.8 0.1h1m3.3 0h1m0.9 0h1m-11.1 0.1h1m7.4 0h1m-2.1 0.1h1m-0.4 0h1m-7.8 0.1h1m3.5 0h1m0.1 0h1m0.4 0h1m-1.7 0.1h1m-7.1 0.1h1m4.6 0h1m1.6 0h1m-0.9 0h1m-28 0.1h1m14.8 0h1m3.5 0h1m3.6 0h1m8.6 0h1m-22.9 0.1h1m2.4 0h1m0.6 0h1m8.5 0h1m1.8 0h1m6.1 0h1m-19.3 0.1h1m1.5 0h1m4.1 0h1m-13.6 0.1h1m11.2 0h1m0.3 0h1m-4.9 0.1h1m-0.5 0h1m-7.4 0.1h1m0.5 0h1m6.6 0.1h1m2.7 0h1m-22.6 0.1h1m3.1 0h1m3 0h1m4.5 0h1m6.9 0h1m-0.3 0h1m0.6 0h1m-32.6 0.1h1m17.1 0h1m14.1 0h1m-25.6 0.1h1m9 0h1m5.3 0h1m-0.1 0h1m0.2 0h1m11.5 0h1m-28.1 0.1h1m3.9 0h1m4.1 0h1m0.5 0h1m-1.2 0.1h1m6.1 0h1m-15.8 0.1h1m1.5 0h1m2 0h1m8.2 0h1m3.5 0h1m-17.4 0.1h1m-6.9 0.1h1m5.1 0h1m5.2 0h1m-12.3 0.1h1m0.7 0h1m5.4 0h1m-10.3 0.2h1m5.6 0h1m-21.3 0.1h1m25.7 0h1m4.2 0h1m-15.3 0.1h1m-0.4 0h1m12.2 0h1m-11.2 0.1h1m2.2 0.1h1m-0.3 0h1m4.8 0h1m1.1 0h1m-18.8 0.1h1m4 0h1m8.7 0h1m-8.2 0.1h1m12.3 0h1m-30.5 0.2h1m9.8 0h1m3.1 0h1m5.5 0h1m1.8 0h1m-12.2 0.3h1m-9.5 0.1h1m-2.6 0.1h1m12.9 0h1m0.4 0.2h1m3.6 0.1h1m-3.9 0.4h1m-3.6 0.2h1m2.6 0.2h1m-7.4 0.1h1m-5.5 0.2h1m10.5 0h1m-10.5 0.1h1m0.3 0h1m-18.3 0.1h1m16.2 0.2h1m14.7 0.3h1m-17.8 0.1h1m5.1 0.2h1m2.2 0.9h1m-2.3 1.3h1" stroke="#111" stroke-width="1" fill="none" opacity="1.0"/>
<path d="M68 580.9h1m0.5 3.6h1m0.9 0.3h1m-13.6 0.1h1m7.6 0.5h1m-10.2 0.6h1m9.1 0.1h1m-5.5 0.9h1m-9.3 0.2h1m2.9 0h1m-0.6 0.4h1m-9 0.1h1m14.8 0.4h1m-6.9 0.4h1m4.5 0.1h1m-2.5 0.1h1m-10.6 0.1h1m10.9 0.1h1m4.4 0h1m-16.7 0.1h1m4.2 0.1h1m-9.5 0.1h1m4.6 0h1m1.1 0h1m0.5 0.1h1m8.5 0h1m0.4 0h1m-18.4 0.1h1m3.3 0h1m-1.4 0.2h1m11.7 0h1m-6.4 0.1h1m1.8 0h1m-9.8 0.1h1m0 0.1h1m5.7 0.1h1m-24.6 0.1h1m8.9 0h1m-5.1 0.2h1m-2.6 0.1h1m1.7 0.2h1m-13.4 0.1h1m29.4 0h1m-17.4 0.1h1m3.8 0h1m-9.8 0.1h1m7.2 0.4h1m-3.9 0.1h1m5.3 0h1m0.2 0.1h1m0.9 0.1h1m-17 0.1h1m18.6 0h1m-0.3 0h1m-21.3 0.1h1m6.5 0h1m17.9 0h1m-14.4 0.1h1m9 0h1m-13.8 0.2h1m5 0h1m-0.9 0.1h1m-2.2 0.1h1m-4.1 0.1h1m2.2 0h1m2 0h1m-9.7 0.1h1m6 0h1m-13.8 0.2h1m15.5 0h1m-7.8 0.2h1m11.7 0.1h1m-19.1 0.1h1m-10 0.1h1m14.7 0h1m-0.8 0.1h1m-2.4 0.1h1m0.6 0.1h1m-9.7 0.1h1m15.5 0.2h1m-17.1 0.2h1m0.6 0h1m3.1 0h1m-0.3 0h1m-1.7 0.1h1m-6.4 0.3h1m14.5 0h1m-11.7 0.1h1m2.1 0h1m0.9 0h1m-14.4 0.2h1m20.8 0.1h1m-18.9 0.1h1m3.6 0h1m0.2 0h1m5.4 0h1m-0.7 0h1m-10.5 0.1h1m2.4 0h1m6.2 0h1m-9.1 0.1h1m-8 0.1h1m14.8 0h1m-13.8 0.1h1m4.5 0.2h1m-0.3 0h1m-13.3 0.1h1m2.7 0h1m-0.7 0h1m-0.6 0h1m7.4 0.1h1m6.6 0.1h1m-0.8 0.1h1m1.4 0h1m-15.6 0.1h1m1.5 0h1m-6.9 0.1h1m1.8 0h1m4.3 0h1m7.2 0h1m-11.3 0.1h1m6.3 0h1m12.1 0h1m-18.1 0.1h1m0.9 0h1m-5.7 0.1h1m-21.2 0.1h1m14.6 0h1m2.5 0.1h1m1.3 0.1h1m0 0h1m-8.2 0.1h1m-0.4 0.1h1m-11.6 0.1h1m13.1 0.1h1m-0.9 0h1m1.2 0h1m4.2 0.2h1m-0.7 0h1m-14.7 0.1h1m4.9 0h1m12.4 0.1h1m1.3 0.1h1m-25.1 0.2h1m9.5 0h1m-10.8 0.3h1m-1.4 0.1h1m10.5 0h1m-0.8 0.1h1m-2 0.1h1m-12.6 0.3h1m2 0.2h1m12.7 0.1h1m-6.4 0.2h1m-4.1 0.2h1m8.5 0.1h1m-19.7 0.1h1m12.5 0.4h1m-15 0.4h1m13.1 0h1m-1.6 0.4h1m-11 0.1h1m6.2 0h1m5.4 0.1h1m-7 0.2h1m-7.4 0.2h1m3.5 0.5h1m13.2 0h1m-12.1 0.7h1m-14.6 1.8h1" stroke="#777" stroke-width="1" fill="none" opacity="1.0"/>
<path d="M76.2 588.2h1m-1.6 1.1h1m1.3 2.6h1m-2 0.6h1m-4.1 2h1m2.4 0.6h1m-2.2 0.2h1m-2.4 0.2h1m-0.1 0.3h1m0 2.7h1m-3.2 0.2h1m2.4 0.7h1m-2.4 0.3h1m-1.9 1.4h1m-1 0.5h1m-2.2 0.1h1m1.4 0.5h1m0.8 1.6h1m-4.7 0.9h1m-1 0.3h1m0.3 0.8h1m-0.7 0.5h1m1.6 0.2h1m-3.1 0.2h1m-4.4 9.6h1" stroke="#777" stroke-width="1" fill="none" opacity="1.0"/>
<path d="M66.9 619.3h1m-9 3.2h1m8.1 1.1h1m-4.8 1.5h1m-1.6 0.4h1m-9.2 0.4h1m9.7 0.3h1m-6.1 0.4h1m1.4 0h1m-0.8 0h1m-4.8 0.1h1m-3.5 0.7h1m4.1 0.1h1m-8.3 0.3h1m10.4 0.9h1m-12.2 0.1h1m2.6 0.1h1m5.7 0.1h1m2.6 0.3h1m-14.5 0.3h1m2.2 0.4h1m0.7 0.2h1m0.8 1.1h1m3.6 0h1m-6.4 0.1h1m-9 0.4h1m9.3 0h1m5.5 0.1h1m-3.4 0.4h1m-15 0.2h1m4.2 0h1m2.6 0.1h1m-10.5 0.1h1m6.8 0.1h1m1.3 0.4h1m-3.6 0.1h1m-3 0.4h1m5.8 0.7h1m-17.6 0.2h1m10.4 0.1h1m-10.1 0.2h1m-2.2 0.3h1m9.4 0.4h1m4.1 0.4h1m-14.5 0.2h1m5 0.3h1m7.2 1.2h1m1.4 0h1m-13.2 0.4h1m-6 0.9h1m6.6 0.6h1m6.5 0.3h1m6.2 0.1h1m-13.5 0.1h1m3.7 1.2h1m-18.2 0.7h1m19.7 0.7h1m-1.3 0.1h1m-13.3 0.7h1m7 0.4h1" stroke="#666" stroke-width="1" fill="none" opacity="1.0"/>
<path d="M55 616.3h1m-6.8 4.8h1m-0.7 1.9h1m3.3 2.8h1m-5.9 1.1h1m-5.3 0.7h1m4.3 0.3h1m9.6 0h1m-10.4 0.1h1m-2.5 0.3h1m-3.7 0.2h1m6.3 0.2h1m-2.4 0.2h1m4.4 0h1m3.3 0.1h1m-15.8 0.3h1m-3.3 1.2h1m15.8 0.2h1m-16.3 0.1h1m4.7 0h1m4.8 0.3h1m7.4 0h1m-12.7 0.1h1m0.8 0.1h1m-1.3 0.3h1m-14.7 0.1h1m11.3 0.3h1m-2.7 0.1h1m2.2 0h1m-13 0.1h1m-2.6 0.1h1m-7.1 0.1h1m14.5 0h1m5.6 0.2h1m-11.1 0.4h1m-5.5 0.4h1m12.6 0.1h1m5 0h1m-15.6 0.1h1m-0.5 0.2h1m10.9 0h1m-5.9 0.1h1m-14 0.3h1m-0.1 0h1m7.2 0.1h1m-7.6 0.1h1m16.6 0h1m-9.5 0.2h1m7.7 0h1m-23.2 0.1h1m2.1 0h1m12 0h1m-14.1 0.1h1m13.2 0h1m-11.5 0.2h1m8.9 0h1m-7.3 0.1h1m-0.8 0h1m-7 0.2h1m-2.6 0.1h1m9.2 0h1m-0.8 0h1m-5 0.2h1m9.5 0.1h1m-0.4 0h1m-10.8 0.1h1m11.2 0h1m-12.1 0.1h1m-15.4 0.1h1m7.8 0h1m12.8 0.2h1m5.9 0h1m-31.7 0.1h1m5.3 0h1m5.1 0h1m-0.7 0h1m-3.3 0.1h1m1.1 0h1m5 0h1m-2.9 0.1h1m-19.5 0.1h1m1.9 0h1m9 0h1m-1 0h1m1.2 0h1m4 0.1h1m-10 0.1h1m5.7 0h1m4.6 0.1h1m0.2 0h1m0 0h1m-9.9 0.1h1m-0.3 0.1h1m-0.7 0h1m9.9 0h1m-12 0.1h1m3.6 0h1m2.6 0h1m5.2 0h1m-4.2 0.1h1m-13.5 0.2h1m8.4 0h1m-0.1 0.1h1m-9.8 0.1h1m1.1 0h1m-4.9 0.1h1m-11.1 0.1h1m2.4 0h1m5.1 0h1m1.2 0h1m5.9 0h1m-13.4 0.1h1m0.5 0h1m11.7 0h1m8.7 0h1m-22.3 0.1h1m1.1 0h1m2.8 0h1m-6.7 0.2h1m-7.5 0.1h1m1.5 0h1m1.8 0h1m5 0h1m0.2 0h1m-12.4 0.1h1m2.9 0h1m1.8 0.2h1m-17.4 0.1h1m12.7 0h1m4.3 0.1h1m-2.1 0.1h1m-3.6 0.1h1m5.9 0h1m4.7 0.1h1m2.4 0h1m-18.6 0.1h1m2.4 0h1m-5.8 0.1h1m-2.5 0.1h1m-0.2 0h1m-0.2 0h1m7.8 0.1h1m8.8 0h1m-23.9 0.1h1m0.8 0h1m19.5 0h1m-13.8 0.1h1m-7.9 0.1h1m2.4 0h1m2.9 0.1h1m-0.4 0h1m1.9 0h1m-4.4 0.1h1m3.6 0h1m-8.2 0.1h1m3 0h1m13.4 0h1m-20.3 0.2h1m-8 0.1h1m5.8 0.1h1m0 0h1m5.2 0h1m-9.6 0.1h1m-0.3 0h1m0.8 0h1m3.6 0h1m0 0h1m0.2 0h1m-15.9 0.1h1m10.1 0h1m-18.1 0.1h1m5.2 0.1h1m10.8 0h1m6.4 0.1h1m-24.4 0.1h1m2.6 0.1h1m5.6 0.1h1m2.6 0h1m-0.3 0h1m-8.8 0.1h1m-0.7 0h1m9.5 0h1m6.1 0h1m-12.3 0.1h1m0.8 0h1m-1 0h1m2.4 0h1m7.1 0h1m10.2 0h1m-30.2 0.1h1m7.4 0h1m-0.1 0h1m-10.4 0.1h1m-0.1 0h1m4 0h1m0.9 0h1m-10.4 0.1h1m12 0h1m5.9 0h1m-27.9 0.1h1m8.3 0h1m7.7 0h1m-6.4 0.1h1m-0.2 0h1m3.7 0h1m-19.5 0.1h1m9.8 0h1m2.7 0h1m4.8 0h1m4.7 0h1m-13.7 0.2h1m-9.2 0.1h1m5.6 0h1m1.3 0h1m5 0.1h1m2.6 0h1m1.1 0h1m-0.7 0h1m-12.9 0.1h1m-10.9 0.1h1m0 0h1m13.8 0h1m-0.4 0h1m4.5 0h1m-18.8 0.1h1m11.1 0h1m1 0h1m-0.5 0h1m-17 0.1h1m5.3 0h1m0 0h1m4.6 0h1m-18.5 0.1h1m2.5 0h1m-0.8 0h1m1.1 0h1m5.1 0h1m8.6 0h1m8.3 0h1m-22.3 0.1h1m16.9 0.1h1m-18.5 0.1h1m0.7 0h1m4 0h1m4.9 0h1m-23.6 0.1h1m9.3 0h1m-12.1 0.1h1m19.3 0h1m1.7 0h1m-17.1 0.2h1m0.3 0h1m3.2 0h1m5.7 0h1m-22.1 0.1h1m12 0h1m-0.7 0h1m-8.5 0.1h1m-2.6 0.1h1m25.5 0h1m-32.3 0.1h1m14.2 0h1m3.7 0h1m0.1 0h1m-0.5 0h1m0.7 0h1m9.5 0h1m-24.9 0.1h1m4.5 0h1m7 0h1m-17.5 0.1h1m10 0h1m9.1 0h1m-8.3 0.1h1m2 0h1m-10 0.1h1m2.4 0h1m0.9 0h1m2.7 0h1m-11.4 0.1h1m-6.6 0.1h1m5.7 0h1m13.7 0h1m-9 0.1h1m1.1 0h1m-16.2 0.1h1m5.6 0h1m3 0h1m-19 0.1h1m5.3 0h1m9.7 0h1m3.1 0h1m0 0h1m-13.6 0.1h1m15.6 0h1m-0.8 0h1m-21.5 0.1h1m6.2 0h1m0.2 0h1m0.8 0h1m-3.6 0.1h1m-2.2 0.1h1m-0.7 0h1m13.9 0h1m-10.8 0.1h1m0.8 0.1h1m-9 0.1h1m2.1 0h1m-7.4 0.1h1m6.2 0h1m0.7 0h1m-0.3 0h1m-9.4 0.1h1m2.3 0h1m5.9 0h1m3.3 0h1m-22.8 0.1h1m5.7 0h1m-0.1 0h1m0.7 0h1m-12.8 0.1h1m1.6 0h1m2.8 0h1m8 0h1m0.7 0h1m1.7 0h1m0.2 0h1m-10.2 0.1h1m2.9 0h1m10.4 0h1m-21.6 0.2h1m11.6 0h1m-4.2 0.1h1m0.2 0h1m4.6 0h1m-13.1 0.1h1m1.9 0h1m1.8 0h1m3.9 0h1m5 0h1m-22.2 0.2h1m4.7 0h1m1.3 0h1m4.9 0h1m-3.9 0.2h1m1.7 0h1m3.1 0.1h1m-15.1 0.1h1m15.3 0h1m-23.8 0.1h1m7.4 0h1m0 0h1m9.6 0h1m-22 0.1h1m14.4 0h1m4.7 0h1m-18.8 0.1h1m-0.2 0h1m5.2 0h1m7.5 0h1m-22.6 0.1h1m6.3 0h1m1.5 0h1m1.1 0h1m-11.1 0.1h1m20.8 0.1h1m-17.9 0.1h1m16.2 0h1m-1.2 0.1h1m3.3 0.1h1m-15.5 0.1h1m3.5 0h1m-7.3 0.1h1m2.6 0h1m10.8 0h1m-20.9 0.1h1m0.4 0h1m6.4 0h1m-2.5 0.1h1m2.3 0h1m3.2 0h1m-3.9 0.1h1m-16.3 0.1h1m10.7 0h1m2.2 0h1m-5.9 0.1h1m3.5 0h1m-14.7 0.1h1m10.5 0h1m24.7 0.2h1m-22.3 0.1h1m3.8 0h1m-15 0.1h1m0.3 0h1m14.6 0h1m-21.3 0.1h1m7.7 0h1m-14.1 0.1h1m15.1 0h1m0 0h1m-13.5 0.1h1m13.3 0h1m-13.1 0.1h1m0.4 0h1m3.7 0h1m11.1 0h1m-8.3 0.1h1m1.5 0h1m-1.3 0.1h1m-8.7 0.1h1m-0.7 0h1m-0.8 0.1h1m-6 0.1h1m9.7 0h1m-6 0.1h1m0.9 0h1m-7.3 0.2h1m8.4 0h1m0.6 0h1m0.7 0h1m-20.7 0.1h1m13.6 0.1h1m-7.8 0.3h1m-1.8 0.2h1m8.7 0h1m-5.1 0.2h1m-20 0.1h1m16.3 0h1m-8.6 0.1h1m8.1 0h1m-3 0.1h1m1.9 0h1m-8.7 0.1h1m3.1 0h1m2.1 0h1m6.3 0h1m-30.1 0.1h1m19.1 0h1m-0.3 0h1m-14.3 0.3h1m7.6 0h1m16.1 0h1m-15.5 0.1h1m3.7 0.2h1m-16.9 0.1h1m5.9 0h1m16.6 0.1h1m-11.2 0.1h1m2.8 0h1m-1.5 0.1h1m-10.2 0.1h1m11 0h1m-17.9 0.1h1m6.8 0h1m-12.4 0.2h1m3.7 0.1h1m-2.8 0.5h1m2.5 0h1m7.4 0h1m1.4 0.2h1m-3.3 0.1h1m7.6 0h1m-8.2 0.3h1m-1.4 0.1h1m-7 0.2h1m7.6 0.1h1m1 0.1h1m-14.5 0.2h1m3.9 0h1m-5 0.1h1m13.7 0h1m-16.4 0.3h1m-0.6 0h1m16.3 0.1h1m3.1 0.1h1m-21.2 0.1h1m1.3 0h1m10 0h1m-0.1 0h1m-12.4 0.1h1m-8.2 0.3h1m-5 0.3h1m15.9 0h1m-7.2 0.6h1m-10.4 0.1h1m-4.8 0.1h1m14.8 0h1m-2.6 0.8h1m-4.7 0.1h1m1 0.3h1m8.8 0h1m-10.6 0.1h1m18.4 0.1h1m-17.4 0.1h1m2.6 0.1h1m-4.6 0.2h1m-7.5 3.2h1" stroke="#555" stroke-width="1" fill="none" opacity="1.0"/>
<path d="M106.5 617.8h1m-0.2 1.8h1m-4.6 0.2h1m0.3 0.1h1m-0.9 0.6h1m-1 0.3h1m1.1 0.4h1m-3.4 0.8h1m-4.5 1.9h1m3 0.1h1m-1.7 0.1h1m2.8 0.6h1m-3.5 0.1h1m1.4 0.1h1m0.5 0.7h1m-4.7 0.1h1m2 0.1h1m1.4 0.6h1m-4.8 0.2h1m-3.8 0.2h1m-0.9 0.1h1m-2.6 0.2h1m5.2 0.1h1m-5 0.4h1m-1.7 0.1h1m0.4 0.1h1m0.8 0h1m-3.1 0.3h1m-0.8 0.1h1m1.9 0h1m-0.5 0h1m-8.6 0.5h1m4.8 0.3h1m1.7 0.1h1m-7.7 0.6h1m3 0.4h1m-3.2 0.1h1m-1.1 0.1h1m0.1 0.2h1m-4 0.3h1m4.9 0.4h1m-5.2 0.2h1m1.3 0h1m-1.8 0.2h1m-2.9 0.8h1m0 0h1m1.4 0h1m-5 0.1h1m2.7 0.2h1m-4.7 0.1h1m-3.1 0.1h1m3.3 0h1m2.2 0h1m0.1 0.1h1m-6.4 0.1h1m-0.9 0.2h1m-0.6 0.3h1m-4.5 0.1h1m2.8 0h1m0 0.1h1m-5.3 0.3h1m-0.6 0h1m2.5 0.1h1m-2.1 0.1h1m-0.7 0h1m-3.5 0.4h1m-1 0.1h1m0.6 0.2h1m-1 0.1h1m0.1 0h1m-5.6 0.7h1m3.4 0.2h1m3.3 0h1m-4.8 0.1h1m-1.5 0.5h1m0 0.1h1m-0.3 0h1m-3.4 0.2h1m-0.6 0h1m0.4 0h1m-9.3 0.1h1m3.7 0h1m4 0h1m0.3 0.1h1m-6.1 0.1h1m0.7 0h1m-6.7 0.2h1m1.9 0h1m1.1 0.3h1m-1.4 0.1h1m0.9 0h1m-2.3 0.1h1m4.4 0.1h1m-6.1 0.1h1m0.8 0.2h1m-1.5 0.1h1m-7.3 0.1h1m2.6 0h1m2.9 0h1m-4.1 0.1h1m-2.9 0.2h1m2.9 0h1m-1 0.1h1m-5.3 0.1h1m0.3 0.1h1m-0.5 0h1m2.1 0h1m0.1 0.2h1m-0.3 0h1m-7.4 0.1h1m2 0.1h1m-3.1 0.2h1m-6.3 0.1h1m7.2 0h1m-1.3 0.1h1m-1.4 0.1h1m-0.8 0h1m-1.1 0.2h1m0.8 0h1m-3.1 0.1h1m-4.6 0.1h1m-1.8 0.1h1m5.8 0h1m-4.8 0.1h1m-1 0h1m-1.2 0.1h1m-0.6 0h1m-0.7 0.2h1m-0.9 0h1m2 0.2h1m1.4 0.1h1m-8.7 0.1h1m0.2 0.2h1m0.7 0.1h1m3.7 0.4h1m-4.8 0.1h1m-3.9 0.3h1m1.8 0h1m-1 0h1m-0.1 0.3h1m-0.6 0h1m-3 0.1h1m-5.1 0.1h1m0.7 0.1h1m-3.3 0.1h1m3.5 0.1h1m3.1 0.1h1m-7.9 0.2h1m-1.5 0.2h1m2.5 0.1h1m-4.7 0.2h1m-0.6 0h1m4.1 0.1h1m-7.5 0.2h1m4.6 0.1h1m-10.3 0.1h1m4.3 0.1h1m0.9 0h1m-3 0.3h1m6.3 0h1m-5.2 0.1h1m-3.2 0.2h1m3.7 0.1h1m-4.8 0.2h1m-2.7 0.2h1m2.8 0.6h1m-1.5 0.4h1m0.7 0.3h1m-4 0.2h1m-6.4 0.1h1m5 0h1m-1.9 0.3h1m-2.7 0.1h1m0.6 0h1m0.6 0h1m2.9 0.8h1m-2.4 0.4h1m-2.2 0.2h1m3.3 0.1h1m-11.1 0.2h1m5.8 0h1m-2.4 0.2h1m0.7 0h1m-4.5 0.2h1m4.2 0h1m0.3 0.1h1m-6.3 0.2h1m-2.1 0.1h1m-7.5 0.3h1m7.2 0h1m-5.1 0.1h1m-3.6 0.8h1m3.3 0.9h1m4 0.5h1m-6.6 0.8h1m6.5 0h1m-11.9 1h1m4.8 0.3h1m-3.6 0.5h1m-6.2 2.6h1" stroke="#4a4a4a" stroke-width="1" fill="none" opacity="1.0"/>
<path d="M109.1 581.9h1m-47.8 2.9h1m11.4 1.7h1m-34.9 0.8h1m6.1 4.6h1m7.1 2.2h1m6 7h1m18.9 5.6h1m-20.6 0.7h1m14.9 0.1h1m-34.8 1.3h1m54.5 0.6h1m-63.8 1.4h1m12.1 1.5h1m12.5 0.1h1m-7.2 0.6h1m26.9 0.2h1m-21 1.6h1m26.9 0.9h1m-14.2 4.3h1m-3.1 0.8h1m11.5 0.1h1m22.7 2h1m-63.7 1h1m13.7 0.3h1m9.2 5h1m4.1 2.8h1m-38.4 1.3h1m26.4 2.2h1m-10.8 6.9h1m22.7 5.3h1m-1.5 1.3h1m-12.3 1.7h1m-24.9 0.6h1m49.9 2.2h1m0.5 3.5h1m-15.3 1.9h1m-4.2 3.4h1" stroke="#999" stroke-width="1" fill="none" opacity="1.0"/>
<path d="M51.9 754.5h1m-7.6 11.2h1m7.5 0.3h1m13.3 0.8h1m-23.9 0.3h1m22.9 0.6h1m-16.5 0.3h1m-1 0.9h1m-0.1 0.4h1m2 0.7h1m1.4 0.4h1m-17 0.3h1m22.1 0h1m-14.8 0.2h1m1.1 0.3h1m0 0h1m-7.8 0.2h1m0.4 0.6h1m-12 0.2h1m12.5 0.4h1m0.3 0.5h1m9 0h1m-10.8 0.1h1m1.5 0h1m-11.9 0.1h1m11.7 0.1h1m-9.9 0.7h1m3.7 0h1m3.6 0.1h1m4.1 0.1h1m-22.3 0.1h1m19.2 0h1m-13.4 0.4h1m8.2 0.2h1m-5.5 0.1h1m-8.6 0.1h1m-6.9 0.1h1m5.9 0h1m7.6 0h1m-4.7 0.3h1m0.5 0.1h1m-0.8 0h1m-7.2 0.3h1m-2.5 0.1h1m9.4 0.1h1m-7.7 0.8h1m-3.8 0.1h1m-3 0.2h1m5.9 0.3h1m3.4 0.4h1m2.9 0.1h1m-9 0.1h1m5.4 0.1h1m-9 0.1h1m4.4 0.6h1m-8.1 0.2h1m0 0h1m4.6 0h1m-7.3 0.1h1m1.4 0h1m-5.1 0.1h1m-1.2 0.2h1m10 0.1h1m-3.1 0.1h1m-10.1 0.1h1m-1.8 0.1h1m0.6 0h1m2 0.2h1m4.2 0.1h1m3.3 0h1m-21 0.1h1m12.2 0h1m-6.4 0.2h1m-0.3 0.2h1m8.9 0.4h1m-3.4 0.1h1m3 0h1m-12.8 0.3h1m2.3 0h1m-0.3 0h1m-5.1 0.4h1m6.5 0.1h1m3.7 0h1m-12.6 0.3h1m-8.2 0.3h1m18 0.1h1m1.3 0h1m-13.2 0.1h1m-0.8 0.1h1m-3.9 0.2h1m-0.5 0.1h1m10.5 0.1h1m-10.2 0.3h1m-3.6 0.6h1m3.2 0.3h1m-7.9 0.1h1m6.3 0.2h1m-3.1 0.3h1m3.5 0h1m-13.1 0.1h1m7.5 0.1h1m2.2 0h1m0.1 0h1m-3.7 0.1h1m-8.2 0.2h1m2.2 0h1m-3.5 0.1h1m6.3 0.4h1m-7.1 0.2h1m-1.7 0.1h1m8.5 0.2h1m-12 0.1h1m4.1 0.3h1m-7.8 0.1h1m-4.5 0.1h1m19.7 0.3h1m-10.8 0.2h1m-10.6 0.1h1m6.6 0.1h1m-3.5 0.1h1m7.8 0.6h1m-9.3 0.3h1m5.1 0.2h1m0.5 0h1m-10.7 0.5h1m7.8 0h1m-8.4 0.1h1m-6.2 0.3h1m11.4 0h1m-2.2 0.5h1m-10.5 0.5h1m0.5 0.1h1m1.9 0h1m0.9 0.1h1m-9 0.3h1m13 0h1m-10.2 0.3h1m-2.8 0.9h1m12.3 0.2h1m-3.3 0.3h1m-1.4 0.2h1m-0.5 0h1m4.2 0.4h1m-10.1 0.1h1m-4.1 0.7h1m10.9 0.4h1m-2.7 0.7h1m-3.3 3.3h1m-10.6 5.1h1m4.5 1.5h1" stroke="#666" stroke-width="1" fill="none" opacity="1.0"/>
<path d="M76.3 728.8h1m-5.3 2.6h1m7.1 0.3h1m-0.4 0.3h1m6.1 0.1h1m13.3 1h1m-20.6 0.4h1m-15.9 0.1h1m14.2 0.9h1m8 0.2h1m7.6 0.3h1m-29.5 0.4h1m7.7 0.1h1m10.7 0.1h1m-13.1 0.2h1m8.5 0.1h1m8.6 0h1m1.3 0.2h1m-15.7 0.3h1m-3.2 0.7h1m-17.7 0.5h1m8.7 0.1h1m2.5 0h1m8 0h1m-9.3 0.3h1m9.6 0.1h1m-16.8 0.3h1m3.8 0h1m-8.3 0.1h1m22 0h1m2.7 0.4h1m-15.1 0.1h1m-0.8 0h1m-0.2 0h1m-1.9 0.1h1m1.1 0h1m-9.5 0.1h1m-12.6 0.1h1m11.5 0.4h1m-8 0.1h1m21.2 0h1m5 0h1m-26.6 0.1h1m11.4 0h1m4.1 0.1h1m-7.2 0.2h1m0 0.1h1m0.9 0h1m1.3 0h1m-19 0.1h1m-9.7 0.1h1m19.8 0.1h1m0.9 0h1m7.2 0h1m-18.8 0.1h1m-1.9 0.1h1m17.2 0h1m-14.9 0.2h1m6.2 0h1m-11.3 0.1h1m13 0h1m1.3 0h1m-16.9 0.1h1m-7.5 0.1h1m13.6 0h1m-21.9 0.1h1m12.8 0h1m5.7 0.1h1m-14.9 0.1h1m17.5 0.1h1m-0.9 0h1m-7.8 0.1h1m19.4 0h1m-34.1 0.1h1m-0.8 0h1m19.5 0h1m-19.4 0.2h1m13.4 0h1m-9.1 0.1h1m0.9 0h1m3.1 0.1h1m5.3 0h1m-7.5 0.1h1m-8.6 0.1h1m15.1 0h1m6.9 0h1m-13.6 0.1h1m8.1 0h1m2.1 0h1m-32.8 0.2h1m18.5 0h1m-5.3 0.2h1m-8.4 0.1h1m22.1 0h1m-25.8 0.1h1m1 0h1m7.8 0h1m-7.4 0.1h1m-12.7 0.1h1m7.5 0h1m3 0h1m-5.7 0.1h1m-4.8 0.2h1m0.7 0.1h1m7.8 0h1m-6.8 0.1h1m12.7 0h1m-12 0.1h1m8.4 0h1m0.7 0h1m-22.8 0.1h1m4.6 0h1m6.9 0h1m19.5 0.1h1m-23.8 0.1h1m1.1 0h1m3.3 0h1m-19.4 0.1h1m8.1 0h1m-12.9 0.1h1m19 0.1h1m-16.5 0.1h1m1 0h1m7.5 0h1m6.5 0h1m0.3 0h1m-10.7 0.1h1m8.1 0.1h1m-11.5 0.1h1m0.2 0h1m-1.8 0.1h1m4.7 0h1m3 0h1m-0.5 0.2h1m-17.5 0.1h1m12.3 0h1m-8.1 0.1h1m11.5 0h1m-25 0.1h1m22 0h1m-5.4 0.1h1m0.7 0.1h1m-1.3 0.1h1m2.8 0.1h1m-2.4 0.1h1m-0.3 0.1h1m-26.1 0.1h1m10.4 0.1h1m12.8 0h1m-10.9 0.3h1m0 0h1m-20.6 0.1h1m29 0h1m-18.9 0.1h1m0.9 0h1m2.4 0.3h1m-0.4 0h1m12.7 0.1h1m-11.7 0.1h1m1.9 0h1m0.6 0h1m-15 0.1h1m23.2 0h1m-32.2 0.1h1m5.7 0h1m18.6 0.1h1m-18.7 0.1h1m1.8 0h1m-2.9 0.1h1m6.4 0h1m0 0h1m-0.6 0h1m-6.4 0.1h1m15.7 0h1m-28 0.1h1m15 0h1m0.2 0h1m-5.1 0.1h1m-18.2 0.1h1m-0.4 0h1m22.6 0.1h1m1.6 0h1m-30.6 0.2h1m16.8 0h1m3.9 0h1m-1 0h1m11.1 0.1h1m-25.3 0.1h1m14.2 0h1m-16.9 0.1h1m3.1 0h1m4.4 0h1m-16.1 0.1h1m5.7 0.1h1m30.1 0h1m-18 0.1h1m-10.5 0.3h1m0.3 0.1h1m6.7 0h1m3.5 0.1h1m4 0h1m-6.6 0.1h1m-7.5 0.1h1m1.3 0h1m12 0h1m-11.6 0.2h1m6 0h1m-23.9 0.1h1m12.7 0.2h1m-6.5 0.2h1m-4.9 0.1h1m22.2 0.1h1m-23.9 0.1h1m-12.2 0.1h1m-0.1 0h1m10.5 0.2h1m13.9 0h1m-18.2 0.2h1m13.8 0.1h1m-19.5 0.3h1m13.1 0h1m-4.4 0.3h1m1.5 0.1h1m0.8 0h1m-0.6 0.1h1m-1.2 0.1h1m-11.7 0.2h1m0.5 0h1m2.9 0h1m3.9 0h1m4.7 0h1m-1.4 0.2h1m-26.4 0.1h1m8.6 0.1h1m2.3 0.2h1m4.9 0.1h1m-4.1 0.8h1m2.6 0.1h1m9.8 0.2h1m-35.3 0.2h1m18.4 0h1m2.1 0.2h1m2.3 0.2h1m-0.1 0.2h1m-34.7 0.3h1m25 0.3h1m-0.8 0.4h1m-3.7 0.1h1m-7.7 0.1h1m2.7 0.2h1m4.7 0.3h1m-23.3 0.1h1m30.7 0.2h1m-12.8 0.2h1m-9.2 0.1h1m7 0.7h1m-14.1 1.5h1m6.5 0h1m2.6 1.1h1m8.2 3.4h1" stroke="#666" stroke-width="1" fill="none" opacity="1.0"/>
<path d="M106.7 725.9h1m-9.7 2.2h1m9.2 0.4h1m-11.6 0.5h1m5.4 0.4h1m-1.2 0.3h1m-1.3 0.4h1m0.1 0.5h1m-5 0.4h1m2.1 0.1h1m-0.9 0.3h1m-1.8 0.1h1m-1.7 0.4h1m5.4 0.1h1m-2.8 0.1h1m0.9 0h1m7.2 0h1m-9.1 0.1h1m-4.2 0.1h1m10.8 0.3h1m-22.3 0.1h1m3.6 0.1h1m4.9 0h1m-7.7 0.2h1m-1 0.1h1m0.9 0h1m5.1 0h1m3.9 0h1m-9.1 0.1h1m-0.8 0h1m10.1 0.1h1m-12.8 0.1h1m-4.2 0.1h1m0 0h1m-0.1 0h1m0.2 0h1m-2.5 0.1h1m-0.5 0h1m2.1 0h1m-3.9 0.1h1m0.4 0.1h1m-8.5 0.1h1m4 0h1m-6.6 0.1h1m1.7 0h1m7.2 0h1m-10.2 0.1h1m13.4 0h1m2.8 0h1m-13.4 0.1h1m1.2 0h1m0.4 0h1m-12.8 0.1h1m7.5 0.1h1m0.2 0h1m-8 0.1h1m2 0h1m-0.1 0h1m5.6 0.1h1m1 0.1h1m-11.7 0.1h1m-2.1 0.1h1m-0.7 0h1m0.5 0h1m-0.7 0h1m4.5 0h1m-7.5 0.1h1m1 0h1m1.9 0.1h1m1.1 0h1m0.1 0h1m-8.5 0.1h1m1.9 0h1m1.2 0h1m-3.1 0.1h1m5.7 0h1m-13.5 0.2h1m3.1 0.1h1m6.3 0h1m-11 0.1h1m8 0h1m-10.6 0.1h1m1.3 0h1m4.4 0h1m-0.2 0h1m-0.1 0h1m-0.8 0h1m1.9 0h1m-0.7 0h1m-10.9 0.1h1m0 0h1m-0.5 0h1m1.9 0h1m1 0h1m-9.7 0.1h1m2.2 0h1m3.3 0h1m6.5 0h1m-18.7 0.1h1m4.2 0h1m0.2 0h1m-0.3 0h1m-9 0.1h1m4 0h1m1.5 0h1m0 0h1m0.6 0h1m0 0h1m-0.9 0.1h1m1 0h1m-9.6 0.1h1m0.1 0h1m0 0h1m4.3 0h1m-11.2 0.1h1m3.3 0h1m5.5 0h1m2 0h1m1 0h1m-14.9 0.1h1m0.3 0h1m2.2 0h1m-7.1 0.1h1m4.9 0h1m0.1 0h1m2.7 0h1m-6.7 0.1h1m-0.3 0h1m-7.9 0.1h1m3.9 0h1m2.5 0h1m0.2 0h1m0.5 0h1m-0.5 0h1m-10.8 0.1h1m1.3 0h1m4.4 0h1m2.4 0h1m0.5 0h1m-11.5 0.1h1m1.9 0h1m0.7 0h1m-0.2 0h1m-7.4 0.1h1m2.8 0h1m4 0h1m1.4 0h1m-0.6 0h1m-13.7 0.1h1m3.8 0h1m0.5 0h1m-0.1 0h1m2.6 0h1m-13.6 0.1h1m0.9 0h1m5.1 0h1m4.7 0h1m-10.6 0.1h1m1.2 0h1m-0.9 0h1m1.6 0h1m-7.8 0.1h1m1.4 0h1m0 0h1m0.6 0h1m0.2 0h1m-6 0.1h1m4.6 0h1m-17.7 0.1h1m12.6 0h1m-0.1 0h1m0.2 0h1m-0.5 0h1m2.6 0h1m-1.8 0.1h1m3.3 0h1m-10.8 0.1h1m6.3 0h1m-13.9 0.1h1m3 0h1m-1 0h1m-0.3 0h1m0.4 0h1m1.7 0h1m-0.6 0h1m2 0h1m-6.5 0.1h1m-0.4 0h1m-0.6 0h1m-7.8 0.1h1m1.8 0h1m-1 0h1m2.4 0h1m-0.1 0h1m1.2 0h1m-5.4 0.1h1m-2 0.1h1m1.7 0h1m0.6 0h1m0.3 0h1m3.2 0h1m-9.4 0.1h1m7.2 0h1m0.6 0h1m-15.2 0.1h1m0.2 0h1m2.5 0h1m-0.2 0h1m2.2 0h1m-15.2 0.1h1m10.1 0h1m4.7 0h1m-16.6 0.1h1m0.3 0h1m6.9 0h1m3.2 0h1m0.4 0h1m-0.2 0h1m-13.3 0.1h1m-1 0h1m3.2 0h1m1.1 0h1m-7.8 0.1h1m2.4 0h1m2.7 0h1m0.6 0h1m1.4 0h1m2 0h1m2.2 0h1m-19.3 0.1h1m-0.9 0h1m-0.8 0h1m5 0h1m1 0h1m-0.3 0h1m2.3 0h1m1.3 0h1m-7.1 0.1h1m-0.8 0h1m2.1 0h1m-0.6 0h1m1.4 0h1m-0.6 0h1m1.7 0h1m-12.4 0.1h1m3.5 0h1m6.9 0h1m-14.8 0.1h1m1 0h1m2.7 0h1m1.3 0h1m-0.8 0h1m-9.8 0.1h1m-0.2 0h1m-0.2 0h1m1.7 0h1m-0.3 0h1m-10.1 0.1h1m0.8 0h1m3.4 0h1m-1 0h1m-3.4 0.1h1m1.1 0h1m1.3 0h1m-0.2 0h1m-0.8 0h1m-0.6 0h1m0 0h1m2.2 0h1m0.3 0h1m-1 0h1m-13.4 0.1h1m2.1 0h1m1.6 0h1m0.5 0h1m0.8 0h1m1.8 0h1m-11.3 0.1h1m1.6 0h1m1.3 0h1m0.3 0h1m-0.7 0h1m-1 0h1m-13.1 0.1h1m-0.2 0h1m5.9 0h1m1.3 0h1m-1 0h1m-0.2 0h1m-0.6 0h1m2.3 0h1m-10.3 0.1h1m2.1 0h1m0 0h1m-0.2 0h1m-0.2 0h1m-0.9 0h1m-8.3 0.1h1m0.7 0h1m-0.3 0h1m0.4 0h1m-0.9 0h1m0 0h1m0.7 0h1m-0.7 0h1m4.2 0h1m-11.7 0.1h1m2.1 0h1m3.3 0h1m1.1 0h1m-13.4 0.1h1m1 0h1m4.3 0h1m0 0h1m-0.6 0h1m-10.1 0.1h1m2.2 0h1m2.2 0h1m2.3 0h1m2.8 0h1m-0.3 0h1m-15.2 0.1h1m2.1 0h1m-0.7 0h1m-0.2 0h1m3.1 0h1m0.8 0h1m-0.7 0h1m2.1 0h1m1.4 0h1m-20.4 0.1h1m5.9 0h1m2.1 0h1m4.5 0h1m0 0h1m-0.4 0h1m-13.9 0.1h1m0.1 0h1m3 0h1m0.3 0h1m-0.2 0h1m5.1 0h1m-0.1 0h1m-0.7 0h1m-0.7 0h1m-10.1 0.1h1m0.1 0h1m5.4 0h1m-14.1 0.1h1m0.9 0h1m1.8 0h1m0.6 0h1m-0.5 0h1m0.3 0h1m-0.9 0h1m-0.4 0h1m4.7 0h1m-16.2 0.1h1m0.6 0h1m2.8 0h1m1.4 0h1m1.4 0h1m1 0h1m-8.5 0.1h1m-0.2 0h1m-0.1 0h1m-0.5 0h1m-0.9 0h1m-0.4 0h1m2.9 0h1m3.1 0h1m-21.7 0.1h1m7.9 0h1m1.7 0h1m3.1 0h1m1.4 0h1m-20.9 0.1h1m10.1 0h1m1 0h1m-0.4 0h1m-0.8 0h1m-0.9 0h1m3.6 0h1m2.6 0h1m1.2 0h1m-18.4 0.1h1m1.1 0h1m0.5 0h1m-0.4 0h1m1 0h1m-0.1 0h1m0.1 0h1m-0.5 0h1m-0.3 0h1m-0.5 0h1m-0.3 0h1m2.8 0h1m-17.5 0.1h1m9.8 0h1m-4.3 0.1h1m-0.7 0h1m0.7 0h1m-0.7 0h1m1.2 0h1m-6 0.1h1m2.2 0h1m-0.4 0h1m1.4 0h1m-8.2 0.1h1m6.2 0h1m0.4 0h1m-0.3 0h1m-22.3 0.1h1m6.6 0h1m-0.2 0h1m0.8 0h1m-0.8 0h1m1.4 0h1m1.7 0h1m-0.2 0h1m-0.6 0h1m0.7 0h1m-13.9 0.1h1m-0.1 0h1m2.3 0h1m1 0h1m0 0h1m1.6 0h1m1.6 0h1m-0.6 0h1m-12.8 0.1h1m3.4 0h1m2.6 0h1m-0.9 0h1m0.6 0h1m6.8 0h1m-15.7 0.1h1m9.9 0h1m-22.1 0.1h1m7.9 0h1m0.9 0h1m2.2 0h1m5.1 0h1m0.6 0h1m-11.1 0.1h1m0 0h1m0 0h1m0.4 0h1m2.9 0h1m0 0h1m4 0h1m-12.7 0.1h1m2.7 0h1m-0.7 0h1m4.6 0h1m1.1 0h1m-17.5 0.1h1m-0.3 0h1m-0.3 0h1m-1 0h1m2 0h1m0.8 0h1m4.1 0h1m-0.9 0h1m-0.7 0h1m-12 0.1h1m2.5 0h1m-0.2 0h1m0.1 0h1m-0.2 0h1m1.1 0h1m-0.6 0h1m-0.2 0h1m0.8 0h1m-7.3 0.1h1m-0.1 0h1m-0.3 0h1m-0.3 0h1m1.1 0h1m-3.9 0.1h1m-10.2 0.1h1m0.5 0h1m-0.7 0h1m3.6 0h1m4.9 0h1m-12.3 0.1h1m6.7 0h1m0.4 0h1m0.4 0h1m0.1 0h1m-0.5 0h1m-9.4 0.1h1m0.1 0h1m0.8 0h1m-0.7 0h1m-0.5 0h1m0 0h1m-0.2 0h1m2 0h1m3.2 0h1m-15.8 0.1h1m2.9 0h1m-0.4 0h1m-0.7 0h1m-0.8 0h1m1.5 0h1m6 0.1h1m-17.7 0.1h1m-0.7 0h1m2.9 0h1m-0.9 0h1m0.8 0h1m10.6 0h1m-14.1 0.1h1m0.2 0h1m1.1 0h1m2.6 0h1m-0.7 0h1m5.5 0h1m-24.3 0.1h1m8.6 0h1m0 0h1m-1.2 0.1h1m-0.9 0h1m0 0h1m2.4 0h1m-0.3 0h1m0.8 0h1m1.5 0h1m-11.5 0.1h1m-0.3 0h1m1 0h1m3.9 0h1m-0.5 0h1m-1 0h1m-0.1 0h1m2 0h1m-15.7 0.1h1m4.1 0h1m-0.3 0h1m-0.9 0h1m0.2 0h1m-0.9 0h1m3.2 0h1m2.3 0h1m-4.5 0.1h1m0.7 0h1m1.3 0h1m-6.2 0.1h1m-9.2 0.1h1m1.6 0h1m-0.5 0h1m-0.8 0h1m-0.2 0h1m0 0h1m0.3 0h1m-0.9 0h1m1.2 0h1m0.5 0h1m-7.6 0.1h1m-0.4 0h1m-0.2 0h1m-0.9 0h1m1.8 0h1m-0.6 0h1m-9.9 0.1h1m1.2 0h1m2 0h1m0.7 0h1m-0.2 0h1m0.5 0h1m-10.4 0.1h1m10.4 0h1m0 0h1m-9.3 0.1h1m1.7 0h1m-8.5 0.1h1m0.8 0h1m2.3 0h1m1.6 0h1m0.2 0h1m1.6 0h1m-0.8 0h1m-12 0.1h1m2.6 0h1m3.4 0h1m-6.5 0.1h1m3.8 0h1m-0.2 0h1m0.4 0h1m-0.6 0h1m-5.8 0.1h1m2.3 0h1m-0.4 0h1m-0.8 0h1m-2.8 0.1h1m2.1 0h1m-11.6 0.1h1m1.1 0h1m5.2 0h1m5.9 0h1m-12.6 0.1h1m2.8 0h1m0.6 0h1m5.4 0h1m-14.7 0.1h1m6.4 0h1m-10.4 0.1h1m4.3 0h1m1 0h1m1.7 0h1m2.6 0h1m-18.9 0.1h1m6.8 0h1m1.2 0h1m0.5 0h1m0.5 0h1m-0.5 0h1m5 0h1m-15.8 0.1h1m2.2 0h1m-0.1 0h1m3.8 0h1m-0.2 0h1m-4.8 0.1h1m-0.4 0h1m1.3 0h1m0 0h1m1 0h1m-10.7 0.1h1m-1 0h1m0.3 0h1m0.8 0h1m7.7 0h1m-1.6 0.1h1m-17.2 0.1h1m9.5 0h1m-0.9 0h1m0.1 0h1m2.8 0h1m0.6 0h1m-12.9 0.1h1m0.2 0h1m-0.6 0.1h1m-0.5 0h1m-0.1 0h1m-0.2 0h1m-0.8 0h1m1.6 0h1m0.3 0h1m-12.7 0.1h1m3.2 0h1m0.9 0h1m2.1 0h1m1.3 0h1m-19.4 0.1h1m13.2 0h1m-0.7 0h1m0.9 0h1m-12.9 0.1h1m0.7 0h1m7 0h1m3.2 0h1m-12.5 0.1h1m2.9 0h1m3.7 0h1m3 0h1m0.3 0h1m1.4 0h1m-14.4 0.1h1m3.8 0h1m1.2 0h1m1 0h1m-7.9 0.1h1m3.4 0h1m2.7 0h1m-11 0.1h1m0.1 0h1m1.7 0h1m6 0h1m-11.6 0.1h1m1.1 0h1m0.5 0h1m-0.2 0h1m1.2 0h1m0.1 0h1m-8.1 0.1h1m3 0h1m2.5 0h1m1.3 0h1m-13 0.1h1m5.9 0h1m-3.6 0.1h1m2 0h1m-5.1 0.1h1m-0.4 0h1m0.5 0h1m-0.8 0h1m0.7 0h1m4.3 0.1h1m0.9 0h1m-13.7 0.1h1m0.5 0h1m2.1 0h1m2.6 0h1m-1 0h1m-3.5 0.1h1m-1.7 0.1h1m-0.9 0h1m1.7 0h1m5.9 0h1m-17.3 0.1h1m-1.3 0.1h1m-0.9 0h1m2.8 0h1m-0.6 0h1m-0.5 0h1m6.7 0h1m-6.3 0.1h1m-8.4 0.1h1m2.4 0h1m-7.4 0.1h1m4.2 0h1m0.5 0h1m5.9 0h1m1.6 0h1m1 0h1m-15.5 0.1h1m1 0h1m2.1 0h1m-6.6 0.1h1m0.3 0h1m0.2 0h1m1.2 0h1m-0.2 0h1m3.4 0h1m-12.3 0.1h1m6.3 0h1m0.3 0h1m1.6 0h1m-0.8 0h1m2.6 0h1m-18.6 0.1h1m4.2 0h1m8.6 0h1m-13.3 0.1h1m0.5 0h1m14.8 0h1m-14.8 0.1h1m-0.6 0h1m3.8 0h1m6.7 0h1m-0.1 0h1m-18.8 0.1h1m7.5 0h1m-1 0h1m2.8 0h1m-14.3 0.1h1m7.6 0h1m0.8 0.1h1m-0.7 0h1m-1 0.2h1m0.8 0h1m-9.2 0.1h1m0.8 0h1m5.9 0h1m-2 0.1h1m-12.1 0.1h1m9.3 0h1m-1.9 0.1h1m-0.5 0h1m-8.5 0.1h1m5.9 0h1m-11.6 0.1h1m3.3 0h1m3.7 0.1h1m5 0h1m-16.2 0.1h1m16.6 0h1m-3.2 0.3h1m1.3 0.1h1m-8.8 0.1h1m0 0h1m-5.1 0.2h1m1 0.2h1m5.1 0h1m-4.7 0.1h1m-6.7 0.2h1m-7.5 0.1h1m9.4 0h1m9.3 0h1m-3.4 0.5h1m-12.5 0.2h1m-0.7 0.1h1m4.8 0h1m-5.1 0.3h1m4 0h1m-4.3 0.1h1m-0.8 1.8h1m-5.9 3.3h1" stroke="#111" stroke-width="1" fill="none" opacity="1.0"/>
<path d="M342.5 591h1m0.6 1.3h1m-4.3 0.4h1m-21.7 0.5h1m-3.4 1.6h1m34.8 1.5h1m-12.5 1.4h1m-23.8 0.6h1m39.2 0.2h1m-14.1 3.9h1m30.6 0.4h1m-44.9 0.7h1m-9.3 0.2h1m10.9 0.4h1m-20.9 0.3h1m64.2 0h1m-67.8 0.1h1m31.2 0.7h1m-23.5 0.3h1m14.3 0.3h1m-10.7 0.6h1m-14.2 2.1h1m21 0h1m21.3 0h1m-55.1 0.3h1m43.3 0.3h1m-14.1 0.5h1m35.2 0h1m-39.3 0.2h1m-4.8 1h1m3.1 0.3h1m-17.1 0.3h1m0.5 0h1m37.7 0.3h1m-54.7 0.4h1m34.1 0.1h1m-2.2 0.3h1m-25.2 0.1h1m26.1 0.1h1m-22.4 0.6h1m-1.2 0.1h1m8.7 0h1m4.9 0.3h1m-13 0.1h1m36.5 0.2h1m-38.1 0.1h1m10.2 0h1m9.8 0h1m-9.4 0.1h1m3.1 0h1m21.3 0.1h1m-15.6 0.4h1m-20.9 0.1h1m43.5 0.4h1m-50.1 0.5h1m23 0h1m10.5 0.1h1m-14.7 0.2h1m-4.3 0.2h1m-0.2 0.7h1m-3.6 0.4h1m-8.6 0.6h1m-18.7 0.2h1m5.7 0.9h1m21.1 0.1h1m3.2 0.4h1m-14.9 0.7h1m8.8 0h1m-18.6 0.1h1m-22.9 0.2h1m12.8 0.9h1m12.3 0.3h1m5 0.7h1m5.9 0h1m-46.1 0.1h1m44.9 0h1m-28.3 0.1h1m39.8 0h1m-22.8 0.7h1m7.2 0.3h1m2.8 0h1m-12.4 0.2h1m-43.3 0.3h1m19.9 0h1m35.9 0.2h1m-54.9 0.1h1m2 0.1h1m5.9 0.4h1m10.7 0.2h1m18.1 0.2h1m-41.6 1.6h1m32.3 0.2h1m6.4 0.1h1m11.4 0.1h1m1 0h1m-61.2 1.5h1m22.3 0.2h1m2.8 0.2h1m-18.1 0.5h1m28.9 0h1m46.2 0.1h1m-69.3 0.1h1m1.9 0h1m11.1 0.3h1m-13.8 0.8h1m-7.5 0.1h1m2.8 0.3h1m3.2 0.2h1m7.5 0.1h1m11.2 0h1m-43 0.1h1m2.4 0h1m25.9 0h1m8.2 0h1m-0.1 0.5h1m-0.6 0.2h1m-22.4 0.3h1m-7.7 0.2h1m5.6 0.3h1m30.3 0h1m-25.2 0.1h1m29.9 0h1m2.6 0h1m-55.5 0.1h1m20.6 0.2h1m-9.1 0.1h1m0.2 0.1h1m8.2 0.1h1m50.4 0.1h1m-60.2 0.3h1m-4 0.2h1m19.3 0h1m-5.9 0.1h1m25.4 0.3h1m-8.2 0.2h1m-44.8 0.2h1m33.5 0.4h1m6.8 1.1h1m-26.5 0.5h1m4.4 0h1m3.4 0h1m-6.3 0.2h1m-7.6 0.1h1m27.2 0.2h1m-11.8 0.1h1m8.5 0.1h1m23.7 0h1m-76.2 0.3h1m42 0.3h1m-23.3 0.3h1m10.8 0.4h1m34.6 0.3h1m3.5 0.7h1m-62.7 0.1h1m52 0.1h1m-7.7 0.2h1m-7 0.4h1m-14.8 0.1h1m-6 0.6h1m18.5 0.2h1m15.8 0.2h1m-21.9 0.4h1m28.8 0h1m-63.3 0.5h1m30.5 0.3h1m20.9 0.1h1m-22.3 0.2h1m-47 0.4h1m4.6 0.3h1m17.3 1.6h1m-3.2 0.6h1m33.9 0.2h1m8.4 0.1h1m-60.3 0.1h1m0.3 0.1h1m28.2 0.1h1m-25.9 0.1h1m20.1 0.4h1m-11.3 0.6h1m24.4 0h1m-48.6 0.2h1m28 0h1m-20.9 0.3h1m24.1 0.1h1m-32.7 0.2h1m18.6 0h1m-0.8 0.1h1m-1.6 0.4h1m35.5 0.1h1m-37.3 0.1h1m48.8 0.1h1m-36.5 0.1h1m11.1 0h1m-32.6 0.1h1m19.8 0h1m-4.9 0.4h1m-13.3 0.4h1m-9.2 0.4h1m49.9 0.3h1m-33.6 0.2h1m-18.5 0.4h1m3.1 0.2h1m44.3 1h1m-35.3 0.9h1m52 0.1h1m-56.3 0.5h1m-8.9 0.1h1m8.9 0.4h1m25.7 0.3h1m-26.6 0.5h1m-24.2 0.6h1m23.8 0.7h1m21.2 0.9h1m-30.1 1.3h1" stroke="#555" stroke-width="1" fill="none" opacity="1.0"/>
<path d="M354.7 615.3h1m1.1 4.5h1m7.9 0.7h1m-4.2 1h1m0.2 0h1m0.3 0.7h1m-6.1 0.4h1m3 0.2h1m-4 0.9h1m-2.2 1.3h1m1.4 0.6h1m-0.7 4.5h1m-3.8 0.4h1m-1.4 0.3h1m0.3 0.9h1m-0.6 1.2h1m4.1 0h1m-6.3 0.4h1m-2.5 0.3h1m0.8 0.1h1m-0.6 1h1m-6.7 0.5h1m3.5 0h1m1.9 0h1m-1.2 0.2h1m-3.1 1.7h1m3.5 0h1m0.7 0.4h1m-4.1 0.3h1m-3.4 0.1h1m-4.3 0.4h1m0.6 0.4h1m-0.9 0.1h1m-4.9 0.1h1m4.4 0.1h1m1 0h1m-1.9 0.1h1m-5.3 0.6h1m-4.9 0.7h1m5.9 0.3h1m-0.3 0.1h1m0.9 0.5h1m1 0h1m-10.3 0.4h1m-0.5 0h1m3.1 0.4h1m3.1 0.1h1m-3.4 1.3h1m1.2 0.6h1m-5.9 0.5h1m3.1 0.5h1m-6.7 0.3h1m1.6 0h1m0.3 0.1h1m-4.6 0.6h1m7.1 0.2h1m-1.4 0.3h1m-2.2 0.1h1m-2.6 0.1h1m-5.1 0.2h1m2.6 0.4h1m-3.1 0.5h1m3.4 0.9h1m-3.1 0.2h1m-6.2 0.4h1m3.3 0h1m-5.5 0.2h1m0.9 0.5h1m1.6 1.4h1m-3.9 1.1h1m1.9 1.3h1m1.1 0.2h1m-3.5 0.3h1m-0.5 1.8h1m-2.1 1h1m3.4 0.3h1m-4.3 0.2h1m-2.3 1.6h1" stroke="#444" stroke-width="1" fill="none" opacity="1.0"/>
<path d="M323.8 587.3h1m2.4 1.9h1m-20.7 0.6h1m27.5 0.4h1m-33.6 0.3h1m21.7 0h1m-9.9 0.4h1m11.5 0.1h1m13.2 0.2h1m-9.9 0.3h1m4.7 0h1m-16.5 0.3h1m0.5 0h1m-6.9 0.1h1m0.1 0h1m-2.9 0.1h1m0 0.1h1m-20.1 0.1h1m5.6 0h1m15.1 0h1m14.8 0h1m-27.2 0.1h1m20.9 0h1m-11.6 0.1h1m-3.9 0.2h1m19.9 0h1m-33.2 0.1h1m20.7 0h1m-2.8 0.2h1m-20.3 0.1h1m11.8 0h1m-5.8 0.1h1m-10.6 0.1h1m-3.2 0.2h1m7.1 0h1m-2.7 0.1h1m6.5 0h1m4.3 0h1m-22.5 0.2h1m26.1 0h1m-5.9 0.1h1m-14.2 0.1h1m0.8 0h1m-14.8 0.1h1m17.6 0.2h1m0.7 0h1m-15 0.1h1m-0.5 0h1m13 0h1m9.5 0h1m-13.6 0.1h1m1.1 0h1m11.9 0h1m-10.6 0.1h1m0.4 0.1h1m1.2 0h1m3.5 0h1m-18.5 0.1h1m-8 0.1h1m17.6 0h1m7.9 0h1m-26.9 0.1h1m-0.1 0h1m-5.7 0.1h1m2.4 0h1m11.3 0.2h1m0.3 0h1m-10.3 0.1h1m-0.7 0h1m7.9 0h1m12.7 0h1m-41 0.1h1m19.1 0h1m2.2 0h1m3.4 0h1m15.9 0h1m-43.3 0.1h1m10 0h1m1.7 0h1m0.6 0h1m13.5 0h1m0.8 0h1m0.8 0h1m1.2 0h1m-24.8 0.1h1m15 0h1m5.4 0h1m-17 0.1h1m3.3 0h1m6.8 0h1m-28.5 0.1h1m12.6 0h1m8.1 0h1m4.4 0h1m-14.7 0.1h1m21.1 0h1m-29.4 0.1h1m2.5 0h1m10.9 0h1m0.4 0h1m5.9 0h1m1.2 0h1m-16.9 0.1h1m-0.3 0h1m-14.4 0.1h1m0.3 0h1m1.9 0h1m14.6 0h1m6.4 0h1m12 0h1m-42.8 0.1h1m2 0h1m2.1 0h1m12.9 0h1m12.1 0h1m-40.6 0.1h1m3.6 0h1m6.4 0h1m0.8 0h1m11.1 0h1m2.3 0h1m1.8 0h1m-21.1 0.1h1m3.6 0h1m13.6 0h1m-33.1 0.1h1m12.2 0h1m3.2 0h1m7.2 0h1m-0.3 0h1m0.3 0h1m-0.2 0h1m5.6 0h1m-30.1 0.1h1m2.7 0.1h1m11 0h1m15.4 0h1m-36.7 0.1h1m17 0h1m12.1 0h1m3.1 0h1m-28.5 0.1h1m14.5 0h1m6.4 0.1h1m0.3 0h1m2.5 0h1m-21.2 0.1h1m1.6 0h1m0.4 0h1m-5.1 0.1h1m-0.7 0h1m1.7 0h1m1.3 0h1m-3.5 0.1h1m1.9 0h1m-0.4 0h1m1.6 0h1m-19.9 0.1h1m24.9 0h1m10.6 0h1m-32.7 0.1h1m4.1 0h1m2.9 0h1m1 0h1m13.9 0h1m-27 0.1h1m4.2 0h1m6.4 0h1m0.3 0h1m3.2 0h1m11.5 0h1m1.6 0h1m-25.8 0.1h1m-0.1 0h1m10.1 0h1m3.7 0h1m-0.3 0h1m-34.5 0.1h1m3.2 0h1m4.2 0h1m0.7 0h1m4.6 0h1m3.2 0h1m2.9 0h1m-26.6 0.1h1m7.3 0h1m18.9 0h1m-28.3 0.1h1m0.2 0h1m8.2 0h1m-0.2 0h1m2.8 0h1m0.3 0h1m2.5 0h1m-9.1 0.1h1m6.8 0h1m19.6 0h1m-38.8 0.1h1m3.5 0h1m1 0h1m3.1 0h1m-3.9 0.1h1m1.3 0h1m7.1 0h1m3.6 0h1m22 0h1m-23.7 0.1h1m-4.9 0.1h1m-21.5 0.1h1m1.9 0h1m10.3 0h1m0.6 0h1m-12.2 0.1h1m0.2 0h1m24.9 0h1m-22.4 0.1h1m4 0h1m5.5 0h1m-25 0.1h1m16.4 0h1m-0.8 0h1m0.5 0h1m2.3 0h1m1.2 0h1m-24.2 0.1h1m3.2 0h1m9.8 0h1m0.6 0h1m13.7 0h1m5.6 0h1m7.3 0h1m-42.4 0.1h1m1.2 0h1m6.7 0h1m4 0h1m12.5 0h1m3.8 0h1m-37 0.1h1m20.1 0h1m3.4 0h1m1 0h1m6.4 0h1m-38.6 0.1h1m6.6 0h1m10.3 0h1m6 0h1m4.9 0h1m-31.9 0.1h1m6 0h1m1.4 0h1m2.4 0h1m23.1 0h1m-35.9 0.1h1m10.5 0h1m-0.8 0h1m0.4 0h1m0.5 0h1m0 0h1m-0.9 0h1m-0.9 0h1m2 0h1m-0.8 0h1m15.2 0h1m-26.5 0.1h1m-0.6 0h1m15 0h1m-32 0.1h1m26.8 0h1m2.8 0h1m2.3 0h1m-33.3 0.1h1m0.9 0h1m4.6 0h1m7.9 0h1m1.6 0h1m1.8 0h1m6.2 0h1m-0.8 0h1m-26.1 0.1h1m16.3 0h1m0.5 0h1m5.8 0h1m0.4 0h1m-26.6 0.1h1m4.1 0h1m7.3 0h1m6.3 0h1m-21 0.1h1m0.4 0h1m3.8 0h1m2.3 0h1m4.7 0h1m0 0h1m-19 0.1h1m4.1 0h1m4.2 0h1m2 0h1m-0.6 0h1m4.6 0h1m-7.7 0.1h1m6 0h1m15.4 0h1m-39.9 0.1h1m4.7 0h1m-0.3 0h1m2.1 0h1m-12.6 0.1h1m7.2 0h1m10 0h1m1.5 0h1m15.5 0.1h1m-21.9 0.1h1m-24.4 0.1h1m0.7 0h1m12.6 0h1m1.1 0h1m9.2 0h1m4.5 0h1m-22.8 0.1h1m5 0h1m4.8 0h1m-0.4 0h1m21.6 0h1m-36.7 0.1h1m1.1 0h1m5.4 0h1m13.1 0h1m-23.3 0.1h1m17 0h1m0.1 0h1m15 0h1m4.5 0h1m-50.1 0.1h1m0.5 0h1m26.6 0h1m-13.7 0.1h1m7.2 0h1m4.4 0h1m-34.2 0.1h1m1.5 0h1m11.7 0h1m-2.9 0.1h1m2.7 0h1m1.2 0h1m4.9 0h1m1.7 0h1m-16.9 0.1h1m0.3 0h1m7.7 0h1m-3.9 0.1h1m18.3 0h1m16.9 0h1m-45.7 0.1h1m1.5 0h1m6.9 0h1m6.5 0h1m6 0h1m-34.4 0.1h1m9.5 0h1m1.3 0h1m1.5 0h1m9.8 0h1m-1.7 0.1h1m0.6 0h1m-0.5 0h1m4.4 0h1m1.6 0h1m6.3 0h1m-41.6 0.1h1m1.6 0h1m13.7 0h1m4.9 0h1m11.7 0h1m-12.7 0.2h1m-8.1 0.1h1m5 0h1m9.8 0h1m-22.4 0.1h1m8.8 0.1h1m-0.7 0h1m5.3 0h1m7.8 0h1m-22.8 0.1h1m9.2 0h1m3.1 0h1m-31.4 0.1h1m18.8 0h1m6.6 0h1m1.1 0h1m-17.8 0.1h1m2.8 0h1m7 0h1m-30.2 0.1h1m5 0h1m16.2 0h1m10.9 0h1m-17.4 0.2h1m2.8 0h1m3.6 0h1m-5.7 0.1h1m5.5 0h1m3.6 0h1m-21.7 0.1h1m6.7 0h1m-5.6 0.2h1m7.7 0.2h1m-15.2 0.2h1m4 0h1m12.2 0h1m10.3 0h1m2.2 0h1m0.4 0h1m-44.3 0.1h1m7.4 0.1h1m10.2 0h1m5.1 0h1m-6.2 0.1h1m27.3 0h1m-15.6 0.2h1m-33.8 0.1h1m7 0h1m14.6 0.2h1m5.7 0.1h1m-13.8 0.1h1m5 0.1h1m-10.3 0.1h1m-15.1 0.1h1m5.8 0h1m24 0h1m-4.7 0.1h1m-3.8 0.1h1m-13.1 0.3h1m26.5 0.1h1m-14.4 0.1h1m-22.3 0.1h1m17 0h1m14.7 0h1m-38 0.1h1m13.8 0h1m-9.3 0.1h1m12.5 0.1h1m-18 0.1h1m21.6 0h1m6.8 0h1m-32.5 0.1h1m7.7 0.1h1m7.4 0.3h1m6.6 0.1h1m2.9 0.1h1m-25.7 0.1h1m2.9 0.3h1m-0.3 0.1h1m19.6 0.3h1m-34.9 0.2h1m38.3 1.7h1" stroke="#2a2a2a" stroke-width="1" fill="none" opacity="1.0"/>
<path d="M365.1 588h1m2.3 4h1m-6.8 1.1h1m-4.2 0.1h1m-6.4 0.3h1m5.4 0.2h1m-0.5 0h1m0 0.1h1m-1.8 0.1h1m0.7 0.1h1m-3.9 0.3h1m0.5 0.2h1m3.5 0h1m0 0h1m-7.1 0.1h1m-0.1 0h1m-2.4 0.1h1m1 0.1h1m0.5 0.2h1m-6.5 0.1h1m-0.4 0h1m-3.9 0.2h1m0.9 0.1h1m2.1 0h1m-2.1 0.1h1m-2.3 0.1h1m0.2 0h1m-4.8 0.1h1m1.5 0.1h1m-1.3 0.1h1m0 0.1h1m4.9 0h1m-1.7 0.2h1m-9.6 0.1h1m0.7 0h1m-0.6 0h1m1.1 0h1m3.9 0.1h1m-0.7 0h1m-6.9 0.1h1m2.2 0h1m-4.4 0.3h1m0.8 0h1m0.5 0h1m1.1 0h1m-1.6 0.1h1m-4 0.1h1m-3.2 0.1h1m1.9 0h1m-2.5 0.1h1m-0.7 0h1m-0.8 0h1m4 0h1m-9.8 0.1h1m-0.7 0h1m0 0h1m-0.5 0h1m-4.5 0.1h1m0.2 0h1m4.8 0h1m-2.8 0.1h1m5.2 0h1m-8.1 0.1h1m2.1 0h1m2.8 0h1m-0.6 0h1m-10.9 0.1h1m1.2 0h1m1.5 0h1m4.2 0h1m-9.8 0.1h1m4.3 0h1m-4.7 0.3h1m0.5 0h1m0.5 0h1m-0.3 0h1m-0.9 0h1m-0.1 0h1m-0.2 0h1m-6.8 0.1h1m0.6 0h1m2.4 0.1h1m-3.5 0.1h1m5.7 0h1m-5.1 0.1h1m-9.5 0.1h1m6 0h1m-4.9 0.1h1m0.9 0h1m-0.1 0h1m-1 0h1m1.1 0h1m1.7 0h1m-4.4 0.1h1m-0.4 0h1m-1.4 0.1h1m-7.6 0.1h1m1.1 0h1m0.1 0h1m0.6 0h1m1 0h1m-7.3 0.1h1m0.8 0h1m-0.4 0h1m2.1 0h1m-6.5 0.1h1m-0.7 0h1m2 0h1m-0.8 0h1m-0.3 0h1m-0.1 0h1m0.8 0h1m-8.9 0.1h1m1.1 0h1m-0.8 0h1m-0.4 0h1m-0.9 0h1m1.5 0h1m-0.3 0h1m3.8 0h1m-16.7 0.1h1m5.8 0h1m-1 0h1m0.9 0h1m-0.7 0h1m0.7 0h1m-0.2 0h1m0.2 0h1m-14.1 0.2h1m10.9 0h1m1 0h1m-0.4 0h1m-7.4 0.1h1m-0.8 0h1m2 0h1m-0.7 0h1m-5.2 0.1h1m7.8 0h1m-11.2 0.1h1m2.6 0h1m0.2 0h1m-0.2 0h1m-8 0.1h1m4.5 0h1m0.6 0h1m-5.9 0.1h1m3.9 0h1m0.7 0h1m-0.9 0h1m-5.6 0.1h1m0.4 0h1m-0.7 0.1h1m-4.7 0.1h1m0 0h1m-3 0.1h1m1.4 0h1m2 0h1m-0.9 0h1m0.1 0h1m-0.8 0h1m-12.3 0.1h1m6.4 0h1m1 0h1m0.7 0h1m0.9 0h1m-3.3 0.1h1m-7.7 0.1h1m-0.9 0h1m0.3 0h1m-0.7 0h1m0.8 0h1m0.4 0h1m4.9 0h1m-6.4 0.1h1m-0.3 0h1m1.6 0h1m3.5 0h1m-16 0.1h1m0.7 0h1m-0.2 0h1m1.7 0h1m-0.8 0h1m-0.6 0h1m-6.3 0.1h1m3.9 0h1m0.7 0h1m0.3 0h1m0 0h1m-8.7 0.1h1m-0.6 0h1m2.4 0h1m-0.2 0h1m0 0h1m1.1 0h1m-9.6 0.1h1m0.7 0h1m-0.9 0h1m-0.3 0h1m-0.6 0h1m3 0h1m0.2 0h1m-0.3 0h1m-15.2 0.1h1m6.4 0h1m1.5 0h1m1 0h1m-0.6 0h1m-0.5 0h1m0.8 0h1m1.7 0h1m-7.4 0.1h1m-6.7 0.1h1m0.7 0h1m1.6 0h1m-0.5 0h1m6.8 0h1m-11.2 0.1h1m0.3 0h1m7.5 0h1m-13.2 0.1h1m1 0h1m1.4 0h1m3.9 0h1m-8.1 0.1h1m2 0h1m-0.3 0h1m-0.5 0h1m-0.4 0h1m3.8 0h1m0.5 0h1m-7.7 0.1h1m-0.7 0h1m-1 0h1m-0.5 0h1m-0.3 0h1m-5.5 0.1h1m0.1 0h1m-1 0h1m0.8 0h1m0.9 0h1m-0.4 0h1m1.6 0h1m-10.8 0.1h1m0.6 0h1m3.1 0h1m-5.4 0.1h1m-0.2 0.1h1m3.1 0h1m-7.7 0.1h1m0.7 0h1m-0.8 0h1m0.2 0h1m-0.7 0h1m2.7 0h1m-6.6 0.1h1m2 0h1m1.2 0h1m1.2 0h1m-0.8 0h1m-9.8 0.1h1m0 0h1m-0.6 0h1m-0.8 0h1m1.5 0h1m0 0h1m0.8 0h1m-8.7 0.1h1m5.9 0h1m1.7 0h1m-6.3 0.1h1m5 0h1m-11 0.1h1m1.4 0h1m-0.6 0h1m-0.9 0h1m2.7 0h1m-7.2 0.1h1m0.2 0h1m1.4 0h1m-2.3 0.1h1m0.6 0h1m2.2 0h1m5 0h1m-16.8 0.1h1m0.1 0h1m4.4 0h1m-0.7 0h1m-0.8 0h1m-7.2 0.1h1m3.9 0h1m2.6 0h1m-7.8 0.1h1m0.9 0h1m4.6 0h1m-9.5 0.1h1m1.7 0h1m1.6 0h1m-5.8 0.1h1m0.7 0h1m-0.9 0h1m-0.8 0h1m1 0h1m-0.9 0h1m-0.6 0h1m2.6 0h1m-3 0.1h1m0 0h1m1.5 0h1m-5.5 0.1h1m2.5 0h1m-9.4 0.1h1m4.2 0h1m0.1 0h1m-5.6 0.1h1m0.7 0h1m1.5 0h1m6.4 0h1m-13.9 0.1h1m2.2 0h1m2.4 0h1m-0.3 0h1m-10.2 0.1h1m0.3 0h1m2.4 0h1m2.8 0h1m-5.2 0.1h1m1.5 0h1m-9 0.1h1m5.9 0h1m4.5 0h1m-4.3 0.1h1m-3.1 0.1h1m-0.1 0h1m1.9 0h1m1.2 0h1m-7.4 0.2h1m1.5 0h1m-0.3 0h1m-6.4 0.1h1m4 0h1m-12.4 0.1h1m4.8 0h1m2.2 0.1h1m2.5 0.1h1m-6.1 0.1h1m1.1 0h1m0.9 0.1h1m-10.5 0.1h1m3.7 0h1m9.4 0h1m-9.6 0.1h1m-4.8 0.2h1m6.4 0h1m-3.6 0.1h1m-3 0.1h1m4.1 0h1m-0.5 0h1m-4 0.2h1m-2.1 0.1h1m2.8 0h1m-7.3 0.1h1m-11.7 0.1h1m9 0.1h1m5.7 0h1m-5.1 0.1h1m-9.1 0.1h1m7.5 0h1m0.5 0h1m-5 0.1h1m-0.2 0h1m-0.4 0.2h1m1.1 0h1m1 0.1h1m3.4 0h1m-7.8 0.1h1m-1.1 0.2h1m-8.5 0.7h1m4.2 0.1h1m-0.3 0.6h1m3.1 1.4h1" stroke="#000" stroke-width="1" fill="none" opacity="1.0"/>
<path d="M303.4 758.8h1m16.9 3.5h1m-2.2 1.4h1m-1.9 1.1h1m18.9 2.3h1m-23.5 0.8h1m-1.6 0.8h1m0 0.8h1m-7.8 0.8h1m13.4 0.8h1m-6.6 1.3h1m1.4 0.6h1m-0.4 0.1h1m-11.4 0.4h1m-1.3 1.4h1m10.4 0.8h1m5.3 0.4h1m-3.7 0.1h1m0.6 0h1m-2.6 0.1h1m-11.4 0.1h1m1.8 0h1m-0.6 1.1h1m5.1 0.1h1m5.3 0.6h1m-14.5 0.5h1m4.4 0.1h1m-9 0.1h1m16.9 0.1h1m-8.3 0.6h1m-21.8 0.1h1m19.2 1.6h1m-0.4 0.4h1m-0.6 0.8h1m-15 0.4h1m21.2 0.1h1m-11.5 1.5h1m-5.5 1h1m6.8 0.2h1m-19.7 0.6h1m12.8 0.5h1m-8.4 0.3h1m-1.5 0.1h1m16.8 0.8h1m-2.7 0.1h1m-6.2 0.4h1m-15.8 0.6h1m15.4 0h1m-16.6 0.8h1m8.9 0.1h1m-10 0.1h1m-2.5 0.5h1m10.6 0.3h1m17.7 0h1m-22.4 0.1h1m-2.8 0.6h1m13.7 0.1h1m-16 1.7h1m3 0.1h1m-14.5 0.1h1m9.5 0.3h1m2 0.3h1m6.3 1.3h1m-2.5 0.6h1m5.3 1.6h1m-14.5 0.5h1m6.4 1.6h1m-0.1 0.7h1m-4.5 0.6h1m-4.1 7h1" stroke="#888" stroke-width="1" fill="none" opacity="1.0"/>
<path d="M373.4 767.7h1m-1.1 0.7h1m-4.5 1.9h1m0.2 0.1h1m5.9 0.7h1m-7.9 3h1m-0.4 0.2h1m-1.9 0.5h1m1.7 0.2h1m-5.5 0.9h1m2.1 0.3h1m-1 0.1h1m-2.4 0.9h1m2.1 0.3h1m-4.1 0.5h1m2 0.8h1m-3.9 0.1h1m0.6 2.1h1m-4.6 0.6h1m6.1 0.7h1m-8.1 1.1h1m2.4 1h1m0.5 1.3h1m-1.9 0.8h1m-4.8 3.3h1" stroke="#777" stroke-width="1" fill="none" opacity="1.0"/>
<path d="M334.3 722h1m-15.2 3.2h1m19.6 0.7h1m-24.6 0.2h1m19.4 0.8h1m-18.3 0.9h1m10.2 0.1h1m-1.2 0.5h1m6.2 0h1m-3.9 1.4h1m19.9 0h1m-7.4 0.5h1m-19.2 0.3h1m8.6 0.6h1m23.1 0h1m-14 0.1h1m-8.8 0.6h1m-1.2 0.1h1m-14.4 0.1h1m-8.3 0.2h1m15 0h1m-12.7 0.1h1m13.7 0.2h1m-8.6 0.1h1m15.9 0.1h1m-28 0.2h1m-10.8 0.1h1m36.4 0h1m-35.6 0.4h1m21.2 0h1m7 0.2h1m-45.3 0.1h1m26.1 0.2h1m1.5 0h1m-0.9 0h1m-8 0.3h1m25.8 0.1h1m-20.7 0.1h1m19.4 0.1h1m-28.8 0.1h1m11.2 0h1m16.4 0h1m-37.7 0.1h1m21.7 0h1m-24.4 0.1h1m31.2 0.3h1m-23.4 0.1h1m3.8 0h1m0.6 0h1m16.3 0h1m1 0h1m-33.7 0.1h1m-0.1 0h1m5.6 0h1m-8.5 0.1h1m18.5 0h1m2.1 0.1h1m-19.3 0.4h1m-17.1 0.1h1m10.1 0h1m17.2 0h1m14 0h1m-22.2 0.3h1m3.8 0h1m25.9 0h1m-51.5 0.1h1m29.7 0h1m-12 0.1h1m-1 0.2h1m8.5 0h1m14.4 0h1m-56.8 0.1h1m6.8 0h1m12.6 0h1m4.8 0h1m22.2 0h1m7 0h1m-34.5 0.2h1m3.2 0.1h1m7.1 0h1m-16.9 0.1h1m1.2 0h1m14.7 0.1h1m2.6 0h1m10.3 0h1m-0.1 0h1m-37.3 0.1h1m46.4 0h1m-30.5 0.1h1m-15.9 0.1h1m6.4 0h1m8 0h1m-19.5 0.1h1m14.1 0h1m17.3 0.1h1m-26.9 0.1h1m8.4 0h1m5.4 0h1m-8.1 0.2h1m0.3 0h1m6.8 0.1h1m10.9 0.1h1m3.8 0h1m-58.8 0.1h1m28.3 0h1m-3 0.1h1m14 0h1m3.9 0h1m-28 0.1h1m21.8 0.1h1m-34.6 0.1h1m3.6 0h1m-1.9 0.1h1m23.1 0h1m6.6 0h1m-24.4 0.1h1m4 0h1m-22 0.1h1m14 0h1m9 0h1m-13.2 0.1h1m7 0h1m-16.2 0.1h1m32.8 0h1m4.4 0h1m2.4 0.1h1m-42.9 0.1h1m14.7 0h1m12.9 0.1h1m-1.1 0.1h1m-24.7 0.2h1m4.2 0h1m25.8 0.1h1m6.2 0h1m-28.7 0.1h1m4.3 0h1m25.4 0h1m-55.4 0.1h1m9 0.1h1m8 0.1h1m28.2 0h1m-45.4 0.1h1m10.7 0h1m2.5 0h1m4.2 0h1m3.3 0h1m1 0h1m-20.2 0.2h1m8.1 0h1m-0.1 0h1m9.7 0h1m-13.2 0.1h1m14.1 0.1h1m-12.4 0.3h1m-27.4 0.1h1m15.9 0h1m1.1 0h1m10.2 0.1h1m-12.8 0.1h1m37.9 0h1m-53.7 0.1h1m16.4 0h1m1.9 0.1h1m0.1 0h1m-8.5 0.1h1m1.3 0h1m1.1 0.1h1m12 0.1h1m3.3 0h1m-6.9 0.1h1m1 0h1m-20.4 0.1h1m10.5 0h1m-25.2 0.2h1m35.4 0h1m-37.4 0.1h1m32.9 0h1m17 0h1m-43.4 0.1h1m9.7 0h1m23.2 0h1m1 0.2h1m-32.9 0.1h1m15.2 0h1m-9.1 0.1h1m0.9 0h1m-21.9 0.1h1m23.4 0h1m6.6 0h1m-21.4 0.1h1m4.2 0h1m-5.2 0.2h1m21 0h1m-7.4 0.1h1m-25.4 0.1h1m36.1 0.1h1m-31 0.1h1m0.9 0h1m9.1 0h1m11.5 0h1m5 0h1m-46.3 0.1h1m24.4 0h1m-12.8 0.2h1m17.1 0h1m-22.6 0.1h1m15.7 0h1m13.8 0h1m-23.3 0.1h1m18.7 0h1m-35.8 0.1h1m15.6 0h1m10 0h1m-17.6 0.1h1m48.1 0h1m-55.3 0.1h1m22.1 0h1m-12.3 0.1h1m5.8 0h1m0.6 0.2h1m14.5 0h1m-36.4 0.1h1m18.6 0h1m-30.6 0.1h1m7.3 0h1m7.6 0h1m-1.1 0.1h1m13.7 0h1m14.9 0.1h1m-42.8 0.1h1m28.6 0.1h1m-21.8 0.1h1m10.2 0.1h1m4.9 0h1m16.1 0h1m-40 0.2h1m24.9 0h1m-3.9 0.1h1m-25 0.3h1m-7.4 0.1h1m33.2 0h1m-12.3 0.2h1m-17.1 0.1h1m2.6 0h1m7.5 0h1m6.1 0.1h1m-30.7 0.1h1m30.3 0.3h1m5.5 0h1m-37.2 0.2h1m22.6 0.1h1m10.7 0h1m2.8 0h1m2.8 0h1m-10 0.2h1m-34 0.1h1m24.5 0.3h1m12.3 0.1h1m-3 0.1h1m-25 0.2h1m12.6 0h1m-16.2 0.1h1m16.8 0h1m-1.6 0.1h1m25.7 0.1h1m-47.6 0.2h1m1.2 0h1m12.6 0h1m-2.1 0.1h1m25.4 0.1h1m-29.6 0.2h1m16.2 0.1h1m-14.7 0.1h1m7.1 0h1m-23.7 0.2h1m17.5 0h1m12 0h1m-0.3 0.3h1m-34.9 0.1h1m-8.8 0.1h1m17.7 0.2h1m18.8 0.1h1m-10 0.1h1m25.4 0.1h1m-49.4 0.3h1m10.1 0.1h1m7.6 0h1m-2.4 0.2h1m7.4 0.2h1m-2.1 0.2h1m-12.7 0.1h1m2.1 0.1h1m-13.5 1.1h1m17.5 0.3h1m-8.6 0.4h1m-6.8 0.5h1m14.1 0.8h1m-8.1 0.1h1m9 1.7h1m-11.4 1.7h1" stroke="#5a5a5a" stroke-width="1" fill="none" opacity="1.0"/>
<path d="M377 716.2h1m-7.7 2.5h1m-2.5 1h1m6.6 0h1m-8.7 0.5h1m0.5 0.4h1m-2.3 0.1h1m0.2 0.5h1m0.3 0.3h1m-0.3 0.2h1m-0.5 0.4h1m-14.9 0.4h1m16.1 0.2h1m-2.7 0.2h1m-14.1 0.1h1m8.1 0h1m-5.2 0.1h1m13.3 0.1h1m-6.2 0.1h1m-5.1 0.1h1m-6.3 0.1h1m12.2 0.2h1m-15 0.5h1m-0.2 0h1m3.2 0h1m-9.8 0.2h1m7.2 0.1h1m0.9 0.1h1m-7.5 0.1h1m16 0h1m-14.6 0.1h1m-0.3 0h1m1.2 0.1h1m-6.9 0.1h1m-0.2 0h1m6.9 0h1m-4.9 0.2h1m-0.7 0h1m-3.8 0.1h1m10.2 0h1m-3.8 0.3h1m4.9 0h1m-11.3 0.1h1m-1.8 0.1h1m-1.4 0.1h1m-0.2 0.2h1m7.7 0h1m-10.4 0.1h1m-1.9 0.1h1m0.7 0h1m6.4 0h1m-7.5 0.1h1m-15 0.1h1m8.9 0.1h1m1.6 0h1m2.2 0h1m-13.1 0.1h1m2.4 0h1m-0.8 0h1m0.5 0h1m2.8 0h1m-0.6 0h1m12.2 0h1m-16.2 0.1h1m1.3 0h1m5.1 0h1m-6.6 0.1h1m0.2 0h1m4.5 0h1m-6.9 0.1h1m3.1 0h1m5 0h1m-13.4 0.1h1m-0.6 0h1m2.7 0h1m0.9 0h1m0.6 0h1m-16.3 0.2h1m3.8 0h1m-0.5 0h1m-0.7 0h1m-2.4 0.1h1m2.3 0.1h1m1.1 0h1m-3.9 0.1h1m4.6 0h1m-11.1 0.2h1m5 0h1m-7.2 0.1h1m-0.9 0h1m-1.7 0.1h1m0 0.1h1m-0.6 0h1m3.8 0h1m-4.7 0.1h1m8.5 0h1m-12.7 0.1h1m3.8 0h1m0.8 0h1m0 0h1m-3.5 0.1h1m-0.4 0h1m-5.2 0.1h1m1 0h1m9.2 0h1m-19.3 0.1h1m4.9 0h1m5.2 0h1m2.5 0h1m1.1 0h1m-11.6 0.1h1m1.6 0h1m-0.1 0h1m2.1 0h1m-8.3 0.1h1m3.7 0h1m-1.8 0.1h1m7.8 0.1h1m-14.8 0.1h1m-0.2 0h1m-0.7 0h1m3.8 0h1m1.6 0.1h1m-0.6 0h1m-3.7 0.1h1m11 0h1m-20.3 0.1h1m4 0h1m0.1 0h1m-1.4 0.1h1m0.2 0.1h1m0.6 0h1m3.5 0h1m-0.8 0h1m-9.6 0.1h1m2 0h1m1.2 0h1m-5.1 0.1h1m-0.5 0h1m-0.1 0h1m-2.8 0.1h1m-14.3 0.1h1m8.8 0h1m2 0h1m1.4 0h1m-0.2 0h1m0.1 0h1m0.3 0h1m0.3 0h1m0.2 0h1m-10.2 0.1h1m7 0h1m-8.1 0.1h1m4.2 0h1m-0.4 0h1m-1 0.1h1m-14.1 0.1h1m-0.7 0h1m1.5 0h1m3 0h1m7.2 0h1m-0.3 0.1h1m5.2 0h1m-22.4 0.1h1m7.3 0h1m12.4 0h1m-14.7 0.1h1m5.9 0h1m0.9 0h1m-6.3 0.1h1m-10.2 0.1h1m3.4 0h1m-0.4 0h1m2.8 0h1m1.2 0h1m0.7 0h1m-13.2 0.1h1m3.6 0h1m1.5 0h1m-0.4 0h1m-0.8 0h1m-7.9 0.1h1m1 0h1m5.9 0h1m0.1 0h1m-11.8 0.1h1m4.2 0h1m-0.7 0h1m7.1 0h1m-12.5 0.1h1m4.6 0h1m-0.6 0h1m0.1 0h1m3.1 0h1m-13.6 0.1h1m-0.2 0h1m-0.8 0h1m-0.1 0h1m3.1 0h1m-0.9 0h1m-0.3 0h1m-0.4 0h1m2.8 0h1m-0.1 0h1m0.3 0h1m-12.2 0.1h1m-0.3 0h1m1.7 0h1m-0.7 0h1m-0.9 0h1m-17.2 0.1h1m1.6 0h1m7.2 0h1m4.4 0h1m-0.3 0h1m-0.8 0h1m2.2 0h1m-14.5 0.1h1m5.2 0h1m5.4 0h1m0.6 0h1m2.4 0h1m-7.4 0.1h1m3.3 0h1m-10.8 0.1h1m1.3 0h1m3.1 0h1m-0.7 0h1m2.7 0h1m-15.6 0.1h1m6.6 0h1m3.3 0h1m0.1 0h1m-13.1 0.1h1m1.3 0h1m2.6 0h1m-2 0.1h1m1.5 0h1m4.6 0h1m-11.8 0.1h1m8.9 0h1m-14.1 0.1h1m0.5 0h1m-0.9 0h1m7.6 0h1m-0.7 0h1m-0.8 0h1m-0.8 0h1m-0.2 0h1m-17.3 0.1h1m9.3 0h1m-3.4 0.1h1m1.7 0h1m1 0h1m11.3 0h1m-17.9 0.1h1m1.3 0h1m-0.5 0h1m-4.5 0.1h1m4.8 0.1h1m4.5 0h1m-12.5 0.1h1m0 0h1m1.9 0h1m1.1 0h1m0.5 0h1m1.4 0h1m-0.3 0h1m-12.2 0.1h1m1.5 0h1m-0.6 0h1m3.9 0h1m2.3 0h1m-0.4 0h1m1.1 0h1m-10.1 0.1h1m1.4 0h1m-0.1 0h1m0.9 0h1m3.8 0h1m-18.1 0.1h1m-0.2 0h1m5 0h1m0.8 0h1m-10.6 0.1h1m-0.8 0h1m4.3 0h1m2 0h1m5.2 0h1m-14.2 0.1h1m4.7 0h1m2 0h1m-0.9 0h1m-1 0h1m2.6 0h1m-9.7 0.1h1m-0.1 0h1m-0.6 0h1m5.8 0h1m0.2 0h1m0.3 0h1m1.2 0h1m-21.1 0.1h1m7.9 0h1m0.9 0h1m9.1 0h1m-8.2 0.1h1m1.7 0h1m0.3 0h1m-12.2 0.1h1m2.3 0h1m-0.8 0h1m-0.9 0h1m1.8 0h1m-0.8 0h1m4.1 0h1m-2 0.1h1m1.9 0h1m-16.3 0.1h1m2.7 0h1m0.2 0h1m0.1 0h1m0 0h1m-10.3 0.1h1m3.3 0h1m3.7 0h1m-0.9 0h1m3.2 0h1m0.6 0h1m-0.8 0h1m-15.1 0.1h1m1.9 0h1m0.6 0h1m0.9 0h1m2.5 0h1m2.9 0h1m-13.7 0.1h1m3.5 0h1m2.5 0h1m1 0h1m-8.6 0.1h1m-4.2 0.1h1m0.8 0h1m0.7 0h1m1.7 0h1m-0.6 0h1m-0.8 0h1m-1 0h1m0.2 0h1m2.4 0h1m-13.5 0.1h1m5.8 0h1m2.2 0h1m-0.1 0h1m-10.5 0.1h1m2.8 0h1m2.8 0h1m0.6 0h1m0.1 0h1m-12.9 0.1h1m1.1 0h1m0.3 0h1m6.8 0h1m6 0h1m-8.8 0.1h1m2.5 0h1m-10.5 0.1h1m0.7 0h1m3 0h1m0.2 0h1m-0.5 0h1m0.6 0h1m-11.4 0.1h1m-9.7 0.1h1m4.6 0h1m1.3 0h1m4.1 0h1m-0.1 0h1m0.1 0h1m-0.6 0h1m3.4 0h1m-10.1 0.1h1m-0.3 0h1m-0.3 0h1m-0.5 0h1m1.4 0h1m2.2 0h1m-0.5 0h1m-0.3 0h1m-9.4 0.1h1m2 0h1m-0.7 0h1m-0.3 0h1m0.7 0h1m6.9 0h1m-14.1 0.1h1m0.2 0h1m4.9 0h1m0.8 0h1m-16.1 0.1h1m2.1 0h1m5.7 0h1m-0.5 0h1m0.4 0h1m0.5 0h1m-1 0h1m2.1 0h1m-0.3 0h1m-14.8 0.1h1m1.5 0h1m1.2 0h1m0.2 0h1m5.3 0h1m1.2 0h1m-14.7 0.1h1m-0.8 0h1m5.5 0h1m-0.7 0h1m-0.3 0h1m-9.5 0.1h1m1.5 0h1m-0.8 0h1m4.5 0h1m2.1 0h1m-16.6 0.1h1m3.5 0h1m1.3 0h1m-0.2 0h1m5.3 0h1m-0.9 0h1m1.1 0h1m-8.9 0.1h1m0.5 0h1m-1 0h1m-0.9 0h1m1.6 0h1m-0.3 0h1m0 0h1m-1 0h1m0 0h1m-1 0h1m0 0h1m-12.7 0.1h1m0.1 0h1m1.9 0h1m0.6 0h1m3.6 0h1m-0.8 0h1m-12.7 0.1h1m3.2 0h1m0.4 0h1m0.3 0h1m-0.2 0h1m0.2 0h1m0.6 0h1m0.1 0h1m5.6 0h1m1.3 0h1m-12.2 0.1h1m-0.6 0h1m0.8 0h1m5.9 0h1m0.2 0h1m-17.6 0.1h1m2.5 0h1m3.5 0h1m-9.5 0.1h1m3.8 0h1m-0.6 0h1m3 0h1m-0.5 0h1m-0.2 0h1m2 0h1m0.8 0h1m-21.2 0.1h1m3.9 0h1m4.1 0h1m0.9 0h1m-0.3 0h1m-0.2 0h1m-0.5 0h1m-0.8 0h1m0.5 0h1m-13.5 0.1h1m6.6 0h1m-0.2 0h1m-0.7 0h1m2.4 0h1m-16.6 0.1h1m4.8 0h1m0.7 0h1m-0.4 0h1m-0.6 0h1m-0.7 0h1m5 0h1m-0.3 0h1m-10.7 0.1h1m1.4 0h1m1.4 0h1m1.6 0h1m4.4 0h1m-12.5 0.1h1m0.7 0h1m-0.9 0h1m2.9 0h1m1.5 0h1m2.2 0h1m1.8 0h1m-15.9 0.1h1m-0.5 0h1m3.4 0h1m-0.2 0h1m0.1 0h1m3.4 0h1m-7.4 0.1h1m-11.6 0.1h1m9 0h1m0.8 0h1m-7.4 0.1h1m0.4 0h1m6.4 0h1m3 0h1m-18.8 0.1h1m4.4 0h1m1.1 0h1m-0.9 0h1m-0.9 0h1m-0.6 0h1m1 0h1m-0.4 0h1m0.9 0h1m-6.2 0.1h1m-0.6 0h1m1.7 0h1m2.9 0h1m2 0h1m-14.5 0.1h1m5.8 0h1m-0.7 0h1m1 0h1m1.4 0h1m-8.2 0.1h1m-9.2 0.1h1m-0.3 0h1m6.4 0h1m-0.9 0h1m-0.8 0h1m0.9 0h1m1.4 0h1m-10 0.1h1m1 0h1m-0.9 0h1m5.5 0h1m4.5 0h1m-16.1 0.1h1m-0.8 0h1m1.1 0h1m-0.3 0h1m4.2 0h1m-10.5 0.1h1m2.1 0h1m4.4 0h1m2.7 0h1m-1 0h1m-11.7 0.1h1m4.7 0h1m1.6 0h1m-13.9 0.1h1m4.4 0h1m-0.2 0h1m2.3 0h1m-0.4 0h1m1.5 0h1m0.9 0h1m4.9 0h1m-12 0.1h1m1.2 0.2h1m2.1 0.1h1m-0.1 0h1m-4.8 0.1h1m-1 0h1m-0.5 0h1m1.5 0h1m0 0h1m-6.5 0.1h1m3.6 0h1m-12.2 0.1h1m3.1 0h1m-0.5 0h1m-0.6 0h1m0.9 0h1m1 0h1m5.5 0h1m-17.1 0.1h1m13.2 0h1m-13.2 0.1h1m-0.1 0h1m2.6 0h1m0.4 0h1m-7.1 0.1h1m1.4 0h1m-0.8 0h1m-0.5 0h1m0.2 0h1m0.6 0h1m1.7 0h1m6.7 0h1m-0.6 0h1m-19.5 0.1h1m5.2 0h1m-0.1 0h1m2.7 0h1m-0.3 0h1m4.6 0h1m-16.8 0.1h1m3.1 0h1m0.2 0h1m0.4 0h1m0.3 0h1m1.6 0h1m-0.3 0h1m-8.8 0.1h1m2.5 0h1m-0.2 0h1m-0.7 0h1m0 0h1m-0.9 0h1m-3.9 0.2h1m-0.9 0h1m-1 0h1m5.9 0h1m-12.2 0.1h1m3.6 0h1m-0.9 0h1m1.9 0h1m-14.2 0.1h1m11.4 0h1m-6.2 0.1h1m0.2 0h1m-0.9 0h1m2.1 0h1m-7.2 0.1h1m3.2 0h1m-0.8 0h1m2.2 0h1m0.7 0h1m-14 0.1h1m1.3 0h1m-0.4 0h1m6.4 0h1m0.3 0h1m-7.6 0.1h1m-0.1 0h1m-0.7 0h1m0.6 0h1m8.1 0h1m-0.3 0h1m-10.9 0.1h1m-0.1 0h1m5 0h1m-14.5 0.2h1m-0.5 0h1m14.1 0h1m0.8 0h1m-10.4 0.1h1m-0.4 0h1m1.1 0h1m1.1 0h1m-15.2 0.1h1m7 0h1m-0.6 0h1m3 0h1m-8 0.1h1m2.1 0.1h1m5.7 0h1m-13.2 0.1h1m6.9 0h1m-12.7 0.1h1m3.6 0h1m0.9 0h1m-0.6 0h1m-0.8 0h1m2 0.1h1m-5.1 0.1h1m-0.2 0h1m6.7 0h1m-0.4 0h1m-0.8 0h1m-1.6 0.1h1m0.4 0h1m-18.7 0.1h1m5.2 0h1m6.7 0h1m-0.3 0h1m0.8 0h1m-7.3 0.1h1m4.8 0h1m1.4 0h1m-11.2 0.1h1m-0.1 0h1m-0.4 0.1h1m5.3 0h1m-6.5 0.1h1m0.9 0h1m-10.7 0.1h1m6 0h1m2.3 0.1h1m-0.6 0h1m-5.7 0.1h1m1 0.1h1m3.7 0h1m-1 0h1m3.4 0h1m-13 0.1h1m6.2 0h1m-13 0.1h1m5.1 0h1m2.7 0h1m1.1 0h1m1.1 0h1m-11.9 0.1h1m2.9 0h1m1.6 0h1m-2.6 0.1h1m-0.8 0h1m-0.7 0h1m3.9 0h1m-18.2 0.1h1m7.6 0h1m-0.8 0h1m1.1 0h1m0.1 0h1m-8.1 0.1h1m-3.7 0.1h1m10.1 0h1m-1 0h1m-2.8 0.1h1m-0.2 0h1m-4.6 0.1h1m1.8 0h1m2.8 0h1m-4.3 0.1h1m0.1 0h1m0.5 0h1m2.3 0h1m-3.1 0.2h1m-0.2 0h1m-11.2 0.1h1m3.9 0h1m7.6 0h1m-9.6 0.1h1m9.5 0h1m-15.4 0.1h1m2.1 0h1m1.7 0h1m-5.3 0.1h1m4.8 0.1h1m0.5 0h1m-1.4 0.1h1m-6.7 0.2h1m5.1 0h1m-11 0.1h1m7.7 0.2h1m0.9 0.1h1m-2.5 0.1h1m-10.6 0.1h1m5.7 0h1m-2.2 0.1h1m0.4 0h1m-4.8 0.2h1m-3.8 0.1h1m7.6 0h1m4.4 0.1h1m-5.5 0.1h1m-6.2 0.3h1m-3.8 0.1h1m1.3 0h1m-6 0.1h1m6.5 0h1m-11.4 0.2h1m13.2 0h1m-8.1 0.1h1m-3.5 0.3h1m5.8 0.1h1m2.8 0h1m-5.3 0.2h1m5.1 0h1m-5.7 0.1h1m-1.9 0.2h1m0.5 0.2h1m-4.7 0.1h1m3.7 0.1h1m4.1 0.1h1m-8.6 0.1h1m1.5 0.2h1m-0.2 0.8h1m4.9 0.2h1m-9.4 0.8h1m-3.4 0.3h1m-4.4 1h1" stroke="#000" stroke-width="1" fill="none" opacity="1.0"/>
<text x="4.3" y="22.0" font-size="25.5" text-anchor="start" font-weight="bold" fill="#000" textLength="18.2" lengthAdjust="spacingAndGlyphs" stroke="#000" stroke-width="0.4">A</text>
<text x="141.8" y="10.3" font-size="13" text-anchor="middle" font-weight="normal" fill="#000" class="b" >Iso</text>
<text x="258.8" y="10.3" font-size="13" text-anchor="middle" font-weight="normal" fill="#000" class="b" >Thy1</text>
<text x="373.6" y="10.3" font-size="13" text-anchor="middle" font-weight="normal" fill="#000" class="b" >B220</text>
<rect x="85.5" y="23.2" width="112.9" height="111.8" fill="none" stroke="#606060" stroke-width="1.15"/>
<rect x="203.9" y="23.2" width="112.5" height="111.8" fill="none" stroke="#606060" stroke-width="1.15"/>
<rect x="322.4" y="23.2" width="112.4" height="111.8" fill="none" stroke="#606060" stroke-width="1.15"/>
<rect x="85.5" y="141.3" width="112.9" height="111.0" fill="none" stroke="#606060" stroke-width="1.15"/>
<rect x="203.9" y="141.3" width="112.5" height="111.0" fill="none" stroke="#606060" stroke-width="1.15"/>
<rect x="322.4" y="141.3" width="112.4" height="111.0" fill="none" stroke="#606060" stroke-width="1.15"/>
<rect x="85.5" y="259.3" width="112.9" height="111.5" fill="none" stroke="#606060" stroke-width="1.15"/>
<rect x="203.9" y="259.3" width="112.5" height="111.5" fill="none" stroke="#606060" stroke-width="1.15"/>
<rect x="322.4" y="259.3" width="112.4" height="111.5" fill="none" stroke="#606060" stroke-width="1.15"/>
<rect x="85.5" y="378.0" width="112.9" height="111.7" fill="none" stroke="#606060" stroke-width="1.15"/>
<rect x="203.9" y="378.0" width="112.5" height="111.7" fill="none" stroke="#606060" stroke-width="1.15"/>
<rect x="322.4" y="378.0" width="112.4" height="111.7" fill="none" stroke="#606060" stroke-width="1.15"/>
<text x="71.0" y="31.0" font-size="7" fill="#222">10<tspan dx="0.3" dy="-4.2" font-size="6.3">4</tspan></text>
<text x="71.0" y="56.6" font-size="7" fill="#222">10<tspan dx="0.3" dy="-4.2" font-size="6.3">3</tspan></text>
<text x="71.0" y="82.2" font-size="7" fill="#222">10<tspan dx="0.3" dy="-4.2" font-size="6.3">2</tspan></text>
<text x="71.0" y="107.4" font-size="7" fill="#222">10<tspan dx="0.3" dy="-4.2" font-size="6.3">1</tspan></text>
<text x="71.0" y="134.2" font-size="7" fill="#222">10<tspan dx="0.3" dy="-4.2" font-size="6.3">0</tspan></text>
<text x="70.2" y="154.5" font-size="7" fill="#222">10<tspan dx="0.3" dy="-4.2" font-size="6.3">4</tspan></text>
<text x="70.2" y="180.2" font-size="7" fill="#222">10<tspan dx="0.3" dy="-4.2" font-size="6.3">3</tspan></text>
<text x="70.2" y="206.0" font-size="7" fill="#222">10<tspan dx="0.3" dy="-4.2" font-size="6.3">2</tspan></text>
<text x="70.2" y="231.0" font-size="7" fill="#222">10<tspan dx="0.3" dy="-4.2" font-size="6.3">1</tspan></text>
<text x="70.2" y="257.4" font-size="7" fill="#222">10<tspan dx="0.3" dy="-4.2" font-size="6.3">0</tspan></text>
<text x="70.0" y="272.2" font-size="7" fill="#222">10<tspan dx="0.3" dy="-4.2" font-size="6.3">4</tspan></text>
<text x="70.0" y="298.7" font-size="7" fill="#222">10<tspan dx="0.3" dy="-4.2" font-size="6.3">3</tspan></text>
<text x="70.0" y="325.1" font-size="7" fill="#222">10<tspan dx="0.3" dy="-4.2" font-size="6.3">2</tspan></text>
<text x="70.0" y="350.1" font-size="7" fill="#222">10<tspan dx="0.3" dy="-4.2" font-size="6.3">1</tspan></text>
<text x="70.0" y="375.1" font-size="7" fill="#222">10<tspan dx="0.3" dy="-4.2" font-size="6.3">0</tspan></text>
<text x="68.8" y="392.0" font-size="7" fill="#222">10<tspan dx="0.3" dy="-4.2" font-size="6.3">4</tspan></text>
<text x="68.8" y="419.1" font-size="7" fill="#222">10<tspan dx="0.3" dy="-4.2" font-size="6.3">3</tspan></text>
<text x="68.8" y="444.8" font-size="7" fill="#222">10<tspan dx="0.3" dy="-4.2" font-size="6.3">2</tspan></text>
<text x="68.8" y="469.1" font-size="7" fill="#222">10<tspan dx="0.3" dy="-4.2" font-size="6.3">1</tspan></text>
<text x="68.8" y="494.4" font-size="7" fill="#222">10<tspan dx="0.3" dy="-4.2" font-size="6.3">0</tspan></text>
<text x="86.7" y="510.7" font-size="7" fill="#222">10<tspan dx="0.3" dy="-4.2" font-size="6.3">0</tspan></text>
<text x="112.3" y="510.7" font-size="7" fill="#222">10<tspan dx="0.3" dy="-4.2" font-size="6.3">1</tspan></text>
<text x="137.9" y="510.7" font-size="7" fill="#222">10<tspan dx="0.3" dy="-4.2" font-size="6.3">2</tspan></text>
<text x="163.5" y="510.7" font-size="7" fill="#222">10<tspan dx="0.3" dy="-4.2" font-size="6.3">3</tspan></text>
<text x="189.1" y="510.7" font-size="7" fill="#222">10<tspan dx="0.3" dy="-4.2" font-size="6.3">4</tspan></text>
<text x="205.8" y="510.7" font-size="7" fill="#222">10<tspan dx="0.3" dy="-4.2" font-size="6.3">0</tspan></text>
<text x="231.4" y="510.7" font-size="7" fill="#222">10<tspan dx="0.3" dy="-4.2" font-size="6.3">1</tspan></text>
<text x="257.0" y="510.7" font-size="7" fill="#222">10<tspan dx="0.3" dy="-4.2" font-size="6.3">2</tspan></text>
<text x="282.6" y="510.7" font-size="7" fill="#222">10<tspan dx="0.3" dy="-4.2" font-size="6.3">3</tspan></text>
<text x="308.2" y="510.7" font-size="7" fill="#222">10<tspan dx="0.3" dy="-4.2" font-size="6.3">4</tspan></text>
<text x="323.8" y="510.7" font-size="7" fill="#222">10<tspan dx="0.3" dy="-4.2" font-size="6.3">0</tspan></text>
<text x="349.4" y="510.7" font-size="7" fill="#222">10<tspan dx="0.3" dy="-4.2" font-size="6.3">1</tspan></text>
<text x="375.0" y="510.7" font-size="7" fill="#222">10<tspan dx="0.3" dy="-4.2" font-size="6.3">2</tspan></text>
<text x="400.6" y="510.7" font-size="7" fill="#222">10<tspan dx="0.3" dy="-4.2" font-size="6.3">3</tspan></text>
<text x="426.2" y="510.7" font-size="7" fill="#222">10<tspan dx="0.3" dy="-4.2" font-size="6.3">4</tspan></text>
<text transform="translate(464.0,83.4) rotate(-90)" x="0" y="0" font-size="13.6" text-anchor="middle" class="b">PB</text>
<text transform="translate(464.0,195.5) rotate(-90)" x="0" y="0" font-size="13.6" text-anchor="middle" class="b">Peyer’s patch</text>
<text transform="translate(464.0,318.8) rotate(-90)" x="0" y="0" font-size="13.6" text-anchor="middle" class="b">spleen</text>
<text transform="translate(464.0,437.4) rotate(-90)" x="0" y="0" font-size="13.6" text-anchor="middle" class="b">bone marrow</text>
<text transform="translate(56.8,278.9) rotate(-90)" font-size="13" text-anchor="middle" class="b">GFP</text>
<path d="M51.8 74.5V246M51.8 303.2V474" stroke="#000" stroke-width="2"/>
<path d="M51.8 65.5L56.2 75.2L47.4 75.2Z" fill="#000"/>
<text x="0.9" y="548.9" font-size="25.2" text-anchor="start" font-weight="bold" fill="#000" textLength="16.6" lengthAdjust="spacingAndGlyphs" stroke="#000" stroke-width="0.4">B</text>
<text x="150.0" y="552.5" font-size="13" text-anchor="middle" font-weight="normal" fill="#000" class="b" textLength="129" lengthAdjust="spacingAndGlyphs">normal Balb/c Spleen</text>
<text x="395.5" y="552.4" font-size="13" text-anchor="middle" font-weight="normal" fill="#000" class="b" textLength="130.5" lengthAdjust="spacingAndGlyphs">normal Balb/c thymus</text>
<text x="152.3" y="693.2" font-size="13" text-anchor="middle" font-weight="normal" fill="#000" class="b" textLength="175" lengthAdjust="spacingAndGlyphs">ZNF198-FGFR1 BMT spleen</text>
<text x="401.3" y="694.1" font-size="13" text-anchor="middle" font-weight="normal" fill="#000" class="b" textLength="151.5" lengthAdjust="spacingAndGlyphs">ZNF198-FGFR1 BMT LN</text>
<rect x="44.2" y="582.4" width="75.5" height="75.6" fill="none" stroke="#444" stroke-width="1.0"/>
<path d="M31.5 567.6H129.5V666.1" fill="none" stroke="#666" stroke-width="1.1"/>
<path d="M31.5 567.1V666.1H130.0" fill="none" stroke="#111" stroke-width="1.6"/>
<rect x="44.2" y="723.2" width="75.5" height="79.1" fill="none" stroke="#444" stroke-width="1.0"/>
<path d="M31.5 707.0H130.3V810.0" fill="none" stroke="#666" stroke-width="1.1"/>
<path d="M31.5 706.5V810.0H130.8" fill="none" stroke="#111" stroke-width="1.6"/>
<rect x="350.4" y="585.9" width="27.0" height="28.3" fill="none" stroke="#333" stroke-width="1.0"/>
<path d="M297.5 568.5H394.7V664.3" fill="none" stroke="#666" stroke-width="1.1"/>
<path d="M297.5 568.0V664.3H395.2" fill="none" stroke="#111" stroke-width="1.6"/>
<rect x="353.4" y="723.2" width="28.1" height="25.3" fill="none" stroke="#333" stroke-width="1.0"/>
<path d="M295.2 708.2H394.7V810.4" fill="none" stroke="#666" stroke-width="1.1"/>
<path d="M295.2 707.7V810.4H395.2" fill="none" stroke="#111" stroke-width="1.6"/>
<path d="M383.9 600.3H397.5" stroke="#000" stroke-width="1.4"/>
<path d="M404.5 600.3L396.5 596.6999999999999L396.5 603.9Z" fill="#000"/>
<path d="M382.7 738.9H397.5" stroke="#000" stroke-width="1.4"/>
<path d="M404.5 738.9L396.5 735.3L396.5 742.5Z" fill="#000"/>
<path d="M145.4 566.4H252.5V665.1" fill="none" stroke="#666" stroke-width="1.1"/>
<path d="M145.4 565.9V665.1H253.0" fill="none" stroke="#111" stroke-width="1.6"/>
<path d="M145.6 664.0 L145.8 576.0 L146.6 630.0 L147.4 605.0 L148.2 588.0 L149.0 581.0 L150.0 578.0 L150.8 568.0 L151.4 568.0 L151.6 578.0 L152.3 582.0 L152.6 600.0 L153.0 610.0 L153.4 590.0 L154.0 586.0 L154.6 586.0 L155.0 608.0 L155.5 590.0 L156.2 600.0 L156.7 623.5 L157.9 638.9 L159.2 649.2 L160.5 653.0 L163.1 654.3 L168.2 655.6 L170.8 657.5 L173.3 659.4 L175.9 662.0 L178.5 662.6 L183.6 663.9 L191.3 664.6 L200.0 665.0" fill="none" stroke="#666" stroke-width="1.6" stroke-linejoin="round"/>
<path d="M145.5 704.3H254.6V810.5" fill="none" stroke="#666" stroke-width="1.1"/>
<path d="M145.5 703.8V810.5H255.1" fill="none" stroke="#111" stroke-width="1.6"/>
<path d="M158.8 810.0 L160.0 806.0 L163.0 803.5 L167.5 802.5 L172.0 804.0 L176.0 807.0 L178.8 808.0 L185.0 808.5 L190.0 808.5 L195.0 807.5 L200.0 805.0 L205.0 801.0 L208.8 797.0 L212.0 792.0 L215.0 785.0 L218.0 775.0 L220.0 765.0 L222.0 752.0 L223.8 740.0 L225.0 727.0 L226.2 715.0 L228.2 704.8 L230.0 715.0 L231.0 727.0 L232.5 745.0 L233.7 765.0 L235.0 780.0 L237.0 790.0 L238.8 795.0 L241.2 802.0 L243.0 810.0" fill="none" stroke="#666" stroke-width="1.5" stroke-linejoin="round"/>
<path d="M413.3 568.4H515.0V661.9" fill="none" stroke="#666" stroke-width="1.1"/>
<path d="M413.3 567.9V661.9H515.5" fill="none" stroke="#111" stroke-width="1.6"/>
<path d="M418.5 568.6 L419.7 582.8 L420.9 600.6 L422.1 618.4 L422.9 636.3 L423.6 647.0 L425.1 644.6 L426.3 644.0 L427.4 648.1 L429.0 649.6 L430.4 647.5 L431.6 644.0 L433.4 641.0 L434.6 636.3 L435.2 631.5 L436.3 629.1 L436.9 632.7 L438.1 624.4 L439.1 617.3 L439.9 614.9 L440.5 619.6 L441.1 620.8 L442.3 612.5 L443.5 608.9 L444.7 606.6 L445.8 603.0 L447.0 599.4 L448.2 595.9 L449.4 598.8 L450.6 601.8 L451.8 604.2 L453.0 610.1 L454.2 618.4 L455.3 626.8 L456.5 636.3 L457.7 644.6 L459.5 652.9 L461.3 658.2 L463.1 660.0 L465.4 661.0 L469.0 661.4 L480.0 661.7" fill="none" stroke="#000" stroke-width="1.1" stroke-linejoin="round"/>
<path d="M435.2 631.5 L436.3 629.1 L436.9 632.7 L438.1 624.4 L439.1 617.3 L439.9 614.9 L440.5 619.6 L441.1 620.8 L442.3 612.5 L443.5 608.9 L444.7 606.6 L445.8 603.0 L447.0 599.4 L448.2 595.9 L449.4 598.8 L450.6 601.8 L451.8 604.2 L453.0 610.1 L454.2 618.4" fill="none" stroke="#000" stroke-width="1.9" stroke-linejoin="round"/>
<path d="M409.7 707.5H515.3V808.7" fill="none" stroke="#666" stroke-width="1.1"/>
<path d="M409.7 707.0V808.7H515.8" fill="none" stroke="#111" stroke-width="1.6"/>
<path d="M465.5 808.7 L468.1 802.7 L473.3 797.5 L478.5 785.9 L482.4 772.9 L485.0 754.7 L487.5 728.7 L489.6 709.3 L491.4 718.4 L493.5 746.9 L495.3 778.1 L497.9 796.2 L501.8 805.3 L504.4 808.7" fill="none" stroke="#555" stroke-width="1.6" stroke-linejoin="round"/>
<text x="20.8" y="571.7" font-size="5" fill="#555">10<tspan dx="0.3" dy="-3.0" font-size="4">4</tspan></text>
<text x="20.8" y="596.0" font-size="5" fill="#555">10<tspan dx="0.3" dy="-3.0" font-size="4">3</tspan></text>
<text x="20.8" y="620.3" font-size="5" fill="#555">10<tspan dx="0.3" dy="-3.0" font-size="4">2</tspan></text>
<text x="20.8" y="644.6" font-size="5" fill="#555">10<tspan dx="0.3" dy="-3.0" font-size="4">1</tspan></text>
<text x="20.8" y="668.7" font-size="5" fill="#555">10<tspan dx="0.3" dy="-3.0" font-size="4">0</tspan></text>
<text x="26.4" y="676.0" font-size="5" fill="#555">10<tspan dx="0.3" dy="-3.0" font-size="4">0</tspan></text>
<text x="50.6" y="676.0" font-size="5" fill="#555">10<tspan dx="0.3" dy="-3.0" font-size="4">1</tspan></text>
<text x="74.9" y="676.0" font-size="5" fill="#555">10<tspan dx="0.3" dy="-3.0" font-size="4">2</tspan></text>
<text x="99.0" y="676.0" font-size="5" fill="#555">10<tspan dx="0.3" dy="-3.0" font-size="4">3</tspan></text>
<text x="123.4" y="676.0" font-size="5" fill="#555">10<tspan dx="0.3" dy="-3.0" font-size="4">4</tspan></text>
<text x="20.8" y="711.0" font-size="5" fill="#555">10<tspan dx="0.3" dy="-3.0" font-size="4">4</tspan></text>
<text x="20.8" y="736.4" font-size="5" fill="#555">10<tspan dx="0.3" dy="-3.0" font-size="4">3</tspan></text>
<text x="20.8" y="762.5" font-size="5" fill="#555">10<tspan dx="0.3" dy="-3.0" font-size="4">2</tspan></text>
<text x="20.8" y="787.9" font-size="5" fill="#555">10<tspan dx="0.3" dy="-3.0" font-size="4">1</tspan></text>
<text x="20.8" y="811.5" font-size="5" fill="#555">10<tspan dx="0.3" dy="-3.0" font-size="4">0</tspan></text>
<text x="27.0" y="820.7" font-size="5" fill="#555">10<tspan dx="0.3" dy="-3.0" font-size="4">0</tspan></text>
<text x="51.0" y="820.7" font-size="5" fill="#555">10<tspan dx="0.3" dy="-3.0" font-size="4">1</tspan></text>
<text x="75.0" y="820.7" font-size="5" fill="#555">10<tspan dx="0.3" dy="-3.0" font-size="4">2</tspan></text>
<text x="101.0" y="820.7" font-size="5" fill="#555">10<tspan dx="0.3" dy="-3.0" font-size="4">3</tspan></text>
<text x="125.0" y="820.7" font-size="5" fill="#555">10<tspan dx="0.3" dy="-3.0" font-size="4">4</tspan></text>
<text x="143.3" y="568.8" font-size="5.5" text-anchor="end" font-weight="normal" fill="#555" >79</text>
<text x="143.3" y="593.0" font-size="5.5" text-anchor="end" font-weight="normal" fill="#555" >59</text>
<text x="143.3" y="618.0" font-size="5.5" text-anchor="end" font-weight="normal" fill="#555" >40</text>
<text x="143.3" y="641.8" font-size="5.5" text-anchor="end" font-weight="normal" fill="#555" >20</text>
<text x="143.3" y="666.8" font-size="5.5" text-anchor="end" font-weight="normal" fill="#555" >0</text>
<text x="139.7" y="675.7" font-size="5" fill="#555">10<tspan dx="0.3" dy="-3.0" font-size="4">0</tspan></text>
<text x="167.0" y="675.7" font-size="5" fill="#555">10<tspan dx="0.3" dy="-3.0" font-size="4">1</tspan></text>
<text x="192.0" y="675.7" font-size="5" fill="#555">10<tspan dx="0.3" dy="-3.0" font-size="4">2</tspan></text>
<text x="220.0" y="675.7" font-size="5" fill="#555">10<tspan dx="0.3" dy="-3.0" font-size="4">3</tspan></text>
<text x="245.0" y="675.7" font-size="5" fill="#555">10<tspan dx="0.3" dy="-3.0" font-size="4">4</tspan></text>
<text x="143.3" y="706.8" font-size="5.5" text-anchor="end" font-weight="normal" fill="#555" >64</text>
<text x="143.3" y="731.8" font-size="5.5" text-anchor="end" font-weight="normal" fill="#555" >48</text>
<text x="143.3" y="759.3" font-size="5.5" text-anchor="end" font-weight="normal" fill="#555" >32</text>
<text x="143.3" y="784.8" font-size="5.5" text-anchor="end" font-weight="normal" fill="#555" >16</text>
<text x="143.3" y="811.8" font-size="5.5" text-anchor="end" font-weight="normal" fill="#555" >0</text>
<text x="141.0" y="820.7" font-size="5" fill="#555">10<tspan dx="0.3" dy="-3.0" font-size="4">0</tspan></text>
<text x="168.0" y="820.7" font-size="5" fill="#555">10<tspan dx="0.3" dy="-3.0" font-size="4">1</tspan></text>
<text x="195.0" y="820.7" font-size="5" fill="#555">10<tspan dx="0.3" dy="-3.0" font-size="4">2</tspan></text>
<text x="219.5" y="820.7" font-size="5" fill="#555">10<tspan dx="0.3" dy="-3.0" font-size="4">3</tspan></text>
<text x="246.0" y="820.7" font-size="5" fill="#555">10<tspan dx="0.3" dy="-3.0" font-size="4">4</tspan></text>
<text x="284.3" y="571.7" font-size="5" fill="#555">10<tspan dx="0.3" dy="-3.0" font-size="4">5</tspan></text>
<text x="284.3" y="595.9" font-size="5" fill="#555">10<tspan dx="0.3" dy="-3.0" font-size="4">4</tspan></text>
<text x="284.3" y="619.4" font-size="5" fill="#555">10<tspan dx="0.3" dy="-3.0" font-size="4">3</tspan></text>
<text x="284.3" y="643.7" font-size="5" fill="#555">10<tspan dx="0.3" dy="-3.0" font-size="4">2</tspan></text>
<text x="284.3" y="667.9" font-size="5" fill="#555">10<tspan dx="0.3" dy="-3.0" font-size="4">1</tspan></text>
<text x="291.0" y="676.4" font-size="5" fill="#555">10<tspan dx="0.3" dy="-3.0" font-size="4">1</tspan></text>
<text x="315.0" y="676.4" font-size="5" fill="#555">10<tspan dx="0.3" dy="-3.0" font-size="4">2</tspan></text>
<text x="339.5" y="676.4" font-size="5" fill="#555">10<tspan dx="0.3" dy="-3.0" font-size="4">3</tspan></text>
<text x="363.7" y="676.4" font-size="5" fill="#555">10<tspan dx="0.3" dy="-3.0" font-size="4">4</tspan></text>
<text x="388.4" y="676.4" font-size="5" fill="#555">10<tspan dx="0.3" dy="-3.0" font-size="4">5</tspan></text>
<text x="284.3" y="711.0" font-size="5" fill="#555">10<tspan dx="0.3" dy="-3.0" font-size="4">4</tspan></text>
<text x="284.3" y="737.1" font-size="5" fill="#555">10<tspan dx="0.3" dy="-3.0" font-size="4">3</tspan></text>
<text x="284.3" y="763.7" font-size="5" fill="#555">10<tspan dx="0.3" dy="-3.0" font-size="4">2</tspan></text>
<text x="284.3" y="789.1" font-size="5" fill="#555">10<tspan dx="0.3" dy="-3.0" font-size="4">1</tspan></text>
<text x="284.3" y="814.4" font-size="5" fill="#555">10<tspan dx="0.3" dy="-3.0" font-size="4">0</tspan></text>
<text x="289.0" y="822.5" font-size="5" fill="#555">10<tspan dx="0.3" dy="-3.0" font-size="4">0</tspan></text>
<text x="314.0" y="822.5" font-size="5" fill="#555">10<tspan dx="0.3" dy="-3.0" font-size="4">1</tspan></text>
<text x="339.0" y="822.5" font-size="5" fill="#555">10<tspan dx="0.3" dy="-3.0" font-size="4">2</tspan></text>
<text x="364.0" y="822.5" font-size="5" fill="#555">10<tspan dx="0.3" dy="-3.0" font-size="4">3</tspan></text>
<text x="389.0" y="822.5" font-size="5" fill="#555">10<tspan dx="0.3" dy="-3.0" font-size="4">4</tspan></text>
<text x="410.0" y="569.8" font-size="5.5" text-anchor="end" font-weight="normal" fill="#555" >17</text>
<text x="410.0" y="594.3" font-size="5.5" text-anchor="end" font-weight="normal" fill="#555" >13</text>
<text x="410.0" y="616.8" font-size="5.5" text-anchor="end" font-weight="normal" fill="#555" >9</text>
<text x="410.0" y="641.0" font-size="5.5" text-anchor="end" font-weight="normal" fill="#555" >4</text>
<text x="410.0" y="664.3" font-size="5.5" text-anchor="end" font-weight="normal" fill="#555" >0</text>
<text x="407.0" y="675.9" font-size="5" fill="#555">10<tspan dx="0.3" dy="-3.0" font-size="4">0</tspan></text>
<text x="433.0" y="675.9" font-size="5" fill="#555">10<tspan dx="0.3" dy="-3.0" font-size="4">1</tspan></text>
<text x="458.9" y="675.9" font-size="5" fill="#555">10<tspan dx="0.3" dy="-3.0" font-size="4">2</tspan></text>
<text x="484.8" y="675.9" font-size="5" fill="#555">10<tspan dx="0.3" dy="-3.0" font-size="4">3</tspan></text>
<text x="509.5" y="675.9" font-size="5" fill="#555">10<tspan dx="0.3" dy="-3.0" font-size="4">4</tspan></text>
<text x="406.0" y="708.8" font-size="5.5" text-anchor="end" font-weight="normal" fill="#555" >78</text>
<text x="406.0" y="735.2" font-size="5.5" text-anchor="end" font-weight="normal" fill="#555" >59</text>
<text x="406.0" y="760.4" font-size="5.5" text-anchor="end" font-weight="normal" fill="#555" >39</text>
<text x="406.0" y="785.6" font-size="5.5" text-anchor="end" font-weight="normal" fill="#555" >20</text>
<text x="406.0" y="810.5" font-size="5.5" text-anchor="end" font-weight="normal" fill="#555" >0</text>
<text x="404.4" y="820.7" font-size="5" fill="#555">10<tspan dx="0.3" dy="-3.0" font-size="4">0</tspan></text>
<text x="430.3" y="820.7" font-size="5" fill="#555">10<tspan dx="0.3" dy="-3.0" font-size="4">1</tspan></text>
<text x="457.6" y="820.7" font-size="5" fill="#555">10<tspan dx="0.3" dy="-3.0" font-size="4">2</tspan></text>
<text x="484.8" y="820.7" font-size="5" fill="#555">10<tspan dx="0.3" dy="-3.0" font-size="4">3</tspan></text>
<text x="509.5" y="820.7" font-size="5" fill="#555">10<tspan dx="0.3" dy="-3.0" font-size="4">4</tspan></text>
<path d="M28.9 570.0H31.5M28.9 594.3H31.5M28.9 618.6H31.5M28.9 642.9H31.5M28.9 666.1H31.5M31.5 666.1V668.7M54.6 666.1V668.7M78.9 666.1V668.7M103.0 666.1V668.7M127.4 666.1V668.7" stroke="#666" stroke-width="0.8" fill="none"/>
<path d="M28.9 709.3H31.5M28.9 734.7H31.5M28.9 760.8H31.5M28.9 786.2H31.5M28.9 809.8H31.5M31.5 810.0V812.6M55.0 810.0V812.6M79.0 810.0V812.6M105.0 810.0V812.6M129.0 810.0V812.6" stroke="#666" stroke-width="0.8" fill="none"/>
<path d="M142.8 567.0H145.4M142.8 591.2H145.4M142.8 616.2H145.4M142.8 640.0H145.4M142.8 665.0H145.4M145.4 665.1V667.7M171.0 665.1V667.7M196.0 665.1V667.7M224.0 665.1V667.7M249.0 665.1V667.7" stroke="#666" stroke-width="0.8" fill="none"/>
<path d="M142.9 705.0H145.5M142.9 730.0H145.5M142.9 757.5H145.5M142.9 783.0H145.5M142.9 810.0H145.5M145.5 810.5V813.1M172.0 810.5V813.1M199.0 810.5V813.1M223.5 810.5V813.1M250.0 810.5V813.1" stroke="#666" stroke-width="0.8" fill="none"/>
<path d="M294.9 570.0H297.5M294.9 594.2H297.5M294.9 617.7H297.5M294.9 642.0H297.5M294.9 664.3H297.5M297.5 664.3V666.9M319.0 664.3V666.9M343.5 664.3V666.9M367.7 664.3V666.9M392.4 664.3V666.9" stroke="#666" stroke-width="0.8" fill="none"/>
<path d="M292.6 709.3H295.2M292.6 735.4H295.2M292.6 762.0H295.2M292.6 787.4H295.2M292.6 810.4H295.2M295.2 810.4V813.0M318.0 810.4V813.0M343.0 810.4V813.0M368.0 810.4V813.0M393.0 810.4V813.0" stroke="#666" stroke-width="0.8" fill="none"/>
<path d="M410.7 568.4H413.3M410.7 592.5H413.3M410.7 615.0H413.3M410.7 639.2H413.3M410.7 661.9H413.3M413.3 661.9V664.5M437.0 661.9V664.5M462.9 661.9V664.5M488.8 661.9V664.5M513.5 661.9V664.5" stroke="#666" stroke-width="0.8" fill="none"/>
<path d="M407.1 707.5H409.7M407.1 733.4H409.7M407.1 758.6H409.7M407.1 783.8H409.7M407.1 808.7H409.7M409.7 808.7V811.3M434.3 808.7V811.3M461.6 808.7V811.3M488.8 808.7V811.3M513.5 808.7V811.3" stroke="#666" stroke-width="0.8" fill="none"/>
<path d="M10.9 589V681.2M10.9 739.8V818" stroke="#000" stroke-width="2"/>
<path d="M10.9 581.2L15.2 590.2L6.6000000000000005 590.2Z" fill="#000"/>
<path d="M274.6 589V681.2M274.6 739.8V818" stroke="#000" stroke-width="2"/>
<path d="M274.6 581.2L278.90000000000003 590.2L270.3 590.2Z" fill="#000"/>
<text transform="translate(16.3,710) rotate(-90)" font-size="15" text-anchor="middle" class="b">CD8</text>
<text transform="translate(279.6,710.8) rotate(-90)" font-size="15" text-anchor="middle" class="b">CD8</text>
<path d="M26.9 835.4H56.3" stroke="#000" stroke-width="1.6"/>
<path d="M63.3 835.4L54.8 831.5L54.8 839.3Z" fill="#000"/>
<path d="M299.8 833.2H325.7" stroke="#000" stroke-width="1.6"/>
<path d="M332.7 833.2L324.2 829.3000000000001L324.2 837.1Z" fill="#000"/>
<text x="76.0" y="839.7" font-size="14" text-anchor="start" font-weight="normal" fill="#000" class="b" >CD4</text>
<text x="340.5" y="837.7" font-size="14" text-anchor="start" font-weight="normal" fill="#000" class="b" >CD4</text>
<text x="178.3" y="839.8" font-size="14" text-anchor="start" font-weight="normal" fill="#000" class="b" >CD25</text>
<text x="449.7" y="837.8" font-size="14" text-anchor="start" font-weight="normal" fill="#000" class="b" >CD25</text>
</svg></body></html>
